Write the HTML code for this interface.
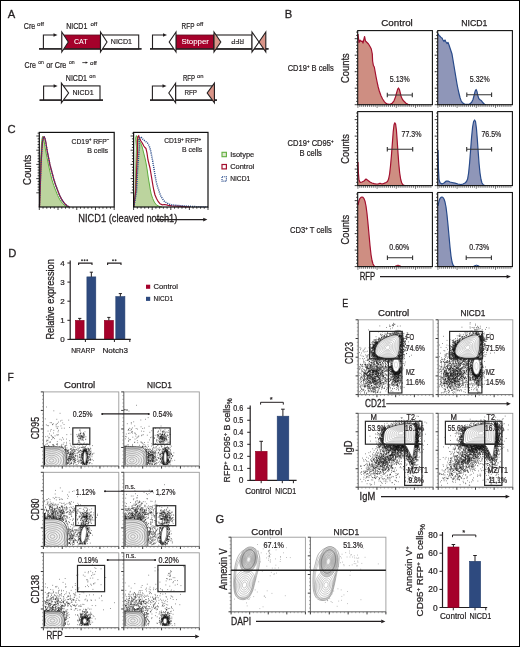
<!DOCTYPE html>
<html><head><meta charset="utf-8"><style>
html,body{margin:0;padding:0;background:#fff;}
svg{display:block;will-change:transform;}
text{font-family:"Liberation Sans",sans-serif;stroke-linejoin:round;}
</style></head><body>
<svg width="520" height="647" viewBox="0 0 520 647">
<rect width="520" height="647" fill="#fff"/>
<g fill="#231f20">
<rect x="0.5" y="0.5" width="519" height="646" fill="none" stroke="#000" stroke-width="1"/>
<text x="7.8" y="18" font-size="11.2" stroke="#231f20" stroke-width="0.29">A</text>
<text x="284.8" y="18" font-size="11.2" stroke="#231f20" stroke-width="0.29">B</text>
<text x="7.6" y="133.2" font-size="11.2" stroke="#231f20" stroke-width="0.29">C</text>
<text x="8.3" y="256.8" font-size="11.2" stroke="#231f20" stroke-width="0.29">D</text>
<text x="342.2" y="307" font-size="11.2" textLength="6" lengthAdjust="spacingAndGlyphs" stroke="#231f20" stroke-width="0.29">E</text>
<text x="7.4" y="380.9" font-size="11.2" textLength="6.3" lengthAdjust="spacingAndGlyphs" stroke="#231f20" stroke-width="0.29">F</text>
<text x="215.4" y="522.6" font-size="11.2" stroke="#231f20" stroke-width="0.29">G</text>
<text x="23.8" y="28.7" font-size="8.6" textLength="11.4" lengthAdjust="spacingAndGlyphs" stroke="#231f20" stroke-width="0.22">Cre</text>
<text x="37.1" y="25.6" font-size="6" textLength="6.8" lengthAdjust="spacingAndGlyphs" stroke="#231f20" stroke-width="0.16">off</text>
<text x="66.2" y="28.7" font-size="8.6" textLength="21.2" lengthAdjust="spacingAndGlyphs" stroke="#231f20" stroke-width="0.22">NICD1</text>
<text x="90.5" y="25.6" font-size="6" textLength="6.6" lengthAdjust="spacingAndGlyphs" stroke="#231f20" stroke-width="0.16">off</text>
<line x1="39" y1="48.9" x2="141.5" y2="48.9" stroke="#231f20" stroke-width="1.3"/>
<path d="M43.4 48.9V35H54.5" fill="none" stroke="#231f20" stroke-width="1.1"/>
<polygon points="57.5,35 53.5,33.3 53.5,36.7" fill="#231f20"/>
<rect x="62" y="35" width="38.5" height="13.9" fill="#a5012b" stroke="#5a1020" stroke-width="0.8"/>
<rect x="100.5" y="35" width="38.2" height="13.9" fill="#fff" stroke="#231f20" stroke-width="1.1"/>
<line x1="39" y1="48.9" x2="141.5" y2="48.9" stroke="#231f20" stroke-width="1.3"/>
<polygon points="61.8,32 68.3,42 61.8,52" fill="#fff" stroke="#231f20" stroke-width="1.1" stroke-linejoin="miter"/>
<polygon points="100.5,32 107,42 100.5,52" fill="#fff" stroke="#231f20" stroke-width="1.1" stroke-linejoin="miter"/>
<text x="80.8" y="44.4" font-size="7.8" text-anchor="middle" textLength="13.6" lengthAdjust="spacingAndGlyphs" fill="#fff" stroke="#fff" stroke-width="0.1">CAT</text>
<text x="110.8" y="44.4" font-size="7.8" textLength="21.2" lengthAdjust="spacingAndGlyphs" stroke="#231f20" stroke-width="0.2">NICD1</text>
<text x="181.6" y="28.6" font-size="8.6" textLength="12.8" lengthAdjust="spacingAndGlyphs" stroke="#231f20" stroke-width="0.22">RFP</text>
<text x="196.6" y="25.6" font-size="6" textLength="6.6" lengthAdjust="spacingAndGlyphs" stroke="#231f20" stroke-width="0.16">off</text>
<line x1="150" y1="48.9" x2="268.5" y2="48.9" stroke="#231f20" stroke-width="1.3"/>
<path d="M152.5 48.9V35H164" fill="none" stroke="#231f20" stroke-width="1.1"/>
<polygon points="167,35 163,33.3 163,36.7" fill="#231f20"/>
<rect x="176" y="35" width="38" height="13.9" fill="#a5012b" stroke="#5a1020" stroke-width="0.8"/>
<rect x="214" y="35" width="38" height="13.9" fill="#fff" stroke="#231f20" stroke-width="1.1"/>
<line x1="150" y1="48.9" x2="268.5" y2="48.9" stroke="#231f20" stroke-width="1.3"/>
<polygon points="176,32 169.2,42 176,52" fill="#fff" stroke="#231f20" stroke-width="1.1"/>
<polygon points="214,32 220.8,42 214,52" fill="#d99488" stroke="#231f20" stroke-width="1.1" stroke-linejoin="miter"/>
<text x="195.2" y="44.4" font-size="7.8" text-anchor="middle" textLength="27.6" lengthAdjust="spacingAndGlyphs" fill="#fff" stroke="#fff" stroke-width="0.1">Stopper</text>
<text transform="translate(237.6 39.4) rotate(180)" font-size="7.8" text-anchor="middle" textLength="12.8" lengthAdjust="spacingAndGlyphs" stroke="#231f20" stroke-width="0.2">RFP</text>
<polygon points="252,32 259,42 252,52" fill="#fff" stroke="#231f20" stroke-width="1.1"/>
<polygon points="265.8,32 259,42 265.8,52" fill="#d99488" stroke="#231f20" stroke-width="1.1"/>
<text x="24.6" y="68" font-size="8.6" textLength="11.4" lengthAdjust="spacingAndGlyphs" stroke="#231f20" stroke-width="0.22">Cre</text>
<text x="38.2" y="64.3" font-size="6" textLength="5.6" lengthAdjust="spacingAndGlyphs" stroke="#231f20" stroke-width="0.16">on</text>
<text x="46.2" y="68" font-size="8.6" textLength="20.2" lengthAdjust="spacingAndGlyphs" stroke="#231f20" stroke-width="0.22">or Cre</text>
<text x="68.9" y="64.3" font-size="6" textLength="5.7" lengthAdjust="spacingAndGlyphs" stroke="#231f20" stroke-width="0.16">on</text>
<line x1="82.3" y1="62.6" x2="86.2" y2="62.6" stroke="#231f20" stroke-width="0.8"/>
<polygon points="88,62.6 85.6,61.4 85.6,63.8" fill="#231f20"/>
<text x="90" y="64.5" font-size="6" textLength="6.8" lengthAdjust="spacingAndGlyphs" stroke="#231f20" stroke-width="0.16">off</text>
<text x="65.8" y="80.5" font-size="8.6" textLength="21.2" lengthAdjust="spacingAndGlyphs" stroke="#231f20" stroke-width="0.22">NICD1</text>
<text x="89.3" y="77.5" font-size="6" textLength="6.3" lengthAdjust="spacingAndGlyphs" stroke="#231f20" stroke-width="0.16">on</text>
<line x1="39.6" y1="100.1" x2="103" y2="100.1" stroke="#231f20" stroke-width="1.3"/>
<path d="M43.6 100.1V86H54.6" fill="none" stroke="#231f20" stroke-width="1.1"/>
<polygon points="57.6,86 53.6,84.3 53.6,87.7" fill="#231f20"/>
<rect x="61.6" y="85.9" width="38.4" height="14.2" fill="#fff" stroke="#231f20" stroke-width="1.1"/>
<line x1="39.6" y1="100.1" x2="103" y2="100.1" stroke="#231f20" stroke-width="1.3"/>
<polygon points="61.4,83.2 68.6,93 61.4,102.8" fill="#fff" stroke="#231f20" stroke-width="1.1" stroke-linejoin="miter"/>
<text x="72.4" y="95.3" font-size="7.8" textLength="21.2" lengthAdjust="spacingAndGlyphs" stroke="#231f20" stroke-width="0.2">NICD1</text>
<text x="182.9" y="80.6" font-size="8.6" textLength="12.1" lengthAdjust="spacingAndGlyphs" stroke="#231f20" stroke-width="0.22">RFP</text>
<text x="197" y="77.5" font-size="6" textLength="6.5" lengthAdjust="spacingAndGlyphs" stroke="#231f20" stroke-width="0.16">on</text>
<line x1="150" y1="100.1" x2="217" y2="100.1" stroke="#231f20" stroke-width="1.3"/>
<path d="M152.4 100.1V86H163.5" fill="none" stroke="#231f20" stroke-width="1.1"/>
<polygon points="166.5,86 162.5,84.3 162.5,87.7" fill="#231f20"/>
<rect x="175.6" y="85.9" width="38.8" height="14.2" fill="#fff" stroke="#231f20" stroke-width="1.1"/>
<line x1="150" y1="100.1" x2="217" y2="100.1" stroke="#231f20" stroke-width="1.3"/>
<polygon points="175.6,83.2 168.8,93 175.6,102.8" fill="#fff" stroke="#231f20" stroke-width="1.1"/>
<polygon points="214.4,83.2 207.2,93 214.4,102.8" fill="#d99488" stroke="#231f20" stroke-width="1.1"/>
<text x="184.4" y="95.3" font-size="7.8" textLength="12.6" lengthAdjust="spacingAndGlyphs" stroke="#231f20" stroke-width="0.2">RFP</text>
<text x="381.2" y="26.3" font-size="9.6" textLength="31.6" lengthAdjust="spacingAndGlyphs" stroke="#231f20" stroke-width="0.25">Control</text>
<text x="461.2" y="26.3" font-size="9.6" textLength="26.2" lengthAdjust="spacingAndGlyphs" stroke="#231f20" stroke-width="0.25">NICD1</text>
<path d="M358 34 L359 42.5 L360 40 L361 41.5 L362 41 L363 43 L364.6 36.5 L365.5 41 L367 42.5 L368.5 44 L370 46.5 L371.3 49 L372.3 54 L372.6 61 L373.4 65.5 L374.3 67 L375.2 72 L376.1 77 L377.1 82 L378.2 87 L379.3 91 L380.9 95.5 L382.6 99 L384.5 101.8 L386 103.4 L388 104.2 L390 104.3 L392 103.4 L394 100.8 L395.5 97 L396.7 92.5 L397.7 89.2 L398.5 88 L399.4 89.5 L400.3 93 L401.2 96.8 L402.5 99.5 L404 101.3 L406 103.2 L408 104.3 L410 104.7 L410 104.7 L358 104.7 Z" fill="#ce8e82"/>
<path d="M358 34 L359 42.5 L360 40 L361 41.5 L362 41 L363 43 L364.6 36.5 L365.5 41 L367 42.5 L368.5 44 L370 46.5 L371.3 49 L372.3 54 L372.6 61 L373.4 65.5 L374.3 67 L375.2 72 L376.1 77 L377.1 82 L378.2 87 L379.3 91 L380.9 95.5 L382.6 99 L384.5 101.8 L386 103.4 L388 104.2 L390 104.3 L392 103.4 L394 100.8 L395.5 97 L396.7 92.5 L397.7 89.2 L398.5 88 L399.4 89.5 L400.3 93 L401.2 96.8 L402.5 99.5 L404 101.3 L406 103.2 L408 104.3 L410 104.7" fill="none" stroke="#a3102f" stroke-width="1.2" stroke-linejoin="round"/>
<path d="M358 162 L358.4 173 L359 180 L360 182.3 L362 182 L364 181 L366 179 L368 180.5 L370 182 L372 183 L374 183.6 L376 184 L378 184 L380 183.2 L382 184 L384 183.4 L386 182.5 L387.5 181.5 L388.6 179 L389.6 174 L390.5 166 L391.4 156 L392.3 144 L393.2 132 L394 125 L394.8 122.8 L395.6 124 L396.4 130 L397.2 141 L398 153 L398.8 164 L399.7 173 L400.7 179.5 L401.8 183 L403 184.8 L404.5 185.6 L404.5 185.6 L358 185.6 Z" fill="#ce8e82"/>
<path d="M358 162 L358.4 173 L359 180 L360 182.3 L362 182 L364 181 L366 179 L368 180.5 L370 182 L372 183 L374 183.6 L376 184 L378 184 L380 183.2 L382 184 L384 183.4 L386 182.5 L387.5 181.5 L388.6 179 L389.6 174 L390.5 166 L391.4 156 L392.3 144 L393.2 132 L394 125 L394.8 122.8 L395.6 124 L396.4 130 L397.2 141 L398 153 L398.8 164 L399.7 173 L400.7 179.5 L401.8 183 L403 184.8 L404.5 185.6" fill="none" stroke="#a3102f" stroke-width="1.2" stroke-linejoin="round"/>
<path d="M358 205 L359 200.5 L360 198.3 L361 197.3 L362 197 L363 197.4 L364 198.6 L365 201.2 L366 206 L367 213.5 L368 223.5 L369 234.5 L370 245.5 L371 254.5 L372 260.5 L373 264 L374 265.8 L375 266.6 L375 266.6 L358 266.6 Z" fill="#ce8e82"/>
<path d="M358 205 L359 200.5 L360 198.3 L361 197.3 L362 197 L363 197.4 L364 198.6 L365 201.2 L366 206 L367 213.5 L368 223.5 L369 234.5 L370 245.5 L371 254.5 L372 260.5 L373 264 L374 265.8 L375 266.6" fill="none" stroke="#a3102f" stroke-width="1.2" stroke-linejoin="round"/>
<path d="M438 33.5 L439 35.5 L440 36.2 L441 37.5 L442 38 L443 40 L444 41.5 L445 40 L446 42 L447 43.5 L448 42.5 L449 45 L450 48 L451 51 L452 54 L453 60 L454 66 L455 72 L456 78 L457 84 L458 89 L459 93.5 L460 97.5 L461 100.5 L462.5 102.8 L464.5 104 L467 104.4 L469.5 104 L471.5 102.5 L473 99.5 L474.2 95 L475.2 91 L476.1 89.5 L477 91.5 L477.8 95.5 L478.8 98.5 L480 99.8 L481.5 100.8 L483 102.8 L484.5 104.2 L486 104.7 L486 104.7 L438 104.7 Z" fill="#8f96b8"/>
<path d="M438 33.5 L439 35.5 L440 36.2 L441 37.5 L442 38 L443 40 L444 41.5 L445 40 L446 42 L447 43.5 L448 42.5 L449 45 L450 48 L451 51 L452 54 L453 60 L454 66 L455 72 L456 78 L457 84 L458 89 L459 93.5 L460 97.5 L461 100.5 L462.5 102.8 L464.5 104 L467 104.4 L469.5 104 L471.5 102.5 L473 99.5 L474.2 95 L475.2 91 L476.1 89.5 L477 91.5 L477.8 95.5 L478.8 98.5 L480 99.8 L481.5 100.8 L483 102.8 L484.5 104.2 L486 104.7" fill="none" stroke="#284a8a" stroke-width="1.2" stroke-linejoin="round"/>
<path d="M438 150 L438.4 168 L439 179.5 L440 182.7 L442 184 L444 183 L446 181.2 L448 181 L450 182 L452 182.5 L455 183.2 L458 184 L461 184.5 L463 184 L465 183 L466.5 181.5 L467.6 179 L468.6 173 L469.6 163 L470.6 150 L471.6 137 L472.6 127 L473.6 121.5 L474.6 120 L475.5 121.5 L476.4 128 L477.3 139 L478.2 152 L479.1 164 L480 173 L481 179.5 L482 183 L483.5 185 L485 185.6 L485 185.6 L438 185.6 Z" fill="#8f96b8"/>
<path d="M438 150 L438.4 168 L439 179.5 L440 182.7 L442 184 L444 183 L446 181.2 L448 181 L450 182 L452 182.5 L455 183.2 L458 184 L461 184.5 L463 184 L465 183 L466.5 181.5 L467.6 179 L468.6 173 L469.6 163 L470.6 150 L471.6 137 L472.6 127 L473.6 121.5 L474.6 120 L475.5 121.5 L476.4 128 L477.3 139 L478.2 152 L479.1 164 L480 173 L481 179.5 L482 183 L483.5 185 L485 185.6" fill="none" stroke="#284a8a" stroke-width="1.2" stroke-linejoin="round"/>
<path d="M438 206 L439 201 L440 198.5 L441 197.4 L442 197 L443 197.5 L444 199 L445 202 L446 207 L447 215 L448 225 L449 236 L450 247 L451 256 L452 262 L453 265 L454 266.2 L455 266.6 L455 266.6 L438 266.6 Z" fill="#8f96b8"/>
<path d="M438 206 L439 201 L440 198.5 L441 197.4 L442 197 L443 197.5 L444 199 L445 202 L446 207 L447 215 L448 225 L449 236 L450 247 L451 256 L452 262 L453 265 L454 266.2 L455 266.6" fill="none" stroke="#284a8a" stroke-width="1.2" stroke-linejoin="round"/>
<path d="M394.5 266.6 L396.5 265.6 L398 265.2 L399.5 265.6 L401.5 266.6 L401.5 266.6 L394.5 266.6 Z" fill="#ce8e82"/>
<path d="M394.5 266.6 L396.5 265.6 L398 265.2 L399.5 265.6 L401.5 266.6" fill="none" stroke="#a3102f" stroke-width="1" stroke-linejoin="round"/>
<path d="M473 266.6 L475 265.6 L476.5 265.2 L478 265.6 L480 266.6 L480 266.6 L473 266.6 Z" fill="#8f96b8"/>
<path d="M473 266.6 L475 265.6 L476.5 265.2 L478 265.6 L480 266.6" fill="none" stroke="#284a8a" stroke-width="1" stroke-linejoin="round"/>
<rect x="357.7" y="30.6" width="74.7" height="74.1" fill="none" stroke="#111" stroke-width="1.1"/>
<path d="M357.7 104.7h-3M357.7 101.4h-1.6M357.7 98.1h-1.6M357.7 94.8h-1.6M357.7 91.5h-1.6M357.7 88.2h-3M357.7 84.9h-1.6M357.7 81.6h-1.6M357.7 78.3h-1.6M357.7 75h-1.6M357.7 71.7h-3M357.7 68.4h-1.6M357.7 65.1h-1.6M357.7 61.8h-1.6M357.7 58.5h-1.6M357.7 55.2h-3M357.7 51.9h-1.6M357.7 48.6h-1.6M357.7 45.3h-1.6M357.7 42h-1.6M357.7 38.7h-3M357.7 35.4h-1.6M357.7 32.1h-1.6" fill="none" stroke="#111" stroke-width="0.8"/>
<path d="M357.9 104.7v3.2M359.82 104.7v2.2M361.74 104.7v2.2M363.66 104.7v2.2M365.58 104.7v2.2M367.5 104.7v2.2M369.42 104.7v2.2M371.34 104.7v2.2M373.26 104.7v2.2M375.18 104.7v2.2M377.1 104.7v3.2M379.02 104.7v2.2M380.94 104.7v2.2M382.86 104.7v2.2M384.78 104.7v2.2M386.7 104.7v2.2M388.62 104.7v2.2M390.54 104.7v2.2M392.46 104.7v2.2M394.38 104.7v2.2M396.3 104.7v3.2M398.22 104.7v2.2M400.14 104.7v2.2M402.06 104.7v2.2M403.98 104.7v2.2M405.9 104.7v2.2M407.82 104.7v2.2M409.74 104.7v2.2M411.66 104.7v2.2M413.58 104.7v2.2M415.5 104.7v3.2M417.42 104.7v2.2M419.34 104.7v2.2M421.26 104.7v2.2M423.18 104.7v2.2M425.1 104.7v2.2M427.02 104.7v2.2M428.94 104.7v2.2M430.86 104.7v2.2" fill="none" stroke="#1a1a1a" stroke-width="0.6"/>
<rect x="357.7" y="111.6" width="74.7" height="74" fill="none" stroke="#111" stroke-width="1.1"/>
<path d="M357.7 185.6h-3M357.7 182.3h-1.6M357.7 179h-1.6M357.7 175.7h-1.6M357.7 172.4h-1.6M357.7 169.1h-3M357.7 165.8h-1.6M357.7 162.5h-1.6M357.7 159.2h-1.6M357.7 155.9h-1.6M357.7 152.6h-3M357.7 149.3h-1.6M357.7 146h-1.6M357.7 142.7h-1.6M357.7 139.4h-1.6M357.7 136.1h-3M357.7 132.8h-1.6M357.7 129.5h-1.6M357.7 126.2h-1.6M357.7 122.9h-1.6M357.7 119.6h-3M357.7 116.3h-1.6M357.7 113h-1.6" fill="none" stroke="#111" stroke-width="0.8"/>
<path d="M357.9 185.6v3.2M359.82 185.6v2.2M361.74 185.6v2.2M363.66 185.6v2.2M365.58 185.6v2.2M367.5 185.6v2.2M369.42 185.6v2.2M371.34 185.6v2.2M373.26 185.6v2.2M375.18 185.6v2.2M377.1 185.6v3.2M379.02 185.6v2.2M380.94 185.6v2.2M382.86 185.6v2.2M384.78 185.6v2.2M386.7 185.6v2.2M388.62 185.6v2.2M390.54 185.6v2.2M392.46 185.6v2.2M394.38 185.6v2.2M396.3 185.6v3.2M398.22 185.6v2.2M400.14 185.6v2.2M402.06 185.6v2.2M403.98 185.6v2.2M405.9 185.6v2.2M407.82 185.6v2.2M409.74 185.6v2.2M411.66 185.6v2.2M413.58 185.6v2.2M415.5 185.6v3.2M417.42 185.6v2.2M419.34 185.6v2.2M421.26 185.6v2.2M423.18 185.6v2.2M425.1 185.6v2.2M427.02 185.6v2.2M428.94 185.6v2.2M430.86 185.6v2.2" fill="none" stroke="#1a1a1a" stroke-width="0.6"/>
<rect x="357.7" y="192.5" width="74.7" height="74.1" fill="none" stroke="#111" stroke-width="1.1"/>
<path d="M357.7 266.6h-3M357.7 263.3h-1.6M357.7 260h-1.6M357.7 256.7h-1.6M357.7 253.4h-1.6M357.7 250.1h-3M357.7 246.8h-1.6M357.7 243.5h-1.6M357.7 240.2h-1.6M357.7 236.9h-1.6M357.7 233.6h-3M357.7 230.3h-1.6M357.7 227h-1.6M357.7 223.7h-1.6M357.7 220.4h-1.6M357.7 217.1h-3M357.7 213.8h-1.6M357.7 210.5h-1.6M357.7 207.2h-1.6M357.7 203.9h-1.6M357.7 200.6h-3M357.7 197.3h-1.6M357.7 194h-1.6" fill="none" stroke="#111" stroke-width="0.8"/>
<path d="M357.9 266.6v3.2M359.82 266.6v2.2M361.74 266.6v2.2M363.66 266.6v2.2M365.58 266.6v2.2M367.5 266.6v2.2M369.42 266.6v2.2M371.34 266.6v2.2M373.26 266.6v2.2M375.18 266.6v2.2M377.1 266.6v3.2M379.02 266.6v2.2M380.94 266.6v2.2M382.86 266.6v2.2M384.78 266.6v2.2M386.7 266.6v2.2M388.62 266.6v2.2M390.54 266.6v2.2M392.46 266.6v2.2M394.38 266.6v2.2M396.3 266.6v3.2M398.22 266.6v2.2M400.14 266.6v2.2M402.06 266.6v2.2M403.98 266.6v2.2M405.9 266.6v2.2M407.82 266.6v2.2M409.74 266.6v2.2M411.66 266.6v2.2M413.58 266.6v2.2M415.5 266.6v3.2M417.42 266.6v2.2M419.34 266.6v2.2M421.26 266.6v2.2M423.18 266.6v2.2M425.1 266.6v2.2M427.02 266.6v2.2M428.94 266.6v2.2M430.86 266.6v2.2" fill="none" stroke="#1a1a1a" stroke-width="0.6"/>
<rect x="437.7" y="30.6" width="74.7" height="74.1" fill="none" stroke="#111" stroke-width="1.1"/>
<path d="M437.7 104.7h-3M437.7 101.4h-1.6M437.7 98.1h-1.6M437.7 94.8h-1.6M437.7 91.5h-1.6M437.7 88.2h-3M437.7 84.9h-1.6M437.7 81.6h-1.6M437.7 78.3h-1.6M437.7 75h-1.6M437.7 71.7h-3M437.7 68.4h-1.6M437.7 65.1h-1.6M437.7 61.8h-1.6M437.7 58.5h-1.6M437.7 55.2h-3M437.7 51.9h-1.6M437.7 48.6h-1.6M437.7 45.3h-1.6M437.7 42h-1.6M437.7 38.7h-3M437.7 35.4h-1.6M437.7 32.1h-1.6" fill="none" stroke="#111" stroke-width="0.8"/>
<path d="M437.9 104.7v3.2M439.82 104.7v2.2M441.74 104.7v2.2M443.66 104.7v2.2M445.58 104.7v2.2M447.5 104.7v2.2M449.42 104.7v2.2M451.34 104.7v2.2M453.26 104.7v2.2M455.18 104.7v2.2M457.1 104.7v3.2M459.02 104.7v2.2M460.94 104.7v2.2M462.86 104.7v2.2M464.78 104.7v2.2M466.7 104.7v2.2M468.62 104.7v2.2M470.54 104.7v2.2M472.46 104.7v2.2M474.38 104.7v2.2M476.3 104.7v3.2M478.22 104.7v2.2M480.14 104.7v2.2M482.06 104.7v2.2M483.98 104.7v2.2M485.9 104.7v2.2M487.82 104.7v2.2M489.74 104.7v2.2M491.66 104.7v2.2M493.58 104.7v2.2M495.5 104.7v3.2M497.42 104.7v2.2M499.34 104.7v2.2M501.26 104.7v2.2M503.18 104.7v2.2M505.1 104.7v2.2M507.02 104.7v2.2M508.94 104.7v2.2M510.86 104.7v2.2" fill="none" stroke="#1a1a1a" stroke-width="0.6"/>
<rect x="437.7" y="111.6" width="74.7" height="74" fill="none" stroke="#111" stroke-width="1.1"/>
<path d="M437.7 185.6h-3M437.7 182.3h-1.6M437.7 179h-1.6M437.7 175.7h-1.6M437.7 172.4h-1.6M437.7 169.1h-3M437.7 165.8h-1.6M437.7 162.5h-1.6M437.7 159.2h-1.6M437.7 155.9h-1.6M437.7 152.6h-3M437.7 149.3h-1.6M437.7 146h-1.6M437.7 142.7h-1.6M437.7 139.4h-1.6M437.7 136.1h-3M437.7 132.8h-1.6M437.7 129.5h-1.6M437.7 126.2h-1.6M437.7 122.9h-1.6M437.7 119.6h-3M437.7 116.3h-1.6M437.7 113h-1.6" fill="none" stroke="#111" stroke-width="0.8"/>
<path d="M437.9 185.6v3.2M439.82 185.6v2.2M441.74 185.6v2.2M443.66 185.6v2.2M445.58 185.6v2.2M447.5 185.6v2.2M449.42 185.6v2.2M451.34 185.6v2.2M453.26 185.6v2.2M455.18 185.6v2.2M457.1 185.6v3.2M459.02 185.6v2.2M460.94 185.6v2.2M462.86 185.6v2.2M464.78 185.6v2.2M466.7 185.6v2.2M468.62 185.6v2.2M470.54 185.6v2.2M472.46 185.6v2.2M474.38 185.6v2.2M476.3 185.6v3.2M478.22 185.6v2.2M480.14 185.6v2.2M482.06 185.6v2.2M483.98 185.6v2.2M485.9 185.6v2.2M487.82 185.6v2.2M489.74 185.6v2.2M491.66 185.6v2.2M493.58 185.6v2.2M495.5 185.6v3.2M497.42 185.6v2.2M499.34 185.6v2.2M501.26 185.6v2.2M503.18 185.6v2.2M505.1 185.6v2.2M507.02 185.6v2.2M508.94 185.6v2.2M510.86 185.6v2.2" fill="none" stroke="#1a1a1a" stroke-width="0.6"/>
<rect x="437.7" y="192.5" width="74.7" height="74.1" fill="none" stroke="#111" stroke-width="1.1"/>
<path d="M437.7 266.6h-3M437.7 263.3h-1.6M437.7 260h-1.6M437.7 256.7h-1.6M437.7 253.4h-1.6M437.7 250.1h-3M437.7 246.8h-1.6M437.7 243.5h-1.6M437.7 240.2h-1.6M437.7 236.9h-1.6M437.7 233.6h-3M437.7 230.3h-1.6M437.7 227h-1.6M437.7 223.7h-1.6M437.7 220.4h-1.6M437.7 217.1h-3M437.7 213.8h-1.6M437.7 210.5h-1.6M437.7 207.2h-1.6M437.7 203.9h-1.6M437.7 200.6h-3M437.7 197.3h-1.6M437.7 194h-1.6" fill="none" stroke="#111" stroke-width="0.8"/>
<path d="M437.9 266.6v3.2M439.82 266.6v2.2M441.74 266.6v2.2M443.66 266.6v2.2M445.58 266.6v2.2M447.5 266.6v2.2M449.42 266.6v2.2M451.34 266.6v2.2M453.26 266.6v2.2M455.18 266.6v2.2M457.1 266.6v3.2M459.02 266.6v2.2M460.94 266.6v2.2M462.86 266.6v2.2M464.78 266.6v2.2M466.7 266.6v2.2M468.62 266.6v2.2M470.54 266.6v2.2M472.46 266.6v2.2M474.38 266.6v2.2M476.3 266.6v3.2M478.22 266.6v2.2M480.14 266.6v2.2M482.06 266.6v2.2M483.98 266.6v2.2M485.9 266.6v2.2M487.82 266.6v2.2M489.74 266.6v2.2M491.66 266.6v2.2M493.58 266.6v2.2M495.5 266.6v3.2M497.42 266.6v2.2M499.34 266.6v2.2M501.26 266.6v2.2M503.18 266.6v2.2M505.1 266.6v2.2M507.02 266.6v2.2M508.94 266.6v2.2M510.86 266.6v2.2" fill="none" stroke="#1a1a1a" stroke-width="0.6"/>
<path d="M387.3 95H412.3M387.3 92.8v4.4M412.3 92.8v4.4" fill="none" stroke="#333" stroke-width="1.1"/>
<text x="389.8" y="82.1" font-size="8.2" textLength="19.9" lengthAdjust="spacingAndGlyphs" stroke="#231f20" stroke-width="0.21">5.13%</text>
<path d="M466.8 94.8H491.6M466.8 92.6v4.4M491.6 92.6v4.4" fill="none" stroke="#333" stroke-width="1.1"/>
<text x="469.8" y="82.3" font-size="8.2" textLength="19.9" lengthAdjust="spacingAndGlyphs" stroke="#231f20" stroke-width="0.21">5.32%</text>
<path d="M387.3 149.2H412.7M387.3 147v4.4M412.7 147v4.4" fill="none" stroke="#333" stroke-width="1.1"/>
<text x="401.5" y="137.1" font-size="8.2" textLength="19.9" lengthAdjust="spacingAndGlyphs" stroke="#231f20" stroke-width="0.21">77.3%</text>
<path d="M466.7 149.3H491.6M466.7 147.1v4.4M491.6 147.1v4.4" fill="none" stroke="#333" stroke-width="1.1"/>
<text x="481.4" y="137.1" font-size="8.2" textLength="19.9" lengthAdjust="spacingAndGlyphs" stroke="#231f20" stroke-width="0.21">76.5%</text>
<path d="M387.4 257.8H412.6M387.4 255.6v4.4M412.6 255.6v4.4" fill="none" stroke="#333" stroke-width="1.1"/>
<text x="389.3" y="249.6" font-size="8.2" textLength="19.9" lengthAdjust="spacingAndGlyphs" stroke="#231f20" stroke-width="0.21">0.60%</text>
<path d="M466.2 257.8H491.4M466.2 255.6v4.4M491.4 255.6v4.4" fill="none" stroke="#333" stroke-width="1.1"/>
<text x="469.3" y="249.6" font-size="8.2" textLength="19.9" lengthAdjust="spacingAndGlyphs" stroke="#231f20" stroke-width="0.21">0.73%</text>
<text x="287.7" y="70.7" font-size="8.6" textLength="46" lengthAdjust="spacingAndGlyphs" stroke="#231f20" stroke-width="0.22">CD19<tspan dy="-3" font-size="5">+</tspan><tspan dy="3"> B cells</tspan></text>
<text x="287.6" y="146.2" font-size="8.6" textLength="46" lengthAdjust="spacingAndGlyphs" stroke="#231f20" stroke-width="0.22">CD19<tspan dy="-3" font-size="5">+</tspan><tspan dy="3"> CD95</tspan><tspan dy="-3" font-size="5">+</tspan></text>
<text x="299.6" y="156.4" font-size="8.6" textLength="22.3" lengthAdjust="spacingAndGlyphs" stroke="#231f20" stroke-width="0.22">B cells</text>
<text x="290" y="232.6" font-size="8.6" textLength="41.8" lengthAdjust="spacingAndGlyphs" stroke="#231f20" stroke-width="0.22">CD3<tspan dy="-3" font-size="5">+</tspan><tspan dy="3"> T cells</tspan></text>
<text transform="translate(349.4 68.1) rotate(-90)" font-size="10.4" text-anchor="middle" textLength="29.6" lengthAdjust="spacingAndGlyphs" stroke="#231f20" stroke-width="0.27">Counts</text>
<text transform="translate(349.4 148.95) rotate(-90)" font-size="10.4" text-anchor="middle" textLength="29.6" lengthAdjust="spacingAndGlyphs" stroke="#231f20" stroke-width="0.27">Counts</text>
<text transform="translate(349.4 229.7) rotate(-90)" font-size="10.4" text-anchor="middle" textLength="29.6" lengthAdjust="spacingAndGlyphs" stroke="#231f20" stroke-width="0.27">Counts</text>
<text x="359.7" y="279.8" font-size="10.2" textLength="15.6" lengthAdjust="spacingAndGlyphs" stroke="#231f20" stroke-width="0.27">RFP</text>
<line x1="380" y1="276.6" x2="507" y2="276.6" stroke="#231f20" stroke-width="1.1"/>
<polygon points="510.8,276.6 506.64,274.65 506.64,278.55" fill="#231f20"/>
<path d="M39.5 207 L40 185 L40.7 160 L41.4 145 L42 138.5 L42.6 136.4 L43.3 137.3 L44.2 141.5 L45.5 150 L47 157.5 L48.5 165 L50.2 172.5 L52 180 L53.8 185.5 L55.5 190 L57.7 195.5 L60 200 L62.5 203.5 L65 205.8 L67.5 207Z" fill="#bcd49e"/>
<path d="M39.5 207 L40 185 L40.7 160 L41.4 145 L42 138.5 L42.6 136.4 L43.3 137.3 L44.2 141.5 L45.5 150 L47 157.5 L48.5 165 L50.2 172.5 L52 180 L53.8 185.5 L55.5 190 L57.7 195.5 L60 200 L62.5 203.5 L65 205.8 L67.5 207" fill="none" stroke="#5fae3e" stroke-width="1"/>
<path d="M39.5 207 L40.2 188 L41 165 L41.8 150 L42.6 141 L43.4 137.2 L44.1 136.8 L44.9 138.2 L45.8 142 L47 150 L48.5 157.5 L50 165 L52 172.5 L54 180 L55.8 185.5 L57.5 190 L59.7 195.5 L62 200 L64.5 203.5 L67 205.8 L69.5 207" fill="none" stroke="#a3102f" stroke-width="1.3"/>
<path d="M39.5 207 L40.2 188 L41 165 L41.8 150 L42.6 141 L43.4 137.2 L44.1 136.8 L44.9 138.2 L45.8 142 L47 150 L48.5 157.5 L50 165 L52 172.5 L54 180 L55.8 185.5 L57.5 190 L59.7 195.5 L62 200 L64.5 203.5 L67 205.8 L69.5 207" fill="none" stroke="#284a8a" stroke-width="1.3" stroke-dasharray="1 1.2"/>
<path d="M133.8 207 L135.4 190 L135.9 165 L136.4 148 L135.7 138 L136.4 135.6 L137.2 137 L138 139 L139.3 141 L140.53 142.5 L142.2 147 L143.2 151 L144.2 155 L145.2 159 L146.2 164 L147.2 170 L148.2 177 L149.2 183 L150.2 189 L151.2 194 L152.7 198.5 L154.3 202 L156.24 204.8 L159 206.3 L162 207Z" fill="#bcd49e"/>
<path d="M133.8 207 L135.4 190 L135.9 165 L136.4 148 L135.7 138 L136.4 135.6 L137.2 137 L138 139 L139.3 141 L140.53 142.5 L142.2 147 L143.2 151 L144.2 155 L145.2 159 L146.2 164 L147.2 170 L148.2 177 L149.2 183 L150.2 189 L151.2 194 L152.7 198.5 L154.3 202 L156.24 204.8 L159 206.3 L162 207" fill="none" stroke="#5fae3e" stroke-width="1"/>
<path d="M133.8 207 L135.9 190 L136.7 168 L137.5 152 L137.38 141 L138 136.5 L138.7 135.8 L139.5 138 L140.88 141 L142.25 143 L143.81 146 L145 147.5 L146 148.5 L147 153 L148 160 L149 164 L150 168 L151 174 L152 180 L153 186 L154 191 L155 195 L156.5 198.5 L158.12 201.5 L160.05 203.8 L162.3 204.8 L164.38 204.5 L166.3 204.8 L168.15 205.4 L172.05 205.8 L178 206.2 L184 206.6 L190 207" fill="none" stroke="#a3102f" stroke-width="1.2"/>
<path d="M133.8 207 L136.5 192 L137.5 172 L138.5 157 L139.5 147 L139 141 L139.5 138 L140.5 137 L141.5 137.5 L143.12 139.5 L145.62 141.5 L147.5 143 L149.25 146 L150.5 150 L151.5 155 L152.5 160 L153.5 166 L154.5 172 L155.5 178 L156.5 183 L158 188 L159.5 192.5 L161 196.5 L163 199.5 L164.5 201.5 L166.17 202.5 L167.83 203.5 L169.57 204.3 L172.33 205 L176.23 205.3 L180.13 205.6 L185 206 L190 206.3 L196 206.6 L202 206.8 L207.5 207" fill="none" stroke="#284a8a" stroke-width="1.45" stroke-dasharray="1.1 1"/>
<rect x="39.3" y="132.4" width="74.9" height="74.6" fill="none" stroke="#111" stroke-width="1.2"/>
<path d="M39.3 192.8h-3M39.3 189.96h-1.7M39.3 187.12h-1.7M39.3 184.28h-1.7M39.3 181.44h-1.7M39.3 178.6h-3M39.3 175.76h-1.7M39.3 172.92h-1.7M39.3 170.08h-1.7M39.3 167.24h-1.7M39.3 164.4h-3M39.3 161.56h-1.7M39.3 158.72h-1.7M39.3 155.88h-1.7M39.3 153.04h-1.7M39.3 150.2h-3M39.3 147.36h-1.7M39.3 144.52h-1.7M39.3 141.68h-1.7M39.3 138.84h-1.7M39.3 136h-3M39.3 133.16h-1.7" fill="none" stroke="#111" stroke-width="0.8"/>
<path d="M39.3 207v3M43.04 207v1.7M46.79 207v1.7M50.53 207v1.7M54.28 207v1.7M58.02 207v3M61.77 207v1.7M65.52 207v1.7M69.26 207v1.7M73 207v1.7M76.75 207v3M80.5 207v1.7M84.24 207v1.7M87.98 207v1.7M91.73 207v1.7M95.47 207v3M99.22 207v1.7M102.96 207v1.7M106.71 207v1.7M110.45 207v1.7M114.2 207v3" fill="none" stroke="#111" stroke-width="0.8"/>
<rect x="133.6" y="132.4" width="74.4" height="74.6" fill="none" stroke="#111" stroke-width="1.2"/>
<path d="M133.6 192.8h-3M133.6 189.96h-1.7M133.6 187.12h-1.7M133.6 184.28h-1.7M133.6 181.44h-1.7M133.6 178.6h-3M133.6 175.76h-1.7M133.6 172.92h-1.7M133.6 170.08h-1.7M133.6 167.24h-1.7M133.6 164.4h-3M133.6 161.56h-1.7M133.6 158.72h-1.7M133.6 155.88h-1.7M133.6 153.04h-1.7M133.6 150.2h-3M133.6 147.36h-1.7M133.6 144.52h-1.7M133.6 141.68h-1.7M133.6 138.84h-1.7M133.6 136h-3M133.6 133.16h-1.7" fill="none" stroke="#111" stroke-width="0.8"/>
<path d="M133.6 207v3M137.32 207v1.7M141.04 207v1.7M144.76 207v1.7M148.48 207v1.7M152.2 207v3M155.92 207v1.7M159.64 207v1.7M163.36 207v1.7M167.08 207v1.7M170.8 207v3M174.52 207v1.7M178.24 207v1.7M181.96 207v1.7M185.68 207v1.7M189.4 207v3M193.12 207v1.7M196.84 207v1.7M200.56 207v1.7M204.28 207v1.7M208 207v3" fill="none" stroke="#111" stroke-width="0.8"/>
<text transform="translate(31.3 169.8) rotate(-90)" font-size="10.4" text-anchor="middle" textLength="30.2" lengthAdjust="spacingAndGlyphs" stroke="#231f20" stroke-width="0.27">Counts</text>
<text x="71.6" y="143.6" font-size="7.6" textLength="37.4" lengthAdjust="spacingAndGlyphs" stroke="#231f20" stroke-width="0.2">CD19<tspan dy="-2.8" font-size="4.6">+</tspan><tspan dy="2.8"> RFP</tspan><tspan dy="-2.8" font-size="4.6">&#8211;</tspan></text>
<text x="87.2" y="152.6" font-size="7.6" textLength="20.8" lengthAdjust="spacingAndGlyphs" stroke="#231f20" stroke-width="0.2">B cells</text>
<text x="164.2" y="143.3" font-size="7.6" textLength="36.8" lengthAdjust="spacingAndGlyphs" stroke="#231f20" stroke-width="0.2">CD19<tspan dy="-2.8" font-size="4.6">+</tspan><tspan dy="2.8"> RFP</tspan><tspan dy="-2.8" font-size="4.6">+</tspan></text>
<text x="182" y="152.2" font-size="7.6" textLength="20.2" lengthAdjust="spacingAndGlyphs" stroke="#231f20" stroke-width="0.2">B cells</text>
<text x="78.2" y="222.2" font-size="10" textLength="99.2" lengthAdjust="spacingAndGlyphs" stroke="#231f20" stroke-width="0.26">NICD1 (cleaved notch1)</text>
<line x1="156" y1="219.6" x2="204" y2="219.6" stroke="#231f20" stroke-width="1.1"/>
<polygon points="207.4,219.6 203.24,217.65 203.24,221.55" fill="#231f20"/>
<rect x="222" y="152.3" width="4.4" height="4.4" fill="#dfe9cf" stroke="#5fae3e" stroke-width="1.1"/>
<rect x="222" y="164.5" width="4.4" height="4.4" fill="#fff" stroke="#a3102f" stroke-width="1.2"/>
<rect x="222" y="176.7" width="4.4" height="4.4" fill="#fff" stroke="#284a8a" stroke-width="1.1" stroke-dasharray="1 0.8"/>
<text x="230.2" y="157" font-size="7.6" textLength="24" lengthAdjust="spacingAndGlyphs" stroke="#231f20" stroke-width="0.2">Isotype</text>
<text x="230.2" y="169.2" font-size="7.6" textLength="24" lengthAdjust="spacingAndGlyphs" stroke="#231f20" stroke-width="0.2">Control</text>
<text x="230.2" y="181.2" font-size="7.6" textLength="20" lengthAdjust="spacingAndGlyphs" stroke="#231f20" stroke-width="0.2">NICD1</text>
<rect x="75.4" y="320.4" width="8.7" height="19" fill="#a5012b" stroke="#8c0021" stroke-width="0.6"/>
<line x1="79.75" y1="320.4" x2="79.75" y2="318.4" stroke="#231f20" stroke-width="1"/>
<line x1="78.15" y1="318.4" x2="81.35" y2="318.4" stroke="#231f20" stroke-width="1"/>
<rect x="86.9" y="276.9" width="8.9" height="62.5" fill="#2e4a7f" stroke="#243f6e" stroke-width="0.6"/>
<line x1="91.35" y1="276.9" x2="91.35" y2="272.2" stroke="#231f20" stroke-width="1"/>
<line x1="89.75" y1="272.2" x2="92.95" y2="272.2" stroke="#231f20" stroke-width="1"/>
<rect x="104.3" y="320.4" width="9.1" height="19" fill="#a5012b" stroke="#8c0021" stroke-width="0.6"/>
<line x1="108.85" y1="320.4" x2="108.85" y2="317.4" stroke="#231f20" stroke-width="1"/>
<line x1="107.25" y1="317.4" x2="110.45" y2="317.4" stroke="#231f20" stroke-width="1"/>
<rect x="115.8" y="296.6" width="9.1" height="42.8" fill="#2e4a7f" stroke="#243f6e" stroke-width="0.6"/>
<line x1="120.35" y1="296.6" x2="120.35" y2="293.6" stroke="#231f20" stroke-width="1"/>
<line x1="118.75" y1="293.6" x2="121.95" y2="293.6" stroke="#231f20" stroke-width="1"/>
<line x1="70.2" y1="260.6" x2="70.2" y2="339.9" stroke="#231f20" stroke-width="1.2"/>
<line x1="69.7" y1="339.4" x2="130.8" y2="339.4" stroke="#231f20" stroke-width="1.2"/>
<path d="M70.2 339.4h-2.8M70.2 320.3h-2.8M70.2 301.2h-2.8M70.2 282.1h-2.8M70.2 263h-2.8M85.4 339.4v2.6M114.4 339.4v2.6M129.8 339.4v2.6" fill="none" stroke="#231f20" stroke-width="1"/>
<text x="64.8" y="342.3" font-size="8" text-anchor="end" stroke="#231f20" stroke-width="0.21">0</text>
<text x="64.8" y="323.2" font-size="8" text-anchor="end" stroke="#231f20" stroke-width="0.21">1</text>
<text x="64.8" y="304.1" font-size="8" text-anchor="end" stroke="#231f20" stroke-width="0.21">2</text>
<text x="64.8" y="285" font-size="8" text-anchor="end" stroke="#231f20" stroke-width="0.21">3</text>
<text x="64.8" y="265.9" font-size="8" text-anchor="end" stroke="#231f20" stroke-width="0.21">4</text>
<text transform="translate(54.2 299.4) rotate(-90)" font-size="10" text-anchor="middle" textLength="80.4" lengthAdjust="spacingAndGlyphs" stroke="#231f20" stroke-width="0.26">Relative expression</text>
<text x="71.2" y="353.2" font-size="8" textLength="23.8" lengthAdjust="spacingAndGlyphs" stroke="#231f20" stroke-width="0.21">NRARP</text>
<text x="102.5" y="353.2" font-size="8" textLength="25.6" lengthAdjust="spacingAndGlyphs" stroke="#231f20" stroke-width="0.21">Notch3</text>
<path d="M78.6 265.1V263.1H92V265.1" fill="none" stroke="#231f20" stroke-width="1.1"/>
<path d="M107.6 265.1V263.1H121V265.1" fill="none" stroke="#231f20" stroke-width="1.1"/>
<circle cx="82" cy="260.2" r=".95" fill="#333"/>
<circle cx="84.6" cy="260.2" r=".95" fill="#333"/>
<circle cx="87.2" cy="260.2" r=".95" fill="#333"/>
<circle cx="113" cy="260.2" r=".95" fill="#333"/>
<circle cx="115.6" cy="260.2" r=".95" fill="#333"/>
<rect x="146" y="284.7" width="4.2" height="4.1" fill="#a5012b"/>
<rect x="146" y="296.8" width="4.2" height="4.1" fill="#2e4a7f"/>
<text x="153.5" y="288.8" font-size="7.6" textLength="24.5" lengthAdjust="spacingAndGlyphs" stroke="#231f20" stroke-width="0.2">Control</text>
<text x="153.5" y="300.9" font-size="7.6" textLength="19.5" lengthAdjust="spacingAndGlyphs" stroke="#231f20" stroke-width="0.2">NICD1</text>
<path d="M393.2 323.3h.7m-.8 .8h.7m.4 .2h.7m-.3 0h.7m-6 .8h.7m2.2-.4h.7m0 .4h.7m-14.1 .8h.7m9 .5h.7m.4-.1h.7m.9-.8h.7m.2 .2h.7m-.2 .1h.7m3.4 .4h.7m1.8-.2h.7m-14.3 1.5h.7m5.1 .4h.7m-2.6 .9h.7m-22.6 1.1h.7m28.7 .4h.7m-11.5 1.2h.7m6.7-.2h.7m.5-.6h.7m-.6 .5h.7m.1 0h.7m-.5-.3h.7m.2-.1h.7m.5-.3h.7m-.5 .4h.7m.5-.1h.7m-22.8 1.1h.7m3.6 0h.7m4 .1h.7m4.7 .3h.7m1.7 0h.7m-.7 0h.7m-.6-.7h.7m-.3 .1h.7m.1 .4h.7m-.4 0h.7m-.7-.1h.7m.2-.3h.7m.2 .6h.7m2.4 0h.7m-17.3 1h.7m1.7-.3h.7m-.5 .1h.7m.5 .3h.7m1 0h.7m.5-.1h.7m1.5-.5h.7m-.7 .4h.7m-.2-.3h.7m-.6 .5h.7m-.6-.7h.7m.8 .2h.7m-.3 .3h.7m-.3-.3h.7m-.4-.1h.7m-.5 .2h.7m.6 .5h.7m-.4-.8h.7m.2 .7h.7m0-.6h.7m-.4 .7h.7m-.4-.1h.7m-.2-.2h.7m-.5 0h.7m1.2 .1h.7m2.6-.6h.7m0 .4h.7m-27.7 .9h.7m5.3 .1h.7m-.3-.5h.7m1.2 0h.7m-.6 .5h.7m-.1-.2h.7m-.2 .4h.7m-.4-.4h.7m.4 .3h.7m.1-.7h.7m-.6 .6h.7m0 .2h.7m-.6-.2h.7m-.3-.5h.7m1.1 .3h.7m-.6 .4h.7m-.6-.8h.7m-.6 .6h.7m-.5 .4h.7m-.4-.2h.7m.2-.1h.7m-.5-.1h.7m-.4-.4h.7m-.5 .5h.7m-.4-.7h.7m.1 .4h.7m-.4 .1h.7m.9 .1h.7m.2 0h.7m-.3-.5h.7m.8 .3h.7m3 .2h.7m-27.8 .5h.7m.2 .7h.7m.2-.8h.7m1.2 .9h.7m.3-.9h.7m1 .1h.7m-.4 .9h.7m1.7-.2h.7m.7-.8h.7m1.5 0h.7m.4 .1h.7m.1 .1h.7m-.6 0h.7m.1 0h.7m.2 .1h.7m.3 0h.7m.5 .3h.7m-.6-.3h.7m.1 .1h.7m-.4 .2h.7m-.1-.3h.7m-.3 .4h.7m-.5-.2h.7m.7 .2h.7m-22.4 .8h.7m.4 .3h.7m.3-.2h.7m.2 .2h.7m-.4-.5h.7m-.4 0h.7m-.7 .6h.7m.9-.6h.7m-.7 .2h.7m-.1 .5h.7m-.4-.3h.7m11-.6h.7m-.5 .1h.7m-.7 .2h.7m-.7 .5h.7m-.7-.5h.7m-.6 .5h.7m-.5-.4h.7m-.7-.4h.7m-.6 .8h.7m-.7-.9h.7m-.6 .5h.7m-.7 .4h.7m-.6-.1h.7m-.5-.2h.7m-.6-.6h.7m-.7 .7h.7m-.5-.5h.7m-.2 .1h.7m-.7 .2h.7m-.5 .1h.7m-.7-.3h.7m-.6 .3h.7m-.5 .3h.7m-.6-.5h.7m-.5 .5h.7m-.7 0h.7m-.5-.9h.7m-.6 .7h.7m.3-.6h.7m-.4 .3h.7m2.2 .4h.7m.3 0h.7m-31.7 .4h.7m6.3 .1h.7m.1 .3h.7m.3-.1h.7m-.6 .3h.7m-.6 0h.7m-.1-.5h.7m.2 .1h.7m-.4 0h.7m12.1 .2h.7m-.3-.4h.7m-.7 .2h.7m.3-.2h.7m-.5 .3h.7m-.5 0h.7m-.6-.4h.7m-.6 .3h.7m-.2 .5h.7m.3-.5h.7m1.5-.4h.7m-27.7 1.5h.7m.3-.1h.7m1.3 .4h.7m-.6-.8h.7m-.6 0h.7m-.3 .4h.7m-.7-.3h.7m.4 .5h.7m-.5-.3h.7m.1 .4h.7m15.4-.4h.7m-.6 .5h.7m-.6-.4h.7m-.4-.1h.7m-.6-.2h.7m-.4 .8h.7m-.6-.5h.7m-.6 .3h.7m-.6-.4h.7m.5 .6h.7m-.4-.2h.7m-.6 .3h.7m-.4-.2h.7m-.6-.7h.7m1.1 .4h.7m-.2 .5h.7m-29.8 .7h.7m1.2 .2h.7m-.6-.1h.7m-.5-.4h.7m0-.4h.7m-.6 .9h.7m-.5-.4h.7m-.3-.3h.7m-.2 .7h.7m-.6-.4h.7m.2 .1h.7m.2 .1h.7m-.1-.5h.7m16.6 .4h.7m.4 .1h.7m-.7-.1h.7m-.5 .1h.7m-.7 0h.7m-.7-.1h.7m-.3 .1h.7m-.3-.1h.7m-.4-.4h.7m-.5 .6h.7m-.7-.3h.7m-.6 .2h.7m-.7 .1h.7m0-.5h.7m-.6 .1h.7m-.2-.4h.7m1.3 .5h.7m-33.1 .6h.7m.2 0h.7m0 .1h.7m-.2 .3h.7m.8-.3h.7m.1 .3h.7m.9 .4h.7m-.4 0h.7m-.5-.7h.7m.4 .2h.7m18.1 .2h.7m-.6-.4h.7m.1-.2h.7m-.6 .1h.7m-.7 .9h.7m-.3-1h.7m-.6 .1h.7m-.5-.1h.7m-.6 .3h.7m-.5 0h.7m-.6 0h.7m0-.2h.7m-.3 .9h.7m-.6 0h.7m-31.2 .5h.7m.6-.4h.7m.3 0h.7m-.1 .5h.7m-.3 .1h.7m1.5 .1h.7m-.6-.8h.7m-.6 .5h.7m.3-.2h.7m-.6-.1h.7m-.5-.1h.7m19.6 .8h.7m-.4-.2h.7m-.3-.6h.7m-.7 .2h.7m-.7 .5h.7m-.6-.6h.7m-.5 .6h.7m-.6-.2h.7m-.2-.3h.7m-.4 .3h.7m-.5-.4h.7m-.5 .1h.7m-.3 .7h.7m-.6-.1h.7m.4-.3h.7m.1-.4h.7m-.5 .5h.7m-.7 .2h.7m-33.8 .4h.7m0 0h.7m-.4 .2h.7m0 .4h.7m-.5 0h.7m-.6-.4h.7m.3 .1h.7m-.6 .1h.7m-.5-.3h.7m-.4 0h.7m-.6-.1h.7m-.5 .7h.7m-.1 0h.7m-.7-.5h.7m-.5-.1h.7m-.1-.1h.7m-.7 .3h.7m-.7 .2h.7m-.3-.3h.7m-.1-.1h.7m-.2-.4h.7m-.6 .5h.7m-.7-.3h.7m20.5 .8h.7m-.3-.1h.7m-.5-.3h.7m-.7 .3h.7m-.6-.2h.7m-.2-.5h.7m-.5 .4h.7m-.6-.1h.7m-.6-.2h.7m-.3-.2h.7m-.7 .8h.7m-.6-.7h.7m-.6 .5h.7m-.3-.6h.7m-.3 .3h.7m0-.2h.7m-.6 .1h.7m-.3 .6h.7m-.4-.1h.7m2.8-.4h.7m-37.3 .7h.7m0 .5h.7m1.4-.4h.7m-.3 .7h.7m-.7-.3h.7m-.4 .3h.7m-.7-.8h.7m-.4 .2h.7m.2 .6h.7m-.7 0h.7m-.6-.3h.7m-.7-.2h.7m-.6 .5h.7m-.6-.8h.7m-.6 .4h.7m-.5 .2h.7m-.6 .2h.7m-.7-.7h.7m-.7-.1h.7m-.6 .5h.7m-.1 0h.7m-.7-.5h.7m-.5 .4h.7m-.7 .3h.7m22-.3h.7m-.5 .4h.7m-.6 0h.7m-.6-.6h.7m-.7-.1h.7m-.1 0h.7m-.3 .3h.7m-.7-.1h.7m-.3-.1h.7m-.4 .6h.7m.1-.5h.7m.8 .2h.7m-35.5 1.4h.7m0-.2h.7m1.2-.5h.7m-.2 .6h.7m.7-.2h.7m-.6-.4h.7m-.6 0h.7m-.4 .3h.7m-.5 .1h.7m-.6-.2h.7m-.2 .4h.7m-.3-.9h.7m-.2 .2h.7m-.6 .3h.7m-.5-.5h.7m-.7 .2h.7m-.6-.1h.7m22.6 .9h.7m-.5-.8h.7m-.5 0h.7m-.5 .3h.7m-.6-.2h.7m-.3 0h.7m-.4 .5h.7m-.3-.4h.7m-.5 .5h.7m.2-.7h.7m-.7 .2h.7m-.5-.3h.7m.4 .9h.7m-.5 0h.7m-.7-.7h.7m-.6 .2h.7m-35.4 1h.7m1.1-.4h.7m-.1 .2h.7m-.3 .4h.7m-.6 .1h.7m-.6 .1h.7m-.6-.7h.7m-.1 .6h.7m-.6 0h.7m-.7-.4h.7m-.4 .5h.7m-.7-.8h.7m-.6 .7h.7m-.5 .1h.7m-.6-.8h.7m-.3 .5h.7m-.4-.3h.7m-.5 .6h.7m-.6-.2h.7m-.6-.1h.7m-.6 .3h.7m-.6-.3h.7m-.2-.5h.7m-.5 0h.7m22.7 .8h.7m-.7-.5h.7m-.7-.2h.7m-.6 .7h.7m-.6-.4h.7m-.7 .5h.7m-.7-.6h.7m-.6-.1h.7m-.5-.1h.7m-.5-.1h.7m-.5 .5h.7m-.7-.3h.7m-.7 .1h.7m-.6 .1h.7m-.3 .2h.7m-.3-.3h.7m.1 .1h.7m-.2 .2h.7m-.6 0h.7m-34.4 1.2h.7m1.8-.4h.7m0 .3h.7m-.3-.1h.7m-.6 .1h.7m-.6-.7h.7m-.5 .1h.7m-.2 .1h.7m-.3 .4h.7m-.5-.1h.7m-.5 .2h.7m-.3-.2h.7m-.6 0h.7m-.2-.6h.7m23.4 .1h.7m-.5 .2h.7m-.7-.2h.7m-.7 .8h.7m-.4-.6h.7m-.4 .5h.7m-.7 0h.7m-.6 .2h.7m.1-.7h.7m-.2-.2h.7m-.7 .3h.7m-.2-.4h.7m-.7 .4h.7m-.1 .5h.7m-.7 0h.7m-.5-.7h.7m-.6 .1h.7m-.4 .7h.7m-.4-.7h.7m-45.4 1.6h.7m9.2-.7h.7m-.5 .7h.7m-.6-.2h.7m.7 .1h.7m.2 .1h.7m-.6 0h.7m-.5-.4h.7m-.3-.3h.7m-.6 .1h.7m-.7 .3h.7m-.5 .1h.7m-.5-.5h.7m-.6 .4h.7m-.4 .3h.7m-.7-.2h.7m-.2-.4h.7m-.6 .3h.7m-.5 .3h.7m-.7-.8h.7m-.6 .3h.7m-.2 .1h.7m-.5 .1h.7m-.4-.1h.7m-.7-.3h.7m23.8 0h.7m-.7 .1h.7m-.3-.3h.7m-.5 0h.7m-.6 .7h.7m-.2-.2h.7m-.6 0h.7m-.4 .5h.7m-.2-.3h.7m.7 0h.7m1.5 .2h.7m.1-.4h.7m-.6-.3h.7m-46.8 1.6h.7m3.5-.3h.7m3.2-.3h.7m.5 .5h.7m0-.1h.7m-.5 .4h.7m-.5-.6h.7m.1 .2h.7m-.2 .2h.7m-.6-.6h.7m-.3 .6h.7m-.6-.5h.7m-.6-.2h.7m-.6-.1h.7m-.1 .3h.7m-.7 .2h.7m-.3 .1h.7m-.4 .2h.7m-.6 0h.7m-.3-.1h.7m-.7-.6h.7m-.4 .3h.7m24.2 0h.7m-.4 .2h.7m-.6-.5h.7m.7 .4h.7m-.5-.1h.7m-.5-.2h.7m1.7 .2h.7m-.6-.4h.7m.4 .5h.7m1.1 .4h.7m-44.1 .8h.7m5.2 .2h.7m-.1-.6h.7m.2-.2h.7m-.4 .2h.7m-.6 .5h.7m-.6-.4h.7m.2 .2h.7m-.5 0h.7m-.6 .1h.7m-.6-.4h.7m-.7 .7h.7m-.2-.4h.7m-.7-.1h.7m-.6-.4h.7m-.7 .3h.7m-.6 0h.7m-.6 0h.7m-.5-.3h.7m-.7 .3h.7m-.3 .5h.7m-.7-.1h.7m24.2 .1h.7m-.7-.5h.7m-.7 .3h.7m-.1-.4h.7m-.7 0h.7m-.5-.1h.7m-.6 .6h.7m0 .1h.7m-.7-.1h.7m.9 .1h.7m-.6-.1h.7m-.5-.4h.7m-.6 .5h.7m2.9 .1h.7m-47.6 .2h.7m2.1 .5h.7m6-.2h.7m0 .1h.7m.9 .3h.7m-.1-.3h.7m.2 .1h.7m-.4-.3h.7m-.5 .3h.7m-.3-.4h.7m-.7 .6h.7m-.6-.9h.7m-.6 .6h.7m0 0h.7m23.9-.2h.7m0-.2h.7m-.6-.1h.7m-.6 .9h.7m-.6-.8h.7m-.5 .7h.7m-.6 0h.7m-.6-.9h.7m.3 .2h.7m-.3 .6h.7m.1-.6h.7m-.2 0h.7m-.2 .8h.7m-.1-.5h.7m-.6-.1h.7m-43.1 1.2h.7m3.7 .1h.7m2.3-.5h.7m.2 .2h.7m-.5 .2h.7m-.7 .2h.7m.4-.5h.7m-.5 .1h.7m-.7-.2h.7m.4 .1h.7m-.6 .1h.7m-.4-.4h.7m-.5 .9h.7m-.4-.1h.7m-.5-.4h.7m-.6 .1h.7m23.8 .4h.7m-.1-.4h.7m-.4 .2h.7m-.6-.3h.7m-.6 .4h.7m-.6 0h.7m-.5-.8h.7m-.7 .7h.7m-.5-.3h.7m.3-.3h.7m-.6 0h.7m-.5 .4h.7m-.6 .4h.7m-.2 .1h.7m-.5 0h.7m0-.5h.7m.1 .3h.7m.8-.6h.7m-47.6 1.8h.7m4-.5h.7m1.1-.3h.7m3 .5h.7m0-.4h.7m-.4-.1h.7m-.2 .3h.7m-.2 0h.7m-.3-.1h.7m0 .2h.7m.3-.1h.7m-.2 .2h.7m-.5-.2h.7m-.6-.2h.7m-.7 .2h.7m-.4 .1h.7m-.6-.3h.7m-.6 .5h.7m-.7-.2h.7m-.6-.4h.7m23.6 .7h.7m-.6-.4h.7m-.3-.2h.7m-.2 .5h.7m-.5-.1h.7m-.1-.2h.7m-.6-.2h.7m-.3 .3h.7m-.3 0h.7m-.6 0h.7m-.6 .3h.7m-.1-.4h.7m-.3 .1h.7m-42.4 .9h.7m7.3 .4h.7m-.4-.5h.7m0-.3h.7m0 .1h.7m-.4 .8h.7m-.7-.9h.7m-.1-.1h.7m-.4 .4h.7m-.5 .1h.7m-.5-.1h.7m-.6 .3h.7m-.4-.5h.7m-.7 0h.7m-.3-.1h.7m-.7 .8h.7m-.6-.4h.7m-.5-.1h.7m0 .4h.7m23.8-.1h.7m.4-.6h.7m-.7 0h.7m-.5 .4h.7m-.3-.2h.7m-.5 .1h.7m-.6 0h.7m-.6-.4h.7m-.7 .1h.7m-.3 .9h.7m-.4-.6h.7m-.7 .1h.7m.3-.4h.7m-.5 .4h.7m2.4 .5h.7m-37.7 .3h.7m-.3-.1h.7m-.5 .7h.7m-.1-.6h.7m.7 .4h.7m-.5-.1h.7m-.4 0h.7m-.4-.2h.7m-.6 0h.7m-.5 .2h.7m-.4 .4h.7m-.5-1h.7m-.6 .1h.7m-.1 .2h.7m-.6-.2h.7m-.5 0h.7m-.7 .8h.7m-.5-.8h.7m-.6 0h.7m-.6-.1h.7m-.6 .8h.7m-.6 0h.7m-.3-.3h.7m-.5 .2h.7m22.9-.1h.7m-.7-.1h.7m-.5 0h.7m-.4 .3h.7m-.2-.5h.7m-.1-.2h.7m.5 .8h.7m-.6-.7h.7m-.6 .1h.7m-.2 0h.7m0 .6h.7m-.3 0h.7m1.7-.8h.7m-46.3 1.5h.7m3.9-.2h.7m1.8 .1h.7m-.1-.2h.7m2.7 0h.7m-.7 .3h.7m-.4-.1h.7m-.4-.1h.7m-.3 .3h.7m-.6-.2h.7m-.7 .5h.7m-.5-.8h.7m-.2 .3h.7m-.4-.3h.7m-.6 .1h.7m-.5 .3h.7m-.6 0h.7m-.6 .1h.7m-.4 .3h.7m-.6-.2h.7m-.2-.5h.7m-.3 .5h.7m-.7 0h.7m-.4-.7h.7m-.6 .4h.7m-.5 .1h.7m-.5 0h.7m-.7 .3h.7m21.7-.8h.7m-.1 .1h.7m-.6 .1h.7m-.3 0h.7m-.5 0h.7m-.6 .7h.7m-.1-.8h.7m-.6 .2h.7m-.5 .3h.7m-.5-.3h.7m-.6 .4h.7m-.5 .1h.7m-.7-.3h.7m-.5-.4h.7m.4 .1h.7m.1-.2h.7m-.1 .1h.7m6.4 .5h.7m-50.2 .8h.7m.9 .4h.7m2.2-.5h.7m.2 0h.7m-.3 .5h.7m1.6-.5h.7m.7 .3h.7m-.5-.4h.7m.2-.1h.7m0 .5h.7m-.5-.6h.7m-.5 .7h.7m-.5 .1h.7m-.7 0h.7m-.7-.7h.7m-.2 0h.7m-.6 0h.7m-.6 .1h.7m-.5 0h.7m-.5 .1h.7m-.2 .1h.7m-.5 0h.7m-.4-.3h.7m-.5 .7h.7m-.3-.7h.7m-.7 .5h.7m-.6 .1h.7m-.4 0h.7m-.7-.7h.7m-.7 .8h.7m-.4-.3h.7m-.7-.1h.7m-.4 .2h.7m-.5 .2h.7m-.5 0h.7m19.2-.3h.7m-.5 .1h.7m-.4-.7h.7m-.6 .8h.7m-.6-.7h.7m-.7 .2h.7m-.7 0h.7m-.6-.2h.7m-.6 .3h.7m-.6 .4h.7m-.6-.3h.7m-.5-.2h.7m-.2-.2h.7m-.7 .9h.7m-.7-.9h.7m-.6 0h.7m-.3 .7h.7m-.6-.6h.7m-.6 .4h.7m-.7 .2h.7m-.5-.2h.7m-.6-.6h.7m.1 .2h.7m-.7 .4h.7m-.3 .3h.7m-.6-.8h.7m-.2 0h.7m.8 0h.7m-.6 .7h.7m-38.6 1h.7m4.4-.6h.7m.5-.2h.7m-.2 .7h.7m-.4-.7h.7m-.2 .8h.7m-.5 0h.7m-.1-.3h.7m-.7 0h.7m-.4-.4h.7m-.6 .7h.7m-.4-.3h.7m-.7-.4h.7m-.2 .1h.7m-.7 .4h.7m-.2 .2h.7m-.5-.4h.7m-.5-.3h.7m-.6 .2h.7m-.6 .2h.7m-.6-.2h.7m-.6 .1h.7m-.6-.1h.7m-.6 .3h.7m-.7 .4h.7m-.7-.8h.7m-.5 .7h.7m-.7-.8h.7m-.4 .2h.7m-.4 .4h.7m-.6 .2h.7m-.2-.6h.7m0 .5h.7m-.7-.2h.7m-.7 0h.7m-.6 0h.7m-.4 .2h.7m-.6 0h.7m-.7 .2h.7m-.2 0h.7m16.3-.1h.7m-.4-.3h.7m-.5-.1h.7m.2-.4h.7m-.6 0h.7m-.3 0h.7m-.6 .3h.7m-.6 .3h.7m-.5-.4h.7m-.6 .2h.7m-.1 .2h.7m-.1 .3h.7m-.2-.3h.7m-.7-.5h.7m1.3 .3h.7m5.1-.4h.7m-45.8 1.9h.7m2.9-.6h.7m1.4-.3h.7m1.5 .5h.7m-.5-.3h.7m.1 .4h.7m0 .2h.7m.2-.1h.7m-.1-.6h.7m.5 .2h.7m-.2 0h.7m-.1 .1h.7m-.5-.3h.7m-.5 .7h.7m-.7-.3h.7m-.7 0h.7m-.7-.3h.7m-.6 .4h.7m-.3-.1h.7m-.6 0h.7m-.6-.2h.7m-.6 .3h.7m-.5-.1h.7m-.5-.4h.7m-.6-.1h.7m-.3 .3h.7m-.6 .2h.7m-.6-.6h.7m-.6 .5h.7m-.2 .2h.7m-.6-.4h.7m-.4 .3h.7m-.4 0h.7m-.5-.2h.7m-.5 0h.7m-.5 .2h.7m-.6 .1h.7m-.6 .3h.7m0-.5h.7m-.2 .3h.7m1 0h.7m.3 .1h.7m-.5 .1h.7m1.2-.3h.7m2.1 .3h.7m.7-.4h.7m-.4 .3h.7m-.2-.1h.7m-.3-.1h.7m-.6 0h.7m-.7-.1h.7m0 .2h.7m-.4-.3h.7m-.3 .3h.7m.1-.6h.7m-.1 .3h.7m-.2-.1h.7m.6-.4h.7m-.6 .9h.7m-.7-.4h.7m-.2-.4h.7m-.5 .5h.7m-.6-.4h.7m-.6 0h.7m-.6 .3h.7m-.4 .5h.7m-.7-.8h.7m-.6-.2h.7m.3 .5h.7m-.3 0h.7m-.5-.4h.7m.6 .3h.7m.6 0h.7m0 .5h.7m-45.2 .3h.7m1.9-.1h.7m4.7 .3h.7m-.7 .5h.7m2.7-.7h.7m-.6 .1h.7m-.5 .1h.7m1.2-.2h.7m0 .1h.7m-.3 0h.7m-.3 .4h.7m-.7 .3h.7m-.4-.1h.7m-.5-.5h.7m-.5-.3h.7m-.2 .2h.7m-.3-.1h.7m-.4-.1h.7m-.5 .2h.7m-.6 .5h.7m-.7-.4h.7m-.5-.2h.7m-.7 .7h.7m-.5-.5h.7m-.1-.1h.7m-.6-.2h.7m-.4 .1h.7m-.7 .5h.7m-.3 .1h.7m0 .1h.7m-.5-.1h.7m-.6-.3h.7m-.3-.1h.7m-.6-.1h.7m-.1 .3h.7m-.4-.4h.7m-.7 .4h.7m-.4 0h.7m0 0h.7m-.6-.1h.7m-.5-.3h.7m-.7-.1h.7m-.3 .2h.7m-.5-.3h.7m-.3 .2h.7m-.6 .5h.7m0-.2h.7m-.3 .1h.7m-.7 .1h.7m-.7-.2h.7m-.3 0h.7m-.6-.1h.7m-.7 .2h.7m-.4 .2h.7m-.3 .2h.7m-.7-.9h.7m-.7 .1h.7m-.3-.2h.7m-.5 .7h.7m-.6 .2h.7m-.6 .1h.7m-.2-.8h.7m-.2-.1h.7m-.7 .7h.7m-.6-.8h.7m-.3 .3h.7m-.4 0h.7m-.5-.2h.7m-.4 .5h.7m-.6 .2h.7m-.6-.8h.7m-.5 0h.7m-.1 .3h.7m-.6-.2h.7m-.7 .8h.7m-.7-.9h.7m-.6 .4h.7m-.6 .3h.7m-.6 .3h.7m-.1-.3h.7m-.6-.5h.7m-.7 0h.7m-.7 .1h.7m-.7 .6h.7m-.4-.1h.7m-.4-.3h.7m-.5 .4h.7m-.2-.7h.7m-.4 0h.7m-.6 0h.7m-.6 .7h.7m-.5-.7h.7m0 .1h.7m-.7-.1h.7m-.7 .1h.7m-.6 .1h.7m-.4 0h.7m-.7-.3h.7m-.6 0h.7m-.2-.1h.7m2.8 .6h.7m-.1 .2h.7m-.6-.7h.7m-.4 .2h.7m-.7 .1h.7m-.7-.2h.7m-.2 .4h.7m0 .3h.7m-.7-.7h.7m-.2 .6h.7m-.6-.8h.7m1.7 .6h.7m-41 .9h.7m1.8 .4h.7m.6-.4h.7m-.3 .3h.7m0-.4h.7m-.1-.2h.7m.8 0h.7m1.3 .7h.7m-.1-.2h.7m-.4-.1h.7m-.3-.5h.7m0 .8h.7m0-.3h.7m-.5 .1h.7m-.3-.6h.7m-.4 0h.7m-.4 .3h.7m0 0h.7m-.6 .2h.7m-.6 .1h.7m.3-.3h.7m-.4 .1h.7m-.7-.3h.7m-.2 .1h.7m-.5 .3h.7m0-.2h.7m-.2 .3h.7m-.3-.3h.7m.5 .1h.7m.1 0h.7m-.4-.5h.7m-.5 .7h.7m0 .1h.7m.4-.3h.7m-.4-.4h.7m-.7 .8h.7m-.5-.8h.7m-.5 .1h.7m0 0h.7m-.5 .1h.7m-.6-.1h.7m.4 .2h.7m-.6-.1h.7m-.5 .2h.7m-.4-.2h.7m0 .7h.7m-.5-.9h.7m-.3 .5h.7m.1-.5h.7m-.7 .3h.7m-.5 .3h.7m-.5-.1h.7m-.4-.5h.7m-.5 .3h.7m0 .1h.7m-.6 .5h.7m-.1-.1h.7m-.4-.5h.7m-.6-.1h.7m4.8 .5h.7m-.4-.5h.7m.6 .3h.7m1.5 0h.7m-35.6 .5h.7m.5 .4h.7m-.4 .5h.7m1.7-1h.7m.5 .3h.7m.2 .5h.7m-.2 0h.7m1-.2h.7m-.6-.5h.7m-.3 .4h.7m-.5 .3h.7m.2-.1h.7m.4 0h.7m.2-.7h.7m.9 .8h.7m-.6-.2h.7m1.2 .2h.7m-.4 .1h.7m-.7-.6h.7m-.4 .4h.7m.1-.2h.7m-.6-.5h.7m-.4 .7h.7m-.2-.3h.7m-.6 .1h.7m-.3 .5h.7m-.5-.4h.7m-.6 .3h.7m.4-.4h.7m-.5 .5h.7m-.2-.3h.7m-.7 .2h.7m0-.1h.7m-.5-.7h.7m0 .3h.7m-.5 .4h.7m-.6-.3h.7m-.5-.1h.7m.5-.3h.7m-.6-.1h.7m-.4 1h.7m-.6-.1h.7m.5 0h.7m-.7-.7h.7m5.7 .1h.7m-.3 .4h.7m-.4-.5h.7m-.6-.1h.7m-.7 .3h.7m-.7 0h.7m.2-.1h.7m-.7 .5h.7m-.5 .1h.7m-38.3 .4h.7m-.6-.2h.7m4.7-.1h.7m-.5 .3h.7m.9 0h.7m-.5 .7h.7m.8-.4h.7m-.3-.1h.7m.6-.5h.7m.2 .1h.7m.4 .5h.7m-.5-.2h.7m-.6-.3h.7m-.4 .7h.7m-.6 .1h.7m.9-.7h.7m-.6 .5h.7m-.2-.3h.7m.1 .2h.7m-.4-.1h.7m1.1 .2h.7m-.7 .3h.7m4.4-.2h.7m-.4-.6h.7m.3 .6h.7m0-.3h.7m-.5 0h.7m.2 .3h.7m-.3-.1h.7m.4-.6h.7m7.1-.1h.7m-.2 .3h.7m-.6-.2h.7m-.3 .1h.7m-.6 .2h.7m-.2 .3h.7m-.2-.4h.7m.3 0h.7m1.6 .2h.7m-42.1 .9h.7m.6-.2h.7m2.6 .4h.7m1.5-.5h.7m-.1 0h.7m-.4 .4h.7m-.4-.1h.7m.1 .5h.7m-.3-.9h.7m-.1 .9h.7m-.6-.7h.7m0 0h.7m1.3-.2h.7m-.5 .9h.7m-.5-.2h.7m-.5-.5h.7m-.7 0h.7m-.2 .8h.7m1-1h.7m-.3 .2h.7m.1 .4h.7m-.5-.6h.7m1.3 .4h.7m.9-.2h.7m.5 0h.7m-.7 .7h.7m1.6-.6h.7m-.4-.3h.7m-.7 .9h.7m-.5-.3h.7m-.3 .3h.7m1.8 .1h.7m-.7-.4h.7m-.3-.2h.7m-.4 .5h.7m-.3-.1h.7m6.8-.3h.7m.1-.5h.7m0 .9h.7m.5-.1h.7m-42.9 1h.7m-.6 .2h.7m3.9-.2h.7m-.6 .1h.7m-.6 .1h.7m-.2-.4h.7m1.2 .3h.7m1.3-.4h.7m-.7-.1h.7m1.4 .2h.7m.6 .2h.7m.2 0h.7m-.1-.6h.7m-.6 .2h.7m-.5 .6h.7m.3-.2h.7m.3-.5h.7m.3-.2h.7m-.6 .6h.7m-.6-.6h.7m-.5 .2h.7m-.6 .6h.7m-.4 0h.7m-.6-.5h.7m.1 .3h.7m.3 .2h.7m-.4-.2h.7m.4-.2h.7m-.3-.4h.7m.5 .1h.7m-.4 .7h.7m1.1-.8h.7m.2 .8h.7m3-.1h.7m.1-.1h.7m-.5-.6h.7m8.3 .2h.7m-.3 .2h.7m-.7-.3h.7m.7 0h.7m-.7 .5h.7m.8-.6h.7m.7 .4h.7m-44.6 1.1h.7m.3-.1h.7m0-.3h.7m-.6 .1h.7m1.7-.3h.7m-.6 .2h.7m.9-.1h.7m-.2 .4h.7m.2-.5h.7m.9 0h.7m-.3 .5h.7m-.3 .3h.7m-.7-.2h.7m-.6-.3h.7m-.2-.1h.7m-.5 .6h.7m-.4 .1h.7m.4 0h.7m.1-.6h.7m-.3-.3h.7m.2 .7h.7m2.2-.5h.7m.1 .2h.7m.9-.2h.7m-.3 0h.7m-.5 .6h.7m.2-.5h.7m-.4 .4h.7m2.6 .1h.7m-.5-.4h.7m4.9 .3h.7m-.2-.6h.7m-.5 .7h.7m-.2-.2h.7m-.2 .4h.7m6.7-.2h.7m0-.2h.7m.5 .3h.7m-41.2 .8h.7m2.6 0h.7m-.3-.6h.7m-.2 .4h.7m.1 0h.7m-.2-.4h.7m-.4 .7h.7m.4-.8h.7m.7 .1h.7m-.7 .6h.7m-.4-.3h.7m-.5 .3h.7m-.5 .1h.7m-.6-.4h.7m.2 .6h.7m-.5-.2h.7m.5 .1h.7m-.3-.5h.7m.6 .4h.7m-.5 0h.7m-.6-.5h.7m.4 .1h.7m-.2-.4h.7m-.6 .9h.7m-.3-.8h.7m-.3 .6h.7m-.4-.3h.7m1 0h.7m-.4 .4h.7m.7-.5h.7m.3 .5h.7m.4-.2h.7m-.7-.1h.7m1.1 .5h.7m-.5-.1h.7m-.6 0h.7m-.3-.3h.7m1.2-.5h.7m1.2 .7h.7m0 0h.7m-.3 .1h.7m-.4-.5h.7m-.7-.1h.7m-.5-.2h.7m-.2 .6h.7m-.6-.1h.7m-.6 0h.7m-.7 .3h.7m-.4 .1h.7m-.7-.7h.7m-.7-.1h.7m-.6 .5h.7m-.7-.2h.7m-.5 0h.7m-.7 .2h.7m-.7 .1h.7m9.2-.5h.7m1.3-.2h.7m-45.7 1h.7m.4 .5h.7m1.1-.6h.7m0 .2h.7m1.7 .6h.7m-.4-.1h.7m.2-.2h.7m-.5 .3h.7m-.6-.8h.7m-.2 .6h.7m-.6 .3h.7m-.7-.3h.7m0-.2h.7m.7-.1h.7m-.3 .5h.7m1.9-.8h.7m-.4 .3h.7m.1 .4h.7m1.2-.3h.7m-.2-.2h.7m-.4-.2h.7m-.6 .4h.7m.2-.1h.7m-.6 .3h.7m-.1 .4h.7m-.6-.7h.7m.8 .2h.7m.1-.1h.7m-.3 .2h.7m.3-.1h.7m-.7-.2h.7m0-.2h.7m-.6 .3h.7m1.3 .4h.7m-.2-.2h.7m-.7-.2h.7m.1 .5h.7m-.7 0h.7m.1-.8h.7m-.5 .8h.7m-.7-.2h.7m1.1-.2h.7m-.5-.2h.7m-.6 0h.7m-.3 .6h.7m-.6-.6h.7m-.6 .4h.7m-.4-.2h.7m-.6 .3h.7m-.5-.6h.7m-.6 .2h.7m-.7 .6h.7m-.1-.7h.7m-.7-.2h.7m-.5 .7h.7m-.5 .1h.7m-.5-.3h.7m-.4-.2h.7m-.2 .3h.7m-.7 0h.7m-.4-.3h.7m6.4 .5h.7m-.4-.8h.7m-.3 .2h.7m-.5 .6h.7m-.5-.3h.7m-.7 0h.7m-.3 0h.7m-.5-.4h.7m.1 .1h.7m-43.2 1.2h.7m2.1 .3h.7m3.1-.6h.7m-.4-.1h.7m-.3 .4h.7m1 .3h.7m-.5-.5h.7m.3 .2h.7m-.6 .2h.7m-.4-.3h.7m-.4-.4h.7m-.2 .7h.7m-.5-.5h.7m-.3 .1h.7m-.5 .1h.7m-.1-.2h.7m.8 0h.7m-.2 .1h.7m-.6 .5h.7m1-.1h.7m-.6-.2h.7m-.3-.4h.7m-.2-.1h.7m-.4 .5h.7m-.7 .3h.7m-.3 .1h.7m-.3-.8h.7m-.1 .5h.7m-.3 .3h.7m-.4-.8h.7m-.6 .1h.7m-.1 0h.7m-.4 .7h.7m.1-.4h.7m-.4-.5h.7m-.5 .4h.7m.4-.2h.7m-.2 .3h.7m4.1-.3h.7m-.7-.2h.7m.2 .4h.7m-.5-.4h.7m-.6 .1h.7m-.5 .4h.7m-.6-.2h.7m0 .3h.7m-.6-.5h.7m-.6 .1h.7m-.3-.1h.7m-.3-.1h.7m-.6 .5h.7m-.5 .1h.7m-.5-.4h.7m-.6 .7h.7m-.6-.3h.7m-.5 .4h.7m-.6 0h.7m-.7-1h.7m-.6 .2h.7m-.7 .6h.7m-.6 0h.7m-.6 .1h.7m-.3 0h.7m5.6-.1h.7m-.6 .2h.7m-.3-.4h.7m-.4-.4h.7m-.4 .5h.7m-.4-.1h.7m-.4 0h.7m-.5-.5h.7m-.5 .1h.7m.4 .4h.7m-43.8 .6h.7m.7 .4h.7m1.8 .2h.7m1.9-.4h.7m-.4 0h.7m-.2-.2h.7m-.6 .4h.7m-.5-.6h.7m-.2 0h.7m-.2 .6h.7m-.6-.4h.7m-.7-.1h.7m-.3 .1h.7m-.6 .1h.7m-.2 .2h.7m-.6 .2h.7m.3-.4h.7m-.2 .6h.7m-.6 .1h.7m-.2-.2h.7m-.1-.4h.7m-.6 .1h.7m-.1-.3h.7m-.6 .4h.7m-.6 0h.7m-.2-.3h.7m-.7 .3h.7m.3-.2h.7m-.1 .5h.7m-.7-.7h.7m.1 .7h.7m-.1-.2h.7m-.6 .1h.7m-.3 0h.7m-.6-.6h.7m.2 .1h.7m-.5 .2h.7m.4-.1h.7m-.4 .1h.7m-.6 .2h.7m-.6 0h.7m-.1 0h.7m-.4-.6h.7m.2 .8h.7m.7-.2h.7m-.3-.4h.7m-.2-.1h.7m-.2 .5h.7m-.5-.5h.7m.5-.2h.7m-.7 .3h.7m.6 .4h.7m-.6 0h.7m.1-.3h.7m.3-.3h.7m-.7 .5h.7m-.4-.1h.7m.2 0h.7m-.3 .1h.7m-.7 .3h.7m-.5-.2h.7m-.4-.4h.7m-.3 0h.7m-.6 0h.7m-.4 .2h.7m-.5-.1h.7m-.6-.1h.7m-.5-.2h.7m-.6 .6h.7m-.6 .2h.7m-.4-.4h.7m-.6 .3h.7m4.9 .2h.7m-.6-.2h.7m-.4 .2h.7m-.4-.5h.7m-.7-.2h.7m-.6 .4h.7m-.5-.2h.7m-.7-.2h.7m0 .5h.7m-.5-.5h.7m-.4-.1h.7m-.6 .1h.7m-.6-.1h.7m-.5 .1h.7m.8 .2h.7m-44.1 .6h.7m1.6 .5h.7m1.7-.4h.7m-.3 .7h.7m.9-.6h.7m2 .6h.7m1-.4h.7m-.5 .5h.7m-.7-.3h.7m-.2-.5h.7m-.5 .7h.7m.3 .1h.7m-.7-.3h.7m-.5 .3h.7m-.7-.1h.7m-.6-.2h.7m0 .1h.7m.2-.1h.7m-.6-.7h.7m.4 .6h.7m-.2 0h.7m-.5-.2h.7m.3 0h.7m-.3-.3h.7m-.7 .2h.7m-.1 .6h.7m-.1-.5h.7m-.6 0h.7m.1 .4h.7m-.6-.8h.7m-.5 .8h.7m.1-.7h.7m0 .5h.7m.1 .4h.7m-.7-.2h.7m.8-.1h.7m1.1 .2h.7m-.3-.5h.7m-.2 0h.7m2.3 .6h.7m-.6-.7h.7m-.2 .1h.7m-.5-.1h.7m.7-.1h.7m-.7 0h.7m-.7 .4h.7m-.6 .2h.7m-.7-.3h.7m-.6 .3h.7m-.2-.1h.7m-.7 .2h.7m-.6-.1h.7m-.5-.2h.7m-.6 .1h.7m-.7 .2h.7m-.4 0h.7m-.6-.1h.7m-.3 0h.7m4 .1h.7m-.3-.5h.7m-.4-.2h.7m-.7 .3h.7m-.6 .5h.7m-.6-.2h.7m-.6-.4h.7m-.6 .4h.7m-.7 .1h.7m-.5-.6h.7m-.7 .2h.7m-.5 .4h.7m-.5-.2h.7m-.5 .2h.7m0 .1h.7m-.7-.9h.7m-.5 .7h.7m-.7-.3h.7m-.6 0h.7m.3 0h.7m-41.1 .7h.7m-.2 .6h.7m2-.5h.7m-.3 .3h.7m-.1-.5h.7m.2 .5h.7m.5-.6h.7m-.6 1h.7m-.6-.2h.7m0-.6h.7m-.7 .8h.7m-.6-.8h.7m-.7 .7h.7m-.5-.7h.7m-.5 .4h.7m-.3-.2h.7m-.6 .3h.7m-.2 .1h.7m-.6-.7h.7m-.3 .4h.7m.9-.2h.7m-.5-.2h.7m-.7 .4h.7m-.6-.4h.7m-.3 .1h.7m-.5 .4h.7m-.7-.4h.7m-.5 .7h.7m-.4-.8h.7m-.6 .7h.7m-.6-.3h.7m-.4-.2h.7m-.6 .3h.7m-.6 0h.7m-.6-.1h.7m-.7-.4h.7m-.3 .2h.7m-.7 .1h.7m-.5 .3h.7m-.5 .1h.7m-.1-.7h.7m-.5 0h.7m-.6 .9h.7m-.6-.9h.7m-.7 .4h.7m-.6 .4h.7m-.7-.6h.7m-.6 .2h.7m-.7 .5h.7m-.4-.9h.7m0 .5h.7m-.6-.2h.7m-.3-.4h.7m-.6 .1h.7m-.2 .6h.7m-.4-.4h.7m0 .3h.7m.7 .2h.7m-.4-.5h.7m.1 0h.7m-.4 0h.7m-.3-.1h.7m.2 .7h.7m.3-.6h.7m-.4 .5h.7m0-.4h.7m0 .2h.7m-.6-.1h.7m-.4-.2h.7m-.1 0h.7m-.4 .6h.7m-.2-.8h.7m-.2-.1h.7m-.4 .1h.7m.3 .6h.7m-.2 .3h.7m-.1-.8h.7m-.3 .6h.7m-.7 .2h.7m-.6-.6h.7m-.4-.2h.7m-.4 .7h.7m-.6 .1h.7m-.4-.8h.7m-.6 .7h.7m-.6-.4h.7m-.7 .5h.7m-.5-.8h.7m-.3 .5h.7m-.5 0h.7m-.3-.4h.7m2.3 .5h.7m.1-.7h.7m-.5 .6h.7m-.6-.2h.7m-.5 .4h.7m-.5-.2h.7m-.6 .1h.7m-.7-.1h.7m-.5-.7h.7m-.6 .9h.7m-.3-.9h.7m-.2 .1h.7m-.2 .9h.7m-.6-.2h.7m-.1-.4h.7m-40.6 1h.7m.7-.3h.7m-.1 .6h.7m-.3 .2h.7m-.1-.2h.7m.4-.2h.7m1.3 .2h.7m-.5 0h.7m-.3 .2h.7m-.4-.7h.7m-.5 .3h.7m-.7-.2h.7m-.4 0h.7m-.1-.1h.7m-.4 .6h.7m-.3-.5h.7m0 .7h.7m.4-.1h.7m-.5-.5h.7m-.6-.2h.7m-.4 .2h.7m-.5 .1h.7m-.7 0h.7m-.7 0h.7m-.2 .2h.7m-.7-.1h.7m-.5 0h.7m-.7-.1h.7m-.6 0h.7m-.3 .2h.7m.6-.4h.7m-.4 .1h.7m-.3-.4h.7m-.6 .6h.7m-.4 .1h.7m-.6-.5h.7m-.6 .3h.7m-.4 0h.7m-.2-.5h.7m-.4 .4h.7m.5-.1h.7m.7 .5h.7m0-.8h.7m.2 .3h.7m-.5 .3h.7m-.6 .2h.7m-.3-.3h.7m1-.4h.7m4 .4h.7m.2 .1h.7m-.5-.4h.7m.1 .1h.7m-.7-.2h.7m-.1 0h.7m-.7 .5h.7m-.5-.1h.7m-.1 0h.7m-.5 0h.7m-.6-.4h.7m-.6 0h.7m-.5 0h.7m-.3 .6h.7m-.7 .2h.7m-.6-.1h.7m-.6-.5h.7m-.6-.1h.7m-.6 .2h.7m-.7-.3h.7m-.5 .1h.7m-.4-.1h.7m-.7 0h.7m-.7 .2h.7m-.7 .5h.7m-.2-.4h.7m-.5 0h.7m-.5 .2h.7m-.7-.2h.7m-.3-.2h.7m-.3 .4h.7m-.6 .1h.7m-.6-.2h.7m-.6 .4h.7m-.6-.2h.7m-.5 0h.7m-.5-.3h.7m-.5 .1h.7m-.7 .1h.7m-.6-.2h.7m-.5 0h.7m-.6-.2h.7m-.4 .8h.7m-.6-1h.7m-.4 .7h.7m-.3-.5h.7m-.6 .2h.7m-.4 .2h.7m-.6-.2h.7m-.5 0h.7m-.6-.2h.7m-.7 .2h.7m-.5 .2h.7m-.6 .1h.7m-.6-.4h.7m-.7 .5h.7m-.5-.1h.7m-.6-.4h.7m-.6-.3h.7m-.7 1h.7m-.6-.8h.7m-.6 .6h.7m-.4-.5h.7m-.5 .2h.7m-.7-.1h.7m-.7-.2h.7m-.7 .6h.7m-.2-.8h.7m-.5 .7h.7m-.6-.4h.7m-43.1 1.3h.7m.8 .3h.7m2.5-.5h.7m-.3 .5h.7m-.6 .1h.7m-.6-.9h.7m.1 .2h.7m-.7 .4h.7m.4 .1h.7m-.4-.4h.7m-.4 .1h.7m-.5 0h.7m-.6-.2h.7m-.6 .3h.7m-.3-.3h.7m1.6 .3h.7m-.2-.4h.7m.1 .1h.7m.1 0h.7m-.5 .3h.7m-.4-.3h.7m-.3 0h.7m0 .2h.7m-.3-.2h.7m.6-.1h.7m-.6 .3h.7m-.4 .3h.7m-.5-.6h.7m-.3 .7h.7m-.6-.2h.7m-.1-.2h.7m-.6-.5h.7m-.6 .1h.7m-.6 .6h.7m.2-.1h.7m-.6-.2h.7m-.7 0h.7m-.7 .3h.7m-.7 .1h.7m-.3 0h.7m-.6-.7h.7m-.5 .7h.7m-.1 0h.7m-.2-.6h.7m-.6 .8h.7m0-.2h.7m-.6-.5h.7m-.5 .3h.7m-.1 .1h.7m-.6-.5h.7m-.1 .3h.7m-.6-.3h.7m-.4-.2h.7m.2 .6h.7m4.3 .4h.7m-.1-.4h.7m1.1-.3h.7m0 .5h.7m-.3-.4h.7m-.6-.1h.7m-.6 .3h.7m.1 .3h.7m-.6-.2h.7m-.7-.1h.7m-.5-.5h.7m-.4 .6h.7m-.4-.4h.7m-.4-.1h.7m-.6 .5h.7m-.5-.4h.7m-.7 .2h.7m-.7 .4h.7m-.6-.5h.7m-.3-.3h.7m-.6 .4h.7m-.6-.5h.7m-.5 .8h.7m-.6-.8h.7m-.5 .9h.7m-.7-.4h.7m-.5-.4h.7m-.7 .3h.7m-.7-.4h.7m-.6 .3h.7m-.5 .6h.7m-.6-.7h.7m-.6 .1h.7m-.7-.1h.7m-.6 .3h.7m-.4-.2h.7m-.7 .2h.7m-.6 .5h.7m-.7-.4h.7m-.5-.5h.7m-.6 .2h.7m-.6 .3h.7m-.6-.3h.7m-.6 .4h.7m-.4-.6h.7m-.6 .6h.7m-.6 .2h.7m-.5-.3h.7m-.7-.5h.7m-.5-.1h.7m-.7 .7h.7m-.6 .3h.7m-.5-.5h.7m-.3 .3h.7m-.6-.8h.7m-.5 .3h.7m.3 0h.7m-.2-.1h.7m-.6 .7h.7m-.7-.7h.7m-40.9 1.6h.7m1.3-.4h.7m.2-.2h.7m0-.2h.7m-.6 .9h.7m-.5-.6h.7m-.3-.1h.7m-.6 0h.7m-.3 .7h.7m-.4-.9h.7m-.6 1h.7m.2-.3h.7m1.1 .2h.7m-.6-.9h.7m-.6 1h.7m-.7-.5h.7m-.6-.4h.7m0 .3h.7m-.4 .6h.7m-.7-.1h.7m-.2-.3h.7m-.5 .1h.7m.3-.1h.7m-.2 0h.7m-.6 .2h.7m-.7-.2h.7m-.2-.1h.7m-.4 .2h.7m.1-.6h.7m-.2 .5h.7m-.3 .1h.7m-.5 0h.7m-.5-.5h.7m-.2 .7h.7m-.7-.2h.7m-.6 0h.7m-.1-.3h.7m-.1-.2h.7m-.1-.1h.7m-.5 .6h.7m-.6 .2h.7m-.6-.4h.7m-.5 .2h.7m1 0h.7m-.7-.2h.7m-.1 .5h.7m-.6-.6h.7m.7 .4h.7m-.5-.2h.7m-.3-.1h.7m1.4-.5h.7m-.1 1h.7m3.5-.9h.7m-.3 .5h.7m-.4 .3h.7m-.4-.8h.7m-.5 .5h.7m-.4 .1h.7m1.1-.2h.7m-.3-.2h.7m-.6 .4h.7m-.5 .1h.7m-.6-.5h.7m-.7 0h.7m-.5 0h.7m-.5 .5h.7m-.7 0h.7m-.5 0h.7m-.7-.5h.7m-.2-.2h.7m-.7 .4h.7m-.7 0h.7m-.6-.3h.7m-.7-.2h.7m-.7 .6h.7m-.7-.1h.7m-.6 .3h.7m-.6-.8h.7m-.5 .7h.7m-.6-.5h.7m-.6 .7h.7m-.4-.6h.7m-.7-.1h.7m-.6 .4h.7m-.7-.2h.7m-.5 0h.7m-.3 .4h.7m-.7 .1h.7m-.6-.2h.7m-.5-.4h.7m-.5 .7h.7m-.3-.8h.7m-.4 .7h.7m-.5-.3h.7m-.6-.5h.7m-.4 0h.7m-.6 0h.7m-.6 .8h.7m-.7-.5h.7m-.5 .2h.7m-.7-.4h.7m-.3-.2h.7m-.7 .1h.7m-.7 .1h.7m-.2-.2h.7m.1 .3h.7m-41.8 1.6h.7m3-.7h.7m0 .3h.7m-.2 0h.7m-.7 .4h.7m-.6-.1h.7m.4-.5h.7m-.2 .3h.7m-.6-.4h.7m0 .8h.7m-.6 0h.7m-.4-.2h.7m-.2-.6h.7m-.2 .5h.7m-.4-.7h.7m-.3 .7h.7m-.6 .3h.7m0 0h.7m-.3-.5h.7m.6-.3h.7m-.4 .3h.7m-.6 .1h.7m-.3-.5h.7m-.4 .8h.7m-.5-.6h.7m-.4-.2h.7m0 .8h.7m-.5-.5h.7m.5-.3h.7m-.3 0h.7m-.6 0h.7m.1 .3h.7m0 .5h.7m-.6-.7h.7m.2 .5h.7m0 .1h.7m.7-.4h.7m-.7-.3h.7m.7 0h.7m-.5 .6h.7m-.6 .1h.7m.6 .1h.7m-.5 .1h.7m-.3-.5h.7m1-.2h.7m-.2 .2h.7m0-.1h.7m1.9-.2h.7m.4-.2h.7m.8 .3h.7m-.3-.1h.7m-.6-.1h.7m-.5 .1h.7m-.7 .1h.7m.1 .6h.7m-.4-.9h.7m-.7 .8h.7m-.4-.4h.7m-.6 .5h.7m-.5-.8h.7m-.6-.1h.7m-.6 .7h.7m-.6-.5h.7m-.4 .3h.7m-.7-.2h.7m0 0h.7m-.7-.3h.7m.1 .1h.7m-.7 .6h.7m-.3-.6h.7m-.6 .1h.7m-.7 .7h.7m-.1-.3h.7m-.7 .3h.7m-.4-.9h.7m-.6 .1h.7m-.4 .1h.7m-.5-.1h.7m-.7 .4h.7m-.4 .4h.7m-.7 .1h.7m-.1-.1h.7m-.3-.2h.7m0-.1h.7m-.7-.1h.7m-.5 .5h.7m-39.8 .5h.7m.4-.1h.7m-.4 .2h.7m-.7-.1h.7m0 .2h.7m.1 .2h.7m-.4-.2h.7m.1 .2h.7m.3-.7h.7m-.2 .4h.7m-.4-.2h.7m-.6 .1h.7m-.7 .3h.7m-.2-.7h.7m-.7 0h.7m-.6 .6h.7m-.1-.1h.7m-.6-.5h.7m-.7 .1h.7m-.1 .5h.7m-.1-.2h.7m-.4 .1h.7m-.3-.3h.7m-.6 0h.7m-.2 .5h.7m0-.6h.7m-.1 .1h.7m-.5 .7h.7m.6-.3h.7m.3 0h.7m0-.1h.7m-.3 .2h.7m-.6-.3h.7m-.5-.4h.7m-.3 .9h.7m-.5-.9h.7m-.6 .1h.7m-.7 .7h.7m-.5-.6h.7m-.2 .3h.7m-.1-.1h.7m-.3-.2h.7m-.7 0h.7m-.5-.2h.7m-.2 .5h.7m0 .2h.7m-.5-.6h.7m-.2 .2h.7m-.5 .2h.7m.3-.3h.7m-.6 .6h.7m-.1-.1h.7m-.5 0h.7m-.6 .1h.7m-.3-.6h.7m1.6-.1h.7m.4 .2h.7m.4 .3h.7m.3-.4h.7m.6 .5h.7m.4 0h.7m-.2 0h.7m-.5-.2h.7m-.2-.3h.7m.3 .4h.7m-.6 0h.7m-.7 .2h.7m.2-.8h.7m0 .3h.7m-.6-.4h.7m-.5 .7h.7m-.5-.4h.7m-.7 0h.7m-.6 .6h.7m-.2 0h.7m0-.6h.7m.1 0h.7m-.7 .5h.7m-.5 .2h.7m-.4-.7h.7m-.6-.2h.7m.4 .6h.7m-.5-.5h.7m.1 .3h.7m.8 .4h.7m-42.7 .7h.7m0 .4h.7m-.3-.9h.7m1.8 .7h.7m0-.3h.7m2 .2h.7m-.3-.5h.7m-.2 .7h.7m-.2-.6h.7m.5-.3h.7m-.6 .1h.7m-.2 .4h.7m-.3-.1h.7m-.4-.4h.7m-.5 .4h.7m0 0h.7m-.5 .4h.7m-.2 .1h.7m-.3-.2h.7m-.1 .2h.7m-.1-.6h.7m-.3-.3h.7m-.7 0h.7m-.2 .6h.7m-.3-.3h.7m-.7-.3h.7m-.1 .5h.7m-.2-.3h.7m-.4 .2h.7m-.4-.2h.7m-.4 .7h.7m-.1-.3h.7m-.7 .2h.7m-.5-.1h.7m-.6-.3h.7m.5 .5h.7m2.2-.7h.7m.1 0h.7m-.5 .7h.7m3.7-.7h.7m2 .6h.7m.1-.1h.7m-.1 .2h.7m-.1-.7h.7m.1-.2h.7m-.5 .4h.7m-.5-.3h.7m-.5 .7h.7m-.5 .2h.7m-.1-.6h.7m-.5 .4h.7m-.6-.8h.7m-.1 .6h.7m-.7-.1h.7m-.4 0h.7m-.5-.5h.7m-.4 .3h.7m-.5 .4h.7m-.2 0h.7m-.4-.4h.7m-.7 .3h.7m-.6-.6h.7m-.4 1h.7m-.3-.5h.7m-.6 .3h.7m-.7-.1h.7m-.6-.5h.7m.3 0h.7m0 .3h.7m-.1 .1h.7m-.3 .2h.7m-41.9 1h.7m.7-.7h.7m-.3 .6h.7m-.1-.1h.7m.8 0h.7m-.6-.4h.7m1.5 .2h.7m-.5 .3h.7m-.2-.5h.7m-.6 .3h.7m-.7 .2h.7m-.4 0h.7m.1 .2h.7m0-.7h.7m-.6 .4h.7m-.6 .1h.7m-.6-.2h.7m-.4 .4h.7m-.3-.3h.7m-.3 .1h.7m-.3-.5h.7m-.6 .2h.7m-.6-.3h.7m.1-.1h.7m-.5 0h.7m-.3 1h.7m-.3-.2h.7m.3-.5h.7m-.7 .3h.7m-.6-.5h.7m.2 .3h.7m-.2-.1h.7m-.5 .4h.7m1.6-.3h.7m-.2-.2h.7m-.1 .7h.7m-.4-.3h.7m-.6 0h.7m-.7 .2h.7m-.3 .2h.7m-.6-.9h.7m.1 .2h.7m-.5 .4h.7m.7-.4h.7m.6 .5h.7m0-.6h.7m-.4 .2h.7m0 .1h.7m-.4-.4h.7m-.7 .4h.7m3.2 .4h.7m0-.2h.7m.1 0h.7m-.4-.5h.7m1 .1h.7m.2-.2h.7m-.2 .3h.7m-.6 .5h.7m-.6-.1h.7m-.7-.3h.7m-.1 0h.7m-.6 0h.7m.1 .1h.7m-.1 .3h.7m-.4-.5h.7m-.5 .5h.7m-.7-.3h.7m-.5 .4h.7m-.5-.5h.7m-.4-.4h.7m-.5 .5h.7m-.7-.2h.7m-.6 .2h.7m-.3-.6h.7m-.6 .3h.7m-.4 .3h.7m-.6 .1h.7m-.1 0h.7m-.5-.3h.7m1.5 .2h.7m-42.8 .7h.7m3.1 .5h.7m-.3-.6h.7m-.7 .2h.7m.3-.1h.7m.3 .3h.7m0-.2h.7m-.2 .3h.7m-.7 .2h.7m.7-.6h.7m0 .4h.7m.2-.4h.7m-.4 .2h.7m-.1-.1h.7m-.2 .1h.7m0-.3h.7m-.5 .3h.7m-.7 .3h.7m-.6-.8h.7m-.6 .7h.7m-.6-.2h.7m-.4-.3h.7m-.1 .5h.7m-.7-.4h.7m-.2 .2h.7m-.6-.5h.7m-.6 .1h.7m-.6-.1h.7m-.6 .2h.7m-.2 .6h.7m-.6-.1h.7m-.2-.4h.7m-.7-.1h.7m1.5 .4h.7m.3-.1h.7m-.4 .5h.7m-.6-.7h.7m.3 .5h.7m.7-.2h.7m-.3-.4h.7m.6 .4h.7m1.2 0h.7m0-.1h.7m-.1 .2h.7m.1-.2h.7m.3-.2h.7m.3 .3h.7m1.1 .1h.7m.6 0h.7m-.5 .1h.7m-.6 .1h.7m-.3-.9h.7m-.7 .1h.7m-.6 .6h.7m.8 .3h.7m-.4-1h.7m-.6 .6h.7m.3-.3h.7m-.3 .1h.7m1.4 .4h.7m.4-.2h.7m-.5-.4h.7m0 0h.7m-41 1.1h.7m-.2 0h.7m1.1 .6h.7m-.4-.5h.7m-.5 .3h.7m-.4-.6h.7m-.3 .3h.7m-.1 .1h.7m.3-.4h.7m-.5 .2h.7m-.3 .7h.7m.8-.8h.7m-.4 .1h.7m0 .6h.7m1-.5h.7m.4 .2h.7m-.5-.5h.7m-.1 0h.7m-.5 .2h.7m-.3 .3h.7m-.6-.1h.7m-.5-.3h.7m-.2 .4h.7m-.5 .3h.7m-.5-.2h.7m.1-.2h.7m-.6 .4h.7m.8-.2h.7m-.5-.6h.7m0 .5h.7m-.4-.4h.7m-.5-.1h.7m-.3-.1h.7m-.2 .5h.7m.1 .3h.7m-.3-.5h.7m0-.1h.7m.2 .7h.7m-.2-.1h.7m1.5-.7h.7m.1 .7h.7m-.2 .1h.7m.5-.8h.7m2.7 .5h.7m-.6 .1h.7m-.6-.3h.7m-.4 .1h.7m-.5-.4h.7m.9 .3h.7m.4 .1h.7m-.6-.1h.7m-.7 .4h.7m-.7-.8h.7m-.5 .4h.7m-.3 .5h.7m0-.4h.7m-.7 .3h.7m-.1-.3h.7m-.4-.4h.7m-.6 .1h.7m-.1 .5h.7m-.2 .2h.7m0-.2h.7m-.7 .2h.7m-.7-.9h.7m-.6 .1h.7m-.5 .6h.7m-.6-.2h.7m.2 .3h.7m-.2-.2h.7m-.1 .2h.7m-.7-.3h.7m-.3 .3h.7m-42.3 .6h.7m1.4 .5h.7m1.5-.7h.7m.3-.1h.7m2.3 .7h.7m0-.3h.7m-.4-.5h.7m-.4 .2h.7m-.7 0h.7m0-.1h.7m-.4 .7h.7m-.5-.4h.7m-.4 .3h.7m-.1 .3h.7m.4-.4h.7m-.4-.2h.7m-.3 .1h.7m-.6 0h.7m-.5 .1h.7m.1-.1h.7m-.3-.4h.7m-.5 .2h.7m-.5 .4h.7m-.7-.5h.7m-.5-.2h.7m-.5 .5h.7m-.5-.1h.7m-.6-.1h.7m-.6 .4h.7m-.3-.5h.7m.1 .3h.7m-.5-.2h.7m-.4-.2h.7m-.4 .5h.7m-.3-.5h.7m.6 .2h.7m0 .5h.7m-.6-.2h.7m-.2-.1h.7m-.6 0h.7m.8-.2h.7m2.2 .2h.7m-.4-.1h.7m-.3 .1h.7m0 .3h.7m-.2-.1h.7m.4-.1h.7m.5 .4h.7m-.2-.1h.7m-.4-.5h.7m1.5 0h.7m-.2 .4h.7m.2 0h.7m0-.6h.7m-.6 0h.7m-.1 .5h.7m-.6-.6h.7m-.4 .9h.7m-.6-.8h.7m-.7 .5h.7m-.5 .2h.7m-.5 0h.7m-.4 0h.7m-.4 0h.7m-.1-.3h.7m-.6-.4h.7m-.3 .4h.7m-.7 .2h.7m-.6-.1h.7m-.4-.4h.7m-.6 .5h.7m-.1-.2h.7m-.3-.3h.7m-.4 0h.7m.4 .7h.7m-.5-.5h.7m.1-.4h.7m-41.6 1.7h.7m.5-.7h.7m1.2 .5h.7m-.5-.3h.7m1-.3h.7m.7 .1h.7m-.2 .8h.7m-.6-.6h.7m0 .6h.7m.1-.3h.7m-.1 .2h.7m-.3-.3h.7m-.4-.5h.7m-.2 .7h.7m-.3 .3h.7m.7-.8h.7m-.5 .2h.7m-.2-.1h.7m-.7 .1h.7m-.7 .4h.7m.1-.8h.7m-.6 .1h.7m-.5 .6h.7m-.3 .3h.7m-.3-.8h.7m-.6 .2h.7m-.3 0h.7m-.7-.2h.7m-.4 .5h.7m-.1-.6h.7m-.5 .7h.7m-.6-.5h.7m.1 .6h.7m0-.1h.7m-.3-.7h.7m-.6 .9h.7m-.2-.9h.7m-.1 .7h.7m-.4-.1h.7m-.6-.7h.7m-.4 .2h.7m-.4 .5h.7m.5 .2h.7m.1-.1h.7m.3-.1h.7m.2-.2h.7m.5-.2h.7m5.8 .3h.7m-.4 0h.7m-.3-.6h.7m.8 .8h.7m-.7-.2h.7m-.5 .2h.7m0 0h.7m-.6-.3h.7m-.1-.1h.7m-.1 .3h.7m.2-.4h.7m-.5-.1h.7m-.1 .2h.7m-.1 .3h.7m-38.8 1h.7m1.6 0h.7m1.3-.3h.7m-.5 .5h.7m.1 0h.7m-.6-.4h.7m-.5-.2h.7m-.3 .5h.7m.5-.6h.7m.2 .4h.7m-.5-.5h.7m0 .2h.7m-.6-.3h.7m-.4 1h.7m-.3-.2h.7m-.4 .1h.7m-.6-.6h.7m.5-.2h.7m-.4 .1h.7m0 0h.7m-.6 .2h.7m-.3 .4h.7m1 .2h.7m.4-.8h.7m.1 0h.7m-.3 .4h.7m-.5-.2h.7m.6 .1h.7m0 .4h.7m-.5-.3h.7m0-.3h.7m.3-.2h.7m.4 .1h.7m-.5 0h.7m2.3 .3h.7m4.6 .1h.7m-.6-.3h.7m-.6 .4h.7m-.1-.1h.7m.3-.1h.7m.4 0h.7m-.6 .4h.7m0-.4h.7m0 0h.7m-.3-.4h.7m.7 .3h.7m-.6 .3h.7m.6 .2h.7m-.1-.7h.7m-.7 .3h.7m-.5-.3h.7m1.6 0h.7m-.7 .7h.7m-43.7 .8h.7m3.7 .2h.7m-.3-.5h.7m.1 .1h.7m1.2 .1h.7m-.2 .2h.7m.2-.1h.7m-.6 .2h.7m-.7 0h.7m.4-.2h.7m-.4-.2h.7m1.2-.3h.7m.8-.1h.7m.5 .3h.7m-.1 .1h.7m-.2-.2h.7m-.4 .1h.7m-.6-.2h.7m-.2 .4h.7m-.7-.4h.7m-.3 0h.7m0 .1h.7m-.7 .2h.7m-.2 .3h.7m.8-.3h.7m-.6 .3h.7m-.1-.7h.7m-.4 .3h.7m-.3-.3h.7m.1 0h.7m-.5 .3h.7m.7-.1h.7m-.6 .5h.7m-.2 0h.7m.4-.7h.7m-.7 .1h.7m2.3 .2h.7m.4 .5h.7m1.4-.2h.7m-.2-.3h.7m.8 .4h.7m3.5 .2h.7m-.5-.7h.7m-.6-.3h.7m.8 .8h.7m-39.3 .9h.7m.5-.1h.7m-.4-.2h.7m2.3 0h.7m1.8 .5h.7m0-.3h.7m1.1-.5h.7m.5 .8h.7m1.9-.6h.7m-.5-.1h.7m-.3-.2h.7m.2 .5h.7m-.6-.3h.7m-.6 .2h.7m.5-.2h.7m1.3 .4h.7m.9-.2h.7m.3 0h.7m.2 .1h.7m4.1-.1h.7m1.8 .4h.7m-.4-.8h.7m.5 .9h.7m.6-.2h.7m-.5-.1h.7m-.6-.2h.7m-.4-.3h.7m0 0h.7m-.6 .2h.7m0 .6h.7m-.4-.7h.7m.1 .3h.7m-.4 .3h.7m-.3-.4h.7m-.3-.2h.7m-.5 .4h.7m-.6-.3h.7m-.7-.1h.7m-.5 .7h.7m-.5-.7h.7m-.5 .3h.7m-38.2 1.4h.7m1.2-.2h.7m1.1-.3h.7m-.4 .5h.7m0-.7h.7m-.7 .1h.7m-.5 .1h.7m-.6 0h.7m-.4 .5h.7m.6-.7h.7m-.2-.1h.7m-.3 .3h.7m.8 0h.7m-.4 .5h.7m-.5-.5h.7m1 .2h.7m-.7-.6h.7m-.5 .2h.7m-.4-.1h.7m-.5 .1h.7m.4 .5h.7m2.7-.5h.7m-.3 .3h.7m.6-.3h.7m.3 .5h.7m-.6-.2h.7m.6-.2h.7m1.2 .2h.7m-.7 .3h.7m1.9 0h.7m3.9 0h.7m3.4-.5h.7m2.7 .2h.7m-.6 .1h.7m-.5 0h.7m.5-.6h.7m-.7 .7h.7m1.2 0h.7m-41.2 .5h.7m3.4-.2h.7m-.6 .5h.7m-.1 .1h.7m-.5-.2h.7m1.2-.2h.7m-.1-.1h.7m-.1 0h.7m-.6 0h.7m-.1 .9h.7m.3-.4h.7m.1-.5h.7m.6 .8h.7m.7-.4h.7m.3-.2h.7m-.3 .2h.7m-.6-.3h.7m.3 .5h.7m-.4 .1h.7m-.3-.6h.7m.2 .7h.7m-.5-.7h.7m.6 .6h.7m0-.7h.7m-.6 0h.7m.9 .6h.7m-.1 .2h.7m-.3-.2h.7m6.4-.2h.7m3.6-.4h.7m4 .3h.7m.9 .5h.7m-.5-.6h.7m1.2 .1h.7m1.1 .5h.7m-44.4 .3h.7m.7 .5h.7m5.2 .3h.7m-.6-.8h.7m0 .6h.7m-.1-.4h.7m-.4 .1h.7m-.2 .4h.7m-.4-.4h.7m.7 .4h.7m0-.3h.7m-.5-.4h.7m0 .1h.7m-.5 .3h.7m-.2 .3h.7m-.3-.9h.7m-.3 .6h.7m-.6 0h.7m0 .1h.7m-.5-.4h.7m-.1 .2h.7m.3-.3h.7m-.5-.2h.7m.4 .2h.7m2.8 .5h.7m1.5 .3h.7m-.5-.7h.7m1.9 .1h.7m-.6 0h.7m2.7-.3h.7m1.4 .9h.7m1 0h.7m1.5-.9h.7m0 .6h.7m.3-.1h.7m2.1 .2h.7m-40.3 .8h.7m-.5 .1h.7m1.5 0h.7m4.5-.5h.7m.3-.1h.7m-.1 .6h.7m1-.3h.7m-.4 0h.7m-.1 .2h.7m-.1-.1h.7m3.6 .5h.7m.1-.9h.7m-.1 .1h.7m1.2 .5h.7m1.8-.7h.7m5.5 .2h.7m1.8 .3h.7m7.2-.3h.7m-39 .8h.7m.5 .9h.7m-.5-.8h.7m3.6 .3h.7m-.3 .4h.7m-.3 .1h.7m.8-.4h.7m2.1-.5h.7m.8 .2h.7m-.7 0h.7m.2-.2h.7m10.3 0h.7m9.1 .1h.7m1.5 .4h.7m-.5-.2h.7m-38.8 .7h.7m1.5 .3h.7m1.1 .5h.7m.1-.7h.7m2.5 .6h.7m.7-.4h.7m.9 0h.7m-.6 .5h.7m-.5-.4h.7m-.1 0h.7m.4 .2h.7m-.4-.2h.7m1 .1h.7m-.5 0h.7m-.6-.5h.7m1.2 .5h.7m.1-.3h.7m6.6 .3h.7m4.2 .1h.7m.2-.4h.7m-33 1h.7m1.1-.1h.7m6.2 .4h.7m.9-.4h.7m.7 .4h.7m1.2-.4h.7m-.5 .8h.7m-.5-.5h.7m-.1 .3h.7m-.2-.7h.7m-.1 .6h.7m1.7 0h.7m-.4 .2h.7m-.6-.3h.7m2.1 0h.7m6.9-.4h.7m3.9 .2h.7m-33.3 1.3h.7m3.5-.5h.7m-.5 .6h.7m1.1 .2h.7m-.7-.5h.7m8.4 .1h.7m-.3-.3h.7m.5-.2h.7m2.2 .2h.7m17.3 .5h.7" fill="none" stroke="#161616" stroke-width="0.8" stroke-opacity="0.8"/>
<path d="M375.2 350L375.39 349.08L375.68 348.06L376.05 347L376.5 345.96L377 345L377.58 344.12L378.23 343.28L378.95 342.48L379.71 341.72L380.5 341L381.33 340.32L382.2 339.68L383.12 339.08L384.05 338.52L385 338L385.98 337.52L386.99 337.08L388.01 336.68L389.02 336.32L390 336L390.96 335.71L391.91 335.45L392.83 335.24L393.7 335.08L394.5 335L395.22 334.99L395.87 335.04L396.46 335.15L397 335.34L397.5 335.6L397.96 335.94L398.37 336.35L398.73 336.84L399.04 337.39L399.3 338L399.49 338.68L399.63 339.44L399.71 340.25L399.77 341.11L399.8 342L399.81 342.94L399.8 343.93L399.76 344.95L399.69 345.98L399.6 347L399.49 348.01L399.36 349.04L399.21 350.06L399.02 351.05L398.8 352L398.55 352.93L398.27 353.86L397.96 354.75L397.6 355.54L397.2 356.2L396.79 356.71L396.38 357.08L395.91 357.37L395.3 357.6L394.5 357.8L393.44 357.97L392.15 358.09L390.75 358.17L389.33 358.2L388 358.2L386.74 358.16L385.48 358.08L384.25 357.96L383.08 357.8L382 357.6L381.01 357.36L380.09 357.08L379.25 356.75L378.48 356.39L377.8 356L377.2 355.57L376.69 355.11L376.25 354.62L375.89 354.08L375.6 353.5L375.37 352.89L375.2 352.24L375.12 351.56L375.11 350.81Z" fill="#fff" stroke="#2a2a2a" stroke-width="0.9"/>
<path d="M376.43 349.75L376.6 348.92L376.86 348L377.2 347.05L377.6 346.11L378.05 345.25L378.57 344.46L379.16 343.7L379.8 342.98L380.49 342.3L381.2 341.65L381.95 341.04L382.73 340.46L383.55 339.92L384.4 339.42L385.25 338.95L386.13 338.52L387.04 338.12L387.96 337.76L388.87 337.44L389.75 337.15L390.61 336.89L391.47 336.66L392.3 336.46L393.08 336.32L393.8 336.25L394.44 336.24L395.03 336.28L395.56 336.39L396.05 336.56L396.5 336.79L396.91 337.1L397.28 337.47L397.61 337.9L397.89 338.4L398.12 338.95L398.29 339.56L398.41 340.24L398.49 340.98L398.54 341.75L398.57 342.55L398.58 343.39L398.57 344.29L398.53 345.21L398.47 346.14L398.39 347.05L398.29 347.96L398.18 348.88L398.04 349.8L397.87 350.7L397.67 351.55L397.44 352.39L397.19 353.23L396.91 354.02L396.59 354.74L396.23 355.33L395.86 355.79L395.49 356.13L395.07 356.38L394.52 356.59L393.8 356.77L392.84 356.93L391.68 357.03L390.42 357.1L389.15 357.13L387.95 357.13L386.82 357.09L385.68 357.02L384.57 356.91L383.52 356.77L382.55 356.59L381.66 356.37L380.83 356.12L380.07 355.83L379.38 355.5L378.77 355.15L378.23 354.77L377.77 354.35L377.38 353.9L377.05 353.42L376.79 352.9L376.58 352.35L376.43 351.77L376.35 351.15L376.35 350.48ZM377.66 349.5L377.81 348.76L378.04 347.95L378.34 347.1L378.7 346.27L379.1 345.5L379.56 344.8L380.08 344.12L380.66 343.48L381.27 342.88L381.9 342.3L382.56 341.76L383.26 341.24L383.99 340.76L384.74 340.32L385.5 339.9L386.28 339.52L387.09 339.16L387.91 338.84L388.72 338.56L389.5 338.3L390.26 338.07L391.03 337.86L391.77 337.69L392.46 337.57L393.1 337.5L393.67 337.49L394.19 337.53L394.67 337.62L395.1 337.77L395.5 337.98L395.87 338.25L396.2 338.58L396.48 338.97L396.73 339.41L396.94 339.9L397.1 340.45L397.2 341.05L397.27 341.7L397.31 342.39L397.34 343.1L397.35 343.85L397.34 344.64L397.31 345.46L397.25 346.29L397.18 347.1L397.09 347.91L396.99 348.73L396.87 349.55L396.72 350.34L396.54 351.1L396.34 351.85L396.12 352.59L395.87 353.3L395.58 353.93L395.26 354.46L394.93 354.86L394.61 355.17L394.23 355.4L393.74 355.58L393.1 355.74L392.25 355.88L391.22 355.98L390.1 356.04L388.96 356.06L387.9 356.06L386.89 356.03L385.88 355.96L384.9 355.87L383.96 355.74L383.1 355.58L382.31 355.39L381.58 355.16L380.9 354.9L380.29 354.61L379.74 354.3L379.26 353.96L378.85 353.59L378.5 353.19L378.21 352.76L377.98 352.3L377.8 351.81L377.66 351.3L377.59 350.74L377.59 350.15ZM379.14 349.2L379.27 348.57L379.46 347.88L379.72 347.16L380.02 346.45L380.36 345.8L380.75 345.2L381.2 344.63L381.68 344.09L382.2 343.57L382.74 343.08L383.3 342.62L383.9 342.18L384.52 341.77L385.16 341.39L385.8 341.04L386.46 340.71L387.15 340.41L387.85 340.14L388.54 339.9L389.2 339.68L389.85 339.48L390.5 339.31L391.13 339.16L391.72 339.06L392.26 339L392.75 338.99L393.19 339.03L393.59 339.1L393.96 339.23L394.3 339.41L394.61 339.64L394.89 339.92L395.14 340.25L395.35 340.62L395.52 341.04L395.66 341.5L395.75 342.02L395.8 342.57L395.84 343.16L395.86 343.76L395.87 344.4L395.86 345.07L395.83 345.77L395.79 346.47L395.73 347.16L395.65 347.85L395.57 348.55L395.46 349.24L395.33 349.91L395.18 350.56L395.01 351.19L394.82 351.83L394.61 352.43L394.37 352.97L394.1 353.42L393.82 353.76L393.54 354.02L393.22 354.21L392.8 354.37L392.26 354.5L391.54 354.62L390.66 354.7L389.71 354.76L388.74 354.78L387.84 354.78L386.98 354.75L386.12 354.69L385.29 354.61L384.49 354.5L383.76 354.37L383.09 354.2L382.46 354.01L381.89 353.79L381.37 353.55L380.9 353.28L380.5 352.99L380.15 352.68L379.85 352.34L379.61 351.97L379.41 351.58L379.25 351.16L379.14 350.73L379.08 350.26L379.08 349.75ZM380.74 348.88L380.84 348.37L381 347.81L381.2 347.22L381.45 346.65L381.73 346.12L382.04 345.64L382.4 345.18L382.8 344.74L383.21 344.32L383.65 343.93L384.11 343.55L384.59 343.2L385.09 342.87L385.6 342.56L386.12 342.27L386.66 342.01L387.22 341.77L387.78 341.55L388.34 341.35L388.88 341.18L389.4 341.02L389.92 340.87L390.43 340.76L390.91 340.67L391.35 340.62L391.74 340.62L392.1 340.65L392.43 340.71L392.73 340.81L393 340.95L393.25 341.14L393.48 341.37L393.68 341.64L393.85 341.94L393.99 342.27L394.1 342.65L394.17 343.07L394.22 343.51L394.25 343.99L394.26 344.48L394.27 344.99L394.26 345.54L394.24 346.1L394.2 346.67L394.16 347.23L394.1 347.78L394.02 348.35L393.94 348.91L393.84 349.45L393.72 349.98L393.58 350.49L393.42 351L393.25 351.49L393.06 351.92L392.83 352.28L392.61 352.56L392.38 352.77L392.12 352.93L391.79 353.05L391.35 353.17L390.76 353.26L390.06 353.33L389.29 353.37L388.51 353.39L387.77 353.38L387.08 353.36L386.39 353.32L385.71 353.25L385.07 353.16L384.48 353.06L383.93 352.92L383.43 352.77L382.96 352.59L382.54 352.39L382.17 352.18L381.84 351.94L381.55 351.69L381.31 351.41L381.12 351.12L380.95 350.8L380.83 350.46L380.74 350.11L380.69 349.73L380.69 349.32ZM382.33 348.55L382.41 348.16L382.54 347.74L382.69 347.29L382.88 346.85L383.09 346.45L383.33 346.08L383.61 345.73L383.91 345.39L384.23 345.07L384.56 344.77L384.91 344.48L385.28 344.22L385.66 343.96L386.05 343.73L386.45 343.51L386.86 343.31L387.28 343.12L387.72 342.96L388.14 342.8L388.55 342.67L388.95 342.55L389.35 342.44L389.74 342.35L390.11 342.28L390.44 342.25L390.74 342.25L391.01 342.27L391.26 342.31L391.49 342.39L391.7 342.5L391.89 342.64L392.06 342.82L392.22 343.02L392.35 343.25L392.46 343.51L392.54 343.8L392.59 344.11L392.63 344.46L392.65 344.82L392.67 345.19L392.67 345.58L392.67 346L392.65 346.43L392.62 346.86L392.58 347.29L392.54 347.72L392.48 348.15L392.42 348.57L392.34 348.99L392.25 349.39L392.14 349.78L392.02 350.17L391.89 350.54L391.74 350.88L391.57 351.15L391.4 351.37L391.23 351.53L391.03 351.65L390.78 351.74L390.44 351.83L389.99 351.9L389.45 351.95L388.86 351.98L388.27 352L387.71 351.99L387.18 351.98L386.65 351.94L386.13 351.89L385.64 351.83L385.19 351.74L384.78 351.64L384.39 351.52L384.03 351.39L383.71 351.24L383.43 351.07L383.18 350.89L382.96 350.7L382.78 350.49L382.62 350.26L382.5 350.02L382.41 349.76L382.34 349.49L382.3 349.2L382.3 348.89ZM383.81 348.25L383.87 347.97L383.95 347.67L384.07 347.35L384.2 347.04L384.35 346.75L384.52 346.49L384.72 346.23L384.93 345.99L385.16 345.77L385.4 345.55L385.65 345.35L385.91 345.15L386.18 344.97L386.47 344.81L386.75 344.65L387.04 344.51L387.35 344.37L387.65 344.25L387.96 344.15L388.25 344.05L388.54 343.96L388.82 343.89L389.1 343.82L389.36 343.77L389.6 343.75L389.81 343.75L390.01 343.76L390.19 343.8L390.35 343.85L390.5 343.93L390.64 344.03L390.76 344.16L390.87 344.3L390.96 344.47L391.04 344.65L391.1 344.85L391.14 345.08L391.16 345.33L391.18 345.58L391.19 345.85L391.19 346.13L391.19 346.43L391.18 346.74L391.16 347.05L391.13 347.35L391.1 347.65L391.06 347.96L391.01 348.27L390.96 348.57L390.89 348.85L390.81 349.13L390.73 349.41L390.64 349.67L390.53 349.91L390.41 350.11L390.29 350.26L390.16 350.38L390.02 350.46L389.84 350.53L389.6 350.59L389.28 350.64L388.89 350.68L388.47 350.7L388.05 350.71L387.65 350.71L387.27 350.7L386.89 350.67L386.52 350.64L386.17 350.59L385.85 350.53L385.55 350.46L385.28 350.37L385.02 350.28L384.79 350.17L384.59 350.05L384.41 349.92L384.26 349.78L384.13 349.63L384.02 349.47L383.93 349.3L383.86 349.12L383.81 348.92L383.78 348.72L383.78 348.49ZM385.29 347.95L385.32 347.78L385.37 347.6L385.44 347.41L385.52 347.22L385.61 347.05L385.71 346.89L385.83 346.74L385.96 346.6L386.1 346.46L386.24 346.33L386.39 346.21L386.55 346.09L386.71 345.98L386.88 345.88L387.05 345.79L387.23 345.7L387.41 345.62L387.59 345.55L387.77 345.49L387.95 345.43L388.12 345.38L388.29 345.33L388.46 345.29L388.62 345.26L388.76 345.25L388.89 345.25L389.01 345.26L389.11 345.28L389.21 345.31L389.3 345.36L389.38 345.42L389.46 345.49L389.52 345.58L389.58 345.68L389.62 345.79L389.66 345.91L389.68 346.05L389.7 346.2L389.71 346.35L389.71 346.51L389.72 346.68L389.71 346.86L389.71 347.04L389.69 347.23L389.68 347.41L389.66 347.59L389.64 347.78L389.61 347.96L389.57 348.14L389.53 348.31L389.49 348.48L389.44 348.65L389.38 348.8L389.32 348.95L389.25 349.07L389.17 349.16L389.1 349.23L389.01 349.28L388.9 349.32L388.76 349.35L388.57 349.39L388.34 349.41L388.08 349.42L387.83 349.43L387.59 349.43L387.36 349.42L387.14 349.4L386.91 349.38L386.7 349.35L386.51 349.32L386.33 349.27L386.17 349.22L386.01 349.17L385.88 349.1L385.75 349.03L385.65 348.95L385.55 348.87L385.48 348.78L385.41 348.68L385.36 348.58L385.32 348.47L385.29 348.35L385.27 348.23L385.27 348.1Z" fill="none" stroke="#8a8a8a" stroke-width="0.45"/>
<path d="M399.5 364.8L399.49 365.4L399.44 366.01L399.37 366.61L399.27 367.2L399.15 367.75L399.01 368.28L398.83 368.79L398.63 369.27L398.41 369.72L398.18 370.12L397.93 370.47L397.66 370.78L397.37 371.05L397.08 371.27L396.78 371.43L396.47 371.53L396.16 371.59L395.84 371.59L395.53 371.53L395.22 371.43L394.92 371.27L394.63 371.05L394.34 370.78L394.07 370.47L393.82 370.12L393.59 369.72L393.37 369.27L393.17 368.79L392.99 368.28L392.85 367.75L392.73 367.2L392.63 366.61L392.56 366.01L392.51 365.4L392.5 364.8L392.51 364.2L392.56 363.59L392.63 362.99L392.73 362.4L392.85 361.85L392.99 361.32L393.17 360.81L393.37 360.33L393.59 359.88L393.82 359.48L394.07 359.13L394.34 358.82L394.63 358.55L394.92 358.33L395.22 358.17L395.53 358.07L395.84 358.01L396.16 358.01L396.47 358.07L396.78 358.17L397.08 358.33L397.37 358.55L397.66 358.82L397.93 359.13L398.18 359.48L398.41 359.88L398.63 360.33L398.83 360.81L399.01 361.32L399.15 361.85L399.27 362.4L399.37 362.99L399.44 363.59L399.49 364.2Z" fill="#fff" stroke="#444" stroke-width="0.6"/>
<path d="M397.57 364.8L397.57 365.07L397.55 365.34L397.52 365.62L397.47 365.88L397.42 366.13L397.35 366.37L397.27 366.6L397.18 366.81L397.09 367.01L396.98 367.19L396.87 367.35L396.75 367.49L396.62 367.61L396.48 367.71L396.35 367.78L396.21 367.83L396.07 367.85L395.93 367.85L395.79 367.83L395.65 367.78L395.52 367.71L395.38 367.61L395.25 367.49L395.13 367.35L395.02 367.19L394.91 367.01L394.82 366.81L394.73 366.6L394.65 366.37L394.58 366.13L394.53 365.88L394.48 365.62L394.45 365.34L394.43 365.07L394.43 364.8L394.43 364.53L394.45 364.26L394.48 363.98L394.53 363.72L394.58 363.47L394.65 363.23L394.73 363L394.82 362.79L394.91 362.59L395.02 362.41L395.13 362.25L395.25 362.11L395.38 361.99L395.52 361.89L395.65 361.82L395.79 361.77L395.93 361.75L396.07 361.75L396.21 361.77L396.35 361.82L396.48 361.89L396.62 361.99L396.75 362.11L396.87 362.25L396.98 362.41L397.09 362.59L397.18 362.79L397.27 363L397.35 363.23L397.42 363.47L397.47 363.72L397.52 363.98L397.55 364.26L397.57 364.53Z" fill="none" stroke="#aaa" stroke-width="0.45"/>
<path d="M469.8 322.6h.7m-.8 1.4h.7m4.7 .1h.7m-.8 1.2h.7m1.6 1h.7m1.9-.1h.7m-19 1h.7m7.4-.3h.7m1.4 .6h.7m1.9-.1h.7m2.6-.2h.7m-8.6 .9h.7m2.6-.2h.7m2.4-.3h.7m-.3 .5h.7m.7-.6h.7m1.4 .7h.7m5.5-.7h.7m1.7 .5h.7m-15.1 1.2h.7m3.1-.2h.7m.1-.1h.7m5.5 .5h.7m-11.4 .8h.7m-.2-.6h.7m.3 .2h.7m0 .4h.7m-.4-.5h.7m4.2-.1h.7m-12.7 1.5h.7m1.1-.3h.7m-.6 .6h.7m2.3-.2h.7m-.1-.1h.7m-.5 .4h.7m-11.9 .3h.7m1.4 .2h.7m.7-.3h.7m3.4-.2h.7m-.2 1h.7m-.6-.8h.7m-.3 .3h.7m-.5-.3h.7m-.6 .2h.7m1.5-.2h.7m-.5 .7h.7m-.6-.5h.7m-.1 .6h.7m-.3-.3h.7m.2-.3h.7m0 .2h.7m.7-.2h.7m.2-.3h.7m1.4 0h.7m-18.5 1.1h.7m1.3 .1h.7m1.9 .7h.7m-.5-.8h.7m-.5 .2h.7m2.3 .5h.7m-.7-.1h.7m.2-.4h.7m.2 .5h.7m-.6-.1h.7m-.4 .1h.7m0-.7h.7m-.5 .7h.7m-.5-.3h.7m-.2 .4h.7m-.7-.9h.7m-.7 .9h.7m.2-.7h.7m-.2 .4h.7m-.6 .1h.7m.6 .2h.7m2-.1h.7m1-.3h.7m5 0h.7m-30.9 .9h.7m2.8 .4h.7m1.3-.4h.7m.3 .1h.7m2.3-.3h.7m-.4 .4h.7m1.9 .1h.7m-.7-.4h.7m-.7 .5h.7m.7-.6h.7m1 0h.7m0 .4h.7m-.4-.1h.7m-.4 .4h.7m-.6-.5h.7m-.7-.2h.7m.5 .7h.7m-.7-.2h.7m-.4-.5h.7m-.2 .7h.7m-.2-.1h.7m0-.5h.7m.9 .3h.7m-.6 .2h.7m-.5-.4h.7m0-.2h.7m.5-.2h.7m-25.4 1.8h.7m1.2-.5h.7m3.9 .4h.7m1.5-.6h.7m1.7 .5h.7m.2-.1h.7m-.2-.1h.7m4.9-.3h.7m-.6-.1h.7m-.4 .3h.7m-.6 .2h.7m-.3-.5h.7m-.6 .1h.7m-.1 .4h.7m0-.1h.7m-.4 0h.7m1.3-.3h.7m-.6 .2h.7m-.7 .1h.7m-.6-.2h.7m1.5-.1h.7m-41.2 1.6h.7m12.9-.5h.7m1.2 .5h.7m-.4-.4h.7m-.4 .4h.7m-.3-.7h.7m2.4 .5h.7m2.5-.2h.7m-.7-.4h.7m-.3 0h.7m1.4 .3h.7m.7-.2h.7m8.1 .3h.7m-.5 .6h.7m-.7 0h.7m-.5-.4h.7m-.4 .2h.7m-.6-.2h.7m-.4 0h.7m-.5-.2h.7m-.7-.1h.7m-.2 .4h.7m-.5-.6h.7m-.4 .1h.7m-.5 .1h.7m-.3-.2h.7m-.3 .5h.7m-.5 0h.7m-.5 .2h.7m-.7 0h.7m-.4-.7h.7m3 0h.7m-27.3 1h.7m.8 .6h.7m-.5 .1h.7m-.5-.8h.7m-.3 0h.7m-.6 .6h.7m.9-.2h.7m-.3-.1h.7m-.5-.2h.7m.5 .4h.7m13-.4h.7m-.4 0h.7m-.6 .5h.7m-.7 0h.7m-.6 0h.7m-.6-.1h.7m-.6 .2h.7m-.3 .2h.7m-.6-.8h.7m-.6 .4h.7m-.7 .2h.7m-.6 .1h.7m-.6-.1h.7m-.5-.4h.7m-.6 0h.7m-.7-.3h.7m-.6 .4h.7m-.5-.4h.7m-.3 .9h.7m-.7 0h.7m0-.9h.7m.1 .3h.7m-.4 .5h.7m1.3-.1h.7m-29 1.1h.7m4.3-.1h.7m-.6 0h.7m.1-.2h.7m-.1 .3h.7m15-.6h.7m-.6-.1h.7m-.6 .3h.7m-.2 .1h.7m-.6-.1h.7m-.5-.3h.7m-.2 .4h.7m0 .1h.7m-.6 .1h.7m-.3-.4h.7m-.6 .1h.7m-.5-.1h.7m-.6 0h.7m-.5 0h.7m-.6 .7h.7m-.1-.7h.7m-.1 .6h.7m3-.7h.7m-33.5 .8h.7m3.6 .2h.7m-.2 0h.7m-.7 .5h.7m0-.4h.7m-.7 .2h.7m.5 .3h.7m-.4-.1h.7m-.3-.3h.7m-.3-.4h.7m16.3 .2h.7m-.4 .1h.7m-.6 .2h.7m-.6-.4h.7m-.7 .6h.7m-.3 .1h.7m-.7-.3h.7m-.6-.3h.7m-.6 .5h.7m-.7-.6h.7m-.6 .9h.7m-.4-.3h.7m-.7-.4h.7m-.5 .3h.7m-.6-.4h.7m-.1-.1h.7m-.6 .5h.7m.5 0h.7m-.6-.1h.7m-.6-.1h.7m.8 .1h.7m1 .4h.7m-40.9 1h.7m2.3-.8h.7m1.4 .7h.7m1.1-.8h.7m1.2 .7h.7m.6 .2h.7m-.2-.1h.7m-.7-.2h.7m.3 .1h.7m-.4 0h.7m-.6-.6h.7m-.3 .4h.7m-.7-.1h.7m-.5 .3h.7m20-.5h.7m-.6 .7h.7m-.5-.8h.7m-.6 0h.7m-.6 .6h.7m-.6-.3h.7m-.5 .6h.7m-.6-.7h.7m-.6 .7h.7m-.5-.2h.7m-.6 0h.7m-.7-.1h.7m0-.2h.7m-.5-.3h.7m-.5 .1h.7m-.7 .4h.7m-.1-.3h.7m-.7 .1h.7m-.4 .1h.7m-.6-.3h.7m-.3 0h.7m-.6 .4h.7m-.7-.6h.7m.7 .2h.7m-33.7 1h.7m-.4 0h.7m-.3 0h.7m-.5 .3h.7m-.4 .1h.7m1 .1h.7m-.7 .2h.7m-.1-.9h.7m.7 .8h.7m-.6-.6h.7m.2 .4h.7m-.3 .2h.7m-.4 0h.7m-.6-.8h.7m-.6 .6h.7m.2-.2h.7m19.4 .4h.7m-.5-.8h.7m-.6 .5h.7m-.4-.2h.7m-.7 .4h.7m-.5-.7h.7m-.6 .2h.7m-.7-.1h.7m-.2 .1h.7m-.6 .2h.7m0 .1h.7m-.6 .1h.7m.1-.7h.7m-.5 .3h.7m-.6 .5h.7m.1-.2h.7m-.7-.4h.7m-.2 .4h.7m-.4 .4h.7m.4-.2h.7m-34.4 1.1h.7m.3-.1h.7m-.5-.4h.7m0-.3h.7m-.6 .6h.7m-.4 .2h.7m-.4-.7h.7m.2 .3h.7m.1 .3h.7m-.6 .1h.7m-.7-.3h.7m-.6 .3h.7m.1 .1h.7m-.7-.2h.7m-.5-.2h.7m-.6 .2h.7m-.6-.3h.7m-.6 .2h.7m.1-.4h.7m-.7-.1h.7m20.5 .5h.7m-.1-.5h.7m-.7 .2h.7m-.2 .1h.7m-.7 .3h.7m-.7-.7h.7m-.5 .8h.7m-.1-.5h.7m-.5 .5h.7m-.6-.5h.7m-.7 .2h.7m-.5 .3h.7m-31 .3h.7m-.3 0h.7m-.3 0h.7m-.3 .5h.7m-.1-.4h.7m-.6 0h.7m-.2 .6h.7m-.5-.7h.7m.2 .6h.7m.1-.1h.7m-.4-.3h.7m-.7 .5h.7m-.4-.7h.7m-.4-.1h.7m-.6 .5h.7m-.6 0h.7m-.6-.5h.7m-.6 .5h.7m-.7-.1h.7m21.4 0h.7m-.6 .3h.7m.5 .1h.7m-.6-.6h.7m-.7 .3h.7m-.5 .1h.7m-.5-.2h.7m.5-.4h.7m.4 .9h.7m-42.7 0h.7m8.9 .9h.7m.4-.1h.7m.2-.8h.7m.1 .1h.7m-.5 .2h.7m-.6 .1h.7m-.7 .1h.7m-.5-.3h.7m-.5 0h.7m-.4 .6h.7m-.5-.3h.7m-.2 .3h.7m-.7 .1h.7m-.6 0h.7m-.6-.4h.7m-.5 .3h.7m-.4-.1h.7m-.7 .1h.7m-.3 .2h.7m22-.1h.7m-.5-.3h.7m-.6 .4h.7m-.7-.5h.7m-.2-.4h.7m-.6 .5h.7m-.7-.4h.7m-.7 .6h.7m-.4-.6h.7m-.4 .8h.7m-.2-1h.7m-.6 .2h.7m-.3 .7h.7m.4-.8h.7m.6 .4h.7m-46.6 1h.7m6.8 .1h.7m4.8-.1h.7m-.1 .2h.7m-.5 .2h.7m.2-.7h.7m-.7 .6h.7m-.3-.2h.7m-.3 0h.7m-.5-.3h.7m-.6 .2h.7m-.5-.3h.7m-.7-.1h.7m-.6 .5h.7m-.6 .2h.7m-.7 0h.7m-.2-.1h.7m-.7-.1h.7m-.5-.4h.7m-.7 .8h.7m-.5-1h.7m-.6 .6h.7m-.6-.1h.7m-.7 0h.7m23.2 .1h.7m-.7 .4h.7m-.5-.7h.7m-.6-.1h.7m-.6 .1h.7m-.3 .1h.7m-.3 .2h.7m-.3-.1h.7m-.6-.1h.7m-.6-.1h.7m0-.1h.7m.3 .1h.7m-.7 0h.7m-.5 .4h.7m-.1-.7h.7m-36.6 1.2h.7m.6 .5h.7m-.4-.4h.7m1.4 .5h.7m-.4-.2h.7m-.2-.2h.7m-.6 0h.7m-.6 .1h.7m-.6-.2h.7m-.2 .3h.7m-.5 0h.7m-.6-.1h.7m-.5-.1h.7m-.4-.3h.7m-.4 .7h.7m-.6-.1h.7m-.3 .3h.7m-.6-.9h.7m-.5 .2h.7m-.7 .1h.7m-.7 .1h.7m-.4-.5h.7m-.6 .3h.7m23 .1h.7m-.6 .2h.7m-.2 0h.7m0-.1h.7m-.5-.4h.7m.4 .6h.7m.3 0h.7m-.1-.3h.7m.2-.3h.7m-.1-.1h.7m.2 0h.7m-46.7 1.9h.7m8.2-.3h.7m.8-.4h.7m-.4-.1h.7m-.2 .4h.7m-.2 .3h.7m.2-.2h.7m-.2 .1h.7m-.6-.4h.7m-.4 .2h.7m-.1 .4h.7m-.5-.3h.7m-.5-.4h.7m-.6 .6h.7m-.7-.3h.7m-.5-.3h.7m-.4-.2h.7m-.6 .1h.7m23.6 .7h.7m-.6 0h.7m.6-.6h.7m-.4-.2h.7m-.2 .2h.7m-.5-.1h.7m-.3 .2h.7m0 .1h.7m1.2-.1h.7m3.8-.1h.7m-44.9 .8h.7m3.3 .8h.7m.2-.5h.7m.5-.2h.7m-.6 .3h.7m-.1 .6h.7m-.5-.1h.7m-.5-.5h.7m-.2-.2h.7m-.7 .4h.7m-.7-.1h.7m-.5 .1h.7m-.5-.6h.7m-.6 .2h.7m-.2 .6h.7m-.3-.6h.7m-.7 .4h.7m-.6 0h.7m-.6 0h.7m24.3-.2h.7m-.2 .2h.7m-.7-.5h.7m-.3 .4h.7m-.7 0h.7m-.1-.4h.7m-.7 0h.7m-.1 .6h.7m0-.2h.7m1.3-.3h.7m.1-.1h.7m.4 .8h.7m-40.4 .9h.7m1.7-.4h.7m.1 0h.7m1 .1h.7m-.6 .5h.7m-.4-.2h.7m-.6-.2h.7m-.6-.1h.7m-.3 .4h.7m-.7-.2h.7m-.6-.4h.7m-.3 .3h.7m-.5 .3h.7m-.6-.5h.7m-.5 0h.7m-.7 .1h.7m-.6-.3h.7m-.5 .4h.7m-.5-.4h.7m-.6 .3h.7m-.6 0h.7m-.6 .3h.7m24.1 0h.7m-.6-.1h.7m-.5-.3h.7m-.5 .2h.7m-.1-.5h.7m-.7 .1h.7m-.6 .8h.7m-.2-.4h.7m-.5-.2h.7m-.6-.1h.7m.7 .5h.7m-.5-.4h.7m-.7-.4h.7m-.5 .2h.7m.1 .1h.7m.2 .3h.7m1.2-.2h.7m-37.9 1.4h.7m-.2 .1h.7m.3-.6h.7m-.4 .5h.7m-.5-.6h.7m-.2-.1h.7m-.4 .2h.7m-.5 .5h.7m-.6-.5h.7m-.5-.1h.7m-.5 .8h.7m-.6-.5h.7m-.5 .4h.7m-.7 0h.7m-.6-.8h.7m-.7 .2h.7m-.6 .4h.7m-.7-.2h.7m-.4-.4h.7m-.7 .5h.7m-.6 .4h.7m-.1-.9h.7m-.6 0h.7m-.7 .2h.7m24 .7h.7m-.5-.9h.7m-.5 .6h.7m-.6-.3h.7m.4 .2h.7m-.4 .1h.7m.2 .2h.7m-.7-.1h.7m-.6 .1h.7m-.1-.4h.7m-.6 .3h.7m-.1-.7h.7m1.5 .8h.7m-.3-.3h.7m1.2-.3h.7m-45.4 .7h.7m.2 .4h.7m5.2-.1h.7m-.3-.1h.7m1.1 .3h.7m-.5-.4h.7m-.6 .9h.7m-.6 0h.7m-.7-.4h.7m-.7-.6h.7m-.3 .3h.7m0 .7h.7m-.4-.9h.7m-.6 .5h.7m-.7-.4h.7m-.6-.1h.7m-.6 .3h.7m-.7 .4h.7m24-.4h.7m-.6-.3h.7m.2 .1h.7m-.6 .4h.7m-.5-.3h.7m-.4 .5h.7m-.2-.3h.7m-.5 .3h.7m-.6-.8h.7m-.6 .6h.7m-.7-.3h.7m-.5 0h.7m.3-.2h.7m3.2 0h.7m-39.5 1.5h.7m0 .2h.7m1.3-.2h.7m-.3-.3h.7m-.2 .2h.7m-.3 .3h.7m.3-.3h.7m-.1-.1h.7m-.6 .4h.7m-.2 0h.7m24.5-.6h.7m-.6 .1h.7m-.2 0h.7m-.6 .6h.7m-.5-.1h.7m-.6-.6h.7m-.6 .5h.7m-.6-.2h.7m-.4 0h.7m-.3-.2h.7m-.6-.1h.7m0 .6h.7m-.7-.8h.7m1 .5h.7m-44.6 1.2h.7m8.7-.1h.7m-.4 0h.7m-.5-.6h.7m0 .3h.7m-.2 .1h.7m-.3 .4h.7m-.6-.2h.7m-.6-.4h.7m-.2-.2h.7m-.2 .6h.7m-.6 .3h.7m-.3-.2h.7m-.5 0h.7m-.5-.2h.7m-.4 0h.7m-.5 .3h.7m-.7-.7h.7m-.5 .4h.7m-.6-.1h.7m-.7 .3h.7m-.5-.4h.7m23.8 .4h.7m-.7-.2h.7m0 .1h.7m-.6 .1h.7m-.4-.7h.7m-.3 .7h.7m-.4-.4h.7m-.5 .1h.7m-.7-.3h.7m-.3 .5h.7m-.4-.3h.7m-.6 .4h.7m-.6 .3h.7m-.4 0h.7m-.5-.2h.7m-.7-.5h.7m-.2-.2h.7m2.3 0h.7m3.3 .6h.7m3.2-.4h.7m-49.2 1.4h.7m-.1-.6h.7m.4 .1h.7m0-.2h.7m1 .8h.7m.1-.3h.7m-.6 .5h.7m-.3-.5h.7m0 .4h.7m-.7-.6h.7m-.4-.3h.7m-.5 .9h.7m-.6-.3h.7m-.4-.2h.7m-.2 .1h.7m-.6-.3h.7m-.4-.2h.7m-.7 .2h.7m-.2 .5h.7m-.7-.6h.7m-.5-.1h.7m-.6 .4h.7m-.4-.1h.7m-.7-.2h.7m-.6 .3h.7m-.7-.2h.7m-.5 0h.7m-.7 .2h.7m-.7 .5h.7m-.7-.4h.7m-.1 .3h.7m22.4 .1h.7m-.6-.6h.7m-.3 .5h.7m-.7 0h.7m-.5-.8h.7m-.5 .1h.7m-.7 0h.7m-.2 .6h.7m-.4-.6h.7m.4 .6h.7m-.3-.1h.7m-.7 .1h.7m-.3-.6h.7m-.5 .2h.7m-.5 .6h.7m-38.7 .5h.7m.7-.2h.7m1.7 .2h.7m-.2-.1h.7m.4 .6h.7m-.1-.5h.7m-.6 0h.7m-.1 .2h.7m-.5-.5h.7m-.5 .1h.7m-.1 .2h.7m-.5 .5h.7m-.6-.1h.7m.2-.6h.7m-.6-.1h.7m-.5 0h.7m-.2 .6h.7m-.7-.6h.7m-.6 0h.7m-.3 .3h.7m-.7 .1h.7m-.6 .4h.7m-.7-.3h.7m-.6-.5h.7m-.6 .1h.7m-.7 .6h.7m-.5-.7h.7m-.7 .4h.7m-.6 .1h.7m-.5 .3h.7m-.3 .1h.7m-.6-.2h.7m-.7-.1h.7m21.9-.6h.7m.1 .2h.7m-.7-.1h.7m-.4 .5h.7m-.5-.4h.7m-.3 .4h.7m.4-.5h.7m-.6-.2h.7m0 .4h.7m1.6-.2h.7m.5-.1h.7m-41.8 1.8h.7m0-.7h.7m.2 .2h.7m3.8 .4h.7m.3-.8h.7m-.7 .9h.7m-.2-.4h.7m-.5-.4h.7m-.6 .8h.7m0-.8h.7m-.7 .8h.7m-.6-.6h.7m-.6-.2h.7m-.3 .6h.7m-.7-.6h.7m-.2 .6h.7m-.1-.5h.7m-.7 0h.7m-.5 .4h.7m-.7 .2h.7m-.7 .1h.7m-.4-.3h.7m-.7-.2h.7m-.4 .4h.7m-.5-.7h.7m-.7 .5h.7m-.6 .3h.7m-.4-.1h.7m-.6-.4h.7m-.6 .1h.7m-.4-.2h.7m-.6 .7h.7m-.6-.7h.7m-.5 .3h.7m-.6 .3h.7m-.6-.1h.7m20.1-.5h.7m-.3 .4h.7m-.5-.6h.7m-.4 .2h.7m0 0h.7m.1 .2h.7m-.5 .1h.7m-.6-.5h.7m.8 .6h.7m-.1-.1h.7m-.3-.4h.7m-45.1 1h.7m7.1 .2h.7m.8 .2h.7m-.3-.3h.7m.7 0h.7m-.4 .5h.7m.8-.5h.7m0-.1h.7m-.3 .6h.7m-.3 .2h.7m-.6-.1h.7m-.6 0h.7m-.6-.4h.7m-.4 0h.7m-.4 .2h.7m-.5-.3h.7m-.4 .1h.7m-.5 .2h.7m-.6-.1h.7m-.6-.4h.7m-.7-.1h.7m-.3 .8h.7m-.7-.9h.7m-.7 .5h.7m-.6-.2h.7m-.6-.1h.7m-.7 .1h.7m-.5 .1h.7m-.7 .2h.7m-.4-.3h.7m-.1 0h.7m-.7 0h.7m-.6 .5h.7m-.6 0h.7m-.5 .2h.7m-.7-.3h.7m-.6-.3h.7m-.6 .3h.7m-.6 .3h.7m-.7-.5h.7m-.5-.3h.7m-.7 .6h.7m-.6-.6h.7m-.7 .6h.7m-.6-.3h.7m-.3-.1h.7m-.7-.2h.7m-.7 .7h.7m-.2 .1h.7m-.4-.3h.7m-.5 .1h.7m16.5 0h.7m-.3 0h.7m-.6-.4h.7m-.6 .1h.7m-.6 .5h.7m-.3-.4h.7m-.6-.2h.7m-.7 .4h.7m-.5-.3h.7m-.7 0h.7m-.4 .1h.7m-.5 .3h.7m-.4-.4h.7m-.6-.3h.7m-.5 .4h.7m.1-.2h.7m.1 .2h.7m3.3-.6h.7m-44.3 1.3h.7m3.3-.3h.7m1.2 .8h.7m2-.2h.7m-.5-.4h.7m.4 .2h.7m-.6 .2h.7m-.4-.4h.7m.3 .5h.7m-.7 0h.7m.3 0h.7m-.4 0h.7m-.7 0h.7m-.3 .1h.7m0-.2h.7m-.6-.5h.7m-.4 .2h.7m-.6 .4h.7m-.6-.4h.7m-.5 .4h.7m-.4 0h.7m-.2-.3h.7m-.7-.2h.7m-.5 0h.7m-.5 0h.7m-.5 .8h.7m-.5-.1h.7m-.7-.2h.7m-.6-.5h.7m-.6-.1h.7m-.4 .1h.7m-.6 0h.7m-.6 .5h.7m-.3-.2h.7m-.3 .4h.7m-.6-.8h.7m0 .7h.7m-.5-.5h.7m-.5-.1h.7m-.4 .6h.7m-.2 .1h.7m-.5-.4h.7m0 0h.7m-.2 .2h.7m-.5 .2h.7m.8-.2h.7m.7 .2h.7m1.6 0h.7m1-.1h.7m.4 0h.7m.4-.1h.7m.4 .2h.7m-.4 .1h.7m.8-.2h.7m-.5 .1h.7m-.7 .1h.7m-.6-.4h.7m-.7-.1h.7m-.5 .3h.7m-.2 .1h.7m-.6-.1h.7m-.3-.2h.7m-.6-.4h.7m-.3-.1h.7m-.5 .3h.7m-.6-.3h.7m-.6 .1h.7m-.6 .4h.7m-.5-.5h.7m-.6 0h.7m-.4 .1h.7m-.7 .7h.7m-.1-.8h.7m-.7 .4h.7m-.3 .5h.7m-.6-1h.7m.9 .7h.7m-.6 0h.7m-.3-.6h.7m-.7 .5h.7m-.6-.1h.7m-.2-.3h.7m-.5 .7h.7m-.1-.2h.7m-.5-.5h.7m-.3 .2h.7m-42.3 1.6h.7m.3-.2h.7m1.2-.1h.7m-.3-.6h.7m-.3 .8h.7m5.6 .1h.7m1.3-.2h.7m-.5 .1h.7m-.5-.6h.7m-.4 .4h.7m-.4 .3h.7m0-.2h.7m-.4 .1h.7m-.1-.4h.7m-.5-.4h.7m-.6 .5h.7m-.4-.5h.7m-.5 .3h.7m-.6-.1h.7m-.4 .2h.7m-.6-.5h.7m-.5 .1h.7m-.3 .6h.7m.1-.7h.7m-.5 0h.7m.3 .4h.7m-.6 .3h.7m-.3-.1h.7m-.4 0h.7m-.6 0h.7m-.5-.5h.7m-.3 .8h.7m-.5-.6h.7m-.7 .4h.7m.6-.7h.7m0 .1h.7m-.2 .3h.7m-.6-.3h.7m-.5 .9h.7m-.7-.4h.7m-.6-.1h.7m-.5 .1h.7m-.6 .3h.7m-.4-.7h.7m-.6-.1h.7m.2 .9h.7m-.3-.7h.7m-.7 .6h.7m-.4-.3h.7m1.2 .2h.7m-.5-.5h.7m-.5 .3h.7m.5 .2h.7m-.7-.7h.7m-.1 .2h.7m-.5 .5h.7m-.6-.7h.7m-.3 .8h.7m0-.5h.7m-.4 0h.7m-.3 .1h.7m-.6 .2h.7m-.6-.6h.7m-.7-.1h.7m-.7 .7h.7m-.6-.6h.7m-.4 .2h.7m-.7 .2h.7m-.4 .2h.7m-.6 .3h.7m-.2-.9h.7m-.4-.1h.7m-.5 .2h.7m2.7 0h.7m-.3 0h.7m-.7 .6h.7m-.4-.3h.7m-.7-.5h.7m-.3 1h.7m-.6-.5h.7m0-.5h.7m-.6 .1h.7m-.6-.1h.7m-.6 .3h.7m-.6 .4h.7m.8-.6h.7m-39.9 1.1h.7m1 .5h.7m5.5-.6h.7m-.1 .2h.7m.1 .4h.7m3-.4h.7m-.5-.1h.7m.1 .2h.7m-.4 .6h.7m-.6-1h.7m-.7 .9h.7m-.5-.5h.7m0 .3h.7m1-.6h.7m-.6 .1h.7m-.6 .1h.7m-.3-.2h.7m-.3 .4h.7m.2-.2h.7m.6-.2h.7m-.5 0h.7m-.7 .9h.7m-.5-1h.7m-.6 .2h.7m.5 .4h.7m-.2-.5h.7m-.4 .8h.7m-.6-.6h.7m-.2-.2h.7m1.2 .3h.7m-.1-.4h.7m-.6 .1h.7m-.6 .4h.7m-.4-.1h.7m-.6-.1h.7m-.5 .3h.7m.2-.5h.7m.1 .5h.7m0 .1h.7m-.6-.2h.7m-.1-.4h.7m-.7 .8h.7m-.5-.7h.7m-.4 .7h.7m-.4-.1h.7m-.7 0h.7m-.6-.2h.7m-.5 0h.7m-.5-.2h.7m-.5-.2h.7m-.7 .3h.7m-.7 0h.7m-.6-.3h.7m4.6 .5h.7m-.6-.2h.7m.1-.2h.7m-.6 0h.7m-.7-.1h.7m.1 .4h.7m-41.5 .6h.7m.5 .7h.7m1 .1h.7m2.5-.3h.7m-.2 .1h.7m-.3-.6h.7m-.6-.2h.7m.9 .4h.7m-.6 0h.7m-.5-.2h.7m-.5 .5h.7m1.8-.5h.7m-.3 .5h.7m0-.3h.7m-.3-.4h.7m-.4 .6h.7m-.6-.5h.7m.4 .4h.7m-.5-.1h.7m0 .2h.7m1.2 0h.7m-.6-.5h.7m.7 .9h.7m-.4-.8h.7m-.1 .6h.7m.5-.7h.7m-.1 .6h.7m-.3-.4h.7m-.4-.1h.7m0 .5h.7m-.7-.1h.7m-.5 0h.7m-.5 .3h.7m-.6-.3h.7m-.7 .3h.7m0-.9h.7m1.5 .6h.7m-.2 0h.7m.5 .4h.7m-.4-.1h.7m-.6-.5h.7m-.4 .4h.7m-.3-.2h.7m-.6 .1h.7m.2-.6h.7m0 .1h.7m-.5 0h.7m-.6 0h.7m-.6 .4h.7m.5 .1h.7m-.4 .2h.7m-.5-.2h.7m-.7-.4h.7m-.7-.3h.7m-.6 .3h.7m-33.7 1.3h.7m-.5 .3h.7m.1-.7h.7m.8-.1h.7m.1 .8h.7m.3-.5h.7m0 .2h.7m.2 .2h.7m-.4 .2h.7m-.7-.5h.7m-.6 .3h.7m-.1-.1h.7m.1-.6h.7m.1 .3h.7m-.2-.4h.7m-.2 .6h.7m.4-.5h.7m.9 .7h.7m0-.4h.7m1.1 .1h.7m-.4-.2h.7m.8-.2h.7m-.4 .2h.7m-.2 .3h.7m-.6 0h.7m.2 .1h.7m2.3-.2h.7m-.5 .3h.7m-.4-.2h.7m.9-.6h.7m.5 .4h.7m-.3 .5h.7m-.6-.8h.7m0 .1h.7m.5 .1h.7m.5-.1h.7m-.7 .7h.7m1.2 0h.7m-.4-.7h.7m-.3 .5h.7m-.6-.2h.7m-.7-.1h.7m-.3 .1h.7m-.3 .5h.7m-.6-.4h.7m-.3-.4h.7m-.4 .1h.7m-.7 .5h.7m-.3-.3h.7m6.3 .4h.7m-.5-.3h.7m0-.1h.7m2.1-.5h.7m-43.8 1.1h.7m2.5 .3h.7m-.4 .1h.7m-.6-.5h.7m.2 .3h.7m.7 .1h.7m.8 0h.7m-.1 .4h.7m-.6-.1h.7m0-.4h.7m1.6 .6h.7m.1 0h.7m-.7 0h.7m-.7-.5h.7m1.3 .3h.7m-.2-.5h.7m-.5 .6h.7m.2 0h.7m-.7 .1h.7m1.2-.6h.7m-.6 .6h.7m-.4-.6h.7m-.5 .4h.7m.2-.1h.7m-.2-.4h.7m0 .3h.7m-.7 .2h.7m-.1-.3h.7m-.6 0h.7m1.6-.2h.7m.6 .6h.7m.1-.5h.7m-.3 .3h.7m-.4 .2h.7m-.1-.1h.7m1.9 .3h.7m-.6-.9h.7m-.4-.1h.7m.2 .6h.7m-.1 .3h.7m-.5-.2h.7m-.3-.2h.7m7.2-.1h.7m-.3 .5h.7m-.5-.4h.7m-.7 .3h.7m-40.4 .8h.7m2.4 .2h.7m3.7-.5h.7m-.1 .3h.7m.1-.4h.7m-.7-.2h.7m.3 .5h.7m-.6 .5h.7m1.4-.2h.7m-.7-.5h.7m.3 0h.7m.3 .3h.7m.1-.2h.7m.5-.1h.7m0-.1h.7m-.4 .3h.7m0 .5h.7m-.6-.2h.7m-.4-.4h.7m0 .2h.7m-.7-.6h.7m-.6 .2h.7m-.3 .7h.7m-.6-.8h.7m.5 .9h.7m.4-.7h.7m-.5 .2h.7m-.2-.1h.7m-.7 .5h.7m-.6-.1h.7m1.3-.5h.7m-.4 0h.7m0 0h.7m-.4 .2h.7m-.4 0h.7m.7 .4h.7m-.6-.9h.7m.1 .2h.7m.4 .7h.7m.5-.3h.7m7.4-.2h.7m-.6 .5h.7m0-.3h.7m-.5 .3h.7m-.6-.2h.7m-.4-.1h.7m-.6-.1h.7m-38.6 1h.7m.5-.3h.7m1.7 .6h.7m-.6-.1h.7m-.6-.5h.7m-.2 .2h.7m2.7 .5h.7m-.5-.1h.7m0-.6h.7m0 .6h.7m.2-.2h.7m1.6-.3h.7m-.2 .2h.7m.2-.1h.7m-.5-.2h.7m1.3 .5h.7m-.3 0h.7m1.8-.3h.7m.1-.1h.7m.4 .3h.7m-.5 0h.7m-.6-.1h.7m.3-.4h.7m-.4 .5h.7m-.3-.2h.7m.1-.1h.7m1.5 .4h.7m-.5-.3h.7m-.5 0h.7m-.6 .1h.7m-.5 .2h.7m-.3 .1h.7m-.4-.5h.7m-.4 .3h.7m-.5 0h.7m-.4 .1h.7m-.5 .2h.7m-.3-.6h.7m7.2 .3h.7m-.6-.4h.7m.4-.1h.7m-.1 .7h.7m-43.6 .6h.7m1.4 .5h.7m-.6-.3h.7m2.1-.4h.7m.9 .7h.7m.1-.8h.7m-.4 .5h.7m.1 0h.7m.1 .1h.7m.2-.6h.7m-.7-.1h.7m.1 .6h.7m-.6-.5h.7m0 .4h.7m-.5 .5h.7m2.1-.3h.7m-.6 .2h.7m-.6-.4h.7m-.6 .4h.7m-.2 0h.7m-.6-.9h.7m0 .6h.7m-.3-.3h.7m-.3-.1h.7m0 .4h.7m.2-.1h.7m-.6-.3h.7m-.2 .7h.7m-.6-.9h.7m-.3 .3h.7m-.3 .6h.7m-.4-.6h.7m-.5-.3h.7m2.3 .6h.7m-.2 .2h.7m.2 0h.7m-.3-.2h.7m.1 .1h.7m-.5-.5h.7m.1 .1h.7m-.4-.3h.7m.9 .4h.7m.8 .1h.7m-.5-.1h.7m-.6 .5h.7m.1-.7h.7m-.6 .4h.7m-.4-.2h.7m-.3-.1h.7m-.5 .3h.7m-.5 .4h.7m-.7-.4h.7m-.4 .1h.7m8.2 0h.7m-.1 .1h.7m-.6-.2h.7m-.2 0h.7m-43.4 .7h.7m.5 .2h.7m1.4 .1h.7m.2 .1h.7m-.6-.5h.7m-.4 .7h.7m.4-.8h.7m.1 0h.7m-.5-.1h.7m-.5 .8h.7m1.5 .2h.7m.2-.1h.7m-.4-.7h.7m-.7 .4h.7m-.4 0h.7m-.1 .4h.7m.7-.5h.7m-.6-.5h.7m-.1 .8h.7m.1-.8h.7m.5 .2h.7m0 .8h.7m.1-.7h.7m-.2 .3h.7m-.4 .1h.7m0 .3h.7m.3-.6h.7m2.2 0h.7m-.4 .5h.7m-.1-.7h.7m.5 .5h.7m-.5 .2h.7m-.1 0h.7m1.2-.2h.7m.2-.3h.7m0-.3h.7m-.6 .2h.7m-.6-.2h.7m.4 .4h.7m-.5-.5h.7m-.6 .3h.7m.1 .7h.7m-.4 0h.7m-.6-.3h.7m-.3-.5h.7m-.6 .8h.7m-.4-.8h.7m7.7 0h.7m-.5 .7h.7m-.7 0h.7m.4 0h.7m-.4-.5h.7m-.7-.3h.7m2.3 .4h.7m-45.1 .8h.7m1 .2h.7m.5-.1h.7m.6 .3h.7m-.5-.2h.7m.9 .3h.7m-.7-.2h.7m-.5-.5h.7m-.5 .4h.7m2 .4h.7m-.6 .1h.7m-.1-.3h.7m-.3-.6h.7m-.2 .3h.7m-.4 .5h.7m0-.1h.7m.8 0h.7m.3-.7h.7m.2 .1h.7m-.5 0h.7m-.3 .4h.7m0-.5h.7m-.7 .8h.7m-.4 0h.7m-.5-.3h.7m-.3-.4h.7m-.4 .6h.7m.4 .1h.7m.1-.1h.7m.2-.6h.7m-.5 .8h.7m-.6-.8h.7m-.4-.1h.7m-.5 .8h.7m-.1-.6h.7m.5 .7h.7m.5-.8h.7m.5 .5h.7m-.3-.5h.7m-.5 .2h.7m.3-.3h.7m.6 .2h.7m-.6 .4h.7m-.5 0h.7m-.5-.3h.7m.2-.3h.7m-.6 .6h.7m-.2-.5h.7m-.5 .8h.7m-.6-.9h.7m-.6 .1h.7m-.6 .4h.7m-.6-.5h.7m-.3 .2h.7m-.2 .6h.7m7.1-.5h.7m-.4-.3h.7m-.5 .4h.7m-.4 .1h.7m-.5-.6h.7m-.4 .3h.7m.6-.2h.7m-43.9 1.2h.7m2.3 .4h.7m-.4-.5h.7m2 .1h.7m-.5 .4h.7m.7-.2h.7m-.2 0h.7m-.4-.2h.7m-.4-.2h.7m-.7 .6h.7m-.4 .2h.7m-.6 0h.7m-.4-.3h.7m-.6-.1h.7m-.5-.3h.7m-.5 0h.7m-.6 .3h.7m-.4 .3h.7m-.1 0h.7m.3-.1h.7m-.2-.7h.7m-.5 .1h.7m-.7 .4h.7m-.6-.5h.7m-.6 .2h.7m-.2 .3h.7m-.7 .5h.7m.7-.5h.7m-.4 0h.7m-.3 .1h.7m0-.2h.7m-.6-.4h.7m-.3 0h.7m-.5 .4h.7m-.4 0h.7m.4 .5h.7m-.6-.6h.7m.4 0h.7m.2 .5h.7m-.6-.3h.7m-.4-.4h.7m-.5 .3h.7m-.7 .3h.7m-.7-.5h.7m1.4 .2h.7m2 .3h.7m0-.1h.7m.2 .3h.7m-.5-.5h.7m.4-.4h.7m.1 .5h.7m-.7 .4h.7m-.6-.5h.7m-.7 .3h.7m-.4-.5h.7m-.6 .4h.7m-.3-.4h.7m-.5-.1h.7m-.4 .3h.7m-.5 .1h.7m-.4-.4h.7m-.4 .1h.7m-.6-.2h.7m-.6 .1h.7m-.6-.1h.7m-.7 .3h.7m-.5 0h.7m-.7-.2h.7m-.5 .8h.7m-.6-.2h.7m-.6-.2h.7m-.6 .1h.7m-.7-.1h.7m-.5 .4h.7m-.6-.1h.7m6.6-.4h.7m-.4 .6h.7m-.3-.5h.7m-.4 .1h.7m-42.5 .7h.7m-.1-.3h.7m.5 .5h.7m.3-.3h.7m.2 .1h.7m.5 .5h.7m-.5-.1h.7m-.1-.1h.7m-.7 .4h.7m.2-.1h.7m-.5-.4h.7m-.5 .5h.7m1.2-.3h.7m-.6 .1h.7m-.2-.2h.7m-.1-.2h.7m-.4 .5h.7m.2-.4h.7m.5 .3h.7m.2 .1h.7m-.1-.4h.7m-.5 .1h.7m.1 0h.7m-.7-.4h.7m-.6 .7h.7m-.7-.2h.7m-.1-.7h.7m-.2 .3h.7m.1 .2h.7m-.7 .5h.7m.2-.4h.7m.5-.5h.7m-.4 .1h.7m-.4 .2h.7m-.5-.3h.7m-.6 .9h.7m-.4-.4h.7m-.4 .3h.7m-.6 0h.7m-.4-.3h.7m-.5-.4h.7m.3 .1h.7m-.2 .4h.7m.1 .3h.7m.2-.1h.7m3-.5h.7m.2 .3h.7m-.1 .3h.7m-.6-1h.7m-.4 .5h.7m.5 .3h.7m-.3-.3h.7m-.6-.2h.7m-.3 .2h.7m-.6 0h.7m-.6 .3h.7m-.6-.1h.7m-.3 .1h.7m-.3-.3h.7m-.3-.3h.7m-.7 .3h.7m-.3 .3h.7m5.8 .2h.7m-.7-.3h.7m-.3-.2h.7m-.6-.4h.7m-.7 .4h.7m-.6-.1h.7m-.6 .3h.7m-.2-.4h.7m-.7-.2h.7m-.5 .6h.7m.6-.2h.7m2-.3h.7m-46 1.7h.7m.8-.4h.7m1.7 .5h.7m-.3-.4h.7m-.6-.2h.7m-.1 .2h.7m4.8-.4h.7m-.7 .6h.7m-.3-.7h.7m.3 0h.7m-.1 0h.7m-.7 .1h.7m-.3 .6h.7m-.2-.6h.7m-.7 .4h.7m-.5 .2h.7m.5-.3h.7m-.4-.4h.7m-.7 .3h.7m-.1 .5h.7m-.1-.8h.7m-.7 .4h.7m-.6-.2h.7m-.6-.1h.7m-.6-.2h.7m-.4 .2h.7m-.5 0h.7m-.5 .3h.7m-.4 .2h.7m-.6 .1h.7m-.5 .1h.7m-.1-.8h.7m-.1 .6h.7m-.2 0h.7m-.5-.2h.7m.1-.4h.7m.2 .9h.7m.7-.5h.7m.3-.3h.7m-.7 .1h.7m-.1 .4h.7m.6-.6h.7m-.4 .5h.7m-.7-.4h.7m-.4 .1h.7m-.6 0h.7m-.5 .3h.7m1-.5h.7m-.7 .4h.7m0-.5h.7m-.3 .3h.7m.5 0h.7m-.4 .1h.7m-.3-.2h.7m-.5 0h.7m-.5 .6h.7m-.2-.3h.7m-.7 .1h.7m-.5-.2h.7m-.6-.1h.7m-.7-.2h.7m0 .9h.7m-.7 0h.7m-.6-.9h.7m-.6 .4h.7m5.2-.2h.7m-.5 .7h.7m-.6 0h.7m-.6-.8h.7m-.6 .3h.7m-.7 0h.7m-.6 0h.7m-.5-.4h.7m-.5 .6h.7m-.6 .2h.7m-.5-.9h.7m-.5 .9h.7m-.7-.1h.7m-.3-.7h.7m.6 0h.7m.8 .4h.7m-45.3 1.4h.7m.6-.7h.7m-.4 .1h.7m2.1-.1h.7m-.7 .6h.7m0-.4h.7m-.6-.3h.7m-.5 .4h.7m-.3 .2h.7m.1 0h.7m-.4-.2h.7m-.6-.3h.7m-.4 .3h.7m.3 .3h.7m.4-.1h.7m.2-.7h.7m-.6 .4h.7m-.5-.1h.7m-.6 0h.7m-.1 .6h.7m.1-.1h.7m-.6-.6h.7m-.6 .5h.7m.6-.1h.7m-.1-.1h.7m-.7-.1h.7m-.5-.3h.7m-.3 0h.7m-.3 .2h.7m-.2 0h.7m-.4 .1h.7m.5 .3h.7m0-.3h.7m-.7-.4h.7m-.4 .5h.7m-.3 .4h.7m-.5-.5h.7m.5-.2h.7m-.6 .4h.7m-.3-.5h.7m-.6 .5h.7m-.3-.5h.7m-.2 .5h.7m-.3-.3h.7m-.3 .7h.7m.1-.3h.7m.4-.6h.7m-.5 .8h.7m-.3-.4h.7m.4 .1h.7m0 .2h.7m2.3-.6h.7m-.6 .2h.7m-.1 .6h.7m0-.9h.7m-.6 .8h.7m-.2-.2h.7m-.3-.1h.7m-.3-.5h.7m-.6 .8h.7m-.6-.2h.7m-.6-.4h.7m-.5 .1h.7m-.6 .5h.7m-.7-.6h.7m-.1 .6h.7m-.6-.6h.7m-.6 .6h.7m-.5 0h.7m-.7-.7h.7m-.6 .7h.7m-.5-.3h.7m4.8 .4h.7m-.5-1h.7m-.5 .4h.7m0-.1h.7m-.6 .6h.7m-.2 0h.7m-.5-.1h.7m-.1-.1h.7m-.4 .1h.7m.5-.1h.7m.5-.5h.7m-42.3 1.4h.7m-.4-.1h.7m.3 .3h.7m-.2-.8h.7m-.7 .2h.7m.4 .1h.7m-.2 .5h.7m-.6 .1h.7m-.7-.1h.7m-.4-.5h.7m-.5 0h.7m-.2 .4h.7m-.6-.1h.7m0 .4h.7m-.2-.4h.7m.1-.3h.7m-.5-.3h.7m-.6 .7h.7m-.5-.1h.7m.4 .4h.7m-.3-.3h.7m.3 .1h.7m-.6-.6h.7m-.2-.1h.7m-.7 .1h.7m-.7 .3h.7m-.3-.4h.7m-.5 .4h.7m-.7-.5h.7m-.7 .8h.7m-.4-.7h.7m.4 .4h.7m-.5 .1h.7m-.6 .1h.7m.8 0h.7m-.6 .1h.7m-.5 0h.7m-.7 .1h.7m0-.9h.7m-.4 .9h.7m.3-.8h.7m-.1 .4h.7m0 .4h.7m-.7-.2h.7m0-.6h.7m-.2 .7h.7m.4 .1h.7m-.1-.1h.7m-.6 .1h.7m-.2-.8h.7m-.6 .5h.7m-.5-.6h.7m-.5 .1h.7m2.1 .3h.7m1.6 .4h.7m-.2 0h.7m.2-.5h.7m.1 .5h.7m-.5 .1h.7m-.5 .1h.7m-.6-.3h.7m-.2 .3h.7m-.7-.6h.7m-.6 .5h.7m-.5 .1h.7m-.5-.6h.7m-.6-.3h.7m-.6 .3h.7m-.5-.2h.7m-.6 0h.7m-.7-.1h.7m-.6 .8h.7m-.6-.3h.7m-.7-.2h.7m4.1 .5h.7m-.6 0h.7m-.5-.8h.7m-.7 .4h.7m-.7 0h.7m-.6-.2h.7m-.5 .3h.7m-.7-.1h.7m-.6 .1h.7m-.6-.3h.7m-.4 .3h.7m-.4-.1h.7m-.5-.3h.7m-.7-.2h.7m-.6 0h.7m0 .1h.7m-.6 .1h.7m0 .7h.7m-.3-.3h.7m-.4-.1h.7m-.2-.2h.7m.4 .3h.7m-.6-.1h.7m-44.2 .8h.7m-.5 0h.7m1.3-.2h.7m-.4 .1h.7m-.5 .7h.7m.7 0h.7m-.7-.3h.7m-.6-.1h.7m-.3-.1h.7m-.6 .6h.7m-.6-.6h.7m-.4-.3h.7m-.3 .5h.7m-.2-.3h.7m-.5 .5h.7m-.6-.2h.7m-.6-.6h.7m-.5 .2h.7m-.2 .3h.7m-.6-.2h.7m-.4-.2h.7m-.4 .6h.7m.7 .3h.7m-.6-.6h.7m-.6-.2h.7m-.6 .3h.7m-.6-.5h.7m-.5 .9h.7m-.3-.8h.7m-.4 .4h.7m-.7 .3h.7m-.5 .1h.7m-.2-.6h.7m-.6 .5h.7m-.6-.8h.7m.4 .5h.7m-.1-.1h.7m-.7-.2h.7m0 .1h.7m-.4 .6h.7m-.6-.1h.7m-.6-.7h.7m-.2 .7h.7m-.3-.7h.7m-.2 .4h.7m-.5 0h.7m-.6 .4h.7m-.6-.1h.7m-.7-.5h.7m-.6 0h.7m-.5 .1h.7m-.3 .1h.7m-.7-.3h.7m.2-.2h.7m-.6 .6h.7m-.5-.4h.7m-.3 .6h.7m-.7-.5h.7m-.5 .3h.7m-.7 0h.7m-.3 0h.7m-.5 .3h.7m-.5-.3h.7m-.5 .2h.7m-.6-.2h.7m-.6-.3h.7m-.3-.2h.7m-.1 .8h.7m-.4-.4h.7m.3-.4h.7m-.1 .2h.7m.9-.1h.7m-.3 0h.7m.5 .7h.7m.7-.7h.7m-.3 0h.7m2.2 .8h.7m-.4-.2h.7m-.5 0h.7m-.5-.1h.7m-.5 .1h.7m0 .1h.7m-.6 0h.7m-.6-.1h.7m-.7-.7h.7m-.6 .4h.7m-.5-.1h.7m-.5-.2h.7m-.6 .6h.7m-.7-.6h.7m-.6 .7h.7m-.5-.5h.7m-.6-.2h.7m-.5 .7h.7m-.7-.5h.7m-.5 .4h.7m-.6-.4h.7m-.7 .3h.7m-.5-.6h.7m-.5 .2h.7m-.6 .6h.7m.4 0h.7m-.3 0h.7m-.4-.2h.7m.2 .3h.7m-.7-.2h.7m-.5-.3h.7m-.2-.1h.7m-.7 .1h.7m-.4 0h.7m-.6-.3h.7m-.5 .3h.7m-.6-.3h.7m-.7-.1h.7m-.3 .2h.7m-.5 .7h.7m-.6-1h.7m-.7 1h.7m-.6-.2h.7m-.6 .1h.7m1.5-.9h.7m-.4 1h.7m-40.3 .1h.7m-.2 .8h.7m-.4-.2h.7m-.2-.4h.7m-.1 .4h.7m-.2 .1h.7m-.1-.8h.7m-.6 .9h.7m-.1-.8h.7m-.7 .6h.7m-.4 .3h.7m-.7-.1h.7m.1-.4h.7m-.6 .5h.7m-.1-.2h.7m.6 .1h.7m-.6-.4h.7m-.5 .1h.7m-.6-.5h.7m.3 0h.7m-.5 .7h.7m0-.2h.7m0-.1h.7m-.7 .2h.7m-.5-.3h.7m-.6 0h.7m-.7-.3h.7m-.4 .2h.7m0 .3h.7m-.5-.5h.7m-.4 0h.7m-.6 .8h.7m-.3 0h.7m-.7-.2h.7m-.1-.5h.7m0 .5h.7m-.3-.2h.7m-.5 .1h.7m-.5-.5h.7m-.5-.1h.7m-.2 1h.7m.6-.6h.7m-.7 .4h.7m0-.1h.7m.1-.1h.7m-.1 .2h.7m-.6-.2h.7m-.4-.5h.7m-.1 0h.7m-.5 .6h.7m-.4-.4h.7m.1 0h.7m2.2-.3h.7m1.4 .4h.7m-.1-.2h.7m0-.1h.7m-.1 .9h.7m-.6-.4h.7m.6-.3h.7m-.4 .4h.7m-.1-.6h.7m-.4 .2h.7m-.2 .6h.7m-.6-.6h.7m-.6 .3h.7m-.7 .3h.7m-.6-.7h.7m-.6 .2h.7m-.7 .2h.7m-.6-.4h.7m-.7 .5h.7m-.7-.3h.7m-.6 .4h.7m-.4-.8h.7m-.7 0h.7m-.6 .2h.7m-.6 .7h.7m-.7 0h.7m-.6-.5h.7m-.6-.3h.7m-.5 .1h.7m-.6 .1h.7m-.4 .3h.7m-.6-.2h.7m-.6 .6h.7m-.7-.1h.7m-.5-.2h.7m-.7-.1h.7m-.6 0h.7m-.7 .2h.7m-.6-.7h.7m.1 .2h.7m-.6 .1h.7m-.6 .1h.7m-.1 0h.7m-.6-.2h.7m-.6 .6h.7m-.6 0h.7m-.3-.3h.7m-.4 0h.7m-.6 .2h.7m-.6-.8h.7m-.7 .6h.7m-.5 0h.7m-.6-.3h.7m0 .2h.7m.1 .1h.7m-.3-.2h.7m-.7 .3h.7m-.2 0h.7m-.5-.1h.7m.1-.1h.7m-44.3 1.4h.7m.8-.6h.7m-.5 .6h.7m1.4-.2h.7m-.5-.2h.7m0 .3h.7m.4 .2h.7m-.6-.7h.7m.7 .2h.7m-.7 .1h.7m0-.2h.7m-.5-.2h.7m.7 .7h.7m-.7-.9h.7m-.7 .2h.7m0 .7h.7m-.4 0h.7m-.6-.4h.7m-.5-.4h.7m-.3-.1h.7m-.7 .3h.7m-.3 .3h.7m-.4 0h.7m-.5-.3h.7m-.6 .3h.7m-.7 0h.7m-.4-.5h.7m-.5 .2h.7m-.5 .3h.7m-.7-.3h.7m-.1 .4h.7m-.6 .2h.7m-.7-.2h.7m.4 0h.7m-.2 .2h.7m-.7-.4h.7m-.6-.3h.7m.3-.1h.7m-.3 .2h.7m-.2 .7h.7m-.4-.1h.7m-.3-.9h.7m-.6 .9h.7m.1-.4h.7m-.6 0h.7m-.5 .2h.7m-.5-.5h.7m-.4 .8h.7m-.5-.8h.7m.2 .6h.7m.2-.3h.7m-.5 .3h.7m-.5 .2h.7m-.4-.1h.7m-.5-.4h.7m-.6 .1h.7m-.6 .3h.7m.7 .1h.7m-.6-.9h.7m.7 .8h.7m1.4-.3h.7m.2 0h.7m-.3-.6h.7m3.1 .9h.7m-.3 0h.7m-.6 0h.7m-.2-.7h.7m-.3 .5h.7m-.6-.6h.7m-.3 .3h.7m-.1 0h.7m-.6 .5h.7m-.7 0h.7m-.4-.9h.7m-.7 .5h.7m-.7 .2h.7m-.5 0h.7m-.7-.3h.7m-.7 .2h.7m-.5 .4h.7m-.7-.6h.7m-.5-.3h.7m-.3 0h.7m-.7 .4h.7m-.6-.1h.7m-.6-.2h.7m-.5 .2h.7m-.6-.1h.7m-.6 .1h.7m0 .2h.7m-.6-.3h.7m-.6 .4h.7m-.6-.3h.7m-.6 .1h.7m-.7 .2h.7m-.5 .1h.7m-.5-.6h.7m-.6 .6h.7m-.4-.4h.7m-.6-.3h.7m-.7 .8h.7m-.5-.7h.7m-.7 .7h.7m-.4-.8h.7m-.4 0h.7m-.5 .4h.7m-.6-.1h.7m-.5 .5h.7m-.6-.1h.7m.2-.6h.7m-.6 .4h.7m-.5 0h.7m-.6 .1h.7m-.4-.4h.7m-.2 .6h.7m.9-.4h.7m-44.3 .9h.7m.1 .4h.7m1.2-.1h.7m.2 .3h.7m.1-.5h.7m-.5-.1h.7m.2-.3h.7m.1 0h.7m-.6 .4h.7m-.4-.4h.7m.2 .1h.7m-.6 .3h.7m-.7 .2h.7m-.4-.7h.7m-.7 .2h.7m-.5 .7h.7m-.3-.2h.7m-.2-.3h.7m.3 .3h.7m-.7-.4h.7m1.5 0h.7m-.3 0h.7m-.3 .6h.7m-.7-.4h.7m1.1-.2h.7m-.4 .7h.7m-.5-.2h.7m0-.7h.7m-.6 .5h.7m-.6-.4h.7m-.3 .5h.7m-.5-.6h.7m-.3 .2h.7m2.6 .5h.7m-.5-.6h.7m.8 .1h.7m0 0h.7m-.4 .7h.7m1-.5h.7m-.3 .3h.7m1.6-.1h.7m.5-.5h.7m-.1-.1h.7m.2 .5h.7m1.2 .4h.7m-.1-.6h.7m-.6-.2h.7m.8-.1h.7m-.6 .1h.7m-.6 .6h.7m0-.7h.7m-.6 .5h.7m-.6-.3h.7m-.5-.1h.7m-.5 0h.7m-.3 .1h.7m-.6-.1h.7m-.6 .2h.7m-.4-.1h.7m-.7-.1h.7m-.6 0h.7m-.4 .1h.7m-.3 .2h.7m-.5-.2h.7m-.5 .4h.7m-.6-.6h.7m-.2 0h.7m.1 .9h.7m-.5-.5h.7m-.6-.1h.7m-.4-.2h.7m-.7 .5h.7m.4-.6h.7m1.7 .2h.7m-43.5 .9h.7m-.5 .4h.7m.2-.1h.7m-.5-.2h.7m-.4-.1h.7m-.1 .7h.7m1.8-.2h.7m.8 .1h.7m-.5-.2h.7m-.6 .3h.7m-.4-.4h.7m-.2-.4h.7m-.6 .3h.7m-.6 .6h.7m-.5-.3h.7m-.5-.4h.7m-.6 .1h.7m-.6 .4h.7m-.5-.3h.7m-.6-.3h.7m.2 .6h.7m.1-.5h.7m-.5 .3h.7m.3 0h.7m-.3 .4h.7m-.4-1h.7m-.7 .3h.7m-.5 .5h.7m-.2-.6h.7m-.6 .6h.7m-.1-.2h.7m-.6 .4h.7m-.5-.4h.7m-.2-.1h.7m-.7-.3h.7m-.6 .5h.7m-.6-.2h.7m-.6-.3h.7m-.1-.1h.7m-.1 .4h.7m-.2-.2h.7m-.5 .2h.7m.9 0h.7m-.5 .3h.7m.3-.7h.7m-.6 .1h.7m-.6-.1h.7m-.4 .8h.7m-.5-.9h.7m.1 .5h.7m-.4 .5h.7m-.7-.3h.7m.4-.6h.7m-.1 .2h.7m-.3-.2h.7m-.6 .7h.7m-.4 .1h.7m-.7 .1h.7m-.2-.7h.7m-.7 .1h.7m.6 .4h.7m1.5 0h.7m-.6 .1h.7m-.5-.6h.7m-.5-.2h.7m-.1 .7h.7m-.4-.3h.7m0 .3h.7m-.7-.7h.7m-.6 .3h.7m.6-.3h.7m-.2 .1h.7m-.5-.1h.7m-.4 .6h.7m-.5-.2h.7m0-.2h.7m0-.3h.7m0 .6h.7m-.5 .3h.7m-.6-.8h.7m-.7 .8h.7m-.5-.4h.7m-.5-.2h.7m-.5-.3h.7m-.4 .3h.7m-.4-.3h.7m-.2 .3h.7m-.7-.3h.7m-.6 .6h.7m-.6 .1h.7m-.7-.2h.7m0 .2h.7m.6-.1h.7m-.7 .2h.7m-.3 .2h.7m-.2-1h.7m-.4 .2h.7m-.7 .7h.7m.3-.4h.7m-.4 .4h.7m1.7-.6h.7m-45.4 1.7h.7m.1-.5h.7m-.3 .2h.7m1.1 .1h.7m0 0h.7m.8-.1h.7m-.7-.3h.7m-.7-.1h.7m-.1 .7h.7m-.7-.8h.7m-.6 .5h.7m-.5-.4h.7m1.7 .6h.7m-.4-.2h.7m-.6 0h.7m.1 .3h.7m-.1-.9h.7m-.5 0h.7m-.5 .5h.7m.5-.4h.7m-.7 .8h.7m-.3-.7h.7m-.6-.2h.7m-.5-.1h.7m-.4 .9h.7m-.5-.3h.7m-.6 .3h.7m-.5-.4h.7m-.3 .2h.7m-.5-.6h.7m-.1 .1h.7m-.5 .8h.7m-.3-1h.7m-.6 .5h.7m-.5-.4h.7m0 .4h.7m-.3-.3h.7m.3-.2h.7m-.5 .1h.7m-.7 .8h.7m.3-.3h.7m-.1 .2h.7m-.5-.3h.7m-.5-.4h.7m-.7 .8h.7m1-.7h.7m1 .5h.7m.9-.1h.7m-.5-.3h.7m.7-.2h.7m3.9 .3h.7m-.6 .1h.7m.7-.5h.7m.1 .7h.7m0 0h.7m-.4 0h.7m.1-.6h.7m-.3 0h.7m-.7 .7h.7m-.5-.4h.7m-.5-.2h.7m-.3 .4h.7m-.3 0h.7m-.5-.5h.7m-.4 .1h.7m-.7 0h.7m-.4-.2h.7m-.3 .4h.7m0 .5h.7m-.3-.7h.7m-.2 .8h.7m-.6-.7h.7m1.2 .6h.7m-.6 0h.7m-.4-.7h.7m-41 1.6h.7m1.5-.3h.7m-.3-.4h.7m.1 .1h.7m-.4 .4h.7m-.6-.4h.7m-.1 .5h.7m.7 0h.7m-.7-.4h.7m-.5 .6h.7m-.1-.3h.7m-.5-.2h.7m-.1-.3h.7m-.5 .1h.7m-.7 .7h.7m-.5-.3h.7m-.6-.1h.7m-.2 0h.7m-.7-.4h.7m.4 0h.7m-.7 .2h.7m-.3 .1h.7m-.5 .5h.7m-.6-.2h.7m-.2-.5h.7m.4 .2h.7m-.7 .3h.7m.3 .1h.7m-.2-.8h.7m-.4 .6h.7m-.4-.1h.7m-.5 .3h.7m-.3-.3h.7m-.5-.2h.7m.3 .5h.7m-.4-.4h.7m.6-.3h.7m-.4 .1h.7m.3 .4h.7m-.7-.4h.7m-.6 0h.7m1 .6h.7m-.4 .1h.7m-.6-.7h.7m-.6 .5h.7m.4-.1h.7m1.7 .1h.7m-.4 .2h.7m-.3 0h.7m1.8-.6h.7m-.1 0h.7m-.3 0h.7m-.4-.2h.7m-.6 .1h.7m-.4 .5h.7m.9-.7h.7m-.6 .3h.7m.4-.1h.7m-.4 .2h.7m-.6-.3h.7m-.4 .6h.7m-.5-.3h.7m-.4-.2h.7m-.1-.1h.7m-.6 0h.7m.1 .5h.7m.7-.3h.7m-.5 .5h.7m.1-.6h.7m-.6 .8h.7m.4-.3h.7m-.3-.4h.7m-.1 .4h.7m-.6-.2h.7m-.4 .2h.7m-.6-.2h.7m-41.5 1.1h.7m-.5 0h.7m2 .3h.7m.2-.2h.7m-.6-.7h.7m0 .6h.7m.1 .3h.7m-.4-.2h.7m.1-.1h.7m1.3-.5h.7m.4 .4h.7m-.6-.3h.7m-.6 .8h.7m.8-.1h.7m0-.3h.7m.1-.1h.7m-.2-.1h.7m-.5-.4h.7m-.6 .6h.7m-.4 .1h.7m-.6-.5h.7m-.6 .1h.7m-.7 .1h.7m-.7-.1h.7m-.6 .4h.7m-.1 .1h.7m-.7-.1h.7m-.3-.3h.7m-.4 .2h.7m-.4 .1h.7m-.3-.3h.7m.1 .4h.7m-.7-.7h.7m-.7 .6h.7m0 .2h.7m-.5-.5h.7m-.5 .1h.7m.3 .2h.7m.9-.3h.7m7.8-.1h.7m.4-.1h.7m.3-.1h.7m1.4 .5h.7m-.4-.2h.7m-.2 .6h.7m0-1h.7m-.4 0h.7m-.3 .6h.7m0 .2h.7m-.6-.2h.7m-.6-.4h.7m-.5-.1h.7m-.5 .3h.7m-.3 .4h.7m-.5-.7h.7m-.4 .9h.7m-.5-.3h.7m-.5-.3h.7m-.6-.2h.7m-.6 .7h.7m-.3-.6h.7m-.2 .2h.7m-.3 .3h.7m4.1-.6h.7m-45.4 1.2h.7m.4-.1h.7m.9 .5h.7m1-.3h.7m.4-.2h.7m0-.1h.7m-.7 0h.7m-.6-.1h.7m-.5 .5h.7m-.4-.3h.7m-.6-.1h.7m.2-.2h.7m-.4 .5h.7m-.6-.2h.7m0 .1h.7m-.1-.3h.7m.1-.1h.7m-.6 0h.7m-.6 .4h.7m-.7-.2h.7m-.5 .4h.7m-.6-.4h.7m-.6 .5h.7m.2 .2h.7m-.6-.4h.7m-.4 .2h.7m-.5-.3h.7m-.5 .5h.7m-.3 0h.7m-.4-.2h.7m-.3 .2h.7m.2-.8h.7m-.1 0h.7m-.4 .6h.7m-.6 .1h.7m-.4-.2h.7m-.4-.3h.7m-.2-.1h.7m-.3 .6h.7m-.1-.3h.7m-.4-.5h.7m-.6 .4h.7m-.2-.3h.7m-.2 .7h.7m-.2-.5h.7m1.9-.1h.7m-.6 .7h.7m-.4-.5h.7m.1 .2h.7m-.3 .3h.7m.4-.4h.7m-.1 .4h.7m-.5-.4h.7m.3-.3h.7m6.8 .8h.7m.3-.1h.7m.4 0h.7m-.7-.2h.7m.6-.5h.7m-.4 .6h.7m0-.1h.7m-.7 0h.7m.2-.1h.7m.7 .2h.7m-41.2 1h.7m-.1-.7h.7m-.6 .2h.7m1.6 .4h.7m-.5-.2h.7m-.1-.4h.7m-.5 .5h.7m-.7 .2h.7m.3-.6h.7m-.3 .7h.7m-.3-.1h.7m-.1-.4h.7m-.5 .2h.7m.5-.2h.7m-.4-.4h.7m0 .9h.7m-.6-.2h.7m-.7-.5h.7m-.2 .2h.7m-.5 .5h.7m-.2-.3h.7m0 .2h.7m-.5-.7h.7m-.4 .5h.7m-.4-.6h.7m-.5 .7h.7m.9-.3h.7m-.4 .3h.7m-.6-.6h.7m0 .4h.7m-.4 .5h.7m3.1-.3h.7m3.5 .2h.7m-.2-.5h.7m2.3-.4h.7m.5 .3h.7m1.1 .6h.7m.7-.3h.7m-.1 .3h.7m3.7-.8h.7m-.6 .6h.7m-.6-.1h.7m-.3-.3h.7m-.6-.1h.7m-.7-.1h.7m0 .7h.7m-.4-.4h.7m.5 0h.7m.9-.2h.7m-.6 .8h.7m-.3-.5h.7m-41.2 .7h.7m1.4 .3h.7m-.7-.3h.7m-.5-.1h.7m0 .4h.7m-.4-.1h.7m-.6-.1h.7m-.6-.2h.7m.5-.1h.7m-.6 .2h.7m-.3 .4h.7m-.5-.2h.7m.1 .3h.7m-.7-.3h.7m-.4-.2h.7m.6 .5h.7m.1-.5h.7m-.4 .7h.7m.5-.5h.7m-.5 .2h.7m.5 .3h.7m.7-.7h.7m-.2-.1h.7m-.5 .2h.7m-.5 .1h.7m-.6 .1h.7m.2-.3h.7m-.4 .4h.7m.3 .1h.7m-.6 .1h.7m-.4-.6h.7m.4 .7h.7m-.4-.6h.7m-.5 .1h.7m-.1 .1h.7m-.3 .4h.7m-.5-.5h.7m-.1-.2h.7m.4 .2h.7m-.4-.3h.7m-.6 .4h.7m-.6 .1h.7m3-.1h.7m.9 .4h.7m1-.3h.7m2.6 .2h.7m.4-.4h.7m-.6-.1h.7m.7 0h.7m0 .3h.7m-.6 0h.7m-.6-.5h.7m.4 .4h.7m-.6 .2h.7m0 0h.7m-.4-.6h.7m-.5 .8h.7m-.4-.3h.7m-.7 .3h.7m0-.6h.7m.6 0h.7m.4 .6h.7m-.6-.4h.7m1.5 0h.7m-45.8 .9h.7m.5-.3h.7m-.2 .1h.7m6.1-.1h.7m0 .7h.7m-.7-.1h.7m0-.5h.7m-.5 .1h.7m-.3-.2h.7m-.6 0h.7m1.1 .4h.7m-.5-.2h.7m-.5 .6h.7m1.2-.8h.7m.4 .9h.7m-.1-.5h.7m-.5-.1h.7m.4-.1h.7m.3 .2h.7m0-.3h.7m-.1-.1h.7m-.7 .9h.7m-.3 0h.7m2.3-.1h.7m.2-.8h.7m1.1 .2h.7m-.4 .3h.7m1-.4h.7m1.9 .3h.7m.3-.5h.7m2.8 .6h.7m1.1-.3h.7m1-.1h.7m-.2 .6h.7m-.4 0h.7m-.5 0h.7m-.3-.1h.7m.4-.1h.7m-.6 .1h.7m0 0h.7m1-.5h.7m-42.3 .9h.7m-.4 .7h.7m.1-.7h.7m1 .2h.7m-.5 .1h.7m-.4 .2h.7m-.3-.2h.7m1.2-.1h.7m.3 .4h.7m-.4-.5h.7m0 .8h.7m.9-.6h.7m-.7 .3h.7m.1 .1h.7m-.1-.5h.7m-.3-.2h.7m.9 0h.7m.7 .1h.7m1.9 .2h.7m-.6 .1h.7m.3-.3h.7m-.6 .4h.7m1.5-.4h.7m-.3-.1h.7m1.1 0h.7m3.3 .4h.7m4.5-.3h.7m-.7-.1h.7m3.8 .2h.7m-.3-.1h.7m0 .2h.7m-.5 .1h.7m-39.9 .7h.7m2.1 .8h.7m3.2-.2h.7m.6 .2h.7m-.5 0h.7m-.5-.6h.7m-.6 0h.7m1.1-.2h.7m-.7 .6h.7m-.5-.3h.7m-.6 .4h.7m-.4-.7h.7m.3 .3h.7m.6-.2h.7m0 .5h.7m-.4-.6h.7m.5 .1h.7m-.2-.2h.7m.7 .1h.7m-.6 0h.7m.7 .4h.7m-.1 .3h.7m1.1-.7h.7m-.6 .3h.7m1.5 .4h.7m1.4 0h.7m0-.7h.7m.7 .4h.7m.3-.2h.7m-.4 .4h.7m.4 .2h.7m2.8-.5h.7m3-.1h.7m4.2-.4h.7m-.4 1h.7m-.1-.7h.7m-33.1 1.4h.7m-.4 .1h.7m-.5 0h.7m-.7-.4h.7m-.5 0h.7m1.6 0h.7m.6 .3h.7m1-.1h.7m-.5 .1h.7m.4-.6h.7m.8 .1h.7m-.4 0h.7m9.6-.1h.7m1.1 0h.7m3.9 .1h.7m1.9-.2h.7m-35.2 1.3h.7m.2 .1h.7m-.1 .3h.7m1.5-.7h.7m3.3 .4h.7m1.2 .3h.7m-.4-.3h.7m-.3-.1h.7m.5 .4h.7m12.9-.4h.7m4.9-.1h.7m1.6 .1h.7m-32.8 1.1h.7m-.2-.3h.7m-.7 .3h.7m2.1 .5h.7m-.4-.4h.7m-.2 .3h.7m1.8 .2h.7m-.2-.6h.7m-.6 .4h.7m-.4-.1h.7m1.6-.7h.7m1.3 .3h.7m.4 .1h.7m-.3 0h.7m.3 .5h.7m.9-.7h.7m-.2 .3h.7m3.1-.5h.7m3.8 1h.7m1.3-.9h.7m1.4 .2h.7m1.9 .1h.7m-.2 .1h.7m.1-.2h.7m-33.2 1.5h.7m3.8 0h.7m5.7-.3h.7m1-.3h.7m1.2 .2h.7m1.4 .1h.7m15.5 0h.7m-34.3 .9h.7m0 0h.7m1.2-.4h.7m1.6 .3h.7m3.9 0h.7m.2 .4h.7m8.5-.5h.7m.7 .7h.7m11.9-.5h.7m.1 .4h.7m.2-.1h.7m-39 .8h.7m.1-.4h.7m1 .2h.7m2.3 .5h.7m1-.7h.7m-.3 .3h.7m2.8-.3h.7m.6 .8h.7m1.5-.4h.7m12.3-.4h.7m8.1 .7h.7" fill="none" stroke="#161616" stroke-width="0.8" stroke-opacity="0.8"/>
<path d="M455.2 350L455.39 349.08L455.68 348.06L456.05 347L456.5 345.96L457 345L457.58 344.12L458.23 343.28L458.95 342.48L459.71 341.72L460.5 341L461.33 340.32L462.2 339.68L463.12 339.08L464.05 338.52L465 338L465.98 337.52L466.99 337.08L468.01 336.68L469.02 336.32L470 336L470.96 335.71L471.91 335.45L472.83 335.24L473.7 335.08L474.5 335L475.22 334.99L475.87 335.04L476.46 335.15L477 335.34L477.5 335.6L477.96 335.94L478.37 336.35L478.73 336.84L479.04 337.39L479.3 338L479.49 338.68L479.63 339.44L479.71 340.25L479.77 341.11L479.8 342L479.81 342.94L479.8 343.93L479.76 344.95L479.69 345.98L479.6 347L479.49 348.01L479.36 349.04L479.21 350.06L479.02 351.05L478.8 352L478.55 352.93L478.27 353.86L477.96 354.75L477.6 355.54L477.2 356.2L476.79 356.71L476.38 357.08L475.91 357.37L475.3 357.6L474.5 357.8L473.44 357.97L472.15 358.09L470.75 358.17L469.33 358.2L468 358.2L466.74 358.16L465.48 358.08L464.25 357.96L463.08 357.8L462 357.6L461.01 357.36L460.09 357.08L459.25 356.75L458.48 356.39L457.8 356L457.2 355.57L456.69 355.11L456.25 354.62L455.89 354.08L455.6 353.5L455.37 352.89L455.2 352.24L455.12 351.56L455.11 350.81Z" fill="#fff" stroke="#2a2a2a" stroke-width="0.9"/>
<path d="M456.43 349.75L456.6 348.92L456.86 348L457.2 347.05L457.6 346.11L458.05 345.25L458.57 344.46L459.16 343.7L459.8 342.98L460.49 342.3L461.2 341.65L461.95 341.04L462.73 340.46L463.55 339.92L464.4 339.42L465.25 338.95L466.13 338.52L467.04 338.12L467.96 337.76L468.87 337.44L469.75 337.15L470.61 336.89L471.47 336.66L472.3 336.46L473.08 336.32L473.8 336.25L474.44 336.24L475.03 336.28L475.56 336.39L476.05 336.56L476.5 336.79L476.91 337.1L477.28 337.47L477.61 337.9L477.89 338.4L478.12 338.95L478.29 339.56L478.41 340.24L478.49 340.98L478.54 341.75L478.57 342.55L478.58 343.39L478.57 344.29L478.53 345.21L478.47 346.14L478.39 347.05L478.29 347.96L478.18 348.88L478.04 349.8L477.87 350.7L477.67 351.55L477.44 352.39L477.19 353.23L476.91 354.02L476.59 354.74L476.23 355.33L475.86 355.79L475.49 356.13L475.07 356.38L474.52 356.59L473.8 356.77L472.84 356.93L471.68 357.03L470.42 357.1L469.15 357.13L467.95 357.13L466.82 357.09L465.68 357.02L464.57 356.91L463.52 356.77L462.55 356.59L461.66 356.37L460.83 356.12L460.07 355.83L459.38 355.5L458.77 355.15L458.23 354.77L457.77 354.35L457.38 353.9L457.05 353.42L456.79 352.9L456.58 352.35L456.43 351.77L456.35 351.15L456.35 350.48ZM457.66 349.5L457.81 348.76L458.04 347.95L458.34 347.1L458.7 346.27L459.1 345.5L459.56 344.8L460.08 344.12L460.66 343.48L461.27 342.88L461.9 342.3L462.56 341.76L463.26 341.24L463.99 340.76L464.74 340.32L465.5 339.9L466.28 339.52L467.09 339.16L467.91 338.84L468.72 338.56L469.5 338.3L470.26 338.07L471.03 337.86L471.77 337.69L472.46 337.57L473.1 337.5L473.67 337.49L474.19 337.53L474.67 337.62L475.1 337.77L475.5 337.98L475.87 338.25L476.2 338.58L476.48 338.97L476.73 339.41L476.94 339.9L477.1 340.45L477.2 341.05L477.27 341.7L477.31 342.39L477.34 343.1L477.35 343.85L477.34 344.64L477.31 345.46L477.25 346.29L477.18 347.1L477.09 347.91L476.99 348.73L476.87 349.55L476.72 350.34L476.54 351.1L476.34 351.85L476.12 352.59L475.87 353.3L475.58 353.93L475.26 354.46L474.93 354.86L474.61 355.17L474.23 355.4L473.74 355.58L473.1 355.74L472.25 355.88L471.22 355.98L470.1 356.04L468.96 356.06L467.9 356.06L466.89 356.03L465.88 355.96L464.9 355.87L463.96 355.74L463.1 355.58L462.31 355.39L461.58 355.16L460.9 354.9L460.29 354.61L459.74 354.3L459.26 353.96L458.85 353.59L458.5 353.19L458.21 352.76L457.98 352.3L457.8 351.81L457.66 351.3L457.59 350.74L457.59 350.15ZM459.14 349.2L459.27 348.57L459.46 347.88L459.72 347.16L460.02 346.45L460.36 345.8L460.75 345.2L461.2 344.63L461.68 344.09L462.2 343.57L462.74 343.08L463.3 342.62L463.9 342.18L464.52 341.77L465.16 341.39L465.8 341.04L466.46 340.71L467.15 340.41L467.85 340.14L468.54 339.9L469.2 339.68L469.85 339.48L470.5 339.31L471.13 339.16L471.72 339.06L472.26 339L472.75 338.99L473.19 339.03L473.59 339.1L473.96 339.23L474.3 339.41L474.61 339.64L474.89 339.92L475.14 340.25L475.35 340.62L475.52 341.04L475.66 341.5L475.75 342.02L475.8 342.57L475.84 343.16L475.86 343.76L475.87 344.4L475.86 345.07L475.83 345.77L475.79 346.47L475.73 347.16L475.65 347.85L475.57 348.55L475.46 349.24L475.33 349.91L475.18 350.56L475.01 351.19L474.82 351.83L474.61 352.43L474.37 352.97L474.1 353.42L473.82 353.76L473.54 354.02L473.22 354.21L472.8 354.37L472.26 354.5L471.54 354.62L470.66 354.7L469.71 354.76L468.74 354.78L467.84 354.78L466.98 354.75L466.12 354.69L465.29 354.61L464.49 354.5L463.76 354.37L463.09 354.2L462.46 354.01L461.89 353.79L461.37 353.55L460.9 353.28L460.5 352.99L460.15 352.68L459.85 352.34L459.61 351.97L459.41 351.58L459.25 351.16L459.14 350.73L459.08 350.26L459.08 349.75ZM460.74 348.88L460.84 348.37L461 347.81L461.2 347.22L461.45 346.65L461.73 346.12L462.04 345.64L462.4 345.18L462.8 344.74L463.21 344.32L463.65 343.93L464.11 343.55L464.59 343.2L465.09 342.87L465.6 342.56L466.12 342.27L466.66 342.01L467.22 341.77L467.78 341.55L468.34 341.35L468.88 341.18L469.4 341.02L469.92 340.87L470.43 340.76L470.91 340.67L471.35 340.62L471.74 340.62L472.1 340.65L472.43 340.71L472.73 340.81L473 340.95L473.25 341.14L473.48 341.37L473.68 341.64L473.85 341.94L473.99 342.27L474.1 342.65L474.17 343.07L474.22 343.51L474.25 343.99L474.26 344.48L474.27 344.99L474.26 345.54L474.24 346.1L474.2 346.67L474.16 347.23L474.1 347.78L474.02 348.35L473.94 348.91L473.84 349.45L473.72 349.98L473.58 350.49L473.42 351L473.25 351.49L473.06 351.92L472.83 352.28L472.61 352.56L472.38 352.77L472.12 352.93L471.79 353.05L471.35 353.17L470.76 353.26L470.06 353.33L469.29 353.37L468.51 353.39L467.77 353.38L467.08 353.36L466.39 353.32L465.71 353.25L465.07 353.16L464.48 353.06L463.93 352.92L463.43 352.77L462.96 352.59L462.54 352.39L462.17 352.18L461.84 351.94L461.55 351.69L461.31 351.41L461.12 351.12L460.95 350.8L460.83 350.46L460.74 350.11L460.69 349.73L460.69 349.32ZM462.33 348.55L462.41 348.16L462.54 347.74L462.69 347.29L462.88 346.85L463.09 346.45L463.33 346.08L463.61 345.73L463.91 345.39L464.23 345.07L464.56 344.77L464.91 344.48L465.28 344.22L465.66 343.96L466.05 343.73L466.45 343.51L466.86 343.31L467.28 343.12L467.72 342.96L468.14 342.8L468.55 342.67L468.95 342.55L469.35 342.44L469.74 342.35L470.11 342.28L470.44 342.25L470.74 342.25L471.01 342.27L471.26 342.31L471.49 342.39L471.7 342.5L471.89 342.64L472.06 342.82L472.22 343.02L472.35 343.25L472.46 343.51L472.54 343.8L472.59 344.11L472.63 344.46L472.65 344.82L472.67 345.19L472.67 345.58L472.67 346L472.65 346.43L472.62 346.86L472.58 347.29L472.54 347.72L472.48 348.15L472.42 348.57L472.34 348.99L472.25 349.39L472.14 349.78L472.02 350.17L471.89 350.54L471.74 350.88L471.57 351.15L471.4 351.37L471.23 351.53L471.03 351.65L470.78 351.74L470.44 351.83L469.99 351.9L469.45 351.95L468.86 351.98L468.27 352L467.71 351.99L467.18 351.98L466.65 351.94L466.13 351.89L465.64 351.83L465.19 351.74L464.78 351.64L464.39 351.52L464.03 351.39L463.71 351.24L463.43 351.07L463.18 350.89L462.96 350.7L462.78 350.49L462.62 350.26L462.5 350.02L462.41 349.76L462.34 349.49L462.3 349.2L462.3 348.89ZM463.81 348.25L463.87 347.97L463.95 347.67L464.07 347.35L464.2 347.04L464.35 346.75L464.52 346.49L464.72 346.23L464.93 345.99L465.16 345.77L465.4 345.55L465.65 345.35L465.91 345.15L466.18 344.97L466.47 344.81L466.75 344.65L467.04 344.51L467.35 344.37L467.65 344.25L467.96 344.15L468.25 344.05L468.54 343.96L468.82 343.89L469.1 343.82L469.36 343.77L469.6 343.75L469.81 343.75L470.01 343.76L470.19 343.8L470.35 343.85L470.5 343.93L470.64 344.03L470.76 344.16L470.87 344.3L470.96 344.47L471.04 344.65L471.1 344.85L471.14 345.08L471.16 345.33L471.18 345.58L471.19 345.85L471.19 346.13L471.19 346.43L471.18 346.74L471.16 347.05L471.13 347.35L471.1 347.65L471.06 347.96L471.01 348.27L470.96 348.57L470.89 348.85L470.81 349.13L470.73 349.41L470.64 349.67L470.53 349.91L470.41 350.11L470.29 350.26L470.16 350.38L470.02 350.46L469.84 350.53L469.6 350.59L469.28 350.64L468.89 350.68L468.47 350.7L468.05 350.71L467.65 350.71L467.27 350.7L466.89 350.67L466.52 350.64L466.17 350.59L465.85 350.53L465.55 350.46L465.28 350.37L465.02 350.28L464.79 350.17L464.59 350.05L464.41 349.92L464.26 349.78L464.13 349.63L464.02 349.47L463.93 349.3L463.86 349.12L463.81 348.92L463.78 348.72L463.78 348.49ZM465.29 347.95L465.32 347.78L465.37 347.6L465.44 347.41L465.52 347.22L465.61 347.05L465.71 346.89L465.83 346.74L465.96 346.6L466.1 346.46L466.24 346.33L466.39 346.21L466.55 346.09L466.71 345.98L466.88 345.88L467.05 345.79L467.23 345.7L467.41 345.62L467.59 345.55L467.77 345.49L467.95 345.43L468.12 345.38L468.29 345.33L468.46 345.29L468.62 345.26L468.76 345.25L468.89 345.25L469.01 345.26L469.11 345.28L469.21 345.31L469.3 345.36L469.38 345.42L469.46 345.49L469.52 345.58L469.58 345.68L469.62 345.79L469.66 345.91L469.68 346.05L469.7 346.2L469.71 346.35L469.71 346.51L469.72 346.68L469.71 346.86L469.71 347.04L469.69 347.23L469.68 347.41L469.66 347.59L469.64 347.78L469.61 347.96L469.57 348.14L469.53 348.31L469.49 348.48L469.44 348.65L469.38 348.8L469.32 348.95L469.25 349.07L469.17 349.16L469.1 349.23L469.01 349.28L468.9 349.32L468.76 349.35L468.57 349.39L468.34 349.41L468.08 349.42L467.83 349.43L467.59 349.43L467.36 349.42L467.14 349.4L466.91 349.38L466.7 349.35L466.51 349.32L466.33 349.27L466.17 349.22L466.01 349.17L465.88 349.1L465.75 349.03L465.65 348.95L465.55 348.87L465.48 348.78L465.41 348.68L465.36 348.58L465.32 348.47L465.29 348.35L465.27 348.23L465.27 348.1Z" fill="none" stroke="#8a8a8a" stroke-width="0.45"/>
<path d="M480 366.2L479.98 366.92L479.94 367.66L479.87 368.39L479.77 369.09L479.64 369.76L479.49 370.39L479.31 371.01L479.11 371.59L478.88 372.13L478.64 372.61L478.39 373.03L478.11 373.41L477.81 373.74L477.51 374L477.2 374.19L476.89 374.32L476.56 374.38L476.24 374.38L475.91 374.32L475.6 374.19L475.29 374L474.99 373.74L474.69 373.41L474.41 373.03L474.16 372.61L473.92 372.13L473.69 371.59L473.49 371.01L473.31 370.39L473.16 369.76L473.03 369.09L472.93 368.39L472.86 367.66L472.82 366.92L472.8 366.2L472.82 365.48L472.86 364.74L472.93 364.01L473.03 363.31L473.16 362.64L473.31 362.01L473.49 361.39L473.69 360.81L473.92 360.27L474.16 359.79L474.41 359.37L474.69 358.99L474.99 358.66L475.29 358.4L475.6 358.21L475.91 358.08L476.24 358.02L476.56 358.02L476.89 358.08L477.2 358.21L477.51 358.4L477.81 358.66L478.11 358.99L478.39 359.37L478.64 359.79L478.88 360.27L479.11 360.81L479.31 361.39L479.49 362.01L479.64 362.64L479.77 363.31L479.87 364.01L479.94 364.74L479.98 365.48Z" fill="#fff" stroke="#444" stroke-width="0.6"/>
<path d="M478.02 366.2L478.01 366.53L477.99 366.86L477.96 367.18L477.92 367.5L477.86 367.8L477.79 368.09L477.71 368.36L477.62 368.63L477.52 368.87L477.41 369.08L477.29 369.28L477.17 369.45L477.04 369.59L476.9 369.71L476.76 369.8L476.62 369.85L476.47 369.88L476.33 369.88L476.18 369.85L476.04 369.8L475.9 369.71L475.76 369.59L475.63 369.45L475.51 369.28L475.39 369.08L475.28 368.87L475.18 368.63L475.09 368.36L475.01 368.09L474.94 367.8L474.88 367.5L474.84 367.18L474.81 366.86L474.79 366.53L474.78 366.2L474.79 365.87L474.81 365.54L474.84 365.22L474.88 364.9L474.94 364.6L475.01 364.31L475.09 364.04L475.18 363.77L475.28 363.53L475.39 363.32L475.51 363.12L475.63 362.95L475.76 362.81L475.9 362.69L476.04 362.6L476.18 362.55L476.33 362.52L476.47 362.52L476.62 362.55L476.76 362.6L476.9 362.69L477.04 362.81L477.17 362.95L477.29 363.12L477.41 363.32L477.52 363.53L477.62 363.77L477.71 364.04L477.79 364.31L477.86 364.6L477.92 364.9L477.96 365.22L477.99 365.54L478.01 365.87Z" fill="none" stroke="#aaa" stroke-width="0.45"/>
<path d="M416.7 416.2h.7m.6 .2h.7m-17.9 1.1h.7m-.5 .8h.7m.2-.5h.7m12.4 .6h.7m-12.2 1.8h.7m3.1 .2h.7m4-.2h.7m1.9 0h.7m4.3 .2h.7m-24.8 .7h.7m-.5-.5h.7m2.4 0h.7m1.6 0h.7m-.3 .2h.7m1.9 .7h.7m.6-.2h.7m.1-.6h.7m0 .1h.7m.3-.1h.7m1.1 .8h.7m-.6-.6h.7m-.5 .5h.7m-.7-.8h.7m1.1 .3h.7m3.2 .4h.7m3-.3h.7m-.5-.3h.7m-27 1.3h.7m1.6 0h.7m.7 .1h.7m1.1-.1h.7m-.5 .1h.7m1.6 .2h.7m2.8-.3h.7m.1-.1h.7m.3 .4h.7m-.2-.5h.7m-.3 .2h.7m.5 0h.7m.4 .5h.7m-.5-.6h.7m.1 .1h.7m-.6-.1h.7m1.7 0h.7m1.2-.1h.7m-.7 .6h.7m.1-.3h.7m-.7-.2h.7m.3-.3h.7m.1 .3h.7m-.7 .6h.7m.5-.6h.7m4.9 .2h.7m-38.6 1.2h.7m3.5 .1h.7m2.1 0h.7m.5-.6h.7m.8 .6h.7m1.2-.5h.7m1.8-.1h.7m-.5 .1h.7m.2 .1h.7m.5 .4h.7m-.7-.8h.7m.1 .8h.7m-.1 0h.7m-.6-.8h.7m1.6 0h.7m0 .5h.7m.4 .1h.7m-.5 .2h.7m-.7-.1h.7m-.2 0h.7m1.6 .2h.7m1.6 0h.7m-.7-.2h.7m-.6 .1h.7m-.1 0h.7m-.4-.5h.7m-.4 .1h.7m-.6-.1h.7m.2 .5h.7m-.3-.4h.7m.1 .2h.7m-.5-.7h.7m3.4 .5h.7m3.9 0h.7m-43.1 .9h.7m6 .3h.7m.5 .2h.7m-.6-.1h.7m.9-.2h.7m1.4-.6h.7m.4 .4h.7m1.3-.4h.7m-.3 .2h.7m-.6 .5h.7m-.5-.4h.7m2.3 0h.7m9 .1h.7m-.1 .2h.7m-.6-.6h.7m-.7 .6h.7m-.3-.2h.7m-.5 .3h.7m-.2 .3h.7m-.5-.6h.7m-.4 .1h.7m-.4-.5h.7m-.5 .3h.7m-.4-.2h.7m-.6-.1h.7m-.3 .3h.7m-.7 .3h.7m-.6-.4h.7m-.4 .7h.7m-.7-.1h.7m-.2-.4h.7m-.3 .5h.7m0-.6h.7m-.3-.2h.7m-.3 .9h.7m-.4-.9h.7m-.2 .7h.7m1-.4h.7m-.1 0h.7m-34.7 1.6h.7m-.4-.4h.7m.2 .3h.7m.5 0h.7m1.9-.2h.7m1.3 .1h.7m-.4-.8h.7m-.3 .5h.7m-.5-.5h.7m17.4 .1h.7m-.5-.1h.7m-.7 0h.7m-.5 .5h.7m-.1 .1h.7m-.7 .2h.7m-.7-.5h.7m-.5-.1h.7m-.5 .6h.7m-.5-.6h.7m-.2 0h.7m-.5 .6h.7m-.6-.1h.7m-.4-.2h.7m-.4-.5h.7m-.1 .1h.7m-.6 .7h.7m-.5 .1h.7m-.3-.4h.7m-.1-.3h.7m-41 1.5h.7m-.6 .2h.7m3.6-.4h.7m3.2 .2h.7m.5-.6h.7m.6 .6h.7m-.1 0h.7m.7-.4h.7m.5 .2h.7m-.5-.2h.7m22.2 .1h.7m-.5 .4h.7m-.6 .1h.7m-.6-.2h.7m-.4-.3h.7m-.6-.3h.7m-.5 0h.7m-.1 .8h.7m.2-.5h.7m-.5 .5h.7m0-.2h.7m1.7-.5h.7m.8 0h.7m-40.2 1.6h.7m.2-.8h.7m-.1 .6h.7m-.1 .2h.7m.8-.5h.7m-.4 .5h.7m.4-.8h.7m-.5 .6h.7m0-.5h.7m-.4 0h.7m25.3 0h.7m-.7 0h.7m-.7 .4h.7m-.4 .2h.7m-.5-.4h.7m-.7 .1h.7m-.7 .2h.7m-.2 .1h.7m-.4-.3h.7m-.7 0h.7m-.5 .4h.7m.3-.3h.7m-.1 .5h.7m-.7-.4h.7m-37.9 .8h.7m1 .1h.7m-.1-.3h.7m-.2 .1h.7m-.5 .6h.7m-.6-.8h.7m-.1 .4h.7m-.5-.3h.7m.3 .7h.7m-.2 0h.7m0-.8h.7m-.1 .3h.7m26.5-.3h.7m-.2 .8h.7m-.5-.1h.7m-.7-.1h.7m-.7-.2h.7m-.7 .4h.7m-.2-.8h.7m-.3 .4h.7m-.6 .5h.7m-.5-.1h.7m-.2-.8h.7m-.7 .8h.7m-.7 .1h.7m-.6-.7h.7m-.6-.1h.7m-.6 .5h.7m-.3 .2h.7m-.2-.5h.7m-.3 .5h.7m-.6-.5h.7m-.5 .2h.7m-.1 .3h.7m-.4 0h.7m-.6-.7h.7m-42.3 1.2h.7m1.4 .5h.7m-.3 .1h.7m-.4-.4h.7m.2-.1h.7m-.7 .3h.7m-.6 0h.7m-.5-.2h.7m-.7-.3h.7m-.6 .2h.7m.2 .3h.7m-.6-.6h.7m-.5-.1h.7m-.7 .6h.7m-.6-.4h.7m-.2 0h.7m-.7 .4h.7m-.5-.4h.7m-.3-.1h.7m.5 0h.7m27.8 .2h.7m-.1 .5h.7m-.7 0h.7m-.3-.1h.7m-.1 0h.7m-.4-.7h.7m-.5 .6h.7m-.4-.1h.7m-.5 .2h.7m-.4 0h.7m-.2-.6h.7m-.7 .4h.7m-.3-.4h.7m-.6 0h.7m-.3 .7h.7m.7-.1h.7m-.5-.5h.7m0 .6h.7m-47.9 .5h.7m3.9 .5h.7m-.3-.2h.7m.2 .2h.7m.2-.2h.7m.1-.2h.7m-.6 0h.7m-.5 .2h.7m-.2-.3h.7m-.1 .3h.7m0-.5h.7m-.3 .8h.7m-.7-.4h.7m-.7 .2h.7m-.7-.1h.7m-.5 .3h.7m.1-.7h.7m-.6-.2h.7m29.3 .2h.7m-.5-.1h.7m-.7 .1h.7m-.7 .1h.7m-.5 .1h.7m-.7 0h.7m-.5 .3h.7m-.7-.4h.7m-.7-.2h.7m-.6 .7h.7m-.6 0h.7m-.6-.4h.7m-.4 .3h.7m-.7-.5h.7m-.6 .2h.7m-.5-.4h.7m-.7 .7h.7m.8-.7h.7m-.3 0h.7m-.3 0h.7m-.5 .3h.7m-.7-.3h.7m.2 .1h.7m-.3 .3h.7m1.8-.1h.7m-45.4 1.2h.7m1.5 0h.7m-.4-.1h.7m-.5-.4h.7m.7 .8h.7m-.7-.6h.7m-.7 .4h.7m-.2-.2h.7m-.7 .5h.7m-.1-.4h.7m-.5 .4h.7m-.4-.3h.7m30.8-.3h.7m-.6 .2h.7m-.5 .3h.7m-.7-.3h.7m-.4 .1h.7m-.6-.1h.7m-.5-.1h.7m-.5 .1h.7m-.5-.3h.7m-.3 0h.7m-.7 .3h.7m.5 .1h.7m1.1 .1h.7m-.2-.1h.7m-.6-.6h.7m-41.4 1.9h.7m.2-.9h.7m-.5 .1h.7m-.6 .4h.7m-.6 .2h.7m0-.2h.7m-.5-.2h.7m-.2 .3h.7m-.5-.6h.7m-.6 .6h.7m-.6-.7h.7m-.7 .1h.7m-.6 .5h.7m-.6 .4h.7m-.6-.4h.7m-.4-.2h.7m31.2 .2h.7m-.4-.4h.7m-.4 .8h.7m-.6-.1h.7m-.6-.4h.7m-.6-.4h.7m-.6 0h.7m-.6 .1h.7m-.6-.1h.7m-.6 .2h.7m-.7 0h.7m-.6 .4h.7m-.2 .2h.7m-.6-.4h.7m-.6 .3h.7m-.4-.8h.7m-.4 .9h.7m.1 .1h.7m-.5-.1h.7m1.5-.7h.7m-45.7 .8h.7m0 .9h.7m1.2 0h.7m-.3 0h.7m.1-.1h.7m-.1-.3h.7m-.5-.5h.7m-.5 1h.7m0-.8h.7m-.2 .2h.7m-.5-.3h.7m-.6 0h.7m-.7 0h.7m-.6 .8h.7m-.6-.4h.7m-.7 .1h.7m-.2-.5h.7m30.7 .2h.7m-.6 0h.7m-.6 .3h.7m-.6 0h.7m-.6-.6h.7m-.4 .9h.7m-.6 0h.7m-.3-.5h.7m-.4 .6h.7m-.4-.2h.7m-.1-.5h.7m-43.4 1.2h.7m.9 .3h.7m.6-.6h.7m.6 .8h.7m-.4-.5h.7m1.2 .4h.7m-.5 0h.7m-.6 0h.7m-.6-.8h.7m-.4 .8h.7m-.4-.8h.7m-.6 .1h.7m-.7 .1h.7m-.6 .2h.7m-.7-.2h.7m-.2 .4h.7m-.6 0h.7m-.5-.3h.7m31.4 .6h.7m-.6-.5h.7m-.7 .3h.7m-.7-.2h.7m-.4-.6h.7m-.7 .1h.7m-.7 .3h.7m-.3 .5h.7m-.6-.1h.7m-.6 .1h.7m-.6 0h.7m-.7-.8h.7m-.6 .2h.7m-.6 .6h.7m-.7-.7h.7m-.4-.1h.7m-.7 .4h.7m-.3 .4h.7m-.4-.6h.7m-.2 .6h.7m-.4-.9h.7m-.4 1h.7m-.6-.9h.7m-.1 .4h.7m-.1-.3h.7m.8 .3h.7m2.6 .2h.7m-48.1 .9h.7m1.7-.2h.7m-.2-.4h.7m-.4 0h.7m-.6 .7h.7m-.6-.1h.7m-.7-.4h.7m-.2 .4h.7m-.1-.2h.7m-.6 .5h.7m-.6-.3h.7m-.5 .2h.7m-.5-.1h.7m-.6-.2h.7m-.6 .4h.7m-.3-.3h.7m31.4-.2h.7m-.7 .5h.7m-.5-.2h.7m-.4 .1h.7m-.7-.3h.7m-.6-.4h.7m-.7 .8h.7m-.7-.6h.7m-.7-.3h.7m-.6 0h.7m-.6 .4h.7m-.7-.1h.7m-.6 .6h.7m-.7-.1h.7m-.7-.2h.7m-.6-.2h.7m-.7 .2h.7m-.7 0h.7m-.4-.3h.7m-.4 .3h.7m-.7 .1h.7m-.6 0h.7m-.5-.3h.7m-.2 .1h.7m-.5 .3h.7m.1-.4h.7m-.5 .3h.7m-.1 0h.7m1.3 0h.7m-52.9 1h.7m9.1-.4h.7m-.3-.1h.7m.6-.2h.7m-.4 .2h.7m-.7 .8h.7m-.6-.2h.7m-.5-.4h.7m-.4 .2h.7m-.7 .3h.7m-.4 0h.7m0-.1h.7m-.7 .2h.7m-.5-.7h.7m-.6 .2h.7m31.6 .1h.7m-.6 0h.7m-.6-.3h.7m-.7-.3h.7m-.7 .5h.7m-.5-.3h.7m-.5 .3h.7m-.6-.4h.7m.2 .9h.7m-.4-.4h.7m-.5 .1h.7m-.6-.7h.7m-.5 .1h.7m-.6 .2h.7m-.6 .6h.7m-.6-.8h.7m-.4 .6h.7m.2 .3h.7m-.3-.1h.7m0-.4h.7m-42.3 1.1h.7m.3 .2h.7m-.6 0h.7m.5-.6h.7m-.2 .6h.7m-.6 .1h.7m.1-.8h.7m-.7 .8h.7m-.6-.6h.7m-.6 .6h.7m-.5-.1h.7m31.5-.5h.7m-.5 0h.7m-.5 .2h.7m-.5 .3h.7m-.2-.8h.7m-.5 0h.7m-.5 .7h.7m-.5-.6h.7m-.6 .1h.7m-.5 .1h.7m-.7 .4h.7m-.6 0h.7m-.4 0h.7m-.2 .1h.7m-.5-.1h.7m.2-.6h.7m-44.8 .9h.7m-.4 .6h.7m1.1-.5h.7m.9 .9h.7m-.4-.3h.7m-.5-.3h.7m-.4 .5h.7m-.7-.3h.7m-.5 .3h.7m0-.2h.7m-.2 .2h.7m-.2-.4h.7m-.7 .5h.7m-.5-.1h.7m.2-.5h.7m-.6 .4h.7m-.5 .1h.7m31.7-.8h.7m-.6 0h.7m-.7-.1h.7m-.3 .4h.7m-.7 .5h.7m-.6-.5h.7m-.7 .5h.7m-.6 0h.7m-.5-.7h.7m-.6 .7h.7m-.5-.8h.7m-.7 .9h.7m-.6-.9h.7m-.3 .6h.7m-.4 .1h.7m-.4-.6h.7m-.2 .4h.7m-.7-.2h.7m-.6 .2h.7m-.7-.6h.7m1.2 .9h.7m-42.9 .4h.7m-.2-.1h.7m.9-.1h.7m-.5 .2h.7m-.6 .3h.7m-.7 .1h.7m-.1-.1h.7m-.5 .2h.7m-.5-.7h.7m-.6 .2h.7m0 .1h.7m-.6-.1h.7m-.7 .1h.7m-.7 .5h.7m-.5-.7h.7m-.4 .7h.7m-.5 0h.7m-.7-.8h.7m32 .4h.7m-.7 .3h.7m-.6-.7h.7m-.6 0h.7m-.5 .6h.7m-.3-.4h.7m-.6 .4h.7m-.6 .2h.7m-.6-.4h.7m-.7-.4h.7m-.7 .1h.7m-.6 .4h.7m-.5 .2h.7m-.5-.2h.7m-.7-.5h.7m-.5 .5h.7m-.6-.1h.7m-.7-.3h.7m-.6 .8h.7m-.7-.3h.7m-40.4 .6h.7m-.3-.3h.7m.3 .5h.7m.1-.2h.7m-.2-.1h.7m-.6-.1h.7m-.3 .6h.7m-.5 .2h.7m-.6-.7h.7m-.1 .6h.7m-.5-.1h.7m-.5 0h.7m32-.6h.7m-.5 .8h.7m-.5-.7h.7m-.5 0h.7m-.6-.1h.7m-.7 .5h.7m.3-.5h.7m-.6 .7h.7m-.7-.5h.7m-.6 .4h.7m-.4-.3h.7m-.6-.2h.7m.1 .8h.7m-.3-.6h.7m1.6 .1h.7m-51.7 1.1h.7m5 .1h.7m1.6 0h.7m1.5-.1h.7m-.5-.5h.7m-.6-.1h.7m-.5 .9h.7m-.3-.1h.7m-.6-.2h.7m-.4-.2h.7m-.6-.2h.7m-.3 .1h.7m-.6-.2h.7m-.7-.1h.7m-.6 .8h.7m-.6 .1h.7m-.5-.1h.7m-.4-.4h.7m-.6-.2h.7m31.6 .7h.7m-.1-.3h.7m-.6 0h.7m-.5-.2h.7m-.6 .6h.7m-.6-.9h.7m-.6 .4h.7m-.3-.2h.7m-.6 .1h.7m-.7 .1h.7m-.7-.2h.7m-.6 .6h.7m-.1-.3h.7m-.7-.4h.7m-.7 .3h.7m-.3 .1h.7m-.5-.3h.7m-.7-.1h.7m-.6-.1h.7m-.7 .9h.7m-.4-.2h.7m1.2 .1h.7m3.1-.4h.7m-47.3 1.1h.7m.5 .4h.7m1-.4h.7m-.5-.1h.7m-.6 .1h.7m-.4 0h.7m-.3 .1h.7m0-.7h.7m-.7 1h.7m-.6-.9h.7m-.2 .8h.7m-.7-.3h.7m-.5 .2h.7m31.6-.3h.7m-.5 .3h.7m-.7-.6h.7m-.6 .2h.7m-.7-.2h.7m-.6 .5h.7m-.5-.2h.7m-.6 .1h.7m-.2 .1h.7m-.4 .1h.7m-.6-.7h.7m-.6 .9h.7m-.6-.9h.7m-.6 .6h.7m-.5 0h.7m-.4-.6h.7m-.6 .2h.7m1-.3h.7m-44.2 1.7h.7m2-.5h.7m.5 .7h.7m.1-.5h.7m.5 .4h.7m-.5-.5h.7m-.7 0h.7m-.6 0h.7m-.3 .5h.7m-.6-.2h.7m-.6-.4h.7m-.7 .1h.7m-.7-.2h.7m-.6 .2h.7m-.6-.1h.7m31.1-.1h.7m.3 0h.7m-.7 .8h.7m-.5-.1h.7m-.7-.3h.7m-.7 .4h.7m-.6-.4h.7m-.6-.3h.7m-.6 .6h.7m-.5-.6h.7m-.7 .6h.7m-.3 0h.7m-.6-.6h.7m-.5 .4h.7m-.4 .1h.7m-.7-.3h.7m.1 .4h.7m-.5-.1h.7m-42.6 1.2h.7m1-.6h.7m.2 .3h.7m-.5-.2h.7m-.6 .1h.7m0 .2h.7m-.5-.7h.7m-.6 .6h.7m-.3 .1h.7m-.3-.2h.7m-.7 .4h.7m-.1-.7h.7m-.3 .2h.7m-.7 .2h.7m-.6-.3h.7m-.7 .1h.7m0 .2h.7m-.6 .4h.7m-.6-.7h.7m-.7 .6h.7m-.5-.6h.7m-.7 0h.7m-.4 .4h.7m-.6-.1h.7m-.3 .3h.7m.4 0h.7m.3 .1h.7m.6-.1h.7m1.3 0h.7m2.6 .1h.7m-.6-.2h.7m1 .1h.7m7.2 .1h.7m11.5-.3h.7m-.7 .1h.7m-.4 .1h.7m-.7 0h.7m-.5-.7h.7m-.7 0h.7m-.6 .3h.7m-.4 .4h.7m-.6-.2h.7m-.5-.3h.7m-.6 0h.7m-.5 .4h.7m-.3-.4h.7m-.6 .3h.7m-.6-.4h.7m-.7 .4h.7m-.1 .2h.7m-.2-.8h.7m-.4 .5h.7m-.4 .1h.7m-.3-.3h.7m-.5-.4h.7m1.8 .3h.7m-44.6 1.5h.7m-.5-.3h.7m-.4-.1h.7m-.3 .4h.7m.4-.1h.7m-.3 .3h.7m-.7-.2h.7m.1-.4h.7m-.6-.3h.7m-.6 .1h.7m.4 .1h.7m-.5 .5h.7m-.4-.5h.7m-.5 .5h.7m-.3-.4h.7m-.5 .3h.7m-.3-.5h.7m-.6 0h.7m-.6 .3h.7m-.4-.4h.7m-.5 .1h.7m-.4 0h.7m-.3 .1h.7m-.3 .6h.7m-.5-.4h.7m-.5 .2h.7m-.7-.6h.7m-.7-.1h.7m-.5 .6h.7m.3 .1h.7m-.7-.6h.7m-.2 .3h.7m-.7-.4h.7m-.6 .1h.7m-.6 .5h.7m-.3-.3h.7m-.7 .6h.7m-.6 0h.7m-.6-.1h.7m-.2 .1h.7m-.7-.9h.7m-.6 .3h.7m-.5 .1h.7m-.4-.1h.7m-.2 .1h.7m-.6 .2h.7m-.6-.1h.7m-.4 .1h.7m-.7 0h.7m-.4-.1h.7m-.6 .3h.7m-.6-.7h.7m-.1 0h.7m-.5 .9h.7m-.4-1h.7m-.6 .7h.7m-.7 .1h.7m-.5-.2h.7m-.7 .2h.7m-.4-.2h.7m-.3 .1h.7m-.7-.1h.7m-.4-.4h.7m-.6 .7h.7m-.5-.8h.7m-.7 .8h.7m-.2-.2h.7m1.1-.5h.7m-.3 .2h.7m-.6 .4h.7m-.5-.3h.7m-.6 .4h.7m-.6-.1h.7m-.5 0h.7m-.2-.1h.7m-.5-.1h.7m-.6 .1h.7m-.7 .1h.7m-.4-.5h.7m-.6 .1h.7m-.7 .4h.7m-.6 .2h.7m-.6-.7h.7m-.7 .1h.7m-.6 .2h.7m-.1 .2h.7m-.5 0h.7m-.6 .2h.7m-.5-.4h.7m-.5 .1h.7m-.6-.3h.7m-.5 .3h.7m-.4 .2h.7m-.2-.5h.7m-.6 0h.7m-.5-.1h.7m-.4 .3h.7m-.6-.3h.7m-.5 .6h.7m-.7-.8h.7m-.6 .6h.7m0 0h.7m-.2 0h.7m-.5 .1h.7m-.7-.2h.7m-.2 .3h.7m-.5-.4h.7m9.4 .3h.7m-.6-.1h.7m-.7-.1h.7m-.7 .3h.7m-.7-.1h.7m-.6 .1h.7m-.7-.6h.7m-.6-.1h.7m-.5 .5h.7m-.7-.7h.7m-.6 .6h.7m-.7-.5h.7m-.6 .8h.7m-.7-.8h.7m-.6 .1h.7m-.6 0h.7m-.5-.2h.7m-.5 .2h.7m-.5 .8h.7m-.6-.5h.7m-.6 .4h.7m-.7-.1h.7m-.5 .1h.7m-.5-.6h.7m-.6-.2h.7m-.6 .3h.7m-.5-.1h.7m-.4 .3h.7m-.6 0h.7m-.6-.4h.7m-.7 .7h.7m-.7-.6h.7m-.5 .1h.7m-.7-.1h.7m0-.1h.7m2.2 .7h.7m.6-.1h.7m3.8-.8h.7m-50.6 1.2h.7m.1 .6h.7m.4 0h.7m-.5 .2h.7m-.5-.2h.7m.3-.7h.7m.4 .3h.7m0-.4h.7m.7 .5h.7m-.7-.3h.7m-.6-.1h.7m-.5 .7h.7m-.6 0h.7m-.5 0h.7m.2 0h.7m-.5 0h.7m-.4 .1h.7m-.5-.5h.7m-.4 .3h.7m-.7 .1h.7m-.6-.5h.7m-.1 .6h.7m-.7-.5h.7m-.6 .3h.7m-.4 .2h.7m-.6-.2h.7m-.5-.5h.7m-.7-.1h.7m-.4 .9h.7m-.2-.1h.7m-.2-.5h.7m-.2 .5h.7m-.6-.1h.7m-.7-.8h.7m-.6 .7h.7m-.6-.7h.7m-.4 .4h.7m-.5 .1h.7m.2-.1h.7m-.6 .3h.7m-.1-.3h.7m-.2 .2h.7m-.3-.2h.7m-.6-.2h.7m-.6 .1h.7m-.4 .5h.7m-.7 .1h.7m-.6-.9h.7m-.5 .4h.7m-.7-.1h.7m-.3 .5h.7m-.1 .1h.7m-.7-.6h.7m-.6 .2h.7m-.7 .5h.7m-.6-.7h.7m-.3 .6h.7m-.6 .1h.7m-.6-.4h.7m-.7 .1h.7m-.6-.5h.7m-.7 .3h.7m-.7 .5h.7m-.7-.9h.7m-.6 .2h.7m-.6 .7h.7m-.7-.3h.7m-.6 .2h.7m-.4 .1h.7m-.7-.5h.7m-.7 .4h.7m-.6-.1h.7m-.4-.1h.7m-.7-.1h.7m-.5 .1h.7m-.6-.3h.7m-.7-.1h.7m-.5 .5h.7m-.4-.4h.7m-.3 .2h.7m-.6-.2h.7m-.5 .1h.7m-.6-.1h.7m-.6 .3h.7m-.6 .2h.7m-.5-.9h.7m-.4 .6h.7m-.2-.2h.7m-.3-.3h.7m.4 .5h.7m-.6 .1h.7m-.7-.2h.7m-.6-.1h.7m-.5 0h.7m-.4-.4h.7m-.7 1h.7m-.4-.2h.7m-.2-.5h.7m-.7-.1h.7m-.7 0h.7m-.7 0h.7m-.7-.2h.7m-.6 .2h.7m-.6 .7h.7m-.6 0h.7m-.5 .1h.7m-.7-.1h.7m-.5-.5h.7m-.7 0h.7m-.6 .6h.7m-.6-.7h.7m0-.1h.7m-.6 .3h.7m-.3 .2h.7m-.3 .2h.7m-.7-.8h.7m-.7 .1h.7m-.7-.1h.7m-.6 .3h.7m-.5-.3h.7m-.4 .5h.7m-.3 .3h.7m7.9 .1h.7m-.6-.7h.7m-.5 0h.7m-.7 .1h.7m-.6 .5h.7m-.4-.1h.7m-.4-.7h.7m-.6 .1h.7m-.6 .4h.7m-.4 .1h.7m-.5-.1h.7m-.7-.3h.7m-.7-.1h.7m-.7 .3h.7m-.4-.1h.7m-.6 .5h.7m-.6-.6h.7m-.7 .3h.7m-.6-.4h.7m-.6 .6h.7m-.6-.8h.7m-.6 .1h.7m-.6 .3h.7m-.6-.2h.7m-.7 .3h.7m-.6 .4h.7m-.7-.9h.7m-.3 .3h.7m-.6 .2h.7m-.7 .2h.7m-.3-.4h.7m0 .3h.7m-43.4 .6h.7m.4 .8h.7m.3-.4h.7m-.5 0h.7m-.3-.4h.7m-.4 .7h.7m-.4-.4h.7m-.6-.2h.7m.2-.3h.7m1.3 .1h.7m-.6 .4h.7m-.6 .3h.7m-.7-.3h.7m.2-.4h.7m-.6 .7h.7m-.4-.3h.7m-.6 .1h.7m-.2 .2h.7m-.4-.3h.7m-.5 0h.7m-.7-.1h.7m-.7 .5h.7m-.4-.9h.7m-.6 .9h.7m0 0h.7m.5-.3h.7m-.1-.6h.7m-.5 .4h.7m-.6 .6h.7m.1-.9h.7m-.6 .8h.7m-.2-.2h.7m-.7 .1h.7m-.7-.2h.7m-.7 .3h.7m-.6-.6h.7m-.4 .1h.7m-.5-.4h.7m-.2 1h.7m-.3-.3h.7m0-.2h.7m-.7 0h.7m-.3-.1h.7m-.5 .4h.7m-.5-.4h.7m-.4 .4h.7m-.4-.6h.7m-.2-.1h.7m-.5 .7h.7m-.6-.5h.7m-.6 .7h.7m-.6-.1h.7m-.4-.5h.7m-.6 .2h.7m-.6-.1h.7m-.3 .1h.7m-.6-.3h.7m-.6 .2h.7m-.6-.5h.7m-.7 .7h.7m-.4 .2h.7m-.6-.8h.7m-.4 .4h.7m-.7 .2h.7m-.6 .1h.7m-.6-.2h.7m-.6-.5h.7m-.5 .2h.7m-.6 .4h.7m-.7-.3h.7m-.6 .3h.7m-.3 .2h.7m-.7-.4h.7m-.6-.5h.7m-.7 .6h.7m-.6 .2h.7m-.6 .1h.7m-.6-.8h.7m-.7 .9h.7m-.6 0h.7m-.7-1h.7m-.6 .5h.7m-.3 .2h.7m-.5 .2h.7m-.7-.8h.7m-.3 .1h.7m-.6 .6h.7m-.6-.6h.7m-.7 .3h.7m-.6 .2h.7m-.3-.5h.7m-.4-.2h.7m0 .1h.7m-.5 .6h.7m-.3-.1h.7m-.7-.1h.7m-.7 .3h.7m-.3-.8h.7m-.6 .2h.7m-.7 .1h.7m-.6 .6h.7m-.5-.5h.7m-.7-.2h.7m-.6 .7h.7m-.7-.3h.7m-.6-.5h.7m-.4 .6h.7m-.6-.1h.7m-.5-.3h.7m-.7 .3h.7m-.7-.6h.7m-.5 .6h.7m-.6-.2h.7m-.7 .5h.7m-.5-.1h.7m-.4 0h.7m-.7-.7h.7m-.6 .8h.7m-.6 0h.7m-.4-.7h.7m-.7 .8h.7m-.3-.8h.7m-.7 .5h.7m-.1-.5h.7m-.6 .8h.7m-.6-.4h.7m-.6-.2h.7m-.6 .5h.7m-.2-.3h.7m-.4-.2h.7m7.4-.1h.7m-.5 .7h.7m-.7-.6h.7m-.6 .5h.7m-.6-.6h.7m-.5 .1h.7m-.7 .5h.7m-.5-.4h.7m-.5-.4h.7m-.4 .7h.7m-.2-.2h.7m-.6-.2h.7m-.6 .5h.7m-.3-.4h.7m-.5-.2h.7m-.6-.1h.7m-.4 .8h.7m-.7-1h.7m-.6 .6h.7m-.6 0h.7m-.5-.2h.7m-.6 0h.7m-.6 .4h.7m2.1-.6h.7m-45 1.5h.7m1.2-.3h.7m2.5 .1h.7m-.6 0h.7m-.5-.5h.7m-.1 .9h.7m-.7-.6h.7m.8 .6h.7m-.6-.6h.7m-.4 0h.7m-.1 .7h.7m-.7-.7h.7m-.4 .7h.7m-.6-.1h.7m-.2 0h.7m-.4-.1h.7m-.3-.5h.7m-.5-.3h.7m-.6 .2h.7m-.6 0h.7m-.2 .6h.7m-.6-.4h.7m-.4 0h.7m-.2 0h.7m-.2 0h.7m.2 .5h.7m-.3-.3h.7m-.7 0h.7m-.7 0h.7m-.6-.5h.7m-.4 0h.7m-.5 .9h.7m-.6-.3h.7m0 0h.7m.2-.3h.7m-.5-.1h.7m-.7 .5h.7m-.4 .1h.7m-.6-.8h.7m-.4 .3h.7m0 0h.7m-.5 0h.7m0 .5h.7m-.6-.5h.7m-.5 .3h.7m-.6-.7h.7m-.7 .4h.7m-.2-.1h.7m-.7 .7h.7m-.6-.6h.7m-.6 .1h.7m-.7-.2h.7m-.5 .5h.7m-.6-.3h.7m-.5 .3h.7m-.6-.4h.7m.4-.2h.7m-.5 .4h.7m-.5-.1h.7m-.5-.5h.7m-.7 .3h.7m-.7 0h.7m-.3 .2h.7m.1-.3h.7m-.5 .1h.7m-.6 .1h.7m-.5 .3h.7m-.7 .2h.7m-.5-.6h.7m-.7 0h.7m-.7 .4h.7m-.5-.3h.7m-.6 .2h.7m-.4 .4h.7m-.5-.5h.7m-.3-.2h.7m-.7 .3h.7m-.6-.2h.7m-.2 .3h.7m-.4-.3h.7m-.5-.2h.7m-.7 .5h.7m-.4 .2h.7m0-.6h.7m-.1 .1h.7m-.4 .1h.7m-.7 0h.7m-.6 0h.7m-.7-.4h.7m-.3 .5h.7m-.5 0h.7m-.3-.2h.7m-.5 .1h.7m-.4 .3h.7m7.7 0h.7m-.1-.6h.7m.6 .1h.7m-.5-.2h.7m-.7 .1h.7m-.4 .7h.7m-.5-.4h.7m-.5 .5h.7m-.7-.1h.7m.8-.9h.7m1.2 .2h.7m-49.1 1.1h.7m2.3 0h.7m2.9 .2h.7m3.6-.3h.7m-.6 .8h.7m1.6-.4h.7m-.4-.3h.7m-.7 0h.7m.3 .3h.7m-.7 .4h.7m-.1-.8h.7m.8 .7h.7m-.2-.6h.7m-.6 .5h.7m-.1-.3h.7m-.3-.4h.7m-.6 .6h.7m-.6-.7h.7m-.6 .4h.7m-.6 .2h.7m-.3-.5h.7m-.1 .3h.7m-.6-.3h.7m-.6 .8h.7m-.6-.4h.7m-.6 .1h.7m-.5-.4h.7m-.3 .4h.7m-.7 .1h.7m-.5-.3h.7m-.6-.1h.7m-.5 .1h.7m-.3 .2h.7m-.6-.6h.7m-.4 .8h.7m-.5-.8h.7m-.4 .9h.7m-.5-.3h.7m-.5 0h.7m-.6 .4h.7m-.5-.1h.7m-.5-.8h.7m-.6 .7h.7m-.6-.4h.7m-.6 .3h.7m-.6-.1h.7m-.5-.5h.7m-.7 .9h.7m-.5-.7h.7m-.3 .5h.7m-.6-.4h.7m-.7 .5h.7m-.7-.2h.7m-.6 0h.7m-.6-.3h.7m-.6-.3h.7m-.4 .6h.7m-.6-.6h.7m-.5 .1h.7m-.3 .5h.7m-.4-.6h.7m-.4 .5h.7m-.5-.1h.7m-.6 0h.7m0-.1h.7m0 .1h.7m-.6-.1h.7m-.5 .4h.7m-.7-.7h.7m-.4 .8h.7m-.3-.7h.7m.5 .1h.7m-.6 .4h.7m-.4-.1h.7m.1-.3h.7m-.6 .3h.7m-.5-.1h.7m-.6-.3h.7m-.5 .5h.7m-.3-.5h.7m-.3 .5h.7m-.4 .3h.7m-.4-.4h.7m-.7-.3h.7m-.4 0h.7m-.6 .4h.7m-.2 .2h.7m-.5 0h.7m-.6-.2h.7m-.6-.2h.7m6.6 .1h.7m-.5 .1h.7m-.6 .2h.7m.2-.4h.7m-.4-.1h.7m-.6 .6h.7m-.3-.5h.7m-.5-.1h.7m-.6 0h.7m0 .5h.7m-.6-.4h.7m-.5 .5h.7m.5-.5h.7m-.5-.3h.7m-.7 .2h.7m3.1 .5h.7m-50.1 1h.7m2.5-.7h.7m-.4 .8h.7m1.7-.3h.7m-.1-.5h.7m.2-.1h.7m.4 .6h.7m-.4 .1h.7m-.7 .1h.7m1.2-.2h.7m-.5-.2h.7m-.4-.2h.7m0 .3h.7m0-.1h.7m-.6 .4h.7m.2-.7h.7m-.5 .5h.7m-.6-.6h.7m-.3 .4h.7m-.4 .5h.7m-.6-.6h.7m-.3 .4h.7m.5-.4h.7m-.7-.1h.7m-.1-.2h.7m-.6 .1h.7m.3 .4h.7m-.5-.5h.7m-.7 .2h.7m.3-.2h.7m-.3 .5h.7m-.1-.1h.7m-.7-.1h.7m-.5 0h.7m-.2-.3h.7m-.7 .2h.7m-.4 .6h.7m-.4-.7h.7m-.7 .7h.7m.1-.8h.7m.1 .4h.7m-.3 .3h.7m-.6-.3h.7m-.5 .1h.7m-.6-.5h.7m-.6 .3h.7m-.6 .6h.7m0-.3h.7m-.7-.5h.7m-.5-.1h.7m-.6 0h.7m-.7 .5h.7m-.2 .1h.7m-.1-.6h.7m-.5 .2h.7m-.5-.1h.7m-.5 .6h.7m-.3-.5h.7m-.6 .7h.7m-.5-.1h.7m-.6-.8h.7m.4 .1h.7m-.7 .6h.7m-.4 0h.7m-.7-.5h.7m-.6 0h.7m-.5 .2h.7m-.5 .3h.7m.2-.6h.7m-.7-.2h.7m-.6 .5h.7m-.3-.3h.7m-.2 .2h.7m-.1 .2h.7m-.5-.4h.7m-.4 0h.7m-.7-.1h.7m-.7 .2h.7m-.4 0h.7m0 0h.7m-.6 .4h.7m-.3-.6h.7m-.1 .2h.7m-.3 .6h.7m4.6 0h.7m.4-.3h.7m.6-.3h.7m.5 .2h.7m.6-.2h.7m-.5-.2h.7m-.6 .2h.7m-39.7 1.6h.7m-.6-.5h.7m1.3 .6h.7m-.3 0h.7m-.2-.5h.7m.4 .4h.7m-.3-.1h.7m.4-.7h.7m-.7 .2h.7m-.1 .7h.7m0-.7h.7m.6-.3h.7m-.6 .2h.7m-.4 .3h.7m-.6-.3h.7m-.1 .1h.7m0-.2h.7m-.6 0h.7m-.5 .2h.7m-.6-.1h.7m.3 0h.7m-.3 .8h.7m-.5-.9h.7m-.1 .6h.7m-.5-.3h.7m-.4-.4h.7m-.5 .9h.7m-.6-.6h.7m-.6 0h.7m-.5 .1h.7m-.7-.2h.7m-.2 0h.7m-.4-.2h.7m-.7 .4h.7m-.2 .3h.7m-.7-.4h.7m-.7 .3h.7m.5-.6h.7m-.5 .3h.7m.2-.3h.7m-.5 .3h.7m-.7-.3h.7m-.4 .4h.7m-.6 .5h.7m-.6 .1h.7m-.6-.7h.7m-.4 .6h.7m-.3-.6h.7m-.3 .1h.7m-.3-.3h.7m-.5 .2h.7m-.4 .1h.7m-.6-.4h.7m-.5 1h.7m-.2-.7h.7m-.5 .5h.7m-.5-.4h.7m-.6 0h.7m-.3-.2h.7m-.6 .3h.7m-.7 .3h.7m-.6-.7h.7m.5 .3h.7m.1 .2h.7m-.6-.3h.7m-.6 0h.7m-.5-.1h.7m-.4 0h.7m-.7 .2h.7m-.6-.3h.7m-.3 .9h.7m-.6-.2h.7m-.5 0h.7m-.2-.7h.7m-.4 .4h.7m-.7-.2h.7m-.4 0h.7m-.7 .1h.7m-.5 .2h.7m-.3-.1h.7m5.8-.1h.7m0-.3h.7m-.3 .6h.7m-.5 .2h.7m.5-.8h.7m-.6 .3h.7m-.5 0h.7m-.4 .2h.7m-.1 0h.7m.7-.4h.7m-49.6 1.1h.7m2.5 .6h.7m2.1-.8h.7m1.7 .5h.7m1.1 .1h.7m1.7-.5h.7m-.6-.2h.7m.6 .6h.7m1.2 .1h.7m-.7 .1h.7m.7 .1h.7m-.2-.1h.7m-.6 .1h.7m-.7 0h.7m-.6-.5h.7m-.7 .6h.7m-.4-.9h.7m-.6 .8h.7m-.6 0h.7m-.4-.9h.7m1 .5h.7m-.2-.1h.7m-.4-.3h.7m-.2 .8h.7m-.6-.4h.7m-.4 .4h.7m-.1 .1h.7m-.6-.1h.7m.1-.6h.7m-.3 .6h.7m-.7 0h.7m0-.6h.7m-.5 .7h.7m-.7-.7h.7m-.1 0h.7m.3 .2h.7m-.4 .3h.7m-.5 0h.7m-.6-.4h.7m0 .5h.7m.5-.1h.7m-.2-.6h.7m-.4 .7h.7m-.7-.5h.7m-.1 .3h.7m-.5-.2h.7m1.4-.3h.7m-.1 0h.7m-.5 .7h.7m.1-.6h.7m-.7-.1h.7m.2 .4h.7m-.1-.5h.7m-.4 .7h.7m-.6-.6h.7m-.4 .2h.7m-.6 .4h.7m-.7-.2h.7m-.6 .4h.7m-.7 0h.7m-.6-.7h.7m-.7-.1h.7m.6 0h.7m-.5 .7h.7m-.3-.9h.7m4.3 .9h.7m-.4-.3h.7m-.7 0h.7m-.1-.5h.7m-.2 .5h.7m-.6-.5h.7m-.4-.1h.7m-.6 .2h.7m.1 0h.7m1.2-.1h.7m.5 .6h.7m1.7-.1h.7m-54.4 .6h.7m6.1 .6h.7m0-.6h.7m.6 .5h.7m-.3-.5h.7m-.6 .7h.7m1.2 0h.7m-.1 0h.7m.3 0h.7m.9-.8h.7m.3 .2h.7m1.8 .5h.7m-.3 0h.7m0-.8h.7m.1 .5h.7m-.6 0h.7m2.2-.3h.7m-.6 .8h.7m0-.9h.7m-.5 .5h.7m-.7-.5h.7m-.3 .2h.7m0 .1h.7m.4 .5h.7m-.6-.9h.7m-.4 .9h.7m-.2-.3h.7m-.4-.3h.7m-.1 .6h.7m-.4-.6h.7m-.3 .2h.7m-.3-.5h.7m-.4 .7h.7m-.3 .2h.7m0-.3h.7m.1-.5h.7m-.6 .2h.7m-.5-.3h.7m0 .8h.7m-.3-.4h.7m.5 .4h.7m.4-.4h.7m-.3 .3h.7m-.1-.6h.7m-.5-.1h.7m-.6 .1h.7m-.6 .7h.7m-.2 0h.7m-.4-.6h.7m.6 0h.7m-.1 .2h.7m-.7 .6h.7m-.2-.3h.7m.4-.5h.7m-.2-.1h.7m-.1 .5h.7m-.6-.1h.7m3.2 .2h.7m-.1-.5h.7m-.7 .8h.7m.4-.4h.7m-.4-.5h.7m-.2 .2h.7m-.7-.2h.7m-.3 .5h.7m1.8-.3h.7m-55 1h.7m6.2 .3h.7m7.5-.3h.7m.3-.1h.7m-.4 .6h.7m.5-.3h.7m-.4 .2h.7m-.5 .1h.7m.3-.7h.7m-.2 .8h.7m-.6-.8h.7m-.2 .8h.7m-.5 0h.7m-.4-.1h.7m-.6-.8h.7m-.4 .7h.7m-.3-.3h.7m.4 .4h.7m.1-.4h.7m1.8 .2h.7m-.4-.1h.7m-.6-.2h.7m-.4-.2h.7m-.7 .6h.7m-.5 .3h.7m-.2-.4h.7m-.3-.3h.7m-.6 .4h.7m.1 .2h.7m-.4 0h.7m-.6-.3h.7m.2-.3h.7m.7 .4h.7m-.3-.7h.7m-.7 .6h.7m-.6 .2h.7m-.1-.1h.7m0-.3h.7m1.3-.3h.7m0 .4h.7m-.4-.1h.7m-.5-.3h.7m.2 .8h.7m2.1-.2h.7m-.5 0h.7m.1-.6h.7m-.6-.1h.7m-.1 .9h.7m0-.6h.7m-.6 0h.7m-.2 .4h.7m.2-.1h.7m-.6 .1h.7m-.2-.2h.7m-.7-.2h.7m3 .6h.7m-.6-.6h.7m-.1 .6h.7m-.6-.5h.7m.4 .1h.7m.3-.4h.7m-.5 .3h.7m-.6 .4h.7m-47.8 1.2h.7m2.4-.5h.7m.6 0h.7m.4-.4h.7m.3 .3h.7m.5 .1h.7m-.6 .1h.7m1 0h.7m-.2-.1h.7m.6 0h.7m-.2 0h.7m-.3-.2h.7m-.3 .6h.7m.3-.9h.7m-.1 .7h.7m4.3 .2h.7m-.3-.2h.7m0 .1h.7m-.4 .2h.7m-.5-.4h.7m-.7 .2h.7m-.7-.1h.7m-.6 0h.7m-.7-.3h.7m-.3 .1h.7m-.4-.4h.7m-.4 .6h.7m-.6-.1h.7m-.6 0h.7m-.7 .3h.7m-.6-.6h.7m-.7 .3h.7m-.6 .2h.7m.5-.2h.7m-.2-.4h.7m-.5 0h.7m-.3 .6h.7m-.4-.1h.7m-.4-.4h.7m-.6-.2h.7m-.2 .7h.7m-.2-.3h.7m-.4 0h.7m-.1 .2h.7m-.3 0h.7m.4-.2h.7m-.5-.4h.7m-.2 .4h.7m.4 .2h.7m-.3-.3h.7m-.6-.1h.7m-.4 .3h.7m.9 .3h.7m.1-.6h.7m0 .5h.7m0 .1h.7m1.1 0h.7m-.5-.6h.7m-.5 .3h.7m-.7 .1h.7m-.2-.6h.7m-.7 .6h.7m-.3-.4h.7m.7 .6h.7m-.6-.9h.7m.4 .2h.7m2.5 .4h.7m-.6-.6h.7m-.5 .1h.7m.9 .2h.7m-.6 .3h.7m-.3-.5h.7m-.7 .5h.7m.5-.1h.7m-47.5 1.5h.7m2.6-.4h.7m.6-.1h.7m.2-.2h.7m-.1-.3h.7m.5 .2h.7m1.3 .2h.7m.7 .6h.7m-.3-.1h.7m-.7-.3h.7m-.4 .2h.7m0-.2h.7m-.2-.1h.7m-.7 .5h.7m-.5-.5h.7m-.4 .1h.7m-.4-.4h.7m.6 .4h.7m-.1-.3h.7m.5 .5h.7m-.5 .1h.7m-.3-.6h.7m.4 0h.7m-.3-.2h.7m-.6 .6h.7m-.5-.7h.7m0 .5h.7m-.6-.4h.7m-.4 .3h.7m-.1-.1h.7m.6 0h.7m-.5 .4h.7m-.6-.6h.7m-.4 0h.7m-.7 .2h.7m-.7 .7h.7m1.3-.7h.7m-.1 .1h.7m-.5 .6h.7m1.4-.2h.7m-.5-.3h.7m-.3-.4h.7m-.3 .5h.7m-.5 .2h.7m-.6-.3h.7m-.4-.3h.7m-.3 0h.7m-.5 .6h.7m-.1-.5h.7m.6 0h.7m-.2 .2h.7m0-.1h.7m-.3 .1h.7m-.4-.3h.7m-.3 .3h.7m.6-.1h.7m-.3 0h.7m-.4-.1h.7m-.3 .1h.7m.4 0h.7m-.6 .5h.7m-.6-.6h.7m-.3 .7h.7m-.4-.6h.7m-.3 .5h.7m-.7-.7h.7m-.5-.1h.7m-.6 .8h.7m-.6-.4h.7m-.3 .4h.7m-.3-.1h.7m-.6-.5h.7m-.5 .4h.7m.1-.5h.7m-.7 .2h.7m1.6-.2h.7m-.3-.1h.7m.3 .5h.7m.1 .2h.7m-.6-.6h.7m-.3 0h.7m-.5 .5h.7m-.1-.3h.7m-51.3 1.4h.7m4.9-.3h.7m2.7 .4h.7m-.4-.4h.7m-.6 .5h.7m-.2-.2h.7m.3-.4h.7m.4-.3h.7m-.4 0h.7m-.6 .5h.7m-.1-.1h.7m-.6-.5h.7m-.2 .8h.7m-.4-.1h.7m.3-.1h.7m.1 .2h.7m.3-.6h.7m-.3-.2h.7m-.4 .7h.7m.1-.1h.7m.1 .1h.7m-.3-.5h.7m-.4 .2h.7m-.5 .2h.7m-.3 0h.7m0 .2h.7m-.7-.3h.7m-.6-.2h.7m-.5 .5h.7m-.5-.7h.7m.3 .6h.7m-.5 .1h.7m.3-.1h.7m-.7-.2h.7m-.5 .2h.7m-.3-.7h.7m.9 .7h.7m-.4-.2h.7m-.6 .2h.7m-.5-.5h.7m-.7 .3h.7m-.5 .3h.7m1.1-.3h.7m-.6-.2h.7m-.6 .1h.7m-.5 .1h.7m-.4-.1h.7m-.4 0h.7m-.1 .2h.7m-.5-.1h.7m-.3-.4h.7m-.4 0h.7m1.2 .4h.7m-.3-.4h.7m.2 .7h.7m-.6-.5h.7m1.2 .1h.7m2.4-.4h.7m-.5 0h.7m.1 .2h.7m-.1 0h.7m-.6 .1h.7m-.3 .7h.7m-.5-.1h.7m-.6-.5h.7m-.6 .3h.7m.1 .3h.7m-.6-.6h.7m-.4-.1h.7m-.7-.1h.7m.5 .1h.7m-.4 .1h.7m-.6-.3h.7m-.7 .5h.7m-.3-.5h.7m-.6 .7h.7m1-.1h.7m-.4-.3h.7m-.1 .2h.7m-.6-.2h.7m.1 .1h.7m-.7 .1h.7m-.5-.5h.7m-.6 .6h.7m-.7-.4h.7m0-.1h.7m-.3 .4h.7m-.5 .2h.7m.4 .1h.7m.8-.4h.7m-57.8 1.1h.7m5.4 .1h.7m2.5 .2h.7m.5-.5h.7m.7 .3h.7m1.4 0h.7m-.6-.5h.7m-.5 .3h.7m.5-.3h.7m-.4 .6h.7m-.7-.1h.7m-.2-.1h.7m.5 0h.7m-.6-.1h.7m-.4-.1h.7m-.1 .4h.7m-.7-.3h.7m-.6-.4h.7m.1 .3h.7m-.7 .3h.7m.1-.3h.7m.3 .3h.7m-.1-.1h.7m-.2-.3h.7m-.3 0h.7m-.6-.2h.7m-.6 .8h.7m-.1-.4h.7m.9-.3h.7m-.3 .5h.7m-.6-.3h.7m-.6 .2h.7m-.5 .2h.7m-.2 .1h.7m.2 0h.7m.2 0h.7m-.1-.5h.7m-.3 .2h.7m-.7 .2h.7m-.4-.5h.7m-.5 .4h.7m-.4-.7h.7m2 .4h.7m-.2 .3h.7m-.5-.1h.7m-.6-.2h.7m1.4-.4h.7m1.1 0h.7m0 .1h.7m.5 .2h.7m1 .2h.7m.4-.3h.7m1 .1h.7m-.4 .3h.7m.7-.3h.7m0 0h.7m-.6 .4h.7m-.6-.3h.7m.1 .3h.7m-.5-.4h.7m-.3 0h.7m-.1 0h.7m-.3 0h.7m-.6-.1h.7m1.4 .6h.7m.4-.5h.7m-.6-.2h.7m-.5 0h.7m-.3-.1h.7m-.7 .7h.7m-.4-.6h.7m-.6 .1h.7m.3 0h.7m-44 1.5h.7m-.1-.2h.7m-.5-.4h.7m2-.1h.7m.2 1h.7m-.1-.9h.7m-.2 0h.7m-.1 .8h.7m-.7-.5h.7m-.6 .5h.7m.2 0h.7m-.4-.3h.7m.5-.5h.7m-.2-.1h.7m-.4 .4h.7m-.4-.3h.7m-.3 .4h.7m-.6-.2h.7m-.5 .6h.7m-.6-.5h.7m.4 .4h.7m-.6-.1h.7m-.6-.6h.7m-.7 .8h.7m-.6-.8h.7m.2 .6h.7m-.1-.5h.7m-.6 .5h.7m.3 .2h.7m-.3-.5h.7m-.7 .3h.7m0-.3h.7m-.6 .4h.7m-.3-.3h.7m-.1 .4h.7m-.6 0h.7m-.6-.1h.7m-.5-.3h.7m-.6 0h.7m0-.1h.7m-.7 .5h.7m-.6-.8h.7m.9 .9h.7m-.1-.8h.7m-.5 .2h.7m-.4 .2h.7m0 .4h.7m-.5-.5h.7m-.1-.1h.7m-.6 .6h.7m2.5-.9h.7m.6 .2h.7m.4-.1h.7m3 .1h.7m.9 .3h.7m-.7-.4h.7m.5 .8h.7m-.6-.8h.7m-.3 .3h.7m-.6 .4h.7m.3-.7h.7m-.6 .8h.7m-.4-.7h.7m-.6 .4h.7m0 0h.7m-.6-.3h.7m-.2 .1h.7m.3 .1h.7m-.6-.1h.7m.4-.5h.7m-.4 .4h.7m.1 .2h.7m0-.6h.7m-.5 .7h.7m-.4 .1h.7m0-.7h.7m-.3 .8h.7m-.4 .1h.7m-54.4 .3h.7m1.4-.2h.7m4.2 0h.7m0 .9h.7m-.3-.3h.7m.8-.5h.7m-.3-.1h.7m-.2 0h.7m.4 .7h.7m-.5-.6h.7m.3 .4h.7m-.1-.3h.7m-.5 0h.7m0 .2h.7m-.5 .4h.7m.6-.5h.7m-.5 .4h.7m-.1-.1h.7m-.3 0h.7m-.3-.3h.7m0-.2h.7m-.2-.2h.7m-.6 .2h.7m.4 .1h.7m.4-.1h.7m-.4 .8h.7m-.6-.5h.7m-.7-.2h.7m.2 .1h.7m-.5 .1h.7m-.1-.4h.7m0 .5h.7m.5-.1h.7m0 .2h.7m-.6-.6h.7m-.2 .4h.7m-.6 .3h.7m.4-.4h.7m-.5 .2h.7m-.5 .3h.7m.7-.3h.7m-.4-.5h.7m-.3 .7h.7m-.2-.2h.7m1.8-.1h.7m.6-.1h.7m1.1 .1h.7m5.1 .3h.7m1.2 .2h.7m-.2-1h.7m-.6 .1h.7m.4 0h.7m.6 0h.7m-.2-.1h.7m-.3 1h.7m-.6-.9h.7m-.4 .8h.7m.3-.7h.7m-.6-.1h.7m-.7 .1h.7m-.3 .4h.7m-.6 .2h.7m-.5-.1h.7m-.6-.2h.7m-.5 0h.7m0 .4h.7m-.7-.3h.7m1.1-.6h.7m-.7 .4h.7m-.1 .2h.7m.1-.3h.7m.1 0h.7m-54.9 1.4h.7m1.8-.5h.7m4.8 .7h.7m-.2-.2h.7m.5-.7h.7m.1 .4h.7m-.6 .6h.7m1.1-.5h.7m-.2-.1h.7m-.6-.2h.7m-.3 .5h.7m-.7-.4h.7m-.5 .1h.7m0-.3h.7m1.1 .5h.7m-.5-.4h.7m-.6 .7h.7m.3-.4h.7m-.3-.2h.7m.3 .6h.7m-.7-.4h.7m.3 .2h.7m-.5-.6h.7m-.6 .2h.7m-.4 .6h.7m-.6-.6h.7m.1-.3h.7m-.3 0h.7m-.5 .6h.7m-.7-.2h.7m-.5-.2h.7m-.6 .8h.7m.3-.7h.7m.7-.3h.7m-.5 .1h.7m.1 .4h.7m-.3-.5h.7m1.3 0h.7m-.5 .3h.7m.4-.2h.7m-.5-.1h.7m0 .5h.7m-.3 .2h.7m-.7-.3h.7m.9-.1h.7m.7-.2h.7m1.3 .7h.7m1 .2h.7m6-.5h.7m-.1-.4h.7m-.6 .6h.7m-.1 0h.7m0-.1h.7m-.7-.1h.7m-.6 .2h.7m-.3 .1h.7m-.6 .1h.7m-.1-.6h.7m-.6 .6h.7m-.6-.1h.7m-.5-.8h.7m-.4 .5h.7m-.6-.2h.7m-.4 .7h.7m.8-.5h.7m1.8 .3h.7m0-.5h.7m.3 0h.7m-51.6 .8h.7m1 .1h.7m2.2-.1h.7m2.4 .7h.7m-.1-.1h.7m-.7 .2h.7m-.1-.2h.7m-.2-.3h.7m-.7 .1h.7m.9-.4h.7m-.4 .8h.7m-.4-.1h.7m-.5-.3h.7m-.3-.2h.7m-.5 .7h.7m-.5-.9h.7m-.5 .9h.7m-.3-.9h.7m-.3 .4h.7m.2-.1h.7m-.5 .3h.7m-.6-.7h.7m-.6 .5h.7m-.2 .3h.7m-.5-.7h.7m-.1 .5h.7m-.6-.3h.7m-.5 .4h.7m-.6 .1h.7m-.5-.5h.7m-.3 0h.7m.1 .5h.7m-.3 0h.7m-.7-.3h.7m-.2-.2h.7m-.4 .2h.7m-.2-.3h.7m-.7 .5h.7m-.2-.2h.7m-.7-.1h.7m-.5 .6h.7m-.4-.8h.7m.5 .6h.7m-.7-.3h.7m-.3 .3h.7m-.3-.7h.7m1.1 .9h.7m-.4-.9h.7m.6 .1h.7m2.1 .4h.7m-.4 .3h.7m-.5-.4h.7m.1-.1h.7m-.2 .2h.7m0 0h.7m9.8-.2h.7m-.7-.4h.7m-.1 .7h.7m0-.7h.7m-.5 1h.7m.1-.1h.7m-.6-.7h.7m-.6 .8h.7m.1-.9h.7m-.4 .5h.7m-.3 .3h.7m-.4 0h.7m-.4-.4h.7m.1 .2h.7m-.3-.2h.7m-.1 .1h.7m-46.7 .9h.7m2.8-.3h.7m1.5 .1h.7m-.2 .6h.7m-.2-.6h.7m-.1 .2h.7m-.5-.5h.7m-.7 1h.7m.5-.7h.7m-.7 .3h.7m-.1-.5h.7m-.3 .5h.7m-.2 .3h.7m.4-.4h.7m-.4-.1h.7m-.5-.3h.7m-.2 .3h.7m-.5-.3h.7m-.4 .6h.7m-.1 0h.7m.3 0h.7m-.7-.1h.7m-.7-.4h.7m-.6 .4h.7m-.6-.4h.7m-.1 .7h.7m-.4-.7h.7m-.4 .4h.7m.4 .4h.7m-.6-.9h.7m-.3 .2h.7m-.6 0h.7m1.6-.3h.7m.6 .5h.7m1.6-.1h.7m-.3-.1h.7m1.6 .1h.7m.5 .5h.7m.1-.6h.7m.6 .5h.7m5.6-.4h.7m3.5 0h.7m-.5 .4h.7m-.6-.8h.7m-.3 .2h.7m.6 .6h.7m-.6-.1h.7m-.3-.3h.7m-.3 .3h.7m-.7-.5h.7m-.3 .6h.7m-.6 .2h.7m-.6 0h.7m-.3-.7h.7m-.1 .4h.7m-.6 .2h.7m-.4-.9h.7m.2 .1h.7m-49.4 1.3h.7m.6 .2h.7m1.3-.5h.7m-.6 .9h.7m1.2-.4h.7m-.7 0h.7m.1-.4h.7m.6 .5h.7m1.6-.4h.7m.2-.1h.7m.3 .5h.7m-.1-.3h.7m-.7 .4h.7m-.6 .2h.7m-.7-.6h.7m-.2 .4h.7m-.6-.3h.7m.2-.3h.7m.3 .7h.7m.2-.2h.7m-.4-.3h.7m-.2-.4h.7m-.3 .9h.7m-.3-.7h.7m-.7 .1h.7m.7-.1h.7m-.5-.2h.7m-.5 .6h.7m.4 .4h.7m-.1-.5h.7m-.7 .3h.7m-.2-.2h.7m-.7-.5h.7m.2 .2h.7m-.5 .2h.7m2.2-.3h.7m1.8 .2h.7m-.1 .1h.7m.9 .4h.7m1.6-.8h.7m0 .8h.7m.4-.7h.7m.2 .4h.7m4.9-.2h.7m2.1-.1h.7m.6-.2h.7m-.5-.1h.7m-.4 .2h.7m-.6 .2h.7m-.4 .3h.7m-.6-.5h.7m-.4 .7h.7m-.6-.6h.7m-.2 .3h.7m-.7 0h.7m-.1 .1h.7m.6-.4h.7m-.7 .4h.7m-49.9 .4h.7m.9 .8h.7m0-.3h.7m1.1-.6h.7m-.7 .4h.7m-.5 .6h.7m1.3-.8h.7m-.3-.2h.7m-.1 .8h.7m1-.5h.7m.1 .1h.7m-.3 .4h.7m1.1-.7h.7m-.2 .3h.7m.6-.4h.7m.6 .9h.7m.6-.1h.7m-.5-.4h.7m-.2 0h.7m-.7 .4h.7m-.4-.2h.7m-.4-.3h.7m.4 .6h.7m-.4 0h.7m-.6-.3h.7m.1-.5h.7m-.7 .2h.7m.7 .6h.7m0-.4h.7m-.3 0h.7m.5 .5h.7m.8-.2h.7m-.4-.7h.7m-.2 .8h.7m.2-.3h.7m-.3-.5h.7m3 0h.7m9.5 .1h.7m2.1 .1h.7m.3-.2h.7m-.2 0h.7m.6 0h.7m-.3 .3h.7m-.6 .4h.7m-.4-.2h.7m.7-.3h.7m-.7 .1h.7m0 .1h.7m.1-.1h.7m0 .5h.7m.3-.9h.7m-57.9 1.3h.7m-.7 .6h.7m.1-.3h.7m1.9-.6h.7m-.4 .1h.7m4.6 .2h.7m0 .4h.7m.7-.1h.7m-.6 .1h.7m-.5-.4h.7m0 .6h.7m-.7-.5h.7m-.3-.1h.7m.7 .3h.7m1.6-.3h.7m-.7 0h.7m-.6-.1h.7m-.2 .3h.7m.7-.4h.7m0 .7h.7m0-.6h.7m-.6 .5h.7m-.6 0h.7m-.4-.2h.7m-.5 .1h.7m-.5-.1h.7m.6 .2h.7m0-.5h.7m.1 .7h.7m-.3-.8h.7m.2-.1h.7m1.6 .2h.7m.9 .2h.7m-.3-.1h.7m-.1 .5h.7m.3-.3h.7m-.6 .3h.7m-.6-.2h.7m-.3-.1h.7m11.1 .5h.7m1.9-1h.7m3.8 0h.7m.5 .8h.7m-.3-.3h.7m.7-.3h.7m-47.4 1.2h.7m.4 .6h.7m-.5-.8h.7m1.1 .8h.7m1.3-.5h.7m.5 0h.7m-.2 .2h.7m-.5-.3h.7m.5 .3h.7m-.3-.1h.7m-.6 .4h.7m.3-.6h.7m-.2 0h.7m-.6-.3h.7m.2-.1h.7m.3 .8h.7m1.2-.5h.7m-.4-.2h.7m.1 0h.7m-.6 .1h.7m.5 .6h.7m-.4 .1h.7m-.2-.3h.7m-.3-.3h.7m.8 .2h.7m-.5-.3h.7m-.6 .4h.7m-.5-.2h.7m-.2 .1h.7m-.3-.1h.7m-.5 .1h.7m-.7-.3h.7m0 .7h.7m2-.6h.7m-.5 .5h.7m8.4-.7h.7m2.5 0h.7m4.6 .9h.7m1.5-.3h.7m-.2-.7h.7m.2 1h.7m-.6-.9h.7m-.5 .6h.7m-.7-.2h.7m-.4 .3h.7m-.4-.6h.7m1.5 .7h.7m-.2-.2h.7m-50.7 .9h.7m2.1-.1h.7m2.4 .1h.7m.6 .2h.7m-.4-.4h.7m-.7-.2h.7m.2 .3h.7m-.2 .5h.7m0-.9h.7m.1 .5h.7m-.7-.6h.7m.5 .9h.7m-.5-.3h.7m-.3 .2h.7m1.6-.3h.7m1.2-.1h.7m-.6-.3h.7m.4 .1h.7m.5 .1h.7m.9 .7h.7m-.1-.5h.7m.6 0h.7m-.5-.3h.7m.8 .2h.7m0-.1h.7m.5 0h.7m-.6-.1h.7m-.6 .5h.7m-.6-.3h.7m-.3 .3h.7m.4-.1h.7m.8-.3h.7m4-.2h.7m1.1 .4h.7m1.5 0h.7m3.5-.4h.7m2.5 .7h.7m-.2-.1h.7m-.1 .3h.7m2-.4h.7m-.1-.1h.7m1.3-.5h.7m-57.2 1.1h.7m4.9 .4h.7m-.3 .3h.7m.7-.2h.7m-.7 0h.7m-.3-.3h.7m.1 0h.7m1.3 .5h.7m1.6-.6h.7m-.6 0h.7m.4 .4h.7m-.4 .2h.7m2.1 .1h.7m0-.1h.7m-.3-.5h.7m-.6 .6h.7m-.5-.2h.7m.8 .2h.7m0-.4h.7m-.4 .4h.7m-.5-.1h.7m.2-.6h.7m-.6 .6h.7m.2-.6h.7m-.1-.2h.7m-.1 .7h.7m-.5-.2h.7m-.6 .3h.7m1.5-.4h.7m-.6 .3h.7m-.2-.2h.7m.1-.2h.7m1.6-.1h.7m11 .6h.7m6.4-.8h.7m-.4 .8h.7m.6-.7h.7m-.7 0h.7m.2 .2h.7m-.1 0h.7m-.4-.1h.7m.9 .4h.7m3.7 .3h.7m-53.9 .7h.7m.6 0h.7m.9 0h.7m.2-.4h.7m1.1 .3h.7m-.5 .2h.7m0-.2h.7m-.7-.1h.7m-.6 .5h.7m1 .1h.7m-.1-.2h.7m1-.1h.7m1.4-.5h.7m1.8 .6h.7m.1-.7h.7m-.1 .8h.7m.8-.7h.7m-.7 .5h.7m-.7-.7h.7m-.6 .7h.7m-.7-.6h.7m1.5 .9h.7m.2-.7h.7m-.5-.2h.7m-.2 .8h.7m0-.6h.7m1.5 .4h.7m2-.2h.7m1.3 .2h.7m6.7-.1h.7m2.1-.2h.7m-.7-.3h.7m.1 .4h.7m1.9 .4h.7m4.4-.2h.7m1.6-.2h.7m1.4 .4h.7m-56.5 .7h.7m.6-.2h.7m.3 .3h.7m.3 0h.7m-.4 .2h.7m1.6-.3h.7m1.4 .2h.7m-.6-.5h.7m1.2 .4h.7m2.4-.2h.7m-.5-.2h.7m1 .7h.7m.7 0h.7m-.2-.2h.7m1.1-.1h.7m-.3-.6h.7m-.6-.1h.7m.5 .1h.7m2.4 .3h.7m.6 .4h.7m2.3-.5h.7m.7 .7h.7m-.4-.2h.7m13.9-.2h.7m-.5 .2h.7m3.2-.4h.7m.6 .3h.7m-52.7 .8h.7m-.6-.1h.7m1-.2h.7m1.1 .5h.7m-.4-.1h.7m.1-.5h.7m3.3 .1h.7m-.2 0h.7m-.2-.1h.7m3.2 .2h.7m-.3 .4h.7m-.5-.5h.7m1.6-.2h.7m.2 .2h.7m.7 .6h.7m-.2-.6h.7m1.6 .2h.7m-.4 .4h.7m-.4-.3h.7m2.5-.4h.7m3.9 .9h.7m2-1h.7m.1 .3h.7m10.2 .7h.7m.9-.2h.7m4.3-.7h.7m-52.7 1.3h.7m3.1 .2h.7m-.4-.4h.7m.3 .1h.7m.9 .7h.7m1.9-.7h.7m-.7 .1h.7m3 0h.7m-.1-.2h.7m.3 .6h.7m1.8-.6h.7m1.7 .2h.7m-.4 .4h.7m.6-.5h.7m1.1 .2h.7m1.4 .1h.7m-.2-.6h.7m9.4 1h.7m11-1h.7m-.5 .2h.7m.9 .3h.7m0 .4h.7m-.2-.1h.7m.5-.5h.7m.9 .5h.7m-.1 .1h.7m1.4-.2h.7m-55.6 1.3h.7m1.5-.7h.7m2.6 .4h.7m0-.7h.7m.5 .5h.7m1.2 .1h.7m.4-.2h.7m-.2-.1h.7m.3-.1h.7m0 .4h.7m0-.4h.7m.4 .2h.7m-.1-.2h.7m-.2-.2h.7m-.5 .2h.7m-.6-.1h.7m-.2 .8h.7m-.6-.5h.7m.2-.1h.7m.2 .1h.7m-.7-.2h.7m3.1 .3h.7m.3-.1h.7m-.4-.1h.7m4.2 .6h.7m.2-.3h.7m-.6 .4h.7m6.2-.4h.7m.3-.3h.7m11.6 .1h.7m1.5-.3h.7m-48.7 1.6h.7m1.4-.6h.7m2.8 .6h.7m3.4 .1h.7m5.7 .2h.7m1.4-.9h.7m3.9 .4h.7m2.1-.3h.7m5 .6h.7m.5-.7h.7m9.9 .2h.7m3.6 .7h.7m-44 .2h.7m-.1 0h.7m1.4 .5h.7m2.7-.5h.7m10.1 .3h.7m.7-.3h.7m1.8-.1h.7m1.6 .8h.7m3.2-.7h.7m16.4 .6h.7m0-.1h.7m8.1-.4h.7m-.4 .2h.7m-59.7 1.2h.7m1.9 .3h.7m-.5-1h.7m-.1 .3h.7m0 0h.7m5.8 .7h.7m-.3-.3h.7m-.6-.1h.7m.9-.2h.7m.2-.3h.7m3.9 .1h.7m4.6 .8h.7m.8-.2h.7m1.6 .1h.7m1.6-.7h.7m5.2 .3h.7m5.5 .3h.7m2.5-.6h.7m5.7-.2h.7m-.2 .2h.7m-50.5 1.5h.7m2.4-.6h.7m2.5 0h.7m-.4 0h.7m.7 .2h.7m.7 .7h.7m.1-.7h.7m2.3-.2h.7m1.3 .1h.7m6 .4h.7m.9-.2h.7m.1 .3h.7m5.3-.5h.7m-.4 0h.7m11 .5h.7m1.2-.5h.7m1.8 .5h.7m-52.6 1.1h.7m2.5 0h.7m10.7-.7h.7m3.4-.1h.7m-.5 .2h.7m2 .1h.7m-.1 .1h.7m.1 .2h.7m.2-.5h.7m.7 .6h.7m1.4-.3h.7m20.6 .4h.7m-.6-.3h.7m-.4-.2h.7m.6-.3h.7m4.1 .2h.7m-48 1.7h.7m2-.5h.7m.8 .1h.7m5.5-.5h.7m6.3 .5h.7m3.2-.1h.7m4.4 .4h.7m12.8-.3h.7m2.3 .4h.7m-46.6 .5h.7m1.4-.4h.7m10.6 .5h.7m.8 .3h.7m2.8-.2h.7m.9 .1h.7m3.8-.3h.7m4.8-.3h.7m.3 .7h.7m8.2-.6h.7m4.4 .3h.7m5.3 .1h.7m.8-.2h.7m.1-.1h.7m-57.6 .9h.7m11.9 .5h.7m6.1 .2h.7m4.9-.6h.7m10.6-.1h.7m6.4-.1h.7m1.4 .4h.7m1 .1h.7m4.9 .2h.7m-33.3 1.1h.7m2.7-.1h.7m5.7-.6h.7m-.4-.1h.7m-25.9 1.1h.7m2.2 .1h.7m3.8 .2h.7m19.2 .4h.7m-24.4 .6h.7m.3-.4h.7m8.4 .8h.7m33.5 .1h.7m-.5-.6h.7m1.9 .9h.7" fill="none" stroke="#161616" stroke-width="0.8" stroke-opacity="0.8"/>
<path d="M384 443.5L383.41 442.62L383.24 441.43L383.31 440.08L383.48 438.72L383.6 437.5L383.66 436.41L383.78 435.34L383.94 434.32L384.14 433.37L384.4 432.5L384.7 431.73L385.04 431.03L385.43 430.41L385.88 429.83L386.4 429.3L386.98 428.82L387.61 428.41L388.31 428.04L389.1 427.67L390 427.3L391.05 426.9L392.23 426.5L393.48 426.1L394.76 425.73L396 425.4L397.2 425.1L398.4 424.84L399.6 424.6L400.8 424.38L402 424.2L403.22 424.04L404.47 423.9L405.7 423.79L406.89 423.72L408 423.7L409.05 423.72L410.06 423.77L411 423.87L411.86 424.04L412.6 424.3L413.22 424.64L413.73 425.06L414.15 425.55L414.5 426.13L414.8 426.8L415.04 427.59L415.19 428.48L415.29 429.46L415.36 430.47L415.4 431.5L415.41 432.56L415.38 433.67L415.32 434.8L415.25 435.92L415.2 437L415.17 438.08L415.16 439.17L415.14 440.22L415.09 441.18L415 442L414.96 442.67L414.99 443.22L414.94 443.66L414.66 444.02L414 444.3L412.82 444.48L411.21 444.55L409.39 444.54L407.58 444.51L406 444.5L404.7 444.5L403.55 444.49L402.45 444.46L401.3 444.43L400 444.4L398.53 444.37L396.94 444.35L395.3 444.32L393.63 444.27L392 444.2L390.28 444.18L388.44 444.21L386.65 444.19L385.11 443.99Z" fill="#fff" stroke="#2a2a2a" stroke-width="0.9"/>
<path d="M386.04 442.24L385.52 441.47L385.37 440.42L385.43 439.23L385.58 438.03L385.69 436.96L385.74 436L385.84 435.06L385.98 434.16L386.17 433.32L386.39 432.56L386.65 431.88L386.95 431.27L387.3 430.72L387.69 430.21L388.15 429.74L388.66 429.32L389.22 428.96L389.83 428.63L390.53 428.31L391.32 427.98L392.24 427.63L393.28 427.28L394.39 426.93L395.51 426.61L396.6 426.31L397.66 426.05L398.71 425.82L399.77 425.6L400.82 425.42L401.88 425.26L402.96 425.11L404.05 424.99L405.14 424.89L406.18 424.83L407.16 424.82L408.08 424.83L408.97 424.88L409.8 424.97L410.55 425.12L411.21 425.34L411.75 425.65L412.2 426.01L412.57 426.44L412.88 426.95L413.14 427.54L413.35 428.24L413.49 429.03L413.58 429.88L413.63 430.78L413.67 431.68L413.68 432.61L413.65 433.59L413.6 434.58L413.54 435.57L413.5 436.52L413.47 437.47L413.46 438.43L413.44 439.35L413.4 440.2L413.32 440.92L413.29 441.51L413.31 441.99L413.27 442.38L413.02 442.7L412.44 442.94L411.4 443.1L409.98 443.16L408.38 443.16L406.79 443.13L405.4 443.12L404.26 443.12L403.25 443.11L402.27 443.09L401.26 443.06L400.12 443.03L398.82 443.01L397.43 442.99L395.98 442.96L394.52 442.92L393.08 442.86L391.56 442.84L389.94 442.87L388.37 442.84L387.02 442.67ZM388.08 440.98L387.63 440.31L387.5 439.41L387.55 438.38L387.69 437.35L387.78 436.42L387.82 435.59L387.91 434.78L388.03 434.01L388.19 433.28L388.38 432.62L388.61 432.03L388.87 431.5L389.16 431.03L389.51 430.59L389.9 430.19L390.34 429.82L390.82 429.51L391.36 429.23L391.96 428.95L392.64 428.67L393.44 428.37L394.33 428.06L395.29 427.76L396.26 427.48L397.2 427.22L398.11 427L399.02 426.8L399.94 426.61L400.85 426.45L401.76 426.31L402.69 426.19L403.64 426.08L404.57 426L405.48 425.95L406.32 425.93L407.12 425.95L407.88 425.98L408.6 426.06L409.25 426.19L409.82 426.39L410.29 426.65L410.67 426.96L410.99 427.34L411.26 427.78L411.49 428.29L411.67 428.89L411.79 429.57L411.86 430.31L411.91 431.08L411.94 431.86L411.95 432.66L411.93 433.51L411.88 434.37L411.83 435.22L411.79 436.04L411.77 436.86L411.76 437.69L411.74 438.49L411.71 439.22L411.64 439.84L411.61 440.35L411.64 440.76L411.6 441.1L411.38 441.37L410.88 441.59L409.98 441.72L408.76 441.77L407.38 441.77L406 441.75L404.8 441.74L403.82 441.74L402.94 441.73L402.1 441.71L401.22 441.69L400.24 441.66L399.12 441.64L397.92 441.63L396.66 441.6L395.4 441.57L394.16 441.51L392.85 441.49L391.45 441.52L390.1 441.5L388.93 441.35ZM390.12 439.72L389.75 439.16L389.63 438.4L389.68 437.53L389.79 436.66L389.86 435.88L389.9 435.18L389.98 434.5L390.08 433.85L390.21 433.24L390.38 432.68L390.57 432.18L390.78 431.74L391.03 431.34L391.32 430.97L391.66 430.63L392.03 430.33L392.43 430.06L392.88 429.82L393.38 429.59L393.96 429.35L394.63 429.1L395.39 428.84L396.19 428.59L397.01 428.35L397.8 428.14L398.57 427.95L399.34 427.78L400.1 427.62L400.87 427.49L401.64 427.37L402.42 427.26L403.22 427.17L404.01 427.1L404.77 427.06L405.48 427.05L406.15 427.06L406.8 427.09L407.4 427.16L407.95 427.27L408.42 427.43L408.82 427.65L409.15 427.92L409.42 428.23L409.64 428.6L409.83 429.03L409.98 429.54L410.08 430.11L410.15 430.73L410.19 431.38L410.22 432.04L410.22 432.72L410.2 433.43L410.16 434.15L410.12 434.87L410.09 435.56L410.07 436.25L410.06 436.95L410.05 437.62L410.02 438.24L409.96 438.76L409.94 439.19L409.96 439.54L409.92 439.82L409.74 440.05L409.32 440.23L408.56 440.35L407.53 440.39L406.37 440.39L405.21 440.37L404.2 440.36L403.37 440.36L402.63 440.35L401.93 440.34L401.19 440.32L400.36 440.3L399.42 440.28L398.4 440.26L397.35 440.25L396.28 440.22L395.24 440.17L394.14 440.15L392.96 440.17L391.82 440.16L390.83 440.03ZM392.16 438.46L391.86 438L391.76 437.39L391.8 436.68L391.89 435.97L391.95 435.34L391.99 434.77L392.04 434.22L392.13 433.69L392.23 433.19L392.37 432.74L392.52 432.34L392.7 431.98L392.9 431.65L393.14 431.35L393.41 431.08L393.71 430.83L394.04 430.61L394.4 430.42L394.81 430.23L395.28 430.04L395.82 429.83L396.44 429.62L397.09 429.41L397.76 429.22L398.4 429.05L399.02 428.89L399.65 428.75L400.27 428.63L400.9 428.52L401.52 428.42L402.16 428.34L402.8 428.27L403.44 428.21L404.06 428.17L404.64 428.16L405.18 428.17L405.71 428.2L406.2 428.25L406.65 428.34L407.03 428.48L407.35 428.65L407.62 428.87L407.84 429.13L408.02 429.43L408.18 429.78L408.3 430.18L408.38 430.65L408.43 431.16L408.47 431.69L408.49 432.22L408.49 432.77L408.48 433.35L408.45 433.93L408.41 434.52L408.38 435.08L408.37 435.64L408.36 436.21L408.35 436.75L408.33 437.25L408.28 437.68L408.26 438.03L408.28 438.31L408.25 438.54L408.1 438.73L407.76 438.88L407.14 438.97L406.31 439L405.36 439L404.42 438.99L403.6 438.98L402.93 438.98L402.33 438.97L401.75 438.96L401.15 438.94L400.48 438.93L399.71 438.91L398.89 438.9L398.03 438.89L397.17 438.86L396.32 438.82L395.42 438.81L394.47 438.83L393.54 438.82L392.74 438.71ZM394.2 437.2L393.97 436.85L393.89 436.37L393.92 435.83L393.99 435.29L394.04 434.8L394.07 434.36L394.11 433.94L394.17 433.53L394.26 433.15L394.36 432.8L394.48 432.49L394.61 432.21L394.77 431.96L394.95 431.73L395.16 431.52L395.39 431.33L395.64 431.16L395.92 431.01L396.24 430.87L396.6 430.72L397.02 430.56L397.49 430.4L397.99 430.24L398.5 430.09L399 429.96L399.48 429.84L399.96 429.73L400.44 429.64L400.92 429.55L401.4 429.48L401.89 429.42L402.39 429.36L402.88 429.31L403.36 429.29L403.8 429.28L404.22 429.29L404.62 429.31L405 429.35L405.34 429.42L405.64 429.52L405.89 429.66L406.09 429.82L406.26 430.02L406.4 430.25L406.52 430.52L406.61 430.83L406.68 431.19L406.72 431.58L406.74 431.99L406.76 432.4L406.76 432.82L406.75 433.27L406.73 433.72L406.7 434.17L406.68 434.6L406.67 435.03L406.66 435.47L406.66 435.89L406.64 436.27L406.6 436.6L406.59 436.87L406.6 437.09L406.58 437.26L406.46 437.41L406.2 437.52L405.73 437.59L405.08 437.62L404.36 437.62L403.63 437.61L403 437.6L402.48 437.6L402.02 437.59L401.58 437.58L401.12 437.57L400.6 437.56L400.01 437.55L399.38 437.54L398.72 437.53L398.05 437.51L397.4 437.48L396.71 437.47L395.97 437.48L395.26 437.47L394.65 437.39ZM396.24 435.94L396.08 435.69L396.03 435.36L396.05 434.98L396.09 434.6L396.13 434.26L396.15 433.95L396.18 433.66L396.22 433.37L396.28 433.1L396.35 432.86L396.44 432.64L396.53 432.45L396.64 432.27L396.77 432.11L396.91 431.96L397.07 431.83L397.25 431.71L397.45 431.61L397.67 431.51L397.92 431.4L398.21 431.29L398.54 431.18L398.9 431.07L399.25 430.97L399.6 430.87L399.94 430.79L400.27 430.71L400.61 430.65L400.94 430.59L401.28 430.54L401.62 430.49L401.97 430.45L402.32 430.42L402.65 430.4L402.96 430.4L403.25 430.4L403.54 430.42L403.8 430.44L404.04 430.49L404.25 430.56L404.42 430.66L404.56 430.78L404.68 430.91L404.78 431.08L404.86 431.26L404.93 431.48L404.97 431.74L405 432.01L405.02 432.29L405.03 432.58L405.04 432.88L405.03 433.19L405.01 433.5L404.99 433.82L404.98 434.12L404.97 434.42L404.96 434.73L404.96 435.02L404.95 435.29L404.92 435.52L404.91 435.71L404.92 435.86L404.9 435.99L404.83 436.08L404.64 436.16L404.31 436.21L403.86 436.23L403.35 436.23L402.84 436.22L402.4 436.22L402.04 436.22L401.71 436.22L401.41 436.21L401.08 436.2L400.72 436.19L400.31 436.18L399.86 436.18L399.4 436.17L398.94 436.16L398.48 436.14L398 436.13L397.48 436.14L396.98 436.13L396.55 436.08ZM398.28 434.68L398.19 434.54L398.16 434.35L398.17 434.13L398.2 433.92L398.22 433.72L398.23 433.55L398.24 433.37L398.27 433.21L398.3 433.06L398.34 432.92L398.39 432.8L398.45 432.69L398.51 432.59L398.58 432.49L398.66 432.41L398.76 432.33L398.86 432.27L398.97 432.21L399.1 432.15L399.24 432.09L399.41 432.02L399.6 431.96L399.8 431.9L400 431.84L400.2 431.78L400.39 431.74L400.58 431.69L400.78 431.66L400.97 431.62L401.16 431.59L401.36 431.57L401.55 431.54L401.75 431.53L401.94 431.51L402.12 431.51L402.29 431.52L402.45 431.52L402.6 431.54L402.74 431.57L402.86 431.61L402.96 431.66L403.04 431.73L403.1 431.81L403.16 431.9L403.21 432.01L403.25 432.13L403.27 432.28L403.29 432.43L403.3 432.6L403.3 432.76L403.31 432.93L403.3 433.11L403.29 433.29L403.28 433.47L403.27 433.64L403.27 433.81L403.27 433.99L403.26 434.15L403.25 434.31L403.24 434.44L403.23 434.55L403.24 434.63L403.23 434.71L403.19 434.76L403.08 434.81L402.89 434.84L402.63 434.85L402.34 434.85L402.05 434.84L401.8 434.84L401.59 434.84L401.41 434.84L401.23 434.83L401.05 434.83L400.84 434.82L400.6 434.82L400.35 434.82L400.09 434.81L399.82 434.8L399.56 434.79L399.28 434.79L398.99 434.79L398.7 434.79L398.46 434.76Z" fill="none" stroke="#8c8c8c" stroke-width="0.45"/>
<path d="M404.2 444.4L414.8 444.4L414 450L412.6 459L406.5 446.8Z" fill="#fff" stroke="#222" stroke-width=".7"/>
<path d="M491.1 415.3h.7m13 .8h.7m-21.1 .9h.7m10.3 .2h.7m-26.3 2h.7m21.4-.4h.7m9.3 .5h.7m.2-.6h.7m-22.9 1.6h.7m-.7-.3h.7m2.4-.5h.7m-.1 1h.7m.3 0h.7m9.3-.3h.7m.9-.3h.7m1.1 .1h.7m-27.3 1.2h.7m.1 .2h.7m2.1-.2h.7m-.4-.1h.7m4.5 .3h.7m1.9-.4h.7m.4-.2h.7m2.2-.1h.7m-.5 .7h.7m-.6-.4h.7m10 0h.7m.4 .1h.7m-25.7 .8h.7m2.1-.3h.7m3.7 .7h.7m-.2-.5h.7m1.9-.2h.7m-.3 .5h.7m-.5-.4h.7m0 .5h.7m.2-.3h.7m-.3 .4h.7m.4 0h.7m1.5-.7h.7m1.2 .8h.7m-.2-.5h.7m.3 .3h.7m-.2 .2h.7m0-.4h.7m.4 0h.7m1.7 .1h.7m-29.7 1.2h.7m-.1-.1h.7m.1-.3h.7m1.2 .3h.7m-.2-.3h.7m3 .4h.7m-.7-.3h.7m.3 .1h.7m.8 0h.7m-.4 .4h.7m-.6-.5h.7m-.6-.1h.7m-.4 .6h.7m.5-.3h.7m.1-.4h.7m-.1-.2h.7m-.1 .7h.7m0-.1h.7m-.6-.4h.7m-.1 .7h.7m1.4-.2h.7m2.9-.2h.7m-.3 .2h.7m1.5-.5h.7m-.6 .6h.7m-.6-.1h.7m-.4-.3h.7m-.2-.2h.7m-.2 .6h.7m-.7-.5h.7m-.7-.3h.7m-.6 .5h.7m-.6-.2h.7m.1 .4h.7m-.2-.7h.7m-.6 0h.7m2.4 .3h.7m-.2 .2h.7m-28.4 .4h.7m2.5 .9h.7m-.3-.8h.7m.7 .3h.7m2.8-.3h.7m-.4 .2h.7m.4 0h.7m7.6-.2h.7m2 .4h.7m-.2-.2h.7m-.7 .6h.7m-.6-.9h.7m-.7 .2h.7m-.4 .4h.7m-.4 .2h.7m-.5-.1h.7m-.7-.5h.7m-.5-.1h.7m-.7 .7h.7m-.7-.5h.7m-.3 .3h.7m-.6-.2h.7m-.7 .4h.7m-.1-.7h.7m-.6 .5h.7m-.4-.5h.7m-.6 .4h.7m-.6 .5h.7m-.6-.6h.7m-.6-.2h.7m-.5 .4h.7m-.5 .2h.7m.1-.4h.7m0 .6h.7m.3-.7h.7m1.7 .2h.7m.6-.3h.7m-39.3 1.4h.7m.9-.2h.7m1.5-.3h.7m.6 .6h.7m.3 0h.7m1.2-.7h.7m.6 .6h.7m-.7 .3h.7m-.6-.7h.7m-.4 .2h.7m-.5 .2h.7m-.5-.3h.7m17.7-.1h.7m0 .3h.7m-.5 .1h.7m-.7 .1h.7m-.6-.7h.7m-.6 .4h.7m-.7 0h.7m-.5 .1h.7m-.7 .5h.7m0-.2h.7m-.7-.4h.7m-.7 .2h.7m-.5-.3h.7m-.6-.2h.7m-.6 .4h.7m-.6-.4h.7m0 .6h.7m-.3-.5h.7m1.2 .2h.7m-.3 .3h.7m7.9-.2h.7m-56.7 1.3h.7m15.9-.6h.7m-.6 .4h.7m.6-.6h.7m2.4 .2h.7m20.7 .3h.7m-.4 .2h.7m-.7-.4h.7m-.4 .4h.7m-.4-.1h.7m-.7 .3h.7m-.7 .1h.7m-.5-.7h.7m-.7-.2h.7m-.3 .5h.7m-.3 .4h.7m-.3-.1h.7m-.6-.9h.7m-.6 .4h.7m.1 .5h.7m-.6-.5h.7m1.7-.1h.7m-38.6 1.2h.7m-.6 .3h.7m.2 0h.7m.7-.5h.7m-.6 .1h.7m.3 .5h.7m-.4-.8h.7m-.6 0h.7m-.5 .7h.7m.2 0h.7m-.6-.7h.7m.2 .7h.7m-.5 .1h.7m1.7-.9h.7m23.3 .5h.7m-.5-.2h.7m-.4-.2h.7m-.5 .3h.7m-.7-.4h.7m-.5 1h.7m-.4-.7h.7m-.7 .5h.7m-.6-.2h.7m-.6 .3h.7m-.7-.7h.7m-.4-.1h.7m-.6 .9h.7m-.2-.1h.7m-.1 0h.7m.1-.1h.7m-.6-.3h.7m-.5 0h.7m-.6 0h.7m-.3-.1h.7m-38.2 .7h.7m-.6-.1h.7m.7 .3h.7m-.5-.2h.7m-.6 .1h.7m-.6 .2h.7m-.4 .3h.7m-.2-.1h.7m-.5-.1h.7m.3 .2h.7m-.5 .3h.7m.1-.9h.7m-.1 .2h.7m27.7-.2h.7m-.6 .1h.7m-.6 .1h.7m-.4-.1h.7m-.5 .1h.7m-.5 .2h.7m-.6 .2h.7m-.5-.1h.7m.1-.2h.7m.1 .5h.7m.7-.1h.7m-.6-.2h.7m-41.5 .5h.7m-.6 .5h.7m-.6 .3h.7m.5-.6h.7m-.5 .6h.7m-.7 0h.7m-.6-.6h.7m.1 .5h.7m.7-.2h.7m-.6-.4h.7m-.7 .3h.7m.2 .3h.7m-.6-.2h.7m-.3 .3h.7m-.7-.4h.7m-.6-.1h.7m-.7 .5h.7m29.7-.4h.7m-.6 .1h.7m-.6 .3h.7m-.3-.2h.7m-.7-.1h.7m-.6-.6h.7m-.5 .3h.7m-.7 .5h.7m-.5 .1h.7m-.6 0h.7m0-.9h.7m-.7 .9h.7m-.4 0h.7m-.5-.6h.7m-.4 .5h.7m-40.1 .7h.7m.9-.1h.7m-.5 .4h.7m.3 .1h.7m-.6-.6h.7m.1 .1h.7m-.1 .5h.7m-.2-.7h.7m-.1-.1h.7m-.7 .4h.7m-.6-.4h.7m-.6 .7h.7m-.6-.1h.7m-.3-.5h.7m-.3 .2h.7m29.2-.3h.7m-.2 .5h.7m-.4-.4h.7m-.7 .3h.7m-.5-.5h.7m-.5 .8h.7m-.6-.8h.7m-.5 .1h.7m-.4 .8h.7m-.6-.2h.7m-.6-.2h.7m-.3-.2h.7m-.2 .1h.7m-.6-.3h.7m-.2 .2h.7m-.5 .2h.7m.5-.1h.7m3 .2h.7m3.1-.3h.7m-48.1 1.5h.7m0 .1h.7m-.6-.1h.7m-.6-.4h.7m-.2-.1h.7m0 0h.7m-.6 .5h.7m-.6-.8h.7m-.4 .5h.7m-.4 .3h.7m-.6-.8h.7m-.5 .5h.7m-.7-.2h.7m-.4 .5h.7m-.3-.3h.7m-.7-.1h.7m-.5 .3h.7m-.6-.4h.7m-.7-.1h.7m-.5-.2h.7m-.7 .1h.7m-.6 .1h.7m30.3 .4h.7m-.6 .2h.7m-.6-.3h.7m-.5-.1h.7m-.7 0h.7m-.7 .6h.7m-.1-.6h.7m-.5-.4h.7m-.6 .5h.7m-.5-.1h.7m0-.2h.7m-.1 .4h.7m-.4 .1h.7m1.1 .2h.7m0-.3h.7m-.6 .1h.7m0-.4h.7m.3 0h.7m-48 1.3h.7m0 .2h.7m.8-.4h.7m.1 0h.7m2.7-.4h.7m-.7 0h.7m.3 .9h.7m-.6 0h.7m-.2-.1h.7m-.4-.4h.7m30.6-.2h.7m-.3 .4h.7m-.4-.4h.7m-.6 .8h.7m-.6-.5h.7m-.5-.2h.7m-.5-.2h.7m-.5 .4h.7m-.6 .3h.7m-.6-.6h.7m-.7 .1h.7m-.6 .2h.7m.2 .2h.7m0 .3h.7m-.6-.4h.7m-.2-.3h.7m.7 .6h.7m0 .1h.7m-.1-.9h.7m-48.1 1.9h.7m2-.4h.7m2.1 .2h.7m1.1-.6h.7m-.5 .1h.7m-.5 0h.7m-.6 .3h.7m-.6-.5h.7m-.6 .8h.7m-.6 0h.7m-.4 .1h.7m-.2-.6h.7m31.2-.4h.7m-.4 .3h.7m-.5-.1h.7m-.6 .2h.7m-.4 .1h.7m-.6 .2h.7m-.6-.5h.7m-.2 .2h.7m-.7 .2h.7m-.3 .4h.7m0-.7h.7m.8 .4h.7m-.6-.4h.7m-.5 .7h.7m.4-.5h.7m0-.2h.7m-46.6 1h.7m1.7-.2h.7m.6 .2h.7m-.7-.2h.7m.7 .2h.7m0 0h.7m-.3 .3h.7m-.5 .3h.7m-.2-.3h.7m-.4-.1h.7m-.7-.3h.7m-.6 .1h.7m-.6-.2h.7m31.3 .3h.7m-.6 .2h.7m-.5 .1h.7m-.7-.6h.7m-.7 .2h.7m-.6-.2h.7m-.6 .3h.7m-.6 .4h.7m-.4-.4h.7m-.5-.4h.7m-.6 .8h.7m-.7 .2h.7m-.5 0h.7m-.7-.6h.7m-.7 .2h.7m-.5 .1h.7m-.7-.5h.7m-.6 .8h.7m-.4-.7h.7m-.6-.1h.7m-.4 .2h.7m-.7 .5h.7m0-.5h.7m-.4 .4h.7m-.6-.6h.7m-.7 .4h.7m-.6-.5h.7m-.7 .5h.7m-.7-.3h.7m.6 .3h.7m-.6-.5h.7m-.2 .4h.7m-.2 .2h.7m-.7 .1h.7m-.6-.2h.7m-43.7 .5h.7m1.1 .1h.7m.4 .7h.7m-.7-.6h.7m.2-.1h.7m.1 .2h.7m32 .2h.7m-.4 0h.7m-.4 .1h.7m-.4-.2h.7m-.3 .1h.7m-.1 .4h.7m-.5-.1h.7m.4-.1h.7m-.5-.6h.7m-.6 .7h.7m1 0h.7m-.2-.1h.7m-52 .4h.7m4.2 .4h.7m4.2 .2h.7m-.6-.5h.7m0 .1h.7m-.1 .2h.7m-.7 .2h.7m-.7-.6h.7m-.7 .4h.7m-.5-.1h.7m-.6-.2h.7m-.7 .3h.7m.1-.5h.7m-.7 .3h.7m-.6 .5h.7m-.5-.5h.7m-.5-.4h.7m31.8 .3h.7m-.6 0h.7m-.3-.1h.7m-.7 .7h.7m-.5 0h.7m-.7-.7h.7m-.6 .3h.7m-.6 .3h.7m-.7-.7h.7m-.4 .4h.7m-.5 .5h.7m-.6-1h.7m-.4 .3h.7m-.6-.2h.7m-.5 .3h.7m-.6 .6h.7m-.4-.4h.7m-.3 .2h.7m-.5-.2h.7m-.7-.6h.7m-.5 .2h.7m-.7-.1h.7m-.3 0h.7m-.1 .7h.7m.6-.3h.7m-.3 .4h.7m-.4 0h.7m-57.9 1h.7m12.6-.5h.7m.7-.2h.7m-.6 0h.7m-.4 .4h.7m-.1 .3h.7m-.4-.5h.7m-.3 .4h.7m-.5-.7h.7m-.5 .4h.7m-.4-.4h.7m0 0h.7m-.2 .7h.7m-.4-.4h.7m-.6-.3h.7m31.6 .2h.7m-.6 .5h.7m-.6-.4h.7m-.7 .2h.7m-.5 0h.7m-.7-.3h.7m-.6 .1h.7m-.6 .6h.7m-.7-.3h.7m-.6-.2h.7m-.7 .4h.7m-.4-.3h.7m-.7-.3h.7m-.3-.2h.7m-.7 .9h.7m-.5-.4h.7m-.7 .3h.7m-.2-.7h.7m-.6 .8h.7m-.4-.1h.7m-.6-.8h.7m-.2 .5h.7m-.3-.3h.7m.8 0h.7m.5 .2h.7m-43 .6h.7m-.4 0h.7m-.3 .1h.7m-.3 .2h.7m-.5 .5h.7m-.5-.9h.7m.6 .2h.7m-.7-.2h.7m-.2 .3h.7m-.7-.2h.7m-.3 .8h.7m31.6-.4h.7m-.6 .2h.7m-.6-.2h.7m-.5 0h.7m-.5 .2h.7m-.5-.5h.7m-.6 .4h.7m-.7-.6h.7m-.6 .8h.7m.1-.7h.7m-.7 .4h.7m-.7-.1h.7m-.4-.2h.7m-.6-.1h.7m-.6 .1h.7m-.4 .7h.7m-.7 0h.7m-.1 .1h.7m-.5-.7h.7m-.2-.2h.7m.2 .4h.7m-.6 0h.7m-44.3 1.3h.7m-.5-.6h.7m1.6 .4h.7m-.7-.2h.7m-.3-.2h.7m-.2 .6h.7m-.6 .1h.7m-.6-.4h.7m-.3 .2h.7m0 .2h.7m-.7 0h.7m.3-.6h.7m-.5-.3h.7m-.6 .6h.7m-.6 .2h.7m-.7 .1h.7m-.5-.5h.7m31.7 .4h.7m-.7-.8h.7m-.6 .2h.7m-.6-.1h.7m-.5 .9h.7m-.3-.6h.7m-.3-.1h.7m-.6 .3h.7m-.5 .2h.7m-.4-.2h.7m-.6-.4h.7m-.6 .2h.7m-.6-.2h.7m-.6 .2h.7m-.6 .5h.7m-.6 .1h.7m-.4-.7h.7m-.6 .6h.7m-.5-.3h.7m-.6-.4h.7m.5 .6h.7m-.3-.6h.7m4.9-.2h.7m-49.9 1.7h.7m.9 .2h.7m.2-.9h.7m-.1 .1h.7m-.2 .5h.7m.4-.6h.7m-.6 .9h.7m-.7-.4h.7m-.5-.2h.7m-.6 .1h.7m-.4 .2h.7m-.2 .1h.7m-.5-.1h.7m-.6-.3h.7m-.5-.2h.7m31.9-.1h.7m-.7 .1h.7m-.5 .7h.7m-.7-.5h.7m-.4 .6h.7m-.7-.7h.7m-.6-.2h.7m-.4 .8h.7m-.5-.2h.7m-.6-.5h.7m-.4 0h.7m-.7 .4h.7m-.5 0h.7m-.7-.2h.7m-.4 .5h.7m-.6 .1h.7m-.3-.1h.7m-.5 .2h.7m-.6-.8h.7m-.3 .6h.7m.2-.7h.7m0 0h.7m-.6 .1h.7m-.6 .5h.7m.2-.6h.7m-.3 .9h.7m-52.6 0h.7m6.4 .3h.7m.7-.1h.7m-.4 .8h.7m-.6-.6h.7m-.3 .3h.7m.8 0h.7m-.6-.4h.7m-.1 .4h.7m-.7 .2h.7m-.1 0h.7m-.5-.1h.7m-.4-.6h.7m-.3-.1h.7m31.6 .8h.7m-.5-.1h.7m-.6-.7h.7m-.7 .9h.7m-.6-.1h.7m-.5-.6h.7m-.7 .1h.7m-.7-.2h.7m-.5 .2h.7m-.1 .2h.7m-.5-.6h.7m-.7 .3h.7m-.4 .4h.7m0-.6h.7m-.7 .4h.7m-.4-.1h.7m.1-.2h.7m-.6 .1h.7m-.2 0h.7m3.6 .4h.7m-46.3 .9h.7m.9 .2h.7m-.6 .1h.7m-.4-.6h.7m-.5-.1h.7m-.4 .4h.7m-.5-.5h.7m-.3 .3h.7m-.7-.3h.7m-.5 .8h.7m-.5-.4h.7m.1-.1h.7m-.5-.2h.7m31.9 0h.7m-.6 0h.7m-.4 .4h.7m-.6 .1h.7m-.5-.2h.7m-.6-.2h.7m-.7-.1h.7m-.3 .4h.7m-.6-.6h.7m-.6 .4h.7m-.6 .2h.7m-.5-.3h.7m-.6-.2h.7m-.7 0h.7m-.6 .2h.7m-.5 0h.7m-.6 .3h.7m-.5 .1h.7m-.5 .1h.7m-.6 .2h.7m-.1-.3h.7m-.3-.4h.7m-.6-.2h.7m-.6 0h.7m-.3 0h.7m.6 .8h.7m-43.1 .8h.7m.8-.6h.7m-.4 .6h.7m-.6-.1h.7m-.5 .3h.7m-.2-.3h.7m-.7-.1h.7m-.6 .4h.7m-.4-.8h.7m-.6 .3h.7m-.4 .5h.7m-.6-.4h.7m-.6-.3h.7m-.6 .8h.7m-.3-.8h.7m-.6 .6h.7m-.4-.4h.7m-.6-.2h.7m-.6 .5h.7m-.6 .1h.7m-.7 .1h.7m31.2-.5h.7m-.7-.1h.7m-.5-.2h.7m-.6 0h.7m-.6 .7h.7m-.7-.7h.7m-.6 .7h.7m-.6-.7h.7m-.7 .2h.7m-.5 .4h.7m-.2 .1h.7m-.5-.3h.7m-.6 .4h.7m-.6-.8h.7m-.6 0h.7m-.7 .6h.7m-.7 .1h.7m-.4 0h.7m-.7-.5h.7m-.2 .7h.7m-.7-.3h.7m-.7 .2h.7m-.1-.4h.7m1.2-.4h.7m-43.5 1.8h.7m.8-.2h.7m-.2 .2h.7m-.7-.6h.7m-.4 .3h.7m-.1-.1h.7m-.7-.1h.7m-.4 .2h.7m-.5 .1h.7m-.3 .2h.7m-.1-.7h.7m-.2 0h.7m-.7 0h.7m-.6-.1h.7m-.6 .8h.7m-.7-.7h.7m-.7 .1h.7m-.6 .3h.7m-.6 .1h.7m-.6-.6h.7m-.1 .2h.7m-.6 .5h.7m-.7-.4h.7m-.6 .1h.7m-.7 .4h.7m-.6-.4h.7m-.5-.1h.7m-.7 .1h.7m-.4 0h.7m0 .4h.7m-.3-.7h.7m-.2 .8h.7m1.6-.4h.7m-.6 .4h.7m.1-.1h.7m-.3-.1h.7m.4 .1h.7m6.7 0h.7m15.3-.2h.7m0-.5h.7m-.4 .4h.7m-.7 0h.7m-.5 .3h.7m-.6-.5h.7m-.7-.2h.7m-.4 .2h.7m0 .5h.7m-.5 0h.7m-.5-.8h.7m-.6 .2h.7m-.7 0h.7m-.3 .6h.7m-.4-.2h.7m-.7-.2h.7m-.2-.2h.7m-.1 .6h.7m-.5 .1h.7m-.6-1h.7m2.7 .5h.7m-.6 .3h.7m-45.6 .9h.7m.6-.2h.7m0 0h.7m-.6-.3h.7m-.2 .6h.7m-.4-.1h.7m.1 .3h.7m-.3-.9h.7m-.6 .9h.7m-.6-.7h.7m-.7 .3h.7m-.5 .1h.7m-.5-.3h.7m-.7 .3h.7m-.7-.6h.7m-.3 .3h.7m-.6 .1h.7m-.4-.3h.7m-.6-.2h.7m-.7 .5h.7m-.6 .2h.7m-.5 0h.7m-.7-.1h.7m-.6-.2h.7m-.7-.2h.7m-.6 .7h.7m-.3 0h.7m-.6-.4h.7m-.5-.2h.7m-.7 .2h.7m-.5-.4h.7m-.6 .2h.7m-.5 .5h.7m-.5-.1h.7m-.6-.6h.7m-.7 .1h.7m-.2 .1h.7m0-.2h.7m-.5 .7h.7m-.7-.2h.7m-.4-.3h.7m-.7 .4h.7m-.4-.6h.7m-.5 .2h.7m-.6 .1h.7m-.6-.3h.7m-.4-.1h.7m-.7 .2h.7m-.5 .2h.7m-.5-.4h.7m-.5 1h.7m.2-.2h.7m-.5-.8h.7m-.7 .7h.7m-.5-.1h.7m-.5-.3h.7m-.5 .4h.7m-.2-.2h.7m-.6-.2h.7m-.6-.1h.7m-.5 .4h.7m-.3 0h.7m-.5-.6h.7m-.2 .6h.7m-.6 0h.7m-.3 .3h.7m-.7-.1h.7m-.1-.7h.7m-.5 .1h.7m-.5-.1h.7m-.6 .7h.7m-.4-.6h.7m-.7 .7h.7m-.7-.6h.7m-.4 0h.7m-.6-.1h.7m-.6 .2h.7m-.6 .5h.7m-.7-.8h.7m-.6 .5h.7m-.4-.3h.7m-.4 .4h.7m-.6 .1h.7m-.6-.3h.7m-.5-.2h.7m-.6 .5h.7m-.7-.1h.7m-.4 0h.7m-.7-.7h.7m-.7 .1h.7m-.6 .8h.7m-.2-.2h.7m-.5-.5h.7m.2 .3h.7m-.1 .1h.7m-.5 0h.7m-.5 .3h.7m-.6-.3h.7m-.2 .3h.7m-.5-.8h.7m-.5 .3h.7m-.5 .4h.7m-.5-.7h.7m-.2 .3h.7m-.7 0h.7m-.3 .3h.7m-.6 0h.7m-.6-.4h.7m-.5 0h.7m-.3 .6h.7m-.4-.3h.7m-.7-.2h.7m-.4-.4h.7m-.5 .5h.7m-.7 0h.7m-.5 .3h.7m-.7-.3h.7m-.2 0h.7m-.5 0h.7m-.6 0h.7m-.3-.1h.7m-.6-.1h.7m-.5 .5h.7m-.5 .1h.7m9.4-.7h.7m-.6 .4h.7m-.5 .4h.7m-.7-.9h.7m-.6 0h.7m-.7 .6h.7m-.6-.4h.7m-.5-.1h.7m-.7 0h.7m-.7 .3h.7m-.6 .3h.7m-.7-.6h.7m-.6 .1h.7m-.4 .6h.7m-.7-.7h.7m-.6-.2h.7m-.5 .4h.7m-.5-.2h.7m-.6-.1h.7m-.6 .3h.7m-.4 .3h.7m.3-.7h.7m.2 .2h.7m-.4 .6h.7m1.3-.6h.7m1.1-.2h.7m-53.3 1.1h.7m3.4 .1h.7m.7-.1h.7m.1 0h.7m-.3 0h.7m-.4 .4h.7m-.6-.4h.7m.5 .4h.7m.1 .3h.7m-.4 0h.7m-.2-.7h.7m-.4 .7h.7m.1-.3h.7m-.3-.2h.7m-.2-.1h.7m-.2 .6h.7m-.5-.8h.7m0 .4h.7m-.6 0h.7m-.6-.4h.7m-.6 .1h.7m-.6 .6h.7m-.4-.3h.7m-.4 .6h.7m-.7-.5h.7m-.6-.4h.7m-.3 0h.7m0 .1h.7m-.7-.1h.7m-.6 0h.7m-.6 0h.7m-.3 .7h.7m-.5-.7h.7m-.7 .7h.7m-.5 .2h.7m-.6-1h.7m-.4 .2h.7m-.6 .4h.7m-.7 0h.7m0-.3h.7m-.3 .3h.7m-.5-.4h.7m-.1 .2h.7m-.4-.2h.7m-.7 .2h.7m-.2-.2h.7m-.7 .2h.7m-.5-.4h.7m-.6 .6h.7m-.6-.4h.7m-.7 .5h.7m-.5-.4h.7m-.2 .4h.7m-.6-.3h.7m-.6 .3h.7m-.3 .3h.7m-.6-.5h.7m-.5 .4h.7m-.7-.2h.7m.3-.1h.7m-.7 .1h.7m-.6 0h.7m-.5 .2h.7m-.6-.2h.7m-.7-.6h.7m-.7 .6h.7m-.6 .1h.7m-.7-.7h.7m-.7 .3h.7m-.5 .2h.7m-.6-.5h.7m-.6 .4h.7m-.2 .4h.7m-.6-.5h.7m-.3 .1h.7m-.6 .1h.7m-.6-.5h.7m-.6 .4h.7m-.6-.1h.7m-.7 0h.7m-.3-.2h.7m-.7 .7h.7m-.2-.3h.7m-.6-.3h.7m-.7 .7h.7m-.5-.4h.7m-.4-.3h.7m-.7 .5h.7m-.7-.8h.7m-.4 .9h.7m-.7-.4h.7m-.4-.3h.7m-.4 .2h.7m-.6-.2h.7m-.7 .4h.7m-.6-.6h.7m-.6 .9h.7m-.6-.1h.7m-.5-.2h.7m-.5 0h.7m-.6-.5h.7m-.7 .5h.7m-.6 .3h.7m-.1-.2h.7m-.6 0h.7m-.1 .2h.7m-.7-.9h.7m-.3 .6h.7m-.5 0h.7m-.5-.1h.7m-.3-.3h.7m-.6 0h.7m-.7 .6h.7m-.6-.8h.7m-.6 .6h.7m-.1-.6h.7m-.5 .9h.7m-.6 0h.7m-.6-.9h.7m-.6 .9h.7m-.7-.2h.7m.1 .1h.7m-.7-.7h.7m-.6 .7h.7m-.2-.3h.7m-.4-.5h.7m-.6 .7h.7m-.6 0h.7m-.5-.1h.7m-.5-.6h.7m-.4 .6h.7m-.5 .4h.7m8.4-.4h.7m-.7 .3h.7m-.7-.5h.7m-.5 .4h.7m-.5 0h.7m-.4-.8h.7m-.6 .8h.7m-.6-.2h.7m-.4-.6h.7m.3 .5h.7m-.5 .1h.7m-.6-.3h.7m-.3 .3h.7m-.6-.5h.7m-.7 .9h.7m1-.1h.7m.3 0h.7m-58 .5h.7m11.1 .1h.7m2.9-.2h.7m-.5 .2h.7m-.5 0h.7m0-.1h.7m-.4-.1h.7m-.2 .3h.7m.7-.2h.7m2.5 .6h.7m-.7-.7h.7m-.1-.1h.7m-.5 .1h.7m-.6 .1h.7m-.7 .5h.7m-.6-.8h.7m-.3-.1h.7m-.3 0h.7m-.7 .2h.7m0 .5h.7m-.5-.6h.7m-.6 .7h.7m-.7 0h.7m-.6 .2h.7m-.6-.5h.7m-.7-.2h.7m-.6 .2h.7m.4-.3h.7m-.6 .5h.7m-.2-.4h.7m-.6 .2h.7m-.6-.4h.7m-.5 .4h.7m-.2 .3h.7m-.7 .1h.7m-.4-.3h.7m-.6-.4h.7m-.6-.1h.7m-.6 .8h.7m-.7-.1h.7m-.5-.8h.7m-.5 .4h.7m-.7 .3h.7m-.3-.3h.7m-.5 0h.7m-.6 .3h.7m-.7-.4h.7m-.1-.3h.7m-.2 0h.7m-.5 .5h.7m-.5-.1h.7m-.4-.4h.7m-.6 .5h.7m-.1 .3h.7m-.5 .2h.7m-.1 0h.7m-.7 0h.7m-.7-.4h.7m-.5 .3h.7m-.6-.6h.7m-.5 .5h.7m-.7-.5h.7m-.6 .6h.7m-.7-.6h.7m-.3 .6h.7m-.1 0h.7m-.7-.1h.7m-.6 0h.7m-.7 .2h.7m-.7-.3h.7m-.7-.1h.7m-.7 .3h.7m-.6-.9h.7m-.6 .8h.7m-.4 .1h.7m-.5-.3h.7m-.7-.2h.7m-.3-.4h.7m0 .6h.7m-.5-.3h.7m-.6 0h.7m-.7-.1h.7m-.7-.1h.7m-.6 .5h.7m-.7-.2h.7m-.1-.1h.7m-.7 .3h.7m-.5 .2h.7m-.7-.7h.7m-.6 0h.7m-.7 .7h.7m-.7-.4h.7m-.5 .3h.7m-.4-.2h.7m-.7-.4h.7m-.4 .5h.7m-.6-.6h.7m-.6 .9h.7m-.2-.2h.7m-.6-.7h.7m-.6 .1h.7m-.4 .2h.7m-.6 .1h.7m-.7 .4h.7m-.7-.1h.7m-.6 .1h.7m-.6-.6h.7m-.6 .6h.7m-.4-.1h.7m-.7 0h.7m-.7-.4h.7m-.7 .5h.7m-.7 .1h.7m-.6 .1h.7m-.5-.9h.7m-.7 .7h.7m-.2-.2h.7m-.4-.3h.7m-.5 .2h.7m-.4-.2h.7m-.7-.2h.7m-.5 0h.7m-.5 0h.7m-.2 .1h.7m-.7 .5h.7m-.5-.3h.7m-.4-.1h.7m-.6-.2h.7m7.6 .4h.7m-.5-.5h.7m-.7 .4h.7m0 0h.7m-.3-.2h.7m-.6 0h.7m-.4-.2h.7m.5 0h.7m-.4 .2h.7m-.5 0h.7m-.1-.1h.7m.7-.1h.7m2.9 .7h.7m-55.9 .6h.7m3.9 .3h.7m1.4 .2h.7m-.5-.3h.7m2.3-.1h.7m-.3 0h.7m-.7-.1h.7m1.2 0h.7m-.3 .2h.7m-.6 0h.7m2-.4h.7m-.2 .3h.7m0 .5h.7m.5-.4h.7m-.6 .4h.7m0-.9h.7m.1 .2h.7m-.3 .7h.7m-.3-.7h.7m-.3-.1h.7m-.4 .4h.7m-.7 .3h.7m-.3-.5h.7m.2-.2h.7m-.4 .8h.7m-.4-.3h.7m-.7 .3h.7m-.5 0h.7m-.7-.1h.7m-.6 .1h.7m-.7-.6h.7m-.6 .5h.7m-.7 0h.7m-.7-.1h.7m-.6 0h.7m.2-.3h.7m-.5 .4h.7m-.3 .1h.7m-.7 .1h.7m-.4-.6h.7m-.5 .1h.7m-.7 .3h.7m-.4-.6h.7m-.6 .3h.7m-.3-.4h.7m-.4 .5h.7m-.3-.1h.7m-.4-.2h.7m-.6 .5h.7m-.6-.8h.7m-.6 .1h.7m-.4 .5h.7m-.5-.6h.7m-.4 .9h.7m-.7 .1h.7m-.5-.8h.7m-.4 .7h.7m-.7-.6h.7m-.7-.2h.7m-.4 0h.7m-.7 .8h.7m-.7-.1h.7m-.6-.5h.7m-.5 .5h.7m-.3-.7h.7m-.5 .7h.7m-.4 0h.7m-.5-.4h.7m-.6 .1h.7m-.7 .3h.7m-.6-.2h.7m-.3 .3h.7m-.7-.1h.7m-.4 0h.7m-.7-.2h.7m-.5-.3h.7m-.6 .1h.7m-.6 .3h.7m-.6-.4h.7m-.7 .2h.7m-.6 .3h.7m-.7-.1h.7m-.6-.6h.7m-.5 0h.7m-.4 .2h.7m-.6 .3h.7m-.6-.1h.7m-.4 0h.7m-.6-.3h.7m-.5 .7h.7m.3-.8h.7m.4 .1h.7m-.5 .6h.7m-.6-.5h.7m-.7 .7h.7m-.7 0h.7m-.4-.5h.7m-.6-.5h.7m-.7 .8h.7m0-.1h.7m-.6-.1h.7m-.7-.1h.7m-.6 .1h.7m1-.4h.7m-.6 .2h.7m-.7 .4h.7m6.6 .1h.7m-.5-.9h.7m-.5 .7h.7m-.5 .1h.7m-.2-.5h.7m-.5-.3h.7m-.3 .2h.7m-.1 .4h.7m-.4-.2h.7m-.6 .3h.7m3.2-.2h.7m.3 .4h.7m-49.9 1.1h.7m.7-.5h.7m-.4 .3h.7m-.5-.1h.7m2.2-.2h.7m0-.4h.7m-.5 .4h.7m.6-.2h.7m1.1-.1h.7m.6 .1h.7m-.7 .4h.7m1.1-.5h.7m-.4 .2h.7m-.1 .3h.7m-.5-.2h.7m-.1-.5h.7m-.1 .3h.7m.1 .5h.7m-.6-.7h.7m-.1 0h.7m.1 .6h.7m-.3 .3h.7m-.2-.4h.7m-.6 0h.7m-.1-.2h.7m-.5-.2h.7m-.7 .4h.7m-.3-.5h.7m-.5 .1h.7m-.4 .4h.7m-.7-.5h.7m-.7 .1h.7m-.5 .4h.7m0-.3h.7m-.5-.1h.7m-.5 .3h.7m-.7 .1h.7m-.5 .3h.7m-.7-.8h.7m-.3 .8h.7m-.4-.4h.7m-.5 0h.7m-.6-.4h.7m-.4-.1h.7m-.7 .7h.7m-.6 .2h.7m-.6-.1h.7m-.7-.3h.7m-.6 0h.7m-.6 0h.7m-.5 .4h.7m-.6-.8h.7m-.7 .4h.7m-.6 .4h.7m-.5-.2h.7m-.5 0h.7m-.7 .3h.7m0-.2h.7m-.6-.4h.7m-.4-.3h.7m.1-.1h.7m-.3 .5h.7m-.5 .4h.7m-.7-.6h.7m-.6 .4h.7m-.7-.6h.7m-.7-.1h.7m-.6 0h.7m-.7 .6h.7m-.5-.4h.7m-.5 .1h.7m-.6 0h.7m-.6-.1h.7m-.5 .2h.7m-.6 .1h.7m-.4 0h.7m-.2-.2h.7m-.7-.3h.7m-.7 .6h.7m-.1-.3h.7m-.6 .2h.7m-.6 .5h.7m-.5-.9h.7m-.2 .1h.7m-.6-.1h.7m-.7 .9h.7m-.6-.9h.7m-.4 .3h.7m-.6 0h.7m-.7 .4h.7m-.5-.4h.7m-.1 .3h.7m-.4-.7h.7m-.6 .6h.7m-.5-.2h.7m-.5 .1h.7m-.7 0h.7m-.6 .1h.7m-.7 0h.7m-.5-.6h.7m.6 .5h.7m-.7 .1h.7m-.3-.4h.7m-.7 .3h.7m-.6-.1h.7m-.7 .5h.7m-.1-.8h.7m7.2 0h.7m.9 .4h.7m-.7 .3h.7m-.6-.4h.7m-.7-.2h.7m-.5 .2h.7m.4 .4h.7m-.5-.5h.7m1.6 .5h.7m-46.6 .8h.7m3.9-.5h.7m-.1 .7h.7m-.3-.3h.7m2.3 .4h.7m-.6-.5h.7m-.5-.1h.7m-.1 .3h.7m-.7-.1h.7m-.4 .2h.7m.3-.4h.7m-.6 .3h.7m-.5 .2h.7m1.3-.4h.7m-.5-.1h.7m-.5-.2h.7m-.7 .5h.7m-.6 .3h.7m-.4-.1h.7m-.5-.5h.7m-.7 .4h.7m-.7 .3h.7m-.5-1h.7m-.5 1h.7m-.4-.8h.7m-.6 0h.7m-.7 .5h.7m-.6 0h.7m-.6-.6h.7m-.6 .2h.7m-.3 .6h.7m-.1-.2h.7m-.4-.6h.7m-.6 .1h.7m-.6 .5h.7m-.5-.5h.7m-.3 .7h.7m-.7-.8h.7m-.6 .1h.7m-.5-.1h.7m-.7 .8h.7m-.5-.4h.7m-.6 .2h.7m-.5 .2h.7m-.2-.7h.7m-.7 .6h.7m-.3-.5h.7m-.6 .6h.7m.2-.8h.7m-.4 .3h.7m-.6 .5h.7m-.7-.2h.7m-.5 .1h.7m-.2-.4h.7m-.6-.4h.7m-.6 .5h.7m-.7-.2h.7m-.4 .1h.7m-.3 .2h.7m-.6-.3h.7m-.6 .4h.7m-.6-.1h.7m-.4 0h.7m-.7-.1h.7m.6-.4h.7m-.7 .2h.7m-.2-.2h.7m-.2 0h.7m-.5 .2h.7m-.5 .3h.7m-.6 .3h.7m-.4-.7h.7m.1-.1h.7m-.7 .6h.7m-.5-.6h.7m0 .4h.7m-.2 .1h.7m-.6 .3h.7m-.7-.1h.7m-.4-.1h.7m-.2-.7h.7m-.5 .6h.7m-.4-.3h.7m-.7-.3h.7m-.4 .5h.7m-.7-.1h.7m-.7 .5h.7m-.6-.3h.7m-.7-.3h.7m-.7 0h.7m-.6 .7h.7m-.6-.8h.7m-.6 .1h.7m-.6 .6h.7m-.6-.9h.7m0 .3h.7m-.7 .3h.7m-.4 .2h.7m-.6 0h.7m-.1-.6h.7m.5 .8h.7m-.5-.6h.7m-.7 .5h.7m-.3-.6h.7m-.5 .1h.7m-.4 .4h.7m-.4 .2h.7m5 0h.7m-.4-.8h.7m-.3 .6h.7m.3 0h.7m-.4 .2h.7m-.6-.7h.7m1.1 .1h.7m-.6-.3h.7m8.2 .2h.7m-51.9 1.4h.7m6.8 0h.7m.4 0h.7m-.4 .1h.7m.5 .1h.7m0-.3h.7m.1-.4h.7m-.3-.2h.7m.1 1h.7m-.7-1h.7m-.2 .7h.7m-.2-.1h.7m-.5-.2h.7m-.7-.4h.7m-.6 .3h.7m-.6 .1h.7m-.5 .6h.7m-.4-.1h.7m-.4-.7h.7m-.6 .6h.7m.1-.8h.7m-.6 .1h.7m-.5 .9h.7m-.7-.7h.7m-.2 .4h.7m-.7-.6h.7m-.3 .9h.7m.1-.8h.7m-.4 .6h.7m.4-.8h.7m0 .9h.7m-.6-.7h.7m-.4 .2h.7m-.3-.1h.7m-.5 .2h.7m.3-.1h.7m.1 .2h.7m-.4-.1h.7m-.6-.5h.7m-.1 .5h.7m.4 .3h.7m-.6-.1h.7m-.6 .3h.7m-.3-.5h.7m.6 .1h.7m-.6-.3h.7m-.2 0h.7m-.6-.2h.7m-.5 .3h.7m-.7 .2h.7m-.3-.4h.7m0 .6h.7m-.7-.6h.7m-.2-.1h.7m-.6 .8h.7m-.4-.6h.7m-.6 0h.7m-.7 .3h.7m-.2 .1h.7m-.1-.3h.7m-.6-.4h.7m-.6 .8h.7m-.6 .2h.7m-.6-.8h.7m-.7 .7h.7m-.7-.8h.7m-.6 .4h.7m0-.4h.7m-.4 .4h.7m-.5 .1h.7m4.3 .1h.7m.3-.5h.7m.2-.2h.7m-.2 0h.7m-.7 .6h.7m-.5-.5h.7m-.5-.1h.7m-.4 .4h.7m-.5 .1h.7m-.3 .5h.7m-.1-1h.7m0 .4h.7m8.1 .2h.7m-59.1 .4h.7m.5 .3h.7m.8 .2h.7m1.8 0h.7m1.7 .3h.7m-.6 .2h.7m0-.2h.7m0-.1h.7m-.1-.3h.7m1.8-.3h.7m-.2 .7h.7m-.3-.7h.7m-.4 .1h.7m1.2 .2h.7m-.5 .2h.7m-.4 .1h.7m1.6 0h.7m-.5-.1h.7m-.3 .2h.7m-.6-.5h.7m-.1-.1h.7m-.6 .7h.7m.2-.6h.7m-.7 .2h.7m-.5-.3h.7m-.5 .6h.7m-.4-.6h.7m0 .4h.7m-.5-.1h.7m-.1-.2h.7m-.6 .5h.7m-.5-.5h.7m-.6 .2h.7m-.4-.3h.7m-.6-.1h.7m-.3 .7h.7m-.6-.6h.7m-.3 .2h.7m-.3 .1h.7m-.7 .4h.7m-.5-.5h.7m-.7-.1h.7m-.3 .1h.7m-.4 .2h.7m-.2 .2h.7m-.5-.1h.7m-.7-.6h.7m-.3 .6h.7m-.6 .1h.7m-.4 .1h.7m-.6-.2h.7m-.2-.1h.7m-.7-.1h.7m-.4-.4h.7m-.2 .9h.7m.8-.2h.7m.7-.8h.7m-.4 .7h.7m-.1-.6h.7m-.6 .7h.7m.2-.2h.7m-.5-.2h.7m.2 .1h.7m.2 .4h.7m-.7-.5h.7m-.4 .6h.7m-.5-.1h.7m-.5-.2h.7m-.6 .3h.7m-.1-.4h.7m.5 .1h.7m.4 0h.7m-.7 .1h.7m-.1-.3h.7m-.3 .3h.7m-.4 .2h.7m4-.7h.7m-.5 .1h.7m-.7 .5h.7m.5-.7h.7m-.7 .3h.7m-.2 .2h.7m-.6 0h.7m-.3-.3h.7m-.3 .6h.7m-.6-.5h.7m.9-.4h.7m-45.2 1.2h.7m3.6 .1h.7m.9 .3h.7m-.5-.3h.7m.4-.1h.7m.2 0h.7m-.6-.1h.7m-.2 0h.7m-.1 .7h.7m0-.7h.7m0-.2h.7m.6 .6h.7m-.6 .1h.7m-.5-.4h.7m.3-.1h.7m1-.1h.7m-.2 .8h.7m.3-.2h.7m-.7-.5h.7m0-.2h.7m0 .1h.7m-.1 0h.7m0-.1h.7m.2 .3h.7m-.7 .1h.7m-.5-.3h.7m.8 .3h.7m.3 .2h.7m.6-.2h.7m-.5 .3h.7m-.2-.4h.7m-.6-.3h.7m-.5 .5h.7m0-.2h.7m-.6 .4h.7m1.2 0h.7m-.1-.4h.7m-.5-.1h.7m-.3-.1h.7m.5-.1h.7m-.4 .6h.7m-.7-.1h.7m-.6-.1h.7m.3 .2h.7m-.3-.4h.7m-.6 .6h.7m-.6-.3h.7m-.4 .5h.7m-.5-.5h.7m.3 .4h.7m-.7-.4h.7m-.7 0h.7m-.6 0h.7m-.6 .4h.7m-.2-.3h.7m-.4-.3h.7m.1 .1h.7m4.1 .4h.7m0-.6h.7m.1-.2h.7m-.5 .2h.7m-.4 .7h.7m2.2 0h.7m-49.7 .9h.7m.3-.6h.7m.9 .2h.7m-.3 .2h.7m3.8-.4h.7m.1 .6h.7m0-.3h.7m.4 .5h.7m-.4-.3h.7m.7 .1h.7m-.7-.7h.7m1.8 .8h.7m-.5-.3h.7m-.1 .2h.7m-.4-.5h.7m-.5-.2h.7m.3 .3h.7m-.7 .2h.7m1.6 0h.7m-.4-.4h.7m-.7 .8h.7m-.6-.6h.7m-.6 .1h.7m-.6 .3h.7m-.1-.3h.7m-.2 .5h.7m-.2-.9h.7m.6 .8h.7m-.5-.4h.7m-.7-.3h.7m-.5-.1h.7m-.7 0h.7m-.5 .3h.7m-.4 .1h.7m0 0h.7m-.7 0h.7m-.3 .4h.7m-.6-.2h.7m-.6-.3h.7m.1 .2h.7m.7-.5h.7m-.6 .7h.7m-.1 .1h.7m-.3-.8h.7m-.3 .5h.7m-.2-.4h.7m-.3 .2h.7m-.2 .5h.7m-.6-.1h.7m-.4 .1h.7m1.1-.3h.7m.6-.4h.7m.7 .1h.7m-.4 .4h.7m-.3-.5h.7m-.5 .6h.7m-.4-.7h.7m.3 .2h.7m-.6 .2h.7m-.7 .1h.7m-.2 .3h.7m-.4 0h.7m-.6-.8h.7m-.3 .2h.7m-.6 .4h.7m-.6-.6h.7m-.3 .5h.7m4.3-.1h.7m-.5-.3h.7m.3 .6h.7m-.3-.2h.7m-.6-.3h.7m-.7 .4h.7m-.4-.6h.7m-.1 .1h.7m-.7 .6h.7m-.2-.6h.7m-.6 .3h.7m-41.3 1.4h.7m3.2-.1h.7m-.2-.1h.7m.1 .1h.7m-.5-.2h.7m-.7-.5h.7m.2-.1h.7m.1 .3h.7m-.4-.3h.7m-.5 .4h.7m-.3-.1h.7m-.1 .3h.7m-.6 .4h.7m-.5-.1h.7m-.2-.1h.7m-.3 0h.7m-.5 .1h.7m-.2-.3h.7m-.1-.4h.7m-.6 .4h.7m-.3-.1h.7m0-.1h.7m-.6-.2h.7m-.1-.1h.7m-.4 .1h.7m-.1 0h.7m-.5 .3h.7m-.5-.3h.7m.3 .4h.7m-.4 0h.7m-.5 .3h.7m-.6-.8h.7m-.4 .8h.7m.4-.4h.7m-.4-.3h.7m-.6 .8h.7m-.4-.5h.7m-.7-.4h.7m-.3 .1h.7m0 .6h.7m-.2-.3h.7m-.2 .1h.7m-.6 0h.7m.4-.6h.7m.6 .9h.7m-.5-.6h.7m1.7-.3h.7m-.1 .3h.7m.2-.2h.7m.4 .2h.7m-.1-.2h.7m-.5 .6h.7m-.2-.6h.7m-.7 .7h.7m.1-.7h.7m-.5 .1h.7m-.4 .6h.7m-.1-.3h.7m-.6 .3h.7m-.7-.2h.7m-.6 .3h.7m.1-.5h.7m-.5-.2h.7m.2 .5h.7m.1-.2h.7m2.3-.3h.7m-.6 .5h.7m-.5-.2h.7m-.6-.1h.7m-.6-.3h.7m-.4 .2h.7m-.3 .2h.7m-.2 0h.7m-.5 .2h.7m-.4 .1h.7m-.7 0h.7m-.2-.1h.7m.4-.4h.7m-.1 0h.7m.1-.2h.7m-46.8 1.7h.7m0-.7h.7m-.3 .6h.7m.2-.2h.7m-.4 0h.7m-.7 .4h.7m.5 0h.7m-.6-.7h.7m-.3 0h.7m-.2-.1h.7m-.3 .7h.7m1.1-.5h.7m.9 .2h.7m-.7-.2h.7m-.1 .6h.7m-.4-.2h.7m-.5 .2h.7m-.1-.9h.7m-.6 .9h.7m1.8-.8h.7m-.6 .6h.7m.5-.1h.7m-.2 .3h.7m-.3-.5h.7m-.6 .5h.7m-.6 .1h.7m-.1-.5h.7m-.7-.1h.7m-.5 .2h.7m-.5-.2h.7m.4 .4h.7m1.3-.2h.7m.2 .3h.7m-.3-.4h.7m-.7 .5h.7m-.2-.4h.7m.2 .3h.7m-.5-.4h.7m-.5 .1h.7m-.7 .1h.7m.9 .3h.7m0-.7h.7m-.2 .4h.7m-.5 .2h.7m3.4 .1h.7m2.5-.6h.7m-.1 .3h.7m-.5-.2h.7m-.4-.2h.7m-.7-.1h.7m-.2 .5h.7m-.6-.4h.7m.2 .6h.7m-.6-.5h.7m-.6-.1h.7m-.3 .1h.7m-.6-.4h.7m-.6 .9h.7m-.7-.6h.7m4.1 .3h.7m-.7-.5h.7m.1 .6h.7m-.5 .2h.7m-.4-.7h.7m0 .6h.7m-.4-.7h.7m-.7 0h.7m-.4 .6h.7m-.7-.2h.7m-51.1 1.4h.7m7.9-.5h.7m.8 .5h.7m-.5-.8h.7m0 .8h.7m.6 .1h.7m.1-.9h.7m.2 .8h.7m.6-.4h.7m.7-.3h.7m.1-.2h.7m-.3 .7h.7m-.7 .2h.7m-.7-.5h.7m.5 .3h.7m-.6 .1h.7m-.6-.3h.7m-.7 .3h.7m-.6 .1h.7m-.6-.8h.7m.3 0h.7m.3 .4h.7m-.6-.2h.7m-.5-.1h.7m-.7 0h.7m-.2 .7h.7m-.3 0h.7m-.6-.5h.7m0-.1h.7m-.3 .7h.7m1.2-.4h.7m.1 .2h.7m.7-.3h.7m.5 .4h.7m-.4-.9h.7m-.7 .4h.7m-.5-.2h.7m-.4 .4h.7m-.4 0h.7m-.4 .3h.7m-.1-.1h.7m-.5-.2h.7m-.7 .1h.7m.3-.4h.7m1.3-.3h.7m2.4 .3h.7m-.1 0h.7m-.2 .2h.7m.4 .4h.7m0-.9h.7m-.6 .9h.7m-.4-.1h.7m-.7-.8h.7m-.3 .7h.7m-.5-.3h.7m0 0h.7m.2 .1h.7m-.6 0h.7m-.6 .2h.7m-.7 0h.7m-.2 .2h.7m-.4-.4h.7m-.5 .2h.7m-.3-.3h.7m-.3-.3h.7m-.5 .2h.7m-.6-.2h.7m-.7 .3h.7m2.8 .1h.7m-.3-.1h.7m.2 0h.7m-.4 .5h.7m-.4-.7h.7m-.3 .5h.7m-.3-.3h.7m.8 .4h.7m-56.6 .2h.7m4.7 .7h.7m1.2 .3h.7m-.2-.4h.7m-.6-.3h.7m.4 0h.7m1.3 .3h.7m-.2-.1h.7m1.8-.2h.7m-.5 .5h.7m1.5-.3h.7m0 .1h.7m-.7 .2h.7m-.1-.5h.7m-.6 .3h.7m-.4-.2h.7m2.2-.1h.7m-.3-.3h.7m-.6 .3h.7m.1 .6h.7m-.3-.9h.7m-.5 1h.7m.4-.3h.7m-.3 .3h.7m-.6-.9h.7m-.3 .8h.7m-.1-.1h.7m0 .2h.7m-.7-.9h.7m-.5 .7h.7m-.5-.2h.7m-.7 .3h.7m-.6-.3h.7m-.2-.3h.7m-.1 .5h.7m-.6-.4h.7m-.6-.1h.7m-.5 .5h.7m.3-.3h.7m-.4-.4h.7m.3 .2h.7m-.7 .3h.7m-.3 .1h.7m-.4 .1h.7m1-.6h.7m-.4 .1h.7m1.2 .3h.7m.2-.1h.7m1-.4h.7m.5 .8h.7m-.2-.2h.7m1.7 .2h.7m-.1-.2h.7m-.6-.3h.7m-.5-.3h.7m.3 .3h.7m-.2 .3h.7m-.1-.4h.7m-.7 .2h.7m-.5-.5h.7m-.6 .8h.7m-.1-.3h.7m0-.2h.7m.6 .4h.7m-.6-.6h.7m-.4 .8h.7m-.6-.3h.7m-.6-.6h.7m-.6 .9h.7m-.4-.2h.7m-.1-.3h.7m.3-.2h.7m-.7 .2h.7m-.5 .4h.7m0 0h.7m-.4-.5h.7m-.5 .5h.7m-.6-.8h.7m-.6 .5h.7m-.1-.5h.7m-56.3 2h.7m4.4-.5h.7m5.3-.3h.7m2.8 .8h.7m.3-.2h.7m-.1-.4h.7m.6 .6h.7m-.5-.9h.7m1.3 .4h.7m-.6 .1h.7m.6-.1h.7m-.5 0h.7m-.6 0h.7m.2-.1h.7m.1 .1h.7m1-.2h.7m-.2 .3h.7m-.6-.4h.7m-.7 .4h.7m-.3 0h.7m-.7 .1h.7m-.4-.3h.7m-.6 0h.7m.1 .5h.7m-.5-.2h.7m.4-.7h.7m-.6 .8h.7m-.5-.4h.7m-.1 0h.7m-.7 .5h.7m-.2-.3h.7m-.4 0h.7m.7 0h.7m-.3-.6h.7m.9 .2h.7m-.5-.1h.7m.3 0h.7m-.4 .2h.7m.1-.1h.7m.6-.2h.7m-.6 .4h.7m1.1-.3h.7m-.4 0h.7m2.1 .8h.7m3.9-.2h.7m-.4-.4h.7m.5 .5h.7m.2-.7h.7m-.6 .1h.7m-.6 .4h.7m-.6-.5h.7m1 .2h.7m-.6 0h.7m-.5 .6h.7m-.7-.7h.7m-.4 .7h.7m0-.2h.7m-.4-.2h.7m-.2-.1h.7m-.6-.4h.7m1.2 .8h.7m.5 .2h.7m-.2-.5h.7m.1 0h.7m-50 1h.7m1.7 .5h.7m-.3-.9h.7m3.2 .2h.7m-.4 .3h.7m.8 .1h.7m-.6-.1h.7m-.7-.6h.7m.6 .6h.7m-.3-.2h.7m.7 0h.7m-.7-.1h.7m.3-.1h.7m.3 0h.7m-.3 .7h.7m-.6-.2h.7m-.2-.5h.7m-.5 .1h.7m-.7 .1h.7m-.2 .5h.7m-.6-.3h.7m-.7 .3h.7m-.5-.3h.7m-.6-.3h.7m-.6 0h.7m-.5 .6h.7m0-.3h.7m-.7 .3h.7m-.3-.7h.7m-.6 .5h.7m-.6-.2h.7m.9 0h.7m-.4 .4h.7m-.3-.5h.7m-.5 .6h.7m-.6-.9h.7m-.4 .4h.7m-.5 .1h.7m-.2-.3h.7m-.5 .6h.7m-.7-.3h.7m-.6-.1h.7m-.1 .4h.7m-.5-.8h.7m-.3 .6h.7m-.1 0h.7m-.4 0h.7m-.6-.7h.7m-.1 .9h.7m.6-.3h.7m0 .1h.7m.8-.5h.7m.4 .5h.7m-.4 .1h.7m.2-.5h.7m2.8 .3h.7m4.4-.4h.7m-.7 .7h.7m.6-.9h.7m.1 .6h.7m-.1 .3h.7m-.5-.5h.7m-.5-.1h.7m-.5-.1h.7m-.3 .5h.7m-.7-.4h.7m.5 .4h.7m-.3 .3h.7m-.5-.9h.7m-.4 0h.7m-.6 .1h.7m-.3 .8h.7m-.2-.8h.7m-.4 .8h.7m-.5-.7h.7m-.3-.3h.7m-.6 .4h.7m0 0h.7m.4 0h.7m-.3 0h.7m-47.4 .7h.7m-.3 .5h.7m.7-.5h.7m2 .1h.7m.4 .8h.7m-.7-.5h.7m-.2 .1h.7m-.3 0h.7m-.5 .2h.7m.7-.6h.7m-.3 .5h.7m-.3-.5h.7m-.2 .7h.7m-.6-.7h.7m.5 .4h.7m-.6-.1h.7m-.4 .1h.7m.5-.2h.7m.1 .5h.7m-.2-.6h.7m-.1 0h.7m.1 .5h.7m-.4 .1h.7m-.4-.2h.7m.6-.4h.7m-.5 .5h.7m-.6-.1h.7m-.6 .1h.7m-.3-.3h.7m-.7 .1h.7m-.6-.4h.7m-.1 0h.7m-.4 .7h.7m-.3-.1h.7m-.6-.5h.7m-.4 .3h.7m.7-.4h.7m0 .1h.7m.5 0h.7m0 .2h.7m.3 .3h.7m.2-.7h.7m1.1 .6h.7m1.2-.5h.7m.6 .7h.7m.7-.3h.7m1.8-.5h.7m2.6 .7h.7m1.5-.5h.7m-.5 .1h.7m1.4 .1h.7m-.2-.3h.7m-.6-.2h.7m-.7 .9h.7m1.2-.5h.7m-.2-.4h.7m.2 .7h.7m-.4-.4h.7m-.6 .5h.7m-49.6 .8h.7m1.6 .3h.7m-.3-.6h.7m.2 .3h.7m1-.6h.7m2 1h.7m-.1-.8h.7m.3 .3h.7m-.1 .2h.7m-.6 .1h.7m-.5 0h.7m-.7-.8h.7m.8 .3h.7m-.3 .3h.7m.2 .2h.7m-.3-.3h.7m-.4 0h.7m-.5 .3h.7m-.6-.7h.7m-.7 .3h.7m-.5 .4h.7m-.6 .1h.7m-.7-.8h.7m-.7 0h.7m-.4 .4h.7m.1-.4h.7m-.2 .4h.7m-.7-.5h.7m-.1 0h.7m-.6 .5h.7m-.5 .5h.7m0 0h.7m.7-.9h.7m-.4 .1h.7m.9 .8h.7m-.7-.6h.7m-.5-.3h.7m-.4 .9h.7m-.1-.7h.7m-.4-.3h.7m.7 .7h.7m-.3 .2h.7m.1-.1h.7m-.2 .1h.7m.2-.7h.7m.5 .6h.7m-.4-.4h.7m-.5-.1h.7m-.5 .6h.7m.1-.4h.7m1 0h.7m6-.3h.7m4 .7h.7m-.1-.5h.7m.3-.3h.7m-.5 .7h.7m-.6-.2h.7m-.5 0h.7m1.6-.3h.7m-.5-.2h.7m.3 .7h.7m-.2-.4h.7m3.5-.3h.7m-51.2 .9h.7m0 .3h.7m-.2 .4h.7m2.6 0h.7m0 .1h.7m-.2-.2h.7m.6 .2h.7m-.5 .1h.7m0-.4h.7m-.5 .5h.7m-.5-.7h.7m-.6 0h.7m-.5 0h.7m.1 .1h.7m-.2-.3h.7m.8 .5h.7m-.1-.2h.7m-.4 .1h.7m-.6-.5h.7m.4 .9h.7m-.5-.2h.7m-.4-.3h.7m-.6 .3h.7m-.5 0h.7m.4-.7h.7m-.2 .6h.7m-.4-.4h.7m-.6 .5h.7m-.2 .1h.7m-.7-.4h.7m-.2-.1h.7m-.4-.3h.7m-.5 .7h.7m-.4 .1h.7m-.5-.5h.7m-.2 .1h.7m1 .3h.7m.3 .2h.7m2.4-.7h.7m1.3 .8h.7m1-.9h.7m2 .9h.7m5.3-.1h.7m.6 .1h.7m1.6-.7h.7m.3 .1h.7m.1 .1h.7m-.6 .3h.7m-.4-.7h.7m-.6 .7h.7m2-.4h.7m-.6 .5h.7m1.8-.4h.7m-.6-.2h.7m-50.6 1.1h.7m.9 .3h.7m-.1 .3h.7m1.9-.3h.7m-.6-.3h.7m.1-.2h.7m1.5 .4h.7m-.3-.1h.7m.4 .1h.7m-.2-.1h.7m-.6 .4h.7m-.6-.8h.7m.3 .6h.7m-.5 0h.7m-.2-.1h.7m.5-.3h.7m-.4 .5h.7m-.3 .2h.7m-.6-.3h.7m-.5 .3h.7m-.6-.9h.7m.1 .4h.7m-.2 .5h.7m1.1-.8h.7m-.5 .2h.7m1.6-.4h.7m-.1 0h.7m-.6 .7h.7m1.4-.4h.7m1.2-.2h.7m-.5 .8h.7m.1 0h.7m-.1-.9h.7m3.7 .1h.7m.6 .4h.7m1.5-.4h.7m1.5 .4h.7m.6-.3h.7m.2 .5h.7m.1-.7h.7m-.4 .1h.7m0-.1h.7m2.9 .9h.7m.2-.5h.7m-.4 .4h.7m-.2 0h.7m-.1-.1h.7m-.4 0h.7m-.2-.7h.7m-52.6 1.2h.7m3.1 .5h.7m2-.6h.7m-.5 .8h.7m.7-.7h.7m1.3 .6h.7m.4-.4h.7m-.2-.3h.7m-.6 .6h.7m-.7-.6h.7m-.2-.1h.7m-.2 .9h.7m-.3-.8h.7m-.5 .7h.7m.3-.6h.7m.5 0h.7m.3 .8h.7m-.2-.7h.7m-.2 .4h.7m.8-.6h.7m3.8 .2h.7m.3-.1h.7m-.6-.2h.7m.9 .1h.7m1 .1h.7m.3 .1h.7m.1 .4h.7m-.6-.4h.7m1.5 .5h.7m-.5-.6h.7m6.8-.1h.7m0 .3h.7m3 .2h.7m1.3-.2h.7m-.6-.3h.7m-.7 .1h.7m.7 .6h.7m.7-.7h.7m-.5 0h.7m-.7 .4h.7m-.2-.1h.7m-.5-.2h.7m.9 .3h.7m-.4-.1h.7m-.6-.1h.7m-.3 .4h.7m.5 .2h.7m-.2-.4h.7m-54.5 1.3h.7m6.3-.1h.7m.7-.4h.7m1.1 .1h.7m0 .3h.7m-.7-.5h.7m-.5 .8h.7m-.3-.2h.7m.8-.6h.7m.6 .2h.7m-.5 0h.7m.7 .3h.7m.8 .1h.7m.7-.4h.7m-.3 .1h.7m-.4-.3h.7m-.3 .2h.7m-.3-.2h.7m1.5-.1h.7m-.1 .7h.7m1.1-.4h.7m0 .2h.7m-.2-.3h.7m-.2-.1h.7m.5 .2h.7m-.7 .2h.7m-.2 .2h.7m-.1 .1h.7m-.1-.5h.7m-.4 .5h.7m.1-.5h.7m3-.4h.7m-.5 .5h.7m8.7-.5h.7m1 0h.7m-.4 .9h.7m.8-.3h.7m-.2-.1h.7m.6 .3h.7m-.4-.1h.7m6.5 .1h.7m-53.9 .6h.7m2.8 .1h.7m-.6-.4h.7m.3-.1h.7m-.5 .9h.7m1.4-.6h.7m0 0h.7m-.1 .4h.7m.2-.2h.7m-.6 0h.7m-.4-.4h.7m-.4 .3h.7m.2 .3h.7m.6-.3h.7m.1-.2h.7m-.6 .4h.7m-.2 .2h.7m-.1 .1h.7m-.6-.6h.7m-.6 0h.7m0 .6h.7m-.3-.8h.7m.4 .7h.7m-.6-.6h.7m.1-.1h.7m1 .3h.7m-.5-.2h.7m-.5 .6h.7m-.4-.2h.7m-.5-.5h.7m0 .9h.7m.2-.9h.7m-.4 .5h.7m.3-.1h.7m-.5-.3h.7m.7 0h.7m-.4 .5h.7m.2-.2h.7m-.1 .4h.7m.2-.7h.7m7.7 .5h.7m3.6-.1h.7m3.5-.3h.7m-.2 .4h.7m0-.7h.7m0 .6h.7m-.7-.2h.7m.5 .3h.7m-.1 .2h.7m.4-.2h.7m-48.9 .4h.7m-.4 .1h.7m.3-.1h.7m1.6 0h.7m-.7 .6h.7m-.2 0h.7m1.7 .1h.7m.3 0h.7m-.6 0h.7m-.5-.5h.7m-.4 .5h.7m.1-.6h.7m-.2 .8h.7m-.6-.6h.7m1.3 .5h.7m-.1 .1h.7m-.5-.6h.7m-.6-.1h.7m-.2 .6h.7m-.4-.8h.7m-.7 .1h.7m-.6-.1h.7m-.7 .2h.7m.2 .5h.7m-.5 0h.7m.1-.6h.7m-.1 .2h.7m1.8 .4h.7m1.6-.7h.7m.8 .4h.7m2-.2h.7m2.1 .5h.7m17-.7h.7m-.1 .8h.7m-.5-.7h.7m-.5 .2h.7m.3-.2h.7m-.3-.1h.7m.1 .2h.7m2.6-.1h.7m-54.3 1.7h.7m.5-.8h.7m.3 .2h.7m.9 .2h.7m.5-.2h.7m-.2 .1h.7m-.4 .2h.7m.2-.4h.7m-.1-.1h.7m1.5 .7h.7m-.1-.2h.7m-.4-.5h.7m-.2 0h.7m-.4 .5h.7m-.4-.4h.7m-.1 0h.7m0 .4h.7m2.1 .2h.7m-.6-.4h.7m-.2 .1h.7m.3 .1h.7m-.5-.5h.7m-.4-.1h.7m1.6 .5h.7m.5-.1h.7m2.2 0h.7m.1 .2h.7m.4-.2h.7m1.3 0h.7m-.4 .5h.7m6.1-.5h.7m4.1 .3h.7m.6 .1h.7m-.1-.4h.7m9.2-.4h.7m-56 1.4h.7m2.5 .1h.7m2.2 .2h.7m.4-.5h.7m.4 .2h.7m-.6-.3h.7m-.3 .8h.7m1.3-.7h.7m-.4 .2h.7m-.6 .6h.7m-.7-.1h.7m-.3-.1h.7m-.1-.4h.7m.3 0h.7m.5 .1h.7m-.7 .3h.7m-.4 .2h.7m-.5-.3h.7m-.7-.6h.7m-.7 .8h.7m-.4-.8h.7m-.2 .9h.7m.3-.6h.7m1.1 .1h.7m.2 .1h.7m.2-.4h.7m-.4-.2h.7m-.4 .5h.7m-.2 .3h.7m-.6 .1h.7m.2-.8h.7m-.5 .1h.7m-.4 .7h.7m-.6-.6h.7m1.3 .4h.7m-.4-.2h.7m-.3 .5h.7m4.2-.9h.7m1 .4h.7m.1 .5h.7m7.3-.1h.7m1.8-.8h.7m2.3 .8h.7m.1-.8h.7m-.4 .9h.7m4.3-.8h.7m.1-.2h.7m-53.1 1.4h.7m.8 .1h.7m5.4 .2h.7m.9 .1h.7m4-.5h.7m.4 .6h.7m-.6-.2h.7m0 .1h.7m.5-.4h.7m-.7-.3h.7m3.6 .3h.7m-.5 .6h.7m.5-.9h.7m-.5 0h.7m.8 .3h.7m2.1-.1h.7m1.4 .4h.7m5.5-.3h.7m2.2-.2h.7m3.9 .7h.7m4.2-.7h.7m-.4 .5h.7m-.1 0h.7m2.6-.4h.7m.9-.2h.7m-52.6 1.8h.7m1.8-.6h.7m.8-.2h.7m-.6 .8h.7m1.3-.3h.7m.5-.6h.7m.3 .9h.7m1-.5h.7m2.5 0h.7m.6-.4h.7m-.7 .8h.7m-.6-.5h.7m.1 .5h.7m.4-.5h.7m1.4-.2h.7m.7 .2h.7m-.3-.3h.7m1.7 .1h.7m-.4 .2h.7m-.6 .6h.7m-.6-.1h.7m18.9-.5h.7m.4 .5h.7m0-.2h.7m3.8-.4h.7m-55.2 1.4h.7m-.3 .4h.7m9.7-.3h.7m-.1 .1h.7m3.1-.7h.7m.9 .4h.7m2.2 .4h.7m.7-.1h.7m-.4-.2h.7m.1 0h.7m.6-.5h.7m9.7 .5h.7m11.2 .2h.7m5.8-.4h.7m.2-.2h.7m-54.3 1.5h.7m-.2 0h.7m.7-.2h.7m-.5 .5h.7m.7 0h.7m-.1-.8h.7m5.4 0h.7m1.3 .7h.7m-.5-.9h.7m-.7 0h.7m-.4 .1h.7m-.3 .3h.7m3.6 .5h.7m-.7-.3h.7m-.3-.5h.7m-.2 .7h.7m.2-.8h.7m.8 0h.7m2.8 .7h.7m7 .2h.7m8.2-.3h.7m8.2-.5h.7m1.5 .9h.7m4.4-.2h.7m.1-.5h.7m.7 .6h.7m-55.3 .4h.7m.4 .2h.7m1.7-.4h.7m1.7 .3h.7m-.5-.1h.7m1-.2h.7m-.3 .8h.7m-.3-.1h.7m-.2-.7h.7m4.1 .1h.7m-.7 .7h.7m.6-.1h.7m-.5 .2h.7m5.5-.4h.7m-.3-.3h.7m3.5 .4h.7m6.9-.2h.7m.7 .4h.7m1-.2h.7m4.9 .2h.7m1.5-.1h.7m6.7 .2h.7m-47.9 .8h.7m-.3-.6h.7m.5 .2h.7m1.4-.3h.7m1.9 .8h.7m-.3-.8h.7m-.1 .6h.7m2.7-.1h.7m.1 .2h.7m1.4-.4h.7m14.3 .5h.7m2.5-.3h.7m17.3 .3h.7m-53.3 .8h.7m4.9 .1h.7m1.8-.3h.7m.8-.1h.7m1.2 0h.7m.1 .5h.7m-.4-.7h.7m-.2 0h.7m0-.2h.7m-.5 .2h.7m6.5-.2h.7m22 .2h.7m0 .7h.7m-.3-.1h.7m.9-.1h.7m3 .3h.7m.9 0h.7m-56.2 .5h.7m.4 .2h.7m.3-.7h.7m1.7 .9h.7m-.4-.1h.7m.6-.1h.7m1.8-.6h.7m1.9 .4h.7m.5 .2h.7m1.8 0h.7m.3-.3h.7m2-.2h.7m-.4 0h.7m-.5 .7h.7m4.6-.3h.7m-.3-.4h.7m5.6 .2h.7m15.6 .4h.7m1.3 0h.7m-.4-.6h.7m7.7 .6h.7m-57.7 .6h.7m.7 .2h.7m2.1-.5h.7m-.6 .3h.7m3.7-.3h.7m.4 .1h.7m-.4 .8h.7m-.2-.7h.7m2.4-.1h.7m.3 .6h.7m.3 0h.7m3.3-.5h.7m.7-.2h.7m18.9 .7h.7m2.9-.1h.7m4.3-.5h.7m8.4-.1h.7m-60.9 1.9h.7m10.3-.8h.7m2 .4h.7m1.1-.5h.7m1.4 .1h.7m-.3 .3h.7m12.2-.3h.7m9.7 .6h.7m3.3-.6h.7m.8 .1h.7m1.8 .7h.7m-.3-.6h.7m-.2 .6h.7m.5-.1h.7m4.2-.4h.7m-.1 .5h.7m-55.2 .2h.7m1.5 .1h.7m5.4 .6h.7m10-.1h.7m3.9-.6h.7m4.7 0h.7m4.1 .4h.7m10.9 .2h.7m2.1-.8h.7m.3 .5h.7m-53.4 .9h.7m11.9 .3h.7m1.5 0h.7m13.3 .1h.7m1.6-.4h.7m13.7 0h.7m9.4 0h.7m-49.4 1.4h.7m15.5-.6h.7m1 .4h.7m28.5-.5h.7m.4 .2h.7m0 .7h.7m-31.3 .2h.7m24.6-.1h.7m0 .6h.7m-51 1.1h.7m17.9-.6h.7m8.4 .5h.7m-.1 .1h.7m20-.2h.7m5.6 .8h.7" fill="none" stroke="#161616" stroke-width="0.8" stroke-opacity="0.8"/>
<path d="M464 443.5L463.41 442.62L463.24 441.43L463.31 440.08L463.48 438.72L463.6 437.5L463.66 436.41L463.78 435.34L463.94 434.32L464.14 433.37L464.4 432.5L464.7 431.73L465.04 431.03L465.43 430.41L465.88 429.83L466.4 429.3L466.98 428.82L467.61 428.41L468.31 428.04L469.1 427.67L470 427.3L471.05 426.9L472.23 426.5L473.48 426.1L474.76 425.73L476 425.4L477.2 425.1L478.4 424.84L479.6 424.6L480.8 424.38L482 424.2L483.22 424.04L484.47 423.9L485.7 423.79L486.89 423.72L488 423.7L489.05 423.72L490.06 423.77L491 423.87L491.86 424.04L492.6 424.3L493.22 424.64L493.73 425.06L494.15 425.55L494.5 426.13L494.8 426.8L495.04 427.59L495.19 428.48L495.29 429.46L495.36 430.47L495.4 431.5L495.41 432.56L495.38 433.67L495.32 434.8L495.25 435.92L495.2 437L495.17 438.08L495.16 439.17L495.14 440.22L495.09 441.18L495 442L494.96 442.67L494.99 443.22L494.94 443.66L494.66 444.02L494 444.3L492.82 444.48L491.21 444.55L489.39 444.54L487.58 444.51L486 444.5L484.7 444.5L483.55 444.49L482.45 444.46L481.3 444.43L480 444.4L478.53 444.37L476.94 444.35L475.3 444.32L473.63 444.27L472 444.2L470.28 444.18L468.44 444.21L466.65 444.19L465.11 443.99Z" fill="#fff" stroke="#2a2a2a" stroke-width="0.9"/>
<path d="M466.04 442.24L465.52 441.47L465.37 440.42L465.43 439.23L465.58 438.03L465.69 436.96L465.74 436L465.84 435.06L465.98 434.16L466.17 433.32L466.39 432.56L466.65 431.88L466.95 431.27L467.3 430.72L467.69 430.21L468.15 429.74L468.66 429.32L469.22 428.96L469.83 428.63L470.53 428.31L471.32 427.98L472.24 427.63L473.28 427.28L474.39 426.93L475.51 426.61L476.6 426.31L477.66 426.05L478.71 425.82L479.77 425.6L480.82 425.42L481.88 425.26L482.96 425.11L484.05 424.99L485.14 424.89L486.18 424.83L487.16 424.82L488.08 424.83L488.97 424.88L489.8 424.97L490.55 425.12L491.21 425.34L491.75 425.65L492.2 426.01L492.57 426.44L492.88 426.95L493.14 427.54L493.35 428.24L493.49 429.03L493.58 429.88L493.63 430.78L493.67 431.68L493.68 432.61L493.65 433.59L493.6 434.58L493.54 435.57L493.5 436.52L493.47 437.47L493.46 438.43L493.44 439.35L493.4 440.2L493.32 440.92L493.29 441.51L493.31 441.99L493.27 442.38L493.02 442.7L492.44 442.94L491.4 443.1L489.98 443.16L488.38 443.16L486.79 443.13L485.4 443.12L484.26 443.12L483.25 443.11L482.27 443.09L481.26 443.06L480.12 443.03L478.82 443.01L477.43 442.99L475.98 442.96L474.52 442.92L473.08 442.86L471.56 442.84L469.94 442.87L468.37 442.84L467.02 442.67ZM468.08 440.98L467.63 440.31L467.5 439.41L467.55 438.38L467.69 437.35L467.78 436.42L467.82 435.59L467.91 434.78L468.03 434.01L468.19 433.28L468.38 432.62L468.61 432.03L468.87 431.5L469.16 431.03L469.51 430.59L469.9 430.19L470.34 429.82L470.82 429.51L471.36 429.23L471.96 428.95L472.64 428.67L473.44 428.37L474.33 428.06L475.29 427.76L476.26 427.48L477.2 427.22L478.11 427L479.02 426.8L479.94 426.61L480.85 426.45L481.76 426.31L482.69 426.19L483.64 426.08L484.57 426L485.48 425.95L486.32 425.93L487.12 425.95L487.88 425.98L488.6 426.06L489.25 426.19L489.82 426.39L490.29 426.65L490.67 426.96L490.99 427.34L491.26 427.78L491.49 428.29L491.67 428.89L491.79 429.57L491.86 430.31L491.91 431.08L491.94 431.86L491.95 432.66L491.93 433.51L491.88 434.37L491.83 435.22L491.79 436.04L491.77 436.86L491.76 437.69L491.74 438.49L491.71 439.22L491.64 439.84L491.61 440.35L491.64 440.76L491.6 441.1L491.38 441.37L490.88 441.59L489.98 441.72L488.76 441.77L487.38 441.77L486 441.75L484.8 441.74L483.82 441.74L482.94 441.73L482.1 441.71L481.22 441.69L480.24 441.66L479.12 441.64L477.92 441.63L476.66 441.6L475.4 441.57L474.16 441.51L472.85 441.49L471.45 441.52L470.1 441.5L468.93 441.35ZM470.12 439.72L469.75 439.16L469.63 438.4L469.68 437.53L469.79 436.66L469.86 435.88L469.9 435.18L469.98 434.5L470.08 433.85L470.21 433.24L470.38 432.68L470.57 432.18L470.78 431.74L471.03 431.34L471.32 430.97L471.66 430.63L472.03 430.33L472.43 430.06L472.88 429.82L473.38 429.59L473.96 429.35L474.63 429.1L475.39 428.84L476.19 428.59L477.01 428.35L477.8 428.14L478.57 427.95L479.34 427.78L480.1 427.62L480.87 427.49L481.64 427.37L482.42 427.26L483.22 427.17L484.01 427.1L484.77 427.06L485.48 427.05L486.15 427.06L486.8 427.09L487.4 427.16L487.95 427.27L488.42 427.43L488.82 427.65L489.15 427.92L489.42 428.23L489.64 428.6L489.83 429.03L489.98 429.54L490.08 430.11L490.15 430.73L490.19 431.38L490.22 432.04L490.22 432.72L490.2 433.43L490.16 434.15L490.12 434.87L490.09 435.56L490.07 436.25L490.06 436.95L490.05 437.62L490.02 438.24L489.96 438.76L489.94 439.19L489.96 439.54L489.92 439.82L489.74 440.05L489.32 440.23L488.56 440.35L487.53 440.39L486.37 440.39L485.21 440.37L484.2 440.36L483.37 440.36L482.63 440.35L481.93 440.34L481.19 440.32L480.36 440.3L479.42 440.28L478.4 440.26L477.35 440.25L476.28 440.22L475.24 440.17L474.14 440.15L472.96 440.17L471.82 440.16L470.83 440.03ZM472.16 438.46L471.86 438L471.76 437.39L471.8 436.68L471.89 435.97L471.95 435.34L471.99 434.77L472.04 434.22L472.13 433.69L472.23 433.19L472.37 432.74L472.52 432.34L472.7 431.98L472.9 431.65L473.14 431.35L473.41 431.08L473.71 430.83L474.04 430.61L474.4 430.42L474.81 430.23L475.28 430.04L475.82 429.83L476.44 429.62L477.09 429.41L477.76 429.22L478.4 429.05L479.02 428.89L479.65 428.75L480.27 428.63L480.9 428.52L481.52 428.42L482.16 428.34L482.8 428.27L483.44 428.21L484.06 428.17L484.64 428.16L485.18 428.17L485.71 428.2L486.2 428.25L486.65 428.34L487.03 428.48L487.35 428.65L487.62 428.87L487.84 429.13L488.02 429.43L488.18 429.78L488.3 430.18L488.38 430.65L488.43 431.16L488.47 431.69L488.49 432.22L488.49 432.77L488.48 433.35L488.45 433.93L488.41 434.52L488.38 435.08L488.37 435.64L488.36 436.21L488.35 436.75L488.33 437.25L488.28 437.68L488.26 438.03L488.28 438.31L488.25 438.54L488.1 438.73L487.76 438.88L487.14 438.97L486.31 439L485.36 439L484.42 438.99L483.6 438.98L482.93 438.98L482.33 438.97L481.75 438.96L481.15 438.94L480.48 438.93L479.71 438.91L478.89 438.9L478.03 438.89L477.17 438.86L476.32 438.82L475.42 438.81L474.47 438.83L473.54 438.82L472.74 438.71ZM474.2 437.2L473.97 436.85L473.89 436.37L473.92 435.83L473.99 435.29L474.04 434.8L474.07 434.36L474.11 433.94L474.17 433.53L474.26 433.15L474.36 432.8L474.48 432.49L474.61 432.21L474.77 431.96L474.95 431.73L475.16 431.52L475.39 431.33L475.64 431.16L475.92 431.01L476.24 430.87L476.6 430.72L477.02 430.56L477.49 430.4L477.99 430.24L478.5 430.09L479 429.96L479.48 429.84L479.96 429.73L480.44 429.64L480.92 429.55L481.4 429.48L481.89 429.42L482.39 429.36L482.88 429.31L483.36 429.29L483.8 429.28L484.22 429.29L484.62 429.31L485 429.35L485.34 429.42L485.64 429.52L485.89 429.66L486.09 429.82L486.26 430.02L486.4 430.25L486.52 430.52L486.61 430.83L486.68 431.19L486.72 431.58L486.74 431.99L486.76 432.4L486.76 432.82L486.75 433.27L486.73 433.72L486.7 434.17L486.68 434.6L486.67 435.03L486.66 435.47L486.66 435.89L486.64 436.27L486.6 436.6L486.59 436.87L486.6 437.09L486.58 437.26L486.46 437.41L486.2 437.52L485.73 437.59L485.08 437.62L484.36 437.62L483.63 437.61L483 437.6L482.48 437.6L482.02 437.59L481.58 437.58L481.12 437.57L480.6 437.56L480.01 437.55L479.38 437.54L478.72 437.53L478.05 437.51L477.4 437.48L476.71 437.47L475.97 437.48L475.26 437.47L474.65 437.39ZM476.24 435.94L476.08 435.69L476.03 435.36L476.05 434.98L476.09 434.6L476.13 434.26L476.15 433.95L476.18 433.66L476.22 433.37L476.28 433.1L476.35 432.86L476.44 432.64L476.53 432.45L476.64 432.27L476.77 432.11L476.91 431.96L477.07 431.83L477.25 431.71L477.45 431.61L477.67 431.51L477.92 431.4L478.21 431.29L478.54 431.18L478.9 431.07L479.25 430.97L479.6 430.87L479.94 430.79L480.27 430.71L480.61 430.65L480.94 430.59L481.28 430.54L481.62 430.49L481.97 430.45L482.32 430.42L482.65 430.4L482.96 430.4L483.25 430.4L483.54 430.42L483.8 430.44L484.04 430.49L484.25 430.56L484.42 430.66L484.56 430.78L484.68 430.91L484.78 431.08L484.86 431.26L484.93 431.48L484.97 431.74L485 432.01L485.02 432.29L485.03 432.58L485.04 432.88L485.03 433.19L485.01 433.5L484.99 433.82L484.98 434.12L484.97 434.42L484.96 434.73L484.96 435.02L484.95 435.29L484.92 435.52L484.91 435.71L484.92 435.86L484.9 435.99L484.83 436.08L484.64 436.16L484.31 436.21L483.86 436.23L483.35 436.23L482.84 436.22L482.4 436.22L482.04 436.22L481.71 436.22L481.41 436.21L481.08 436.2L480.72 436.19L480.31 436.18L479.86 436.18L479.4 436.17L478.94 436.16L478.48 436.14L478 436.13L477.48 436.14L476.98 436.13L476.55 436.08ZM478.28 434.68L478.19 434.54L478.16 434.35L478.17 434.13L478.2 433.92L478.22 433.72L478.23 433.55L478.24 433.37L478.27 433.21L478.3 433.06L478.34 432.92L478.39 432.8L478.45 432.69L478.51 432.59L478.58 432.49L478.66 432.41L478.76 432.33L478.86 432.27L478.97 432.21L479.1 432.15L479.24 432.09L479.41 432.02L479.6 431.96L479.8 431.9L480 431.84L480.2 431.78L480.39 431.74L480.58 431.69L480.78 431.66L480.97 431.62L481.16 431.59L481.36 431.57L481.55 431.54L481.75 431.53L481.94 431.51L482.12 431.51L482.29 431.52L482.45 431.52L482.6 431.54L482.74 431.57L482.86 431.61L482.96 431.66L483.04 431.73L483.1 431.81L483.16 431.9L483.21 432.01L483.25 432.13L483.27 432.28L483.29 432.43L483.3 432.6L483.3 432.76L483.31 432.93L483.3 433.11L483.29 433.29L483.28 433.47L483.27 433.64L483.27 433.81L483.27 433.99L483.26 434.15L483.25 434.31L483.24 434.44L483.23 434.55L483.24 434.63L483.23 434.71L483.19 434.76L483.08 434.81L482.89 434.84L482.63 434.85L482.34 434.85L482.05 434.84L481.8 434.84L481.59 434.84L481.41 434.84L481.23 434.83L481.05 434.83L480.84 434.82L480.6 434.82L480.35 434.82L480.09 434.81L479.82 434.8L479.56 434.79L479.28 434.79L478.99 434.79L478.7 434.79L478.46 434.76Z" fill="none" stroke="#8c8c8c" stroke-width="0.45"/>
<path d="M484.2 444.4L494.8 444.4L494 450L492.6 459L486.5 446.8Z" fill="#fff" stroke="#222" stroke-width=".7"/>
<clipPath id="cb1"><rect x="43.8" y="391.9" width="75" height="73.7"/></clipPath>
<path d="M46.3 407h.7m6.5 3.8h.7m5.5 2.5h.7m-15.5 5.6h.7m10.9 .4h.7m4.4 1h.7m6.1-.2h.7m-9 .9h.7m-2.6 1.1h.7m-9.1 .5h.7m.6 .1h.7m5.2 .7h.7m4.7-.5h.7m-11.1 1.5h.7m.2-.7h.7m2.3 .5h.7m-10.7 .6h.7m5.8-.1h.7m2.6 .3h.7m7.3-.5h.7m-17.5 1.1h.7m.7 .1h.7m11.6 .2h.7m-5.5 .8h.7m1.2-.1h.7m10.6 .9h.7m-13 .7h.7m-.2 .1h.7m3.6-.1h.7m1.7 0h.7m15 1.2h.7m-29.5 .1h.7m2 .9h.7m3.9-.1h.7m-11.1 .8h.7m1.8-.1h.7m28.3-.4h.7m.2 .4h.7m-23.1 .8h.7m26.2 0h.7m-32 1.2h.7m26.2 .4h.7m-.5-.1h.7m-.5-.5h.7m1.7-.2h.7m-34.5 1.3h.7m20.7 .4h.7m6.8-.2h.7m.6 .1h.7m-.3-.6h.7m-.1 .3h.7m1.6-.3h.7m-.3 .2h.7m-.6-.3h.7m.2 .4h.7m-34 1.4h.7m5.2-.7h.7m-.6 .7h.7m.8-.5h.7m7.5-.2h.7m9.3 0h.7m1.2 .5h.7m-.7 .3h.7m-.2 .1h.7m.6-.4h.7m1 .2h.7m.4-.1h.7m-.2-.4h.7m-.4 0h.7m-.3 .3h.7m-37.4 1.1h.7m3-.3h.7m2.8 0h.7m21.4 .3h.7m0 .2h.7m1.2-.3h.7m.4-.5h.7m-.1 .2h.7m-.5-.2h.7m-.7 .7h.7m.8-.3h.7m1 .3h.7m-39.8 .4h.7m6.3-.1h.7m24.2 .3h.7m.6-.2h.7m-.3 .1h.7m.4 .1h.7m-.1-.4h.7m-.6 .1h.7m-.7 .3h.7m-.4 .3h.7m.2-.1h.7m-.7-.5h.7m-.4 0h.7m-.6 .6h.7m-.4 0h.7m-.7 .1h.7m-.1-.4h.7m-.7 .5h.7m-.1 0h.7m1-.6h.7m-37.9 1h.7m-.2-.1h.7m2.7 .3h.7m-.2-.3h.7m-.2-.2h.7m8.2 .2h.7m15.6 .4h.7m.6-.1h.7m-.1-.1h.7m-.6 0h.7m.9 .3h.7m-28.5 .4h.7m4.6 .7h.7m3-.1h.7m2.3-.1h.7m11.3-.5h.7m.4-.1h.7m-.5 .1h.7m-.1 .3h.7m-.3-.3h.7m-.6 .7h.7m.4-.2h.7m-.4 .3h.7m.4-.4h.7m1.6 .1h.7m-39.8 1.2h.7m0 .1h.7m-.1-.2h.7m3-.6h.7m9.2 .5h.7m16.7-.2h.7m1.4 .3h.7m.8-.1h.7m2.4-.5h.7m-39.7 1.8h.7m22.3-.7h.7m7.8 0h.7m0 .2h.7m-.7 0h.7m3.7-.3h.7m-34.9 1.5h.7m.2 .3h.7m-.2-.5h.7m6-.3h.7m8.6 .7h.7m11.1 0h.7m.6-.2h.7m-33.2 1.2h.7m16.2-.6h.7m5.3 .6h.7m6.8 0h.7m1.7-.5h.7m3.6 .2h.7m-37.9 1.2h.7m8.6 .2h.7m0-.4h.7m-.1-.1h.7m3.5 .5h.7m.7-.2h.7m2.7-.3h.7m13.2 .1h.7m.3 .4h.7m-.5-.3h.7m1.1 0h.7m-.5 .1h.7m1.7 .3h.7m.2-.8h.7m-42 1.2h.7m6.1-.3h.7m.3 0h.7m-.7 .6h.7m3.3-.2h.7m12.3 .1h.7m8 0h.7m5.9-.3h.7m-.1 .3h.7m-38.6 .6h.7m-.4 .1h.7m3.5-.2h.7m.5 .2h.7m6.2 .2h.7m-.3 .3h.7m-.5-.3h.7m2.6 .2h.7m-.6-.3h.7m-.3-.1h.7m.5-.3h.7m3.8 .8h.7m1.1-.4h.7m.4 .3h.7m7.7-.2h.7m6.6-.2h.7m1.9-.2h.7m-33.4 1h.7m1.7 .2h.7m0 .5h.7m.8-.2h.7m.3 .2h.7m8.5-.2h.7m.5 .3h.7m1.4-.4h.7m2.4 .3h.7m-.1 .2h.7m1-.8h.7m-.3 .7h.7m.2-.4h.7m.3-.1h.7m-.7-.1h.7m-23.2 .7h.7m1.7 .5h.7m.9-.1h.7m4.5-.1h.7m.6 .1h.7m4.8 .5h.7m-.3-.7h.7m2-.1h.7m-.3 0h.7m0 .7h.7m.7-.7h.7m1.9 .6h.7m.2 .1h.7m1.5-.2h.7m-25.9 .8h.7m-.5 .4h.7m-.2-.5h.7m3.7 .7h.7m-.4-.8h.7m-.3 .5h.7m0-.6h.7m.7 .9h.7m-.1-.2h.7m1.8 .1h.7m.4-.5h.7m.6 .2h.7m4.8 .1h.7m-.5-.2h.7m-.6 .4h.7m-.2-.5h.7m-.5 .6h.7m-.5-.6h.7m-.7 0h.7m-.6-.4h.7m.4 .7h.7m-.7-.3h.7m-.3 .5h.7m-.7 0h.7m1-.6h.7m-.7 .3h.7m-.6 .3h.7m-.6-.5h.7m.5 .1h.7m.2-.2h.7m-26 1h.7m-.7 0h.7m-.7 .7h.7m-.5-.8h.7m0-.1h.7m-.6 .7h.7m-.1-.2h.7m-.5 .3h.7m.2-.3h.7m-.1 0h.7m2.3-.1h.7m-.5 .2h.7m-.4 .2h.7m.6-.2h.7m0-.3h.7m-.7 .2h.7m-.3-.2h.7m.2 .2h.7m0-.3h.7m.8 .7h.7m2-.1h.7m-.6-.3h.7m1.1-.2h.7m.5 .1h.7m-.5-.4h.7m-.6 .5h.7m-.7 .2h.7m-.6-.6h.7m-.4 .8h.7m-.5 0h.7m-.2-.5h.7m-.4 .3h.7m-.7-.1h.7m-.5 .3h.7m-.5-.1h.7m-.7-.2h.7m-.5-.3h.7m-.6 0h.7m-.6 .4h.7m-.5 0h.7m-.1-.6h.7m1.4 .7h.7m-.3-.7h.7m-.5 .7h.7m-.4-.4h.7m-24.3 1.2h.7m0 .2h.7m0-.6h.7m-.4 .4h.7m-.6-.5h.7m2.9 .1h.7m2.6 .6h.7m3.1-.1h.7m-.3-.7h.7m.7 0h.7m0 .2h.7m-.3 .5h.7m.2-.2h.7m-.4 0h.7m-.4 .3h.7m-.5-.6h.7m-.6 .3h.7m-.5-.5h.7m-.4 .3h.7m-.6-.3h.7m-.6-.1h.7m-.5 .2h.7m-.7 .5h.7m-.7-.3h.7m0 .4h.7m-.6-.4h.7m-.7 .3h.7m-.6-.2h.7m-.7 .4h.7m-.2-.2h.7m-.7-.5h.7m-.6 .4h.7m-.6-.1h.7m-.7-.1h.7m-.7 .4h.7m.1-.2h.7m-.3 .1h.7m.4 .2h.7m-.5-.9h.7m1.9 .6h.7m-25 .9h.7m.2-.3h.7m-.4 .1h.7m1.5 0h.7m-.1 .3h.7m-.6-.3h.7m.5-.1h.7m.2-.1h.7m.1 .7h.7m-.3-.7h.7m0 0h.7m2.8 .5h.7m-.1 .2h.7m0-.8h.7m-.2 .9h.7m.4-.3h.7m.5-.5h.7m-.4 .6h.7m-.5-.4h.7m-.6 0h.7m-.6 .2h.7m-.5 .2h.7m-.7-.6h.7m-.5 .7h.7m-.7-.7h.7m-.6 .4h.7m-.5 .4h.7m-.5-.1h.7m-.7-.6h.7m-.4 .7h.7m-.7-.4h.7m-.2-.2h.7m.6-.3h.7m-.3 .2h.7m-.7 .7h.7m-.5-.8h.7m-.7 0h.7m-.3 .7h.7m-.3-.5h.7m-.3 .2h.7m.4 .1h.7m-.7-.1h.7m.2-.5h.7m-.1 .1h.7m-24.5 1.5h.7m-.2 0h.7m.5-.6h.7m-.6 .2h.7m.5 .1h.7m-.4 .4h.7m-.5-.2h.7m.5 .4h.7m-.5-.6h.7m-.2 .1h.7m-.5 .4h.7m.3-.7h.7m-.5 .2h.7m.6 .5h.7m1.2-.1h.7m.2 0h.7m-.5-.5h.7m4.1 .8h.7m-.6-.2h.7m-.6 .2h.7m-.6-1h.7m-.3 .2h.7m-.6 .1h.7m-.7 .3h.7m-.6-.2h.7m-.7 .5h.7m-.3-.2h.7m1.6-.5h.7m-.3 .7h.7m-.5-.3h.7m-.6-.5h.7m-.1 .5h.7m-.2-.2h.7m1.4 0h.7m-.6 .5h.7m.1-.6h.7m2.1 .4h.7m-28 .8h.7m.3-.3h.7m-.5 .3h.7m-.6-.4h.7m-.3 0h.7m.7 .8h.7m-.6-.2h.7m-.3-.2h.7m-.6 .2h.7m-.7-.1h.7m-.4 .1h.7m-.4-.3h.7m-.6 .3h.7m.4 .2h.7m-.4-.9h.7m-.6 .4h.7m-.1-.3h.7m-.6 .7h.7m-.2-.1h.7m.4-.6h.7m4 .8h.7m1.2 0h.7m-.4-.8h.7m-.6 .4h.7m-.5 .3h.7m-.6-.4h.7m-.5 .5h.7m-.4-.3h.7m-.6-.4h.7m-.2-.1h.7m-.6 .3h.7m-.6-.2h.7m-.6 .4h.7m-.6-.2h.7m-.6 .3h.7m2-.6h.7m-.3 .1h.7m-.7 .1h.7m-.5 .7h.7m-.5-.8h.7m-.7-.1h.7m-.2 .4h.7m-.6-.2h.7m-.5 .4h.7m-.1-.2h.7m-.1 .2h.7m-.6 .2h.7m-.3 0h.7m-.3-.1h.7m-.7-.7h.7m-.5 .3h.7m-.2 0h.7m1 .4h.7m-.4-.6h.7m-26 1.6h.7m1-.3h.7m-.4-.2h.7m-.4 .1h.7m.2 .1h.7m-.5 .4h.7m-.2-.5h.7m-.4-.1h.7m.2 .3h.7m-.5-.6h.7m-.2 .4h.7m1 .5h.7m-.4-.2h.7m1.6 .1h.7m.9-.1h.7m-.2-.6h.7m.1 .4h.7m.2-.1h.7m-.3 .5h.7m-.4 0h.7m-.6-.4h.7m0-.1h.7m-.2-.1h.7m-.6 .3h.7m2.4 .3h.7m-.3-.4h.7m-.3-.1h.7m-.6-.1h.7m-.4 .2h.7m1.1-.1h.7m-.6 .1h.7m1.6-.1h.7m-26.2 .8h.7m2.2 .6h.7m-.6 0h.7m.3 .2h.7m-.3-.6h.7m-.4 .4h.7m.6-.6h.7m.3 .7h.7m-.5-.3h.7m.9-.5h.7m.2 .1h.7m4.5 0h.7m-.7 .7h.7m.2-.6h.7m-.5-.1h.7m-.5 .3h.7m-.6-.3h.7m-.5 .6h.7m-.7-.6h.7m-.5-.1h.7m-.6 .3h.7m3.3-.2h.7m-.6 .6h.7m-.3-.5h.7m.7 .5h.7m.8-.6h.7m-24.7 1.7h.7m-.2-.6h.7m.4 0h.7m-.1-.1h.7m-.6 .5h.7m0-.1h.7m-.7-.2h.7m-.1 .4h.7m.1-.7h.7m-.1 0h.7m-.2 .4h.7m-.4 .4h.7m-.2-.7h.7m0 .7h.7m-.6-.1h.7m.3-.1h.7m-.1-.7h.7m1.4 .5h.7m-.4-.3h.7m.8 .1h.7m-.4 .5h.7m.2-.2h.7m-.4 .2h.7m-.3-.6h.7m-.4 .6h.7m-.3-.4h.7m.2 .2h.7m-.5 .2h.7m-.2-.7h.7m-.6 .6h.7m2.9-.5h.7m-.4 .6h.7m-.7 .2h.7m-.7-.6h.7m-.4-.3h.7m-.5-.1h.7m-.1 .1h.7m.2 .7h.7m-.3-.4h.7m1.3-.2h.7m-24.7 1.6h.7m-.6 .1h.7m-.6-.6h.7m-.2 .7h.7m-.7-.1h.7m.4-.2h.7m-.6 0h.7m-.2-.2h.7m.4 0h.7m-.7-.3h.7m-.3 .4h.7m-.4-.4h.7m.1 .2h.7m.6-.4h.7m4.2 .1h.7m1.5 0h.7m.4 .7h.7m-.7-.8h.7m-.5 .7h.7m-.7 0h.7m-.6 .2h.7m-.3-.7h.7m3.1 .2h.7m-.4 .4h.7m-.6-.3h.7m-.3-.3h.7m.3 0h.7m-.6 .1h.7m.9 .4h.7m-23.2 1.2h.7m0 .1h.7m.1-.7h.7m-.4-.1h.7m-.7-.2h.7m-.4 .9h.7m-.5-.4h.7m-.4 .3h.7m-.7-.6h.7m.3 .7h.7m-.7-.1h.7m.5-.3h.7m-.3-.2h.7m-.1 .6h.7m-.6 .1h.7m-.5-.5h.7m-.3-.1h.7m-.2 .1h.7m0-.4h.7m.8 .8h.7m0-.6h.7m2.3 .7h.7m-.5-1h.7m-.6 .4h.7m.4 .2h.7m-.4-.2h.7m-.6-.3h.7m-.3 .2h.7m3.1 .2h.7m-.5-.1h.7m-.5-.3h.7m.4 0h.7m-.2 .4h.7m1 .3h.7m-.7 0h.7m.9 .1h.7m-25.8 .7h.7m-.3-.5h.7m-.4 0h.7m-.4 .5h.7m-.4 .1h.7m1 0h.7m-.5 0h.7m-.4 .1h.7m-.3-.5h.7m.6 .5h.7m.9-.7h.7m-.6 .5h.7m.2-.5h.7m-.5 .8h.7m.1-.1h.7m1.9 0h.7m.1-.1h.7m.2 .1h.7m.2-.2h.7m-.2 .3h.7m.1-.6h.7m-.6 0h.7m-.7 .3h.7m.2-.5h.7m-.7 .6h.7m-.4 .1h.7m2.2-.2h.7m-.4 0h.7m-.7 0h.7m-.7 .3h.7m-.6-.4h.7m-.5-.1h.7m0 0h.7m-.2 .5h.7m0-.2h.7m-.6-.4h.7m0-.2h.7m.2 .5h.7m-.7 .2h.7m-24.5 .8h.7m.6 .1h.7m-.5-.1h.7m-.4-.5h.7m-.1 .5h.7m.1-.2h.7m2.3 .3h.7m.6-.4h.7m.5-.3h.7m1.3 .8h.7m2.1-.7h.7m0 .4h.7m-.3-.4h.7m.5 .8h.7m-.3-.4h.7m-.5 0h.7m-.2 .4h.7m1.9 0h.7m-.6 0h.7m-.7 0h.7m-.7-.6h.7m-.5 .4h.7m-.4 0h.7m0-.3h.7m-.2-.4h.7m4.3 .1h.7m-26.7 1.9h.7m1.4-.3h.7m1.1-.3h.7m2.2-.4h.7m-.4 .2h.7m-.1 0h.7m.2 .7h.7m1.4-.7h.7m0 .3h.7m-.2-.4h.7m.1 .7h.7m.4-.2h.7m-.2 .1h.7m.1-.5h.7m-.6 0h.7m.2 .7h.7m-.6-.3h.7m-.7-.5h.7m-.6 .2h.7m-.4 .2h.7m-.7-.3h.7m-.6 .3h.7m-.7 .2h.7m-.6 .2h.7m1.4-.1h.7m-.6-.1h.7m-.7-.2h.7m-.7-.3h.7m-.6 .2h.7m-.6 .3h.7m-.6-.2h.7m-.7-.3h.7m-.7 .5h.7m-.4 0h.7m-.6-.1h.7m-.5 .2h.7m-.2-.1h.7m-.6-.6h.7m-.5 0h.7m-.6 .7h.7m.7 .2h.7m-23.2 0h.7m-.3 1h.7m-.1-.6h.7m-.6 .6h.7m-.6-.8h.7m-.6 .1h.7m0 .4h.7m1.2 0h.7m-.3-.3h.7m-.4 0h.7m-.4 .3h.7m.8-.3h.7m-.4 .6h.7m.5-.6h.7m-.6-.2h.7m3 .7h.7m1.5 .1h.7m0-.5h.7m-.7-.2h.7m-.6 .5h.7m.3-.5h.7m-.6-.2h.7m-.7 0h.7m-.6 .4h.7m-.5 .1h.7m-.7-.5h.7m-.2 .6h.7m-.7 .1h.7m-.5 0h.7m-.5-.4h.7m1.2 .2h.7m-.4-.2h.7m-.5 .1h.7m-.7-.3h.7m-.7 .3h.7m-.5-.3h.7m-.5 0h.7m-.6 .1h.7m-.7 .1h.7m0-.3h.7m-.7 .2h.7m-.6-.1h.7m1.1 .6h.7m.4-.7h.7m-24 1.1h.7m-.5 .3h.7m1.9 0h.7m-.4-.2h.7m.6-.2h.7m10.2 .8h.7m-.6-.1h.7m-.4-.3h.7m-.6-.5h.7m-.4 .1h.7m-.4 .2h.7m-.7 .2h.7m-.2 0h.7m-.7 .4h.7m-.6-.2h.7m-.6 .1h.7m-.7-.7h.7m-.7 .1h.7m-.7 .2h.7m-.7 .5h.7m-.4-.6h.7m-.5 .5h.7m0-.5h.7m-.3-.3h.7m-.7 .5h.7m-.6 .2h.7m-.4 .2h.7m-.5-.1h.7m-.5-.6h.7m.3 .5h.7m.6-.5h.7m2.2 0h.7m-23 .9h.7m3.2 0h.7m1.8 .1h.7m.3 .1h.7m8-.1h.7m.1 0h.7" fill="none" stroke="#161616" stroke-width="0.8" stroke-opacity="0.78"/>
<g clip-path="url(#cb1)">
<path d="M30 446.6L31.07 445.42L32.58 445.28L34.34 445.72L36.21 446.31L38 446.6L39.74 446.6L41.53 446.59L43.35 446.59L45.18 446.59L47 446.6L48.86 446.62L50.77 446.65L52.65 446.68L54.42 446.73L56 446.8L57.37 446.87L58.58 446.95L59.66 447.05L60.63 447.19L61.5 447.4L62.25 447.68L62.88 448L63.4 448.38L63.87 448.82L64.3 449.3L64.7 449.84L65.04 450.42L65.33 451.06L65.58 451.76L65.8 452.5L65.97 453.31L66.1 454.18L66.18 455.1L66.25 456.05L66.3 457L66.33 457.95L66.34 458.92L66.32 459.9L66.31 460.93L66.3 462L66.3 463.14L66.3 464.33L66.3 465.55L66.3 466.78L66.3 468L66.3 469.2L66.3 470.4L66.3 471.6L66.3 472.8L66.3 474L66.56 475.3L67.08 476.69L67.47 478.03L67.34 479.18L66.3 480L64.14 480.38L61.13 480.43L57.57 480.29L53.76 480.1L50 480L45.92 480.24L41.31 480.72L36.74 481.08L32.78 480.96L30 480L28.72 478.01L28.56 475.24L29.04 471.96L29.68 468.46L30 465L29.87 461.24L29.62 457L29.42 452.8L29.49 449.16Z" fill="#efefef" stroke="#262626" stroke-width=".85"/>
<clipPath id="bb2"><path d="M30 446.6L31.07 445.42L32.58 445.28L34.34 445.72L36.21 446.31L38 446.6L39.74 446.6L41.53 446.59L43.35 446.59L45.18 446.59L47 446.6L48.86 446.62L50.77 446.65L52.65 446.68L54.42 446.73L56 446.8L57.37 446.87L58.58 446.95L59.66 447.05L60.63 447.19L61.5 447.4L62.25 447.68L62.88 448L63.4 448.38L63.87 448.82L64.3 449.3L64.7 449.84L65.04 450.42L65.33 451.06L65.58 451.76L65.8 452.5L65.97 453.31L66.1 454.18L66.18 455.1L66.25 456.05L66.3 457L66.33 457.95L66.34 458.92L66.32 459.9L66.31 460.93L66.3 462L66.3 463.14L66.3 464.33L66.3 465.55L66.3 466.78L66.3 468L66.3 469.2L66.3 470.4L66.3 471.6L66.3 472.8L66.3 474L66.56 475.3L67.08 476.69L67.47 478.03L67.34 479.18L66.3 480L64.14 480.38L61.13 480.43L57.57 480.29L53.76 480.1L50 480L45.92 480.24L41.31 480.72L36.74 481.08L32.78 480.96L30 480L28.72 478.01L28.56 475.24L29.04 471.96L29.68 468.46L30 465L29.87 461.24L29.62 457L29.42 452.8L29.49 449.16Z"/></clipPath>
<g clip-path="url(#bb2)">
<path d="M30.8 447.76L31.81 446.66L33.23 446.52L34.89 446.93L36.64 447.49L38.32 447.76L39.96 447.76L41.64 447.75L43.35 447.75L45.08 447.75L46.78 447.76L48.53 447.78L50.33 447.81L52.1 447.84L53.76 447.89L55.24 447.95L56.53 448.02L57.67 448.09L58.69 448.18L59.6 448.32L60.41 448.52L61.12 448.78L61.71 449.08L62.2 449.44L62.64 449.85L63.05 450.3L63.42 450.81L63.74 451.36L64.02 451.96L64.25 452.61L64.46 453.31L64.62 454.07L64.73 454.89L64.82 455.76L64.88 456.64L64.93 457.54L64.96 458.43L64.96 459.34L64.95 460.27L64.93 461.23L64.93 462.24L64.93 463.31L64.93 464.43L64.93 465.58L64.93 466.74L64.93 467.88L64.93 469.01L64.93 470.14L64.93 471.26L64.93 472.39L64.93 473.52L65.17 474.74L65.66 476.05L66.03 477.31L65.91 478.39L64.93 479.16L62.9 479.52L60.07 479.57L56.72 479.43L53.14 479.25L49.6 479.16L45.77 479.39L41.43 479.84L37.14 480.18L33.42 480.06L30.8 479.16L29.6 477.29L29.45 474.69L29.9 471.61L30.5 468.31L30.8 465.06L30.68 461.53L30.44 457.54L30.26 453.59L30.32 450.17ZM31.61 448.93L32.55 447.89L33.87 447.76L35.43 448.15L37.07 448.67L38.65 448.93L40.18 448.93L41.75 448.92L43.36 448.92L44.97 448.92L46.57 448.93L48.2 448.95L49.88 448.97L51.54 449L53.1 449.04L54.49 449.1L55.69 449.17L56.76 449.23L57.71 449.32L58.56 449.45L59.33 449.63L59.99 449.87L60.54 450.16L61 450.5L61.41 450.88L61.79 451.3L62.14 451.78L62.44 452.29L62.7 452.86L62.92 453.47L63.11 454.12L63.26 454.83L63.37 455.6L63.45 456.41L63.51 457.24L63.55 458.08L63.58 458.92L63.58 459.77L63.57 460.64L63.56 461.54L63.55 462.48L63.55 463.48L63.55 464.53L63.55 465.61L63.55 466.69L63.55 467.76L63.55 468.82L63.55 469.87L63.55 470.93L63.55 471.98L63.55 473.04L63.78 474.18L64.24 475.41L64.58 476.59L64.47 477.6L63.55 478.32L61.65 478.66L59 478.7L55.87 478.57L52.51 478.4L49.21 478.32L45.61 478.53L41.56 478.95L37.54 479.27L34.05 479.16L31.61 478.32L30.48 476.57L30.34 474.13L30.76 471.25L31.33 468.16L31.61 465.12L31.5 461.81L31.27 458.08L31.1 454.38L31.16 451.18Z" fill="none" stroke="#6e6e6e" stroke-width=".45"/>
<path d="M49.2 460.5a2.3 1.66 0 1 0 4.6 0a2.3 1.66 0 1 0 -4.6 0M46.7 460.5a4.8 3.46 0 1 0 9.6 0a4.8 3.46 0 1 0 -9.6 0M44.2 460.5a7.3 5.26 0 1 0 14.6 0a7.3 5.26 0 1 0 -14.6 0M41.7 460.5a9.8 7.06 0 1 0 19.6 0a9.8 7.06 0 1 0 -19.6 0M39.2 460.5a12.3 8.86 0 1 0 24.6 0a12.3 8.86 0 1 0 -24.6 0M36.7 460.5a14.8 10.66 0 1 0 29.6 0a14.8 10.66 0 1 0 -29.6 0M34.2 460.5a17.3 12.46 0 1 0 34.6 0a17.3 12.46 0 1 0 -34.6 0" fill="none" stroke="#6e6e6e" stroke-width=".45"/>
</g>
<path d="M44.5 445.6V466" stroke="#1a1a1a" stroke-width="1.1"/>
</g>
<path d="M86.3 457.5L86.3 457.95L86.28 458.4L86.26 458.86L86.23 459.3L86.19 459.72L86.14 460.13L86.08 460.53L86.01 460.91L85.94 461.27L85.86 461.6L85.78 461.91L85.68 462.19L85.58 462.44L85.48 462.67L85.37 462.86L85.26 463.01L85.15 463.14L85.03 463.23L84.92 463.28L84.8 463.3L84.68 463.28L84.57 463.23L84.45 463.14L84.34 463.01L84.23 462.86L84.12 462.67L84.02 462.44L83.92 462.19L83.82 461.91L83.74 461.6L83.66 461.27L83.59 460.91L83.52 460.53L83.46 460.13L83.41 459.72L83.37 459.3L83.34 458.86L83.32 458.4L83.3 457.95L83.3 457.5L83.3 457.05L83.32 456.6L83.34 456.14L83.37 455.7L83.41 455.28L83.46 454.87L83.52 454.47L83.59 454.09L83.66 453.73L83.74 453.4L83.82 453.09L83.92 452.81L84.02 452.56L84.12 452.33L84.23 452.14L84.34 451.99L84.45 451.86L84.57 451.77L84.68 451.72L84.8 451.7L84.92 451.72L85.03 451.77L85.15 451.86L85.26 451.99L85.37 452.14L85.48 452.33L85.58 452.56L85.68 452.81L85.78 453.09L85.86 453.4L85.94 453.73L86.01 454.09L86.08 454.47L86.14 454.87L86.19 455.28L86.23 455.7L86.26 456.14L86.28 456.6L86.3 457.05Z" fill="#fff" stroke="#2a2a2a" stroke-width="0.7"/>
<clipPath id="cb3"><rect x="43.8" y="472.3" width="75" height="73.7"/></clipPath>
<path d="M59.9 487.9h.7m-5.3 2.5h.7m5.9 .8h.7m11.1-.3h.7m-5.6 1.2h.7m2.8-.6h.7m-18.2 2.5h.7m11.8 .8h.7m.2 1.5h.7m-13.9 1h.7m.8 .1h.7m20.1-.7h.7m-25.2 1h.7m5.2-.1h.7m8 .8h.7m-19.7 .1h.7m5.2 .1h.7m4.7 .6h.7m.8-.2h.7m.4 .4h.7m-18.5 1h.7m1-.7h.7m.1-.1h.7m2 .1h.7m5.5 .2h.7m2.4-.2h.7m-15.6 1.9h.7m2.1 .5h.7m.2 0h.7m1.4-.2h.7m19 .3h.7m1-.5h.7m1.3 .6h.7m-22.8 1h.7m.9-.3h.7m6.1-.4h.7m.7 .7h.7m1 .2h.7m.4-.4h.7m4.1 .1h.7m-.4-.7h.7m7.9 .8h.7m-31.2 .4h.7m-.2 .2h.7m1 .5h.7m0-.2h.7m0-.4h.7m1 .6h.7m-.5-.1h.7m1.3 0h.7m.2-.2h.7m1.7 .2h.7m8.1-.6h.7m1.7 .4h.7m.5-.5h.7m-.4 .9h.7m-25.5 .2h.7m1.3 .2h.7m2.5 .3h.7m.9 0h.7m.1-.1h.7m1.7-.2h.7m1.1 .1h.7m6.1 .1h.7m.4-.5h.7m11.2 .9h.7m.1-.9h.7m1.4 .2h.7m-32.3 .7h.7m-.2 .5h.7m.5 .3h.7m-.7 0h.7m-.6-.6h.7m1.3 .6h.7m1.1-.6h.7m.9 .1h.7m.8 .6h.7m2.8-.6h.7m-.4 .4h.7m-.2 .3h.7m-.2-.5h.7m14.6-.4h.7m-32.8 1.3h.7m2.9-.3h.7m0-.1h.7m0 .9h.7m-.6-.8h.7m-.1 .6h.7m-.2 0h.7m5.1-.4h.7m1.5 .5h.7m.9-.4h.7m-.3-.1h.7m-.3 .2h.7m.1 .2h.7m.6 .3h.7m0-.2h.7m.8-.7h.7m3.7 .4h.7m1.5-.3h.7m10.4 .6h.7m-39.3 .3h.7m3.1 .7h.7m-.5-.8h.7m-.4 .4h.7m.5 0h.7m.3-.1h.7m-.2-.3h.7m-.3 .9h.7m.8 0h.7m-.3-.1h.7m1.2-.4h.7m-.6 .5h.7m-.4-.4h.7m-.5-.2h.7m1-.2h.7m-.1 0h.7m-.7-.1h.7m-.1 .6h.7m1.4-.3h.7m-.7 .3h.7m2.8 .3h.7m-.2-.4h.7m-.3-.3h.7m-.6-.1h.7m1.6 .1h.7m1.6-.1h.7m1.9 .5h.7m0 .4h.7m-.5-.1h.7m3.6 .1h.7m.8-.1h.7m4.3-.5h.7m.2 .1h.7m-42.8 1.4h.7m.8-.3h.7m2.6-.4h.7m-.5 .5h.7m.8 .1h.7m.9-.5h.7m-.7-.2h.7m.7 .8h.7m-.2 .1h.7m.3-.7h.7m-.3 .1h.7m1.4-.1h.7m.2 .3h.7m.4-.2h.7m1.9 .3h.7m.3 .2h.7m-.2-.7h.7m2.6 .2h.7m4.1-.3h.7m.2 .5h.7m9.9-.1h.7m2.9 .2h.7m-.4-.1h.7m3.3-.2h.7m-47.9 1.5h.7m1.4-.6h.7m-.6 .3h.7m-.6 .4h.7m1.5-.1h.7m.6-.8h.7m.6 .1h.7m-.2 .3h.7m-.6-.2h.7m-.7 0h.7m.9 .6h.7m-.2-.3h.7m-.3-.2h.7m-.6-.3h.7m-.5 .9h.7m2.3-.5h.7m-.5-.4h.7m.1 .8h.7m-.4-.8h.7m.2 .8h.7m-.4-.4h.7m0 .4h.7m-.1-.3h.7m-.4-.4h.7m-.4 .4h.7m.3 .3h.7m1.1-.3h.7m.2-.5h.7m-.3 .3h.7m2.1 .1h.7m.3 .1h.7m-.4 .3h.7m2.6-.5h.7m-.4 .5h.7m0-.9h.7m2.3 .6h.7m-.7-.4h.7m4.6-.2h.7m5.8 .3h.7m-44.1 1.1h.7m-.3 0h.7m-.3-.3h.7m.3 .4h.7m-.4-.3h.7m-.6 .5h.7m1.3 0h.7m-.2-.6h.7m-.6 .3h.7m.1 .5h.7m-.4 0h.7m-.6-.7h.7m-.4 .7h.7m.1-.6h.7m-.4 .6h.7m1.7-.2h.7m-.4-.5h.7m-.3 .5h.7m-.7-.4h.7m1.8 .1h.7m-.2 .5h.7m-.3 0h.7m.3-.1h.7m-.6-.5h.7m-.4-.1h.7m-.5-.1h.7m.4 .8h.7m-.5-.8h.7m-.2 .9h.7m-.7-.1h.7m4.5 .1h.7m.7-.8h.7m-.2 .8h.7m1.2-.3h.7m0-.7h.7m.8 .6h.7m2.3-.3h.7m5.7-.2h.7m1.7 .8h.7m-.7-.7h.7m-.4 0h.7m-.3-.1h.7m-40.3 1.4h.7m-.6-.1h.7m1.9 .5h.7m1.9-.5h.7m-.6 .2h.7m-.4 .3h.7m-.6-.2h.7m.3-.6h.7m-.5 .2h.7m-.1-.2h.7m-.3 .8h.7m-.5-.9h.7m1.5 0h.7m.9 .6h.7m-.7-.2h.7m-.3 .1h.7m.1 .3h.7m-.7-.5h.7m-.6 .5h.7m.6 .1h.7m-.6-.1h.7m.9-.2h.7m-.6-.5h.7m2.2 .5h.7m-.6 .3h.7m-.2-.8h.7m3.1 .4h.7m.6 .2h.7m0 0h.7m1.4-.4h.7m.2-.1h.7m.9-.1h.7m1.1 .3h.7m-.5 .5h.7m1.1 .1h.7m1.2-.5h.7m.3 .2h.7m0 .2h.7m-.2 0h.7m.5-.1h.7m-.7-.1h.7m2.8 0h.7m-.4 .1h.7m0-.4h.7m-47.1 .9h.7m-.3 .4h.7m1.2 .2h.7m.2-.7h.7m-.3 .2h.7m1.7 .5h.7m-.5 0h.7m-.6-.7h.7m.2 .6h.7m-.5-.1h.7m-.6-.5h.7m0 .6h.7m-.4-.7h.7m0 .3h.7m-.2 .2h.7m-.1 .1h.7m-.4-.1h.7m-.7 0h.7m.7-.4h.7m-.5 .2h.7m-.3-.1h.7m-.4 .4h.7m-.4-.2h.7m1.2 .1h.7m-.4-.5h.7m-.6 .3h.7m.2 .4h.7m-.5-.6h.7m-.5 .7h.7m-.5-.1h.7m-.6 .1h.7m-.6-.5h.7m.7-.2h.7m-.6-.2h.7m.1 .9h.7m.7-.9h.7m-.3 .3h.7m2-.3h.7m0 0h.7m.6 .3h.7m4.5 .2h.7m0-.1h.7m2.6 0h.7m1 .2h.7m-.3-.2h.7m-.5 .5h.7m-.5 0h.7m-.5 0h.7m-.2 .1h.7m.2-.8h.7m.2 0h.7m.1 .2h.7m.9 0h.7m.5-.3h.7m4 .2h.7m-48.9 1.3h.7m-.6-.5h.7m1 .8h.7m1.6-.9h.7m-.2 .9h.7m.5 .1h.7m.1-.6h.7m-.6 0h.7m-.3-.2h.7m-.2 .4h.7m-.6-.2h.7m-.6 0h.7m1.9 .1h.7m1.1-.2h.7m-.6 .1h.7m1 .1h.7m2.1-.3h.7m-.2 .3h.7m-.3-.2h.7m-.2-.3h.7m4.7 .2h.7m-.7 .8h.7m1-1h.7m-.5 1h.7m5.9-.9h.7m2.4-.1h.7m1.3 .7h.7m.3 .2h.7m.3-.7h.7m.6 .1h.7m-.4-.2h.7m-.7 .2h.7m-.5 0h.7m-.4 .5h.7m-.2-.8h.7m-.5 .1h.7m-.2 .6h.7m.1-.4h.7m0 .2h.7m-.5 .1h.7m7.1 .1h.7m-53.5 .9h.7m1.8 .2h.7m-.4-.2h.7m.2-.6h.7m-.5 .2h.7m-.2 .6h.7m-.6 .1h.7m1.9-.4h.7m-.5-.4h.7m-.3 .3h.7m-.4-.4h.7m-.1 .7h.7m-.3 .1h.7m.3-.7h.7m-.1 .6h.7m-.2-.7h.7m-.6 .2h.7m.3 .4h.7m0 .2h.7m.1-.3h.7m.1 .4h.7m.8-.6h.7m-.6 0h.7m-.6 .3h.7m-.6-.6h.7m-.5 .9h.7m-.1-.7h.7m1.7 .5h.7m5.2-.6h.7m5.6 .7h.7m4-.7h.7m-.6 .2h.7m-.7 .4h.7m1.2-.4h.7m-.1 .2h.7m-.2 0h.7m-.2-.1h.7m-.3 .4h.7m-.2-.1h.7m-.5-.5h.7m-.2 .7h.7m-.7-.5h.7m.5 .4h.7m-.4-.1h.7m.3-.3h.7m1.2-.1h.7m-.6 .7h.7m-.1-.4h.7m1.1-.2h.7m-49.1 1.2h.7m-.7-.5h.7m-.7 .1h.7m-.4-.1h.7m2 .8h.7m-.6-.2h.7m-.7 0h.7m-.3-.5h.7m-.3 .7h.7m-.4 .1h.7m-.2-.5h.7m-.6 .5h.7m-.3-.9h.7m-.7 .4h.7m-.6 .2h.7m0-.6h.7m-.1 .2h.7m-.1 .5h.7m-.5-.7h.7m-.2 .9h.7m-.3-.1h.7m-.4-.8h.7m-.6 .6h.7m.4-.4h.7m-.2 .1h.7m-.6 .2h.7m.7 .1h.7m.4-.4h.7m.2 .1h.7m.2 .4h.7m-.3-.3h.7m-.4 .4h.7m-.5-.2h.7m-.6 .1h.7m-.3-.2h.7m-.2-.2h.7m1.4-.2h.7m-.5 .3h.7m-.6 .4h.7m-.3-.4h.7m-.3-.2h.7m.3 .2h.7m-.3-.2h.7m.3 .4h.7m3.6-.2h.7m-.3 .5h.7m6.7-.4h.7m.1-.1h.7m1.6-.3h.7m.1 .4h.7m-.5-.5h.7m-.4 .6h.7m-.1 0h.7m-.4 .2h.7m-.4-.2h.7m.4 .1h.7m-.2-.3h.7m-.7-.2h.7m-.5 .3h.7m-.7-.4h.7m-.3 .2h.7m-.7 0h.7m-.6 0h.7m0 .5h.7m.8-.1h.7m.1 .1h.7m-.6-.7h.7m-.7 0h.7m6.8-.2h.7m-53.9 1.1h.7m-.2 .4h.7m-.4 .3h.7m-.3-.3h.7m-.2-.2h.7m-.7 .1h.7m.6 .3h.7m-.1-.5h.7m-.2 .2h.7m0 .3h.7m.1-.1h.7m-.6-.2h.7m-.5-.2h.7m-.7 0h.7m-.2 .4h.7m-.6-.2h.7m-.6 .1h.7m-.6 .3h.7m.4-.1h.7m-.1 .2h.7m-.4-.8h.7m-.4 .9h.7m-.6-.4h.7m-.6 0h.7m-.6-.5h.7m-.3 .7h.7m-.4-.2h.7m-.3-.2h.7m-.6-.4h.7m-.3 .9h.7m-.2-.4h.7m-.4 .4h.7m-.7-.1h.7m-.2-.2h.7m.9-.2h.7m0 .1h.7m1-.3h.7m-.6 .6h.7m-.4 0h.7m.3-.4h.7m0 0h.7m.7 .5h.7m2-.9h.7m-.3 .6h.7m11.1-.2h.7m-.4 .2h.7m-.6-.1h.7m.6-.4h.7m.4 .5h.7m-.5 .1h.7m-.3-.7h.7m-.5 1h.7m-.4-.8h.7m-.5 .8h.7m0-1h.7m-.7 .2h.7m-.6 .1h.7m-.7 .3h.7m-.6-.4h.7m-.5 .3h.7m-.6-.3h.7m-.2 .3h.7m-.6-.4h.7m-.4 .1h.7m-.5-.1h.7m-.5 0h.7m-.6 .7h.7m-.3-.6h.7m-.7 .4h.7m-.6-.5h.7m-.6 .9h.7m-.7-1h.7m-.7 .8h.7m-.4 .2h.7m-.7-.4h.7m-.6-.2h.7m-.6 .1h.7m-.3-.1h.7m-.7 0h.7m.1-.2h.7m.4 .2h.7m-.5-.3h.7m.5 .5h.7m0-.4h.7m.4 .7h.7m-.5-.1h.7m3.4 .1h.7m-53 .9h.7m-.5-.7h.7m-.6 .2h.7m-.4-.1h.7m-.7 .6h.7m-.6 0h.7m-.6-.1h.7m-.7-.6h.7m-.1 .9h.7m-.7-.1h.7m.4-.6h.7m-.5-.2h.7m-.6 .2h.7m.1 .3h.7m.8-.4h.7m-.5 .7h.7m-.4-.8h.7m.5-.1h.7m-.3 .7h.7m-.7 .2h.7m-.3-.3h.7m-.5 .3h.7m-.4-.1h.7m-.1-.2h.7m-.5-.4h.7m-.2 .6h.7m-.7-.2h.7m-.7-.1h.7m-.6 .1h.7m-.6 .2h.7m.1-.2h.7m-.4-.4h.7m1.1 .5h.7m-.5 .2h.7m0-.5h.7m-.3 0h.7m.1 .5h.7m-.5-.6h.7m-.3 .6h.7m-.5-.1h.7m.1-.4h.7m-.4 0h.7m.1 .6h.7m-.6-.5h.7m0-.1h.7m-.6-.1h.7m-.6 .2h.7m-.5-.1h.7m3.3-.3h.7m.3 .6h.7m.9-.6h.7m11.2 .6h.7m-.4-.2h.7m-.3 .4h.7m.4-.4h.7m.5-.4h.7m-.2 .1h.7m-.7 .3h.7m-.4-.1h.7m-.5 .5h.7m.1 0h.7m-.6-.5h.7m-.6 .2h.7m-.5-.5h.7m-.7 .5h.7m-.2-.5h.7m.4 .7h.7m-.3-.1h.7m.1-.1h.7m-.5-.4h.7m1.8 .5h.7m-46.9 .4h.7m-.5 .2h.7m-.6-.2h.7m-.6 .1h.7m.4-.2h.7m6.1 .4h.7m-.3-.1h.7m.4-.1h.7m-.3-.2h.7m-.6 .2h.7m-.7-.1h.7m-.3 .2h.7m0 .2h.7m.4 0h.7m0-.2h.7m-.5-.3h.7m-.2 .4h.7m-.7-.2h.7m-.3 .4h.7m-.6-.5h.7m-.7 .4h.7m-.4 .1h.7m-.5-.4h.7m0 .5h.7m-.3 .1h.7m.1 0h.7m-.7 .1h.7m-.6-.2h.7m.2-.5h.7m.7-.2h.7m-.3 .6h.7m0 0h.7m6.1 0h.7m-.1-.1h.7m3.4 .5h.7m-.4-.8h.7m2 .1h.7m.1-.1h.7m-.3 .3h.7m1.9 .5h.7m.1-.5h.7m0 .4h.7m.7-.6h.7m-.6 .1h.7m-.6 .1h.7m-.5 0h.7m-.6 .1h.7m.9-.1h.7m-.6 .3h.7m.6-.7h.7m-.6 .8h.7m-32.2 .2h.7m1.5 .8h.7m1.1-.6h.7m-.6 .6h.7m-.6 0h.7m-.4-.9h.7m5.5 .1h.7m4.7 .1h.7m1.2 .3h.7m2.4 .3h.7m-.4 .1h.7m-.5-.5h.7m1 .5h.7m-.5-.6h.7m.3-.1h.7m.4 .3h.7m.1 .1h.7m-.1-.1h.7m-.7 .1h.7m-.4 0h.7m-.7-.4h.7m1 .4h.7m-.2 .1h.7m.8-.3h.7m-.2-.3h.7m.7 .3h.7m.9 .2h.7m-32 .6h.7m1.9 .5h.7m0-.3h.7m-.1-.3h.7m-.6 .8h.7m5.2-.9h.7m9.4 .1h.7m-.3 .3h.7m-.2 .4h.7m-.3-.8h.7m.3 1h.7m.1 0h.7m-.5-.3h.7m-.1-.7h.7m-.7 .6h.7m-.7-.6h.7m-.5 .7h.7m.4 .2h.7m-.5-.2h.7m1.8-.2h.7m-.2-.2h.7m-26.2 1.1h.7m.1 .1h.7m1.6-.4h.7m-.1 .7h.7m8.3 .1h.7m3-.4h.7m0 .4h.7m-.2-.1h.7m-.6-.5h.7m-.2 0h.7m.4 .4h.7m0-.1h.7m-.3-.4h.7m.2-.1h.7m.7 .8h.7m-.2 .1h.7m-.5-.3h.7m.3-.1h.7m-26.2 1h.7m1.2 .3h.7m.4-.2h.7m1.5-.5h.7m3-.1h.7m6.9 .3h.7m-.2 0h.7m1.4 .2h.7m-.5-.2h.7m-.6 .6h.7m.6-.7h.7m.1 .5h.7m.8 .1h.7m.2-.2h.7m1.9-.3h.7m-.1 .5h.7m-24.4 .8h.7m2.7 .2h.7m1.7-.7h.7m4.3 0h.7m1.7 .5h.7m-.1-.6h.7m-.5 0h.7m.5 0h.7m-.7 .2h.7m.1 .6h.7m.2-.5h.7m.1 .6h.7m-.5-.5h.7m-.5-.2h.7m.1-.2h.7m.4 .7h.7m-.2-.8h.7m-21.3 1.2h.7m3.5 0h.7m.4 .6h.7m-.3-.7h.7m3 .3h.7m2 .5h.7m-.1-.1h.7m-.2 .1h.7m-.4-.7h.7m-.5-.2h.7m-.5 1h.7m-.3-.1h.7m-.4-.4h.7m-.1 .4h.7m-.7-.8h.7m-.5 .5h.7m-.4 0h.7m0 .1h.7m-.3 0h.7m-.6-.5h.7m-.1-.1h.7m-.4 .2h.7m-.7 .5h.7m-.5 0h.7m.6-.2h.7m1-.1h.7m-21.6 1h.7m6.2 0h.7m5 .5h.7m-.3-.9h.7m.8 .7h.7m-.2-.3h.7m-.4 .3h.7m-.7 0h.7m0 .1h.7m1.2-.1h.7m-.4 .1h.7m-.5-.7h.7m-.7 .3h.7m-.4-.1h.7m-.5-.4h.7m-.7 .7h.7m.1-.3h.7m-.5-.4h.7m-20.3 1.4h.7m1.6-.2h.7m2.7 .2h.7m4.9 .4h.7m-.1-.3h.7m-.5-.2h.7m-.5 .3h.7m-.2-.3h.7m-.6 .6h.7m-.2-.4h.7m-.5 .3h.7m-.7 0h.7m-.2 0h.7m-.6-.3h.7m.4-.4h.7m-.6 .6h.7m-.6-.6h.7m-.4 .1h.7m-.4 0h.7m1.2 .6h.7m-.5-.2h.7m.6 0h.7m-.6 .1h.7m-.2 .1h.7m.1-.1h.7m-21.5 .9h.7m-.4 .1h.7m3.4-.2h.7m5.4 .2h.7m.5-.1h.7m-.3-.1h.7m.5-.3h.7m0 .6h.7m-.7-.1h.7m-.5-.2h.7m-.6 .1h.7m-.3-.3h.7m5.9 .1h.7m-22.5 1.4h.7m.3 0h.7m.2-.4h.7m.8 .3h.7m.9-.3h.7m4.6 .4h.7m1.2-.7h.7m-.2 .2h.7m.4 .1h.7m-.1 .5h.7m-.6-.2h.7m3.9-.5h.7m-.5-.1h.7m-.7 .3h.7m-.5-.3h.7m-.5-.1h.7m-.7 .2h.7m-.7 .4h.7m-.6-.1h.7m-.6-.4h.7m-.2 .1h.7m-.6 .6h.7m-.3-.1h.7m-.6-.3h.7m.5 .2h.7m-21.7 .5h.7m-.6 0h.7m.7 .2h.7m-.6-.2h.7m1.2 .7h.7m-.4-.3h.7m1.2-.4h.7m.1 .1h.7m.6-.1h.7m-.5 .6h.7m1 .1h.7m.3-.5h.7m-.2 .3h.7m-.6 0h.7m-.2-.3h.7m-.2-.1h.7m-.7 .6h.7m-.6 0h.7m-.4-.5h.7m-.6 0h.7m-.5 .1h.7m-.5-.2h.7m4.6 .1h.7m.9 .3h.7m1.9 .4h.7m-23.9 1h.7m-.4-1h.7m-.4 .1h.7m.1 .4h.7m.6 .2h.7m-.1-.6h.7m0 .1h.7m.5 .4h.7m-.2-.4h.7m.6 0h.7m.2 0h.7m.8-.1h.7m.6 .7h.7m.3-.2h.7m-.1 .2h.7m6.1-.5h.7m-.4-.3h.7m-.1 1h.7m-.6-.4h.7m-.5 .3h.7m.4-.5h.7m-22.3 .9h.7m1.2-.3h.7m-.2 .7h.7m-.3-.4h.7m.4-.1h.7m.3-.1h.7m2 .2h.7m1.4 .3h.7m0 .3h.7m-.1 0h.7m-.2 .1h.7m0-.5h.7m-.4 .3h.7m-.5-.2h.7m6.5 .4h.7m-.4-.7h.7m.1 .3h.7m-.4 .3h.7m-21.7 .8h.7m-.3-.5h.7m-.7 .6h.7m-.4 0h.7m.2-.4h.7m.2 .4h.7m-.6 0h.7m1.7-.3h.7m.7-.5h.7m.1 .1h.7m1.6 .7h.7m.1 0h.7m-.1-.4h.7m.1 .2h.7m-.3-.4h.7m-.6 .2h.7m6.2 0h.7m-.4 .1h.7m1.6 0h.7m-.5-.1h.7m-.5 .1h.7m-22.8 1.1h.7m.1 .4h.7m1.2-.2h.7m-.3-.2h.7m1.7-.4h.7m-.6 .4h.7m0-.1h.7m1.9 .5h.7m-.5-.8h.7m1.3 0h.7m-.4 .6h.7m-.6 0h.7m-.2 0h.7m-.7-.2h.7m-.3 .2h.7m5.3-.6h.7m-.6 .3h.7m-.3 .3h.7m-.3-.8h.7m1.1 .4h.7m.3-.4h.7m-.4 0h.7m-22.5 1.8h.7m.7 0h.7m-.7-.2h.7m.4-.4h.7m0 .4h.7m-.1 0h.7m-.7 0h.7m-.6-.1h.7m.2 .2h.7m1.7-.3h.7m-.3-.3h.7m.3 .7h.7m1.1-.3h.7m-.4-.2h.7m.1 0h.7m-.7 .2h.7m5.4-.4h.7m-.5 0h.7m-.7 .4h.7m-.2 .3h.7m-.6-.7h.7m-.5-.1h.7m0 .9h.7m3.5-.2h.7m-24.4 .9h.7m0-.2h.7m-.2 .3h.7m-.4-.1h.7m.6 .1h.7m-.6-.5h.7m-.6 .5h.7m.1 .2h.7m-.5-.1h.7m-.4-.5h.7m-.2 .2h.7m.4-.2h.7m1.3 .7h.7m.6-.3h.7m.3-.5h.7m-.2 .5h.7m.5-.5h.7m5.2 .7h.7m-.6-.3h.7m-.7-.2h.7m-.6 .3h.7m-.6-.1h.7m-.4-.5h.7m-.5 .5h.7m-.5-.1h.7m1-.3h.7m-19.9 .9h.7m-.3 .9h.7m1.9 0h.7m1.3-.8h.7m2.2 .8h.7m-.1-.6h.7m-.5-.4h.7m.1 .2h.7m0 .3h.7m-.3-.4h.7m5.2 .3h.7m.2 .2h.7m-.4 0h.7m-.3-.6h.7m-.2 .7h.7m-20.6 .7h.7m-.7 .6h.7m-.2-.4h.7m0 0h.7m-.7 .1h.7m0-.3h.7m-.3 0h.7m-.4 .3h.7m-.1-.3h.7m-.6 .3h.7m-.6 .1h.7m-.6-.4h.7m0 .4h.7m5.2 .1h.7m-.7-.1h.7m-.6-.2h.7m.2 .3h.7m-.6 0h.7m-.7 0h.7m-.3-.3h.7m-.6-.5h.7m-.5 .1h.7m4.8 .5h.7m.6 .1h.7m-19.8 1.2h.7m-.1-.1h.7m-.4-.1h.7m-.7-.7h.7m-.7 0h.7m.2 .8h.7m.1-.3h.7m-.6-.4h.7m0-.2h.7m-.6 .9h.7m-.1-.8h.7m1 .1h.7m3.5 .7h.7m0-.1h.7m-.7-.6h.7m-.6 .1h.7m-.1 .1h.7m-.2 .4h.7m-.5-.2h.7m-.4 0h.7m4.3 .2h.7m-.1-.2h.7m-.4 .4h.7m-.2-.3h.7m-.3-.5h.7m.2 0h.7m-.3 .8h.7m-17.8 .8h.7m1.1-.2h.7m0 0h.7m0-.4h.7m-.3 .7h.7m-.7-.6h.7m1.8 .2h.7m-.1 .3h.7m-.4-.6h.7m.4 .3h.7m-.6 .3h.7m-.6-.3h.7m-.3 0h.7m-.6 .1h.7m-.6-.1h.7m-.6-.3h.7m-.5 0h.7m3.5 .8h.7m-.7-.7h.7m0 .4h.7m0 .1h.7m-17.7 .3h.7m-.1 .5h.7m-.2-.4h.7m1.3 .4h.7m-.1-.4h.7m-.6 .1h.7m.7 0h.7m.7-.3h.7m.8 .7h.7m1.3 .2h.7m.1-.6h.7m-.6 .5h.7m-.6-.1h.7m-.6-.7h.7m-.5 .2h.7m-.7 0h.7m-.5 .6h.7m-.7-.3h.7m-.7 .1h.7m2.9 .4h.7m1.2-.4h.7m-.4 .3h.7m-.6-.8h.7m-19.2 1.8h.7m4.1-.2h.7m-.7-.5h.7m-.6 .6h.7m-.6-.5h.7m-.3 .2h.7m2.2 0h.7m-.4 .3h.7m2.8 .2h.7m-.3-.3h.7m1.7 0h.7m-.2-.1h.7m-.5-.2h.7m-.7 .4h.7m-.3 .1h.7m-.7-.8h.7m-.5 .4h.7m-.6-.2h.7m.3 .3h.7m-.7-.4h.7m-17.9 1.5h.7m-.3 .1h.7m-.7-.2h.7m-.6 .2h.7m-.6-.5h.7m-.5-.3h.7m-.6 .8h.7m.5-.4h.7m1.1-.3h.7m.5-.1h.7m2.9 .2h.7m1.4 .1h.7m.1 0h.7m.2 .2h.7m.1 .5h.7m1.4-.3h.7m-.1 .2h.7m.1-.5h.7m-.7 .3h.7m3.9-.1h.7m-22.8 .9h.7m1.5 .1h.7m1.1-.5h.7m.5 .8h.7m.5-.5h.7m3.4 0h.7m-.1 .2h.7m-.3-.3h.7m-.4-.3h.7m-.6 .5h.7m-.7-.4h.7m0 .2h.7m-.7-.3h.7m-.6 .1h.7m-.5-.1h.7m.1 .6h.7m-.5-.5h.7m0 .1h.7m-.5 .1h.7m.3-.2h.7m-.3 0h.7m-.7 .2h.7m-.7 .4h.7m-.4-.7h.7m-.1 .4h.7m-.3 .3h.7m-.5-.4h.7m1.1-.2h.7m-18 1h.7m1.3 .5h.7m-.1-.5h.7m4.4 .4h.7m4.2-.3h.7" fill="none" stroke="#161616" stroke-width="0.8" stroke-opacity="0.78"/>
<g clip-path="url(#cb3)">
<path d="M30 519.3L31.1 517.96L32.67 517.78L34.49 518.25L36.34 518.89L38 519.2L39.46 519.18L40.87 519.16L42.25 519.14L43.62 519.12L45 519.1L46.42 519.07L47.85 519.03L49.27 518.99L50.66 518.98L52 519L53.29 519.05L54.54 519.13L55.76 519.23L56.91 519.39L58 519.6L59.02 519.87L59.98 520.19L60.88 520.56L61.72 521L62.5 521.5L63.22 522.08L63.88 522.74L64.48 523.45L65.02 524.21L65.5 525L65.91 525.82L66.26 526.68L66.55 527.58L66.79 528.52L67 529.5L67.16 530.53L67.26 531.6L67.32 532.72L67.36 533.85L67.4 535L67.43 536.17L67.43 537.36L67.42 538.58L67.41 539.79L67.4 541L67.4 542.2L67.4 543.4L67.4 544.6L67.4 545.8L67.4 547L67.4 548.18L67.4 549.35L67.4 550.53L67.4 551.74L67.4 553L67.68 554.45L68.24 556.06L68.65 557.66L68.51 559.03L67.4 560L65.08 560.45L61.82 560.5L57.98 560.34L53.92 560.11L50 560L45.85 560.32L41.23 560.96L36.68 561.44L32.76 561.28L30 560L28.72 557.29L28.56 553.47L29.04 549.01L29.68 544.36L30 540L29.87 535.58L29.62 530.78L29.42 526.13L29.49 522.13Z" fill="#efefef" stroke="#262626" stroke-width=".85"/>
<clipPath id="bb4"><path d="M30 519.3L31.1 517.96L32.67 517.78L34.49 518.25L36.34 518.89L38 519.2L39.46 519.18L40.87 519.16L42.25 519.14L43.62 519.12L45 519.1L46.42 519.07L47.85 519.03L49.27 518.99L50.66 518.98L52 519L53.29 519.05L54.54 519.13L55.76 519.23L56.91 519.39L58 519.6L59.02 519.87L59.98 520.19L60.88 520.56L61.72 521L62.5 521.5L63.22 522.08L63.88 522.74L64.48 523.45L65.02 524.21L65.5 525L65.91 525.82L66.26 526.68L66.55 527.58L66.79 528.52L67 529.5L67.16 530.53L67.26 531.6L67.32 532.72L67.36 533.85L67.4 535L67.43 536.17L67.43 537.36L67.42 538.58L67.41 539.79L67.4 541L67.4 542.2L67.4 543.4L67.4 544.6L67.4 545.8L67.4 547L67.4 548.18L67.4 549.35L67.4 550.53L67.4 551.74L67.4 553L67.68 554.45L68.24 556.06L68.65 557.66L68.51 559.03L67.4 560L65.08 560.45L61.82 560.5L57.98 560.34L53.92 560.11L50 560L45.85 560.32L41.23 560.96L36.68 561.44L32.76 561.28L30 560L28.72 557.29L28.56 553.47L29.04 549.01L29.68 544.36L30 540L29.87 535.58L29.62 530.78L29.42 526.13L29.49 522.13Z"/></clipPath>
<g clip-path="url(#bb4)">
<path d="M30.8 520.93L31.84 519.67L33.32 519.49L35.02 519.94L36.76 520.54L38.32 520.83L39.7 520.81L41.02 520.79L42.32 520.78L43.6 520.76L44.9 520.74L46.24 520.71L47.58 520.67L48.92 520.63L50.23 520.62L51.48 520.64L52.69 520.7L53.88 520.76L55.01 520.86L56.1 521.01L57.12 521.21L58.08 521.46L58.99 521.76L59.83 522.11L60.62 522.52L61.35 522.99L62.03 523.54L62.65 524.16L63.22 524.83L63.72 525.54L64.17 526.28L64.56 527.05L64.89 527.86L65.16 528.71L65.39 529.59L65.58 530.51L65.73 531.48L65.83 532.49L65.89 533.54L65.93 534.6L65.96 535.68L65.98 536.78L65.99 537.91L65.98 539.05L65.97 540.19L65.96 541.32L65.96 542.45L65.96 543.58L65.96 544.71L65.96 545.84L65.96 546.96L65.96 548.08L65.96 549.17L65.96 550.28L65.96 551.42L65.96 552.6L66.22 553.97L66.75 555.48L67.14 556.98L67.01 558.27L65.96 559.18L63.77 559.61L60.71 559.66L57.11 559.5L53.29 559.29L49.6 559.18L45.7 559.48L41.36 560.09L37.09 560.54L33.4 560.39L30.8 559.18L29.6 556.64L29.45 553.05L29.9 548.85L30.5 544.49L30.8 540.38L30.68 536.22L30.44 531.72L30.26 527.35L30.32 523.59ZM31.61 522.55L32.58 521.37L33.96 521.21L35.56 521.63L37.18 522.19L38.65 522.46L39.94 522.45L41.18 522.43L42.39 522.41L43.59 522.39L44.81 522.38L46.05 522.35L47.31 522.31L48.57 522.28L49.79 522.27L50.97 522.29L52.1 522.34L53.21 522.4L54.27 522.49L55.29 522.63L56.25 522.82L57.15 523.05L57.99 523.33L58.78 523.66L59.52 524.05L60.21 524.49L60.84 525L61.42 525.58L61.95 526.21L62.43 526.87L62.85 527.57L63.21 528.29L63.52 529.05L63.77 529.84L63.99 530.67L64.17 531.53L64.31 532.43L64.4 533.38L64.45 534.36L64.49 535.36L64.52 536.37L64.54 537.4L64.55 538.45L64.54 539.51L64.53 540.58L64.52 541.65L64.52 542.7L64.52 543.76L64.52 544.82L64.52 545.87L64.52 546.93L64.52 547.97L64.52 549L64.52 550.03L64.52 551.1L64.52 552.21L64.76 553.48L65.25 554.9L65.62 556.31L65.5 557.52L64.52 558.37L62.47 558.76L59.61 558.81L56.23 558.66L52.66 558.47L49.21 558.37L45.55 558.65L41.49 559.21L37.49 559.64L34.04 559.49L31.61 558.37L30.48 555.98L30.34 552.62L30.76 548.7L31.33 544.61L31.61 540.77L31.5 536.87L31.27 532.66L31.1 528.56L31.16 525.04Z" fill="none" stroke="#6e6e6e" stroke-width=".45"/>
<path d="M50.2 536.5a2.3 1.84 0 1 0 4.6 0a2.3 1.84 0 1 0 -4.6 0M47.7 536.5a4.8 3.84 0 1 0 9.6 0a4.8 3.84 0 1 0 -9.6 0M45.2 536.5a7.3 5.84 0 1 0 14.6 0a7.3 5.84 0 1 0 -14.6 0M42.7 536.5a9.8 7.84 0 1 0 19.6 0a9.8 7.84 0 1 0 -19.6 0M40.2 536.5a12.3 9.84 0 1 0 24.6 0a12.3 9.84 0 1 0 -24.6 0M37.7 536.5a14.8 11.84 0 1 0 29.6 0a14.8 11.84 0 1 0 -29.6 0M35.2 536.5a17.3 13.84 0 1 0 34.6 0a17.3 13.84 0 1 0 -34.6 0" fill="none" stroke="#6e6e6e" stroke-width=".45"/>
</g>
<path d="M44.5 513V546.4" stroke="#1a1a1a" stroke-width="1.1"/>
</g>
<path d="M86.27 534.88L86.18 535.49L86.07 536.11L85.94 536.72L85.8 537.31L85.64 537.88L85.48 538.42L85.3 538.95L85.11 539.46L84.91 539.94L84.7 540.37L84.49 540.76L84.27 541.12L84.05 541.45L83.82 541.73L83.59 541.96L83.37 542.15L83.14 542.29L82.92 542.38L82.7 542.43L82.49 542.42L82.28 542.37L82.08 542.26L81.89 542.11L81.71 541.91L81.55 541.68L81.4 541.39L81.26 541.06L81.13 540.68L81.02 540.27L80.92 539.84L80.85 539.36L80.78 538.85L80.74 538.31L80.71 537.75L80.7 537.18L80.71 536.6L80.74 535.99L80.79 535.36L80.85 534.74L80.93 534.12L81.02 533.51L81.13 532.89L81.26 532.28L81.4 531.69L81.56 531.12L81.72 530.58L81.9 530.05L82.09 529.54L82.29 529.06L82.5 528.63L82.71 528.24L82.93 527.88L83.15 527.55L83.38 527.27L83.61 527.04L83.83 526.85L84.06 526.71L84.28 526.62L84.5 526.57L84.71 526.58L84.92 526.63L85.12 526.74L85.31 526.89L85.49 527.09L85.65 527.32L85.8 527.61L85.94 527.94L86.07 528.32L86.18 528.73L86.28 529.16L86.35 529.64L86.42 530.15L86.46 530.69L86.49 531.25L86.5 531.82L86.49 532.4L86.46 533.01L86.41 533.64L86.35 534.26Z" fill="#fff" stroke="#2a2a2a" stroke-width="0.7"/>
<clipPath id="cb5"><rect x="43.8" y="552.75" width="75" height="73.7"/></clipPath>
<path d="M92 564.9h.7m1.8 2.8h.7m.4 .8h.7m4.4 .3h.7m-11 2.4h.7m-6.4 1.1h.7m2.6-.6h.7m6.6-.1h.7m-8.2 1.3h.7m3.9-.1h.7m1.3 1.5h.7m-18.7 1h.7m.4-.4h.7m4.7 .2h.7m9.1-.4h.7m-8.8 1.6h.7m5.9-.7h.7m-27.1 2.9h.7m24.4-.3h.7m1.9-.1h.7m12.2-.6h.7m-47.1 1.8h.7m26.9 .4h.7m-.6 .1h.7m10.2-.2h.7m-10.7 1.4h.7m-25.6 1.4h.7m24.1-.4h.7m6.4 .9h.7m-50.2 1h.7m19.4 .2h.7m9-.5h.7m14.8 .6h.7m1.9-.4h.7m-.1 0h.7m-41.9 1.5h.7m21.8 .2h.7m11.6-.2h.7m3.1-.1h.7m9-.5h.7m-44.8 1.7h.7m-12.4 .6h.7m9.8-.3h.7m-.4 .4h.7m9 .1h.7m-.5-.6h.7m5.8 .5h.7m12.3-.5h.7m2.3 0h.7m-41.6 1.1h.7m10.4 .4h.7m19.5-.3h.7m-28.8 1.7h.7m27-.4h.7m13.8 .3h.7m-40.7 .6h.7m5.6 .3h.7m1.5-.1h.7m9 .2h.7m3.9-.7h.7m1.3 .5h.7m-19.9 .6h.7m2.4 .3h.7m1.1-.4h.7m-18.9 1.7h.7m7.6-.8h.7m-.6 .8h.7m4.1-.4h.7m7.5-.1h.7m8.4 .4h.7m5.6-.1h.7m-34.4 .8h.7m-.6 .1h.7m0-.6h.7m.1 .7h.7m.5 .1h.7m1-.1h.7m2.3-.4h.7m.3 .3h.7m1 .1h.7m2.3 .2h.7m6.9-.7h.7m14 0h.7m-37.6 1.4h.7m.2-.5h.7m-.3 .4h.7m12.3 .1h.7m4-.4h.7m2.8 0h.7m3.4 0h.7m.4 .4h.7m.1 0h.7m-27.6 1.3h.7m2.1-.3h.7m-.4 .1h.7m1.9 .1h.7m-.4-.5h.7m1.9 .5h.7m1.7-.7h.7m.4 .4h.7m3.3-.3h.7m5 .7h.7m3.3-.4h.7m4.8-.5h.7m9 .4h.7m3.1-.1h.7m-46.2 1.4h.7m-.5-.5h.7m-.2 .5h.7m6.3-.6h.7m2 .6h.7m.6-.2h.7m1.1-.1h.7m5.7 .5h.7m-.4-.5h.7m-.4 .4h.7m-.1-.1h.7m6.2-.5h.7m10.1 .2h.7m14.1-.3h.7m-.5 .7h.7m-55.9 1h.7m3.5-.5h.7m1.2 .2h.7m-.2 .4h.7m0-.7h.7m1.7 0h.7m-.3 .5h.7m-.3 .1h.7m5.6-.7h.7m-.2 .3h.7m5.8-.1h.7m3.2 .6h.7m-.5-.2h.7m4.2-.2h.7m-32.1 .6h.7m3.1 .4h.7m-.6-.3h.7m.6-.1h.7m2.5 .7h.7m1.2-.3h.7m1.2 .2h.7m3.2 .1h.7m2.3-.7h.7m3 .7h.7m5.6 .1h.7m21.6-.3h.7m-53.2 1h.7m2.5-.2h.7m-.7 .5h.7m-.2-.8h.7m.6 0h.7m.9 .6h.7m-.5-.3h.7m-.1 .3h.7m.4-.1h.7m-.4-.2h.7m-.4 .1h.7m-.6 0h.7m-.7 .3h.7m.7-.3h.7m-.5 .1h.7m.4-.1h.7m1.4-.5h.7m1.8 .8h.7m4.2 .1h.7m-.3 .1h.7m.1-.6h.7m1-.2h.7m.6 .6h.7m.4 .1h.7m-.4 0h.7m11.4-.3h.7m-39.9 1.1h.7m-.2 .3h.7m.1-.7h.7m-.7-.3h.7m1 1h.7m.2-.5h.7m.3 0h.7m-.1-.1h.7m2.5-.3h.7m2.6 .3h.7m2.3 0h.7m2.4 .5h.7m.3-.5h.7m1.3-.3h.7m1.9-.1h.7m.7 .9h.7m.8 .1h.7m.1-.5h.7m1.9 .3h.7m1.1-.2h.7m5.8-.3h.7m1.8 .4h.7m2.8-.2h.7m0 .4h.7m2.9-.3h.7m-51.4 .7h.7m1.1-.2h.7m.2 0h.7m0 .3h.7m.3-.3h.7m1.5 .5h.7m-.5 .3h.7m4.1-.2h.7m-.2-.2h.7m-.1 .2h.7m-.5-.2h.7m-.4 0h.7m-.2 .1h.7m-.6-.4h.7m-.3 .2h.7m2-.4h.7m.9 .8h.7m-.5-.1h.7m-.1 0h.7m7.3-.1h.7m3 0h.7m3.5-.4h.7m6.7 .3h.7m14.2-.3h.7m-57.8 1.1h.7m-.4-.1h.7m-.5 .4h.7m-.4-.1h.7m0-.1h.7m1.7-.2h.7m2.8-.1h.7m-.3 .2h.7m1 .1h.7m.1 .2h.7m-.7 0h.7m-.6 .4h.7m1.2-.9h.7m1.6 .6h.7m-.3-.6h.7m-.4 .5h.7m-.6 .2h.7m.8 .1h.7m.3-.3h.7m-.3-.3h.7m-.5 .6h.7m-.5-.1h.7m1.9-.2h.7m-.4 0h.7m.2-.2h.7m3.1 .4h.7m0 .1h.7m3.2 .1h.7m-31.3 1h.7m.2-.9h.7m.1 .1h.7m-.6 .3h.7m.1-.3h.7m-.4 .3h.7m.9 .4h.7m-.5-.3h.7m-.5 .3h.7m.6-.7h.7m3.9 .1h.7m.8 .1h.7m-.6 .4h.7m-.5-.4h.7m-.7 .6h.7m0-.4h.7m2.4-.4h.7m1.2 .3h.7m2.8-.5h.7m-.5 .8h.7m.5-.2h.7m-.7 .4h.7m.8-.2h.7m43.7-.6h.7m-69.9 1.2h.7m2.3 .3h.7m-.7-.6h.7m-.6 .9h.7m.5-.9h.7m-.5-.1h.7m-.3 .1h.7m-.7 .4h.7m1 .4h.7m-.6-.2h.7m2.5 .2h.7m-.3-.4h.7m-.4 .1h.7m.1 .1h.7m.8-.1h.7m-.3 .1h.7m1.5 0h.7m3.2-.7h.7m0 .8h.7m-.4-.3h.7m1.1 .1h.7m-.1-.4h.7m-.2-.2h.7m0 0h.7m7.2 .9h.7m5.1-.1h.7m.4 .2h.7m-38.1 0h.7m1 .3h.7m-.1 .3h.7m.3-.2h.7m-.5 .5h.7m-.4-.8h.7m-.4 .9h.7m1.8-.8h.7m.3-.1h.7m-.7 .8h.7m-.7-.6h.7m-.5 0h.7m-.3-.3h.7m.2 .8h.7m.4-.7h.7m4 .8h.7m-.1-.3h.7m-.3 .2h.7m1.5-.4h.7m-.1 .3h.7m2.4 0h.7m.5-.7h.7m2.1 .2h.7m.4 .6h.7m.2-.1h.7m-.7-.1h.7m5.8-.2h.7m10.6 .6h.7m-48.1 .7h.7m0 .2h.7m2.7-.5h.7m-.3 .3h.7m.1 .1h.7m1.5-.1h.7m-.1 .1h.7m0-.6h.7m-.7 0h.7m1.7 .6h.7m1.2-.6h.7m.5-.1h.7m1.4 .6h.7m-.5-.1h.7m-.3 .3h.7m-.3-.8h.7m-.5 .8h.7m-.6-.8h.7m.1 .2h.7m-.1 .2h.7m-.4 .1h.7m.4-.4h.7m1.5 .1h.7m-.2 .3h.7m1.7-.3h.7m-.1 .4h.7m2.2-.7h.7m.6 .6h.7m-.6 0h.7m.3-.5h.7m1.5 .5h.7m.4-.1h.7m.2 .3h.7m.1 0h.7m13.8-.7h.7m-50.9 1.1h.7m-.5 .7h.7m-.7-.4h.7m-.3-.3h.7m.9 .4h.7m.2-.3h.7m.2 .6h.7m2-.8h.7m-.4 0h.7m-.6 .4h.7m-.5 .2h.7m-.2 .3h.7m1.2-.2h.7m0-.8h.7m-.6 .3h.7m1.2 .3h.7m1.8-.6h.7m3 .2h.7m6.8 .1h.7m-26.9 .8h.7m-.6 .6h.7m1.1-.4h.7m-.1 .2h.7m1.6-.1h.7m-.6 0h.7m-.2-.3h.7m.3 .2h.7m-.7 .2h.7m-.5-.3h.7m-.5 .6h.7m-.1-.6h.7m-.3 .5h.7m-.6-.3h.7m.6-.1h.7m.2-.3h.7m-.6 1h.7m-.5-.6h.7m.7 .5h.7m.1-.6h.7m-.6 .1h.7m-.2 0h.7m-.5 .4h.7m-.6-.4h.7m-.4 .1h.7m-.4 .1h.7m-.2 .1h.7m0-.5h.7m-.4 .5h.7m-.3-.5h.7m-.3 0h.7m-.6 .3h.7m13 .4h.7m11.7-.2h.7m21.6 .3h.7m-64.6 .8h.7m-.6 .1h.7m-.6-.1h.7m-.4-.3h.7m-.6-.1h.7m1.9 .2h.7m-.3-.3h.7m.4-.2h.7m-.1 .4h.7m-.4 .4h.7m-.2-.5h.7m.3 .6h.7m2-.9h.7m1.9 .7h.7m-.6 .1h.7m-.7 0h.7m.7-.6h.7m-.6 .4h.7m.2 .3h.7m-.4-.6h.7m-.2-.2h.7m-.6-.1h.7m1 .3h.7m-.7-.2h.7m6.3 .4h.7m-.3 .3h.7m3.3-.4h.7m.8-.4h.7m6.2 .7h.7m1.2-.1h.7m3.3 0h.7m.7-.1h.7m-46.5 1h.7m-.4 .2h.7m-.6-.4h.7m.4 .3h.7m-.4 .3h.7m.9 0h.7m-.5-.1h.7m-.5-.4h.7m-.1 0h.7m-.4 .4h.7m-.3-.9h.7m1.1 .7h.7m-.4-.6h.7m-.6 .3h.7m-.4-.1h.7m.4 0h.7m-.6-.3h.7m.1 .9h.7m-.2-.9h.7m-.1 .3h.7m-.5-.2h.7m.7 .9h.7m0-.4h.7m-.7-.3h.7m-.4-.2h.7m-.7 .5h.7m-.2 .3h.7m.2 0h.7m-.6-.2h.7m-.3-.5h.7m.5-.2h.7m3.5 .8h.7m.2-.2h.7m.3-.4h.7m5.8 .5h.7m2.8 .1h.7m1.3-.4h.7m-.2-.1h.7m4.8-.2h.7m.2 .7h.7m-.6-.8h.7m16.2 .3h.7m-58.8 .9h.7m1.3 .3h.7m-.5-.4h.7m-.6-.1h.7m-.4 0h.7m-.5 .4h.7m2.3-.2h.7m-.5 .2h.7m2.5 0h.7m-.3-.3h.7m1.5-.1h.7m-.5 .3h.7m0 .3h.7m-.2-.5h.7m-.3 .9h.7m-.2-.9h.7m-.5 .9h.7m-.6-.7h.7m-.4 .6h.7m.5-.4h.7m-.5-.4h.7m.8 .4h.7m3 .5h.7m15.1-.7h.7m.3 .7h.7m1.3-.3h.7m-.6-.2h.7m-24.6 .7h.7m-.4 .6h.7m-.5-.1h.7m.6-.2h.7m-.5-.3h.7m-.6 0h.7m-.6 .3h.7m-.6-.2h.7m-.4 .5h.7m-.7-.1h.7m.5-.4h.7m-.4 .2h.7m-.4 0h.7m15.7-.2h.7m-.7 0h.7m1 .1h.7m-.5-.1h.7m-.7 .4h.7m1-.2h.7m0 0h.7m-.3-.1h.7m-.7 .1h.7m2.7 .3h.7m-27.9 .7h.7m.4-.5h.7m1.5 .9h.7m-.4 0h.7m.2-.8h.7m11.4 .7h.7m2.6-.2h.7m.8-.4h.7m-.3 .4h.7m.4-.4h.7m.6-.2h.7m-24.7 1.2h.7m-.4 .7h.7m-.4-.7h.7m-.5 .4h.7m1.8 0h.7m12.5 0h.7m-.2 .1h.7m-.2 0h.7m-.1-.1h.7m-.5-.1h.7m-.5-.1h.7m-.2 .1h.7m1.7 .1h.7m-.5-.1h.7m.1-.5h.7m0 .6h.7m1.6 .1h.7m.8-.5h.7m.2 .4h.7m-.4 .3h.7m-27.9 .7h.7m.2-.2h.7m.5 .4h.7m-.6-.5h.7m1.5-.2h.7m5.8 .2h.7m1.5-.2h.7m2.2 0h.7m-.6 .5h.7m-.1-.5h.7m-.4 .6h.7m-.4-.6h.7m.6 .5h.7m.8-.5h.7m-.5 .1h.7m-.7 .2h.7m-.7-.2h.7m.8 .1h.7m-.6 .6h.7m-.6 0h.7m.6-.1h.7m-.5-.3h.7m-.4 0h.7m.1-.3h.7m.7 0h.7m-24.8 1.4h.7m0-.2h.7m.1 0h.7m8.7-.4h.7m.2 .6h.7m1.3 0h.7m-.3 .2h.7m-.5-.8h.7m-.3 .5h.7m.4 0h.7m-.5 .5h.7m-.3-.3h.7m.5-.2h.7m-.5-.1h.7m-.2 .5h.7m-.5-.7h.7m-.6 .3h.7m-.5 .3h.7m-.4 .1h.7m-.4-.7h.7m.5 .3h.7m-.4 .3h.7m-.6-.5h.7m.9 .3h.7m0 .3h.7m-.1-.7h.7m1.9 0h.7m-28.2 1.8h.7m-.3-1h.7m-.3 .9h.7m2.3 .1h.7m10.1-.7h.7m-.3 .6h.7m-.4 .1h.7m-.4-.7h.7m-.2-.2h.7m-.4 .5h.7m-.4 .1h.7m-.5 .2h.7m0-.7h.7m-.6 .3h.7m-.5-.2h.7m0 .1h.7m-.4-.3h.7m-.7 .9h.7m-.6-.3h.7m-.1 .2h.7m-.6-.4h.7m-.7 .1h.7m-.6 .4h.7m-.6-.4h.7m-.3 .3h.7m-.2-.1h.7m-.6-.1h.7m-.7-.2h.7m-.6 .3h.7m-.6 .1h.7m-.3-.4h.7m-.7 0h.7m-.4-.3h.7m-.3 .1h.7m.8 .6h.7m.1 0h.7m-.3-.2h.7m2.7-.6h.7m-28.4 1h.7m.9 .8h.7m10.5-.7h.7m1.9 .4h.7m-.6 0h.7m-.6-.5h.7m-.6 .4h.7m-.7 .3h.7m-.6-.4h.7m-.4 0h.7m-.5 .5h.7m-.3-.5h.7m-.7 .6h.7m-.7-.9h.7m-.3 .9h.7m-.5-.7h.7m-.7 .2h.7m-.2-.1h.7m-.6-.2h.7m-.7-.1h.7m-.4 .1h.7m-.6 .7h.7m-.5-.4h.7m-.6-.3h.7m-.3 0h.7m-.6 .7h.7m-.7-.3h.7m-.7-.1h.7m-.3 .1h.7m-.7 0h.7m-.7-.5h.7m.8 .5h.7m-.4 .3h.7m-.3 .1h.7m-.6-.7h.7m-.6-.2h.7m-.6 .8h.7m-.7-.6h.7m-.7 .5h.7m-.6 .2h.7m.4-.8h.7m-.7 .6h.7m-.5-.6h.7m-.1-.2h.7m-.6 .6h.7m.9 .1h.7m-27.5 1.2h.7m-.6-.7h.7m-.1 .3h.7m-.3 .5h.7m-.5-.7h.7m12.1 0h.7m-.4 .2h.7m-.6 .5h.7m.7-.4h.7m-.5-.2h.7m-.4 0h.7m-.6 0h.7m-.1-.4h.7m-.7 .6h.7m-.4 .2h.7m-.5-.6h.7m-.5 .5h.7m-.7-.6h.7m-.5 .6h.7m-.5 .3h.7m-.6-.3h.7m-.6-.6h.7m-.6-.1h.7m1.9 .1h.7m-.3 .3h.7m-.6-.1h.7m-.5 .2h.7m-.4-.1h.7m-.7 .4h.7m-.6-.6h.7m-.7 .7h.7m-.4-.4h.7m-.5 .1h.7m-.5 .4h.7m-.3-.9h.7m-.6-.1h.7m-.5 .2h.7m-.6 .8h.7m-.6-.9h.7m-.6 .7h.7m-.2-.7h.7m-.2 .2h.7m4.5 .1h.7m-30.4 .7h.7m-.5 .5h.7m11.2 0h.7m0 .2h.7m.6 0h.7m-.1-.7h.7m-.1 .1h.7m-.3 .7h.7m-.4-.8h.7m-.6-.1h.7m-.5 .3h.7m-.3 .4h.7m-.5 .3h.7m-.6 0h.7m-.5-.3h.7m-.7-.7h.7m-.3 .3h.7m3.2 0h.7m-.7-.2h.7m-.5 .3h.7m-.7-.3h.7m-.3 .7h.7m-.7-.5h.7m-.6 0h.7m-.6 .3h.7m-.4-.5h.7m-.6 .4h.7m-.5 .2h.7m-23.8 .5h.7m2.2 .6h.7m8.4-.5h.7m1.5-.2h.7m0 .4h.7m-.4 0h.7m0 .4h.7m-.7-.7h.7m-.6 0h.7m-.6 .3h.7m-.4-.4h.7m-.6 .6h.7m-.6 .1h.7m-.2-.3h.7m4-.3h.7m-.4-.2h.7m-.2 .2h.7m-.2 .2h.7m0-.4h.7m-.5 .9h.7m-.5-.9h.7m-.6 .8h.7m.6-.4h.7m-26.3 1.6h.7m1.1-.5h.7m10.7-.1h.7m1.5 .3h.7m-.5-.4h.7m0 .3h.7m-.5-.1h.7m-.4 .4h.7m-.4-.8h.7m-.7 .1h.7m-.6 .7h.7m-.7-.4h.7m-.7-.2h.7m-.6-.2h.7m-.7 .6h.7m-.5-.7h.7m-.7 .3h.7m3.7 .1h.7m-.1 .5h.7m-.4-.2h.7m-.5-.6h.7m0 .1h.7m-.2 .5h.7m2.5 0h.7m-28.7 1.3h.7m0-.3h.7m14 .3h.7m-.3-.8h.7m-.2 0h.7m-.5 .7h.7m-.5-.2h.7m-.5-.2h.7m-.2-.4h.7m-.6 .7h.7m.3-.3h.7m3.1 .4h.7m-.4-.4h.7m-.5 .3h.7m-.7 .1h.7m-.7-.3h.7m-.4 .4h.7m.2-.4h.7m-.4-.2h.7m-.7 .4h.7m1.2-.4h.7m-26.3 .9h.7m-.6 .6h.7m-.7-.5h.7m1.3 .2h.7m1.2-.1h.7m9.9 .1h.7m-.1-.5h.7m.4-.1h.7m-.6 .4h.7m.1-.2h.7m-.7 .5h.7m-.7 0h.7m-.6 .2h.7m-.7-.8h.7m.3 .4h.7m-.6-.2h.7m-.4 .1h.7m-.6 .3h.7m-.6 0h.7m-.6 0h.7m-.6-.4h.7m-.4 .4h.7m-.5 .1h.7m-.5-.3h.7m-.7 .2h.7m-.5 .1h.7m-.4 .1h.7m-.5-.5h.7m-.4-.1h.7m-.5 .4h.7m-.6-.3h.7m-.7-.1h.7m-.4 .3h.7m-.3-.6h.7m-.6 .9h.7m-.7 .1h.7m-.4-1h.7m-.6 .1h.7m.6 .4h.7m-.7 .3h.7m.6 .1h.7m-26.1 .5h.7m2.7-.1h.7m8.4-.1h.7m1.1 .3h.7m-.3-.2h.7m.6 .3h.7m-.3 .3h.7m0-.5h.7m-.5 .4h.7m1.1 .1h.7m-.6-.7h.7m-.3-.1h.7m-.6-.1h.7m-.7 .8h.7m-.5-.7h.7m.1 .4h.7m-.5 .2h.7m-.3-.6h.7m-.6 .2h.7m.2-.2h.7m-.2 .6h.7m-.6-.5h.7m-.5 .2h.7m-.6 .4h.7m-.7-.7h.7m-.2 .5h.7m1.1-.5h.7m-26.5 1h.7m16.4-.1h.7m4.3 .1h.7" fill="none" stroke="#161616" stroke-width="0.8" stroke-opacity="0.78"/>
<g clip-path="url(#cb5)">
<path d="M30 611.5L31.07 610.62L32.58 610.5L34.34 610.8L36.21 611.21L38 611.4L39.74 611.38L41.53 611.36L43.35 611.33L45.18 611.31L47 611.3L48.88 611.28L50.84 611.26L52.76 611.25L54.52 611.26L56 611.3L57.14 611.36L58.01 611.42L58.71 611.52L59.34 611.67L60 611.9L60.69 612.18L61.35 612.49L61.96 612.88L62.52 613.37L63 614L63.41 614.81L63.76 615.79L64.05 616.86L64.26 617.95L64.4 619L64.44 620L64.37 621L64.25 622L64.12 623L64 624L63.9 625L63.79 626L63.68 627L63.58 628L63.5 629L63.44 629.97L63.39 630.9L63.35 631.86L63.32 632.87L63.3 634L63.5 635.38L63.92 636.99L64.25 638.61L64.15 640.02L63.3 641L61.6 641.45L59.26 641.5L56.44 641.34L53.3 641.11L50 641L46.11 641.26L41.52 641.77L36.88 642.15L32.83 642.02L30 641L28.72 638.78L28.56 635.63L29.04 631.99L29.68 628.3L30 625L29.87 621.93L29.62 618.78L29.42 615.82L29.49 613.3Z" fill="#efefef" stroke="#262626" stroke-width=".85"/>
<clipPath id="bb6"><path d="M30 611.5L31.07 610.62L32.58 610.5L34.34 610.8L36.21 611.21L38 611.4L39.74 611.38L41.53 611.36L43.35 611.33L45.18 611.31L47 611.3L48.88 611.28L50.84 611.26L52.76 611.25L54.52 611.26L56 611.3L57.14 611.36L58.01 611.42L58.71 611.52L59.34 611.67L60 611.9L60.69 612.18L61.35 612.49L61.96 612.88L62.52 613.37L63 614L63.41 614.81L63.76 615.79L64.05 616.86L64.26 617.95L64.4 619L64.44 620L64.37 621L64.25 622L64.12 623L64 624L63.9 625L63.79 626L63.68 627L63.58 628L63.5 629L63.44 629.97L63.39 630.9L63.35 631.86L63.32 632.87L63.3 634L63.5 635.38L63.92 636.99L64.25 638.61L64.15 640.02L63.3 641L61.6 641.45L59.26 641.5L56.44 641.34L53.3 641.11L50 641L46.11 641.26L41.52 641.77L36.88 642.15L32.83 642.02L30 641L28.72 638.78L28.56 635.63L29.04 631.99L29.68 628.3L30 625L29.87 621.93L29.62 618.78L29.42 615.82L29.49 613.3Z"/></clipPath>
<g clip-path="url(#bb6)">
<path d="M30.8 612.42L31.81 611.6L33.23 611.48L34.89 611.76L36.64 612.14L38.32 612.33L39.96 612.31L41.64 612.28L43.35 612.26L45.08 612.25L46.78 612.23L48.55 612.22L50.39 612.2L52.2 612.19L53.85 612.2L55.24 612.23L56.31 612.29L57.13 612.35L57.79 612.44L58.39 612.58L59 612.8L59.65 613.06L60.27 613.35L60.85 613.72L61.37 614.18L61.82 614.77L62.21 615.54L62.54 616.45L62.81 617.46L63.01 618.49L63.14 619.47L63.17 620.41L63.12 621.35L63 622.29L62.87 623.23L62.76 624.17L62.67 625.11L62.57 626.05L62.47 626.99L62.37 627.93L62.29 628.87L62.24 629.78L62.19 630.66L62.15 631.56L62.13 632.51L62.11 633.57L62.29 634.87L62.69 636.38L63 637.9L62.9 639.23L62.11 640.15L60.51 640.57L58.31 640.62L55.66 640.47L52.71 640.26L49.6 640.15L45.95 640.39L41.64 640.87L37.27 641.23L33.46 641.11L30.8 640.15L29.6 638.07L29.45 635.11L29.9 631.68L30.5 628.21L30.8 625.11L30.68 622.22L30.44 619.26L30.26 616.48L30.32 614.12ZM31.61 613.34L32.55 612.57L33.87 612.46L35.43 612.72L37.07 613.08L38.65 613.25L40.18 613.23L41.75 613.21L43.36 613.19L44.97 613.18L46.57 613.17L48.22 613.15L49.95 613.13L51.64 613.12L53.19 613.13L54.49 613.17L55.49 613.22L56.26 613.28L56.87 613.36L57.43 613.5L58.01 613.69L58.61 613.94L59.19 614.22L59.74 614.56L60.22 614.99L60.65 615.54L61.01 616.26L61.32 617.12L61.57 618.06L61.76 619.02L61.88 619.94L61.91 620.82L61.86 621.7L61.75 622.58L61.63 623.46L61.53 624.34L61.44 625.22L61.35 626.1L61.25 626.98L61.16 627.86L61.09 628.74L61.03 629.59L60.99 630.42L60.96 631.26L60.93 632.15L60.91 633.14L61.09 634.36L61.46 635.77L61.75 637.2L61.66 638.44L60.91 639.3L59.41 639.7L57.36 639.75L54.88 639.6L52.11 639.4L49.21 639.3L45.78 639.53L41.75 639.98L37.66 640.32L34.1 640.2L31.61 639.3L30.48 637.35L30.34 634.58L30.76 631.37L31.33 628.12L31.61 625.22L31.5 622.52L31.27 619.75L31.1 617.14L31.16 614.93Z" fill="none" stroke="#6e6e6e" stroke-width=".45"/>
<path d="M50.2 620.5a2.3 1.66 0 1 0 4.6 0a2.3 1.66 0 1 0 -4.6 0M47.7 620.5a4.8 3.46 0 1 0 9.6 0a4.8 3.46 0 1 0 -9.6 0M45.2 620.5a7.3 5.26 0 1 0 14.6 0a7.3 5.26 0 1 0 -14.6 0M42.7 620.5a9.8 7.06 0 1 0 19.6 0a9.8 7.06 0 1 0 -19.6 0M40.2 620.5a12.3 8.86 0 1 0 24.6 0a12.3 8.86 0 1 0 -24.6 0M37.7 620.5a14.8 10.66 0 1 0 29.6 0a14.8 10.66 0 1 0 -29.6 0M35.2 620.5a17.3 12.46 0 1 0 34.6 0a17.3 12.46 0 1 0 -34.6 0" fill="none" stroke="#6e6e6e" stroke-width=".45"/>
</g>
<path d="M44.5 610.3V626.85" stroke="#1a1a1a" stroke-width="1.1"/>
</g>
<path d="M86.5 621L86.49 621.28L86.46 621.56L86.4 621.84L86.33 622.1L86.25 622.35L86.14 622.58L86.01 622.8L85.87 623.01L85.71 623.19L85.55 623.34L85.38 623.46L85.19 623.56L84.99 623.64L84.79 623.68L84.6 623.7L84.41 623.68L84.21 623.64L84.01 623.56L83.82 623.46L83.65 623.34L83.49 623.19L83.33 623.01L83.19 622.8L83.06 622.58L82.95 622.35L82.87 622.1L82.8 621.84L82.74 621.56L82.71 621.28L82.7 621L82.71 620.72L82.74 620.44L82.8 620.16L82.87 619.9L82.95 619.65L83.06 619.42L83.19 619.2L83.33 618.99L83.49 618.81L83.65 618.66L83.82 618.54L84.01 618.44L84.21 618.36L84.41 618.32L84.6 618.3L84.79 618.32L84.99 618.36L85.19 618.44L85.38 618.54L85.55 618.66L85.71 618.81L85.87 618.99L86.01 619.2L86.14 619.42L86.25 619.65L86.33 619.9L86.4 620.16L86.46 620.44L86.49 620.72Z" fill="#fff" stroke="#2a2a2a" stroke-width="0.7"/>
<clipPath id="cb7"><rect x="124.2" y="391.9" width="75" height="73.7"/></clipPath>
<path d="M136.3 405.3h.7m-8.4 5.8h.7m18.5 6.5h.7m-3.5 1.7h.7m-5.2 .7h.7m-7.8 1.8h.7m-3.2 .7h.7m-4.7 1.2h.7m3.3 .1h.7m2.8 2.1h.7m13.6 .4h.7m11.3-.3h.7m-20.7 .8h.7m-12.3 1.5h.7m2.3-.4h.7m9.6 .6h.7m1.1-.5h.7m10.1 .4h.7m-27.6 .9h.7m1.9-.4h.7m-.2 .5h.7m3.9-.9h.7m.5 .6h.7m15.1-.3h.7m5.6 0h.7m-32 1.6h.7m-.4-.8h.7m.9 .9h.7m30.1-.7h.7m3.4 0h.7m-33.8 1.5h.7m8.8-.2h.7m1.8 .3h.7m7.3-.7h.7m6 .2h.7m1.3 0h.7m1.5 .4h.7m-.2-.3h.7m-.6 .2h.7m.2 .2h.7m3.5-.7h.7m-37.7 1.7h.7m.2-.7h.7m16.8 .6h.7m6.9-.2h.7m.4-.4h.7m2.9 .1h.7m-.2 0h.7m-.5 .2h.7m1.6 .2h.7m.4-.2h.7m.8 .2h.7m-39.9 1.2h.7m.7-.2h.7m2-.1h.7m1-.1h.7m.3 .3h.7m24.7 .1h.7m1.3-.4h.7m.5-.4h.7m1 .5h.7m2.5-.6h.7m-43.3 1.5h.7m32.2 .3h.7m-.7-.6h.7m.9 .3h.7m.9-.1h.7m-.5 .4h.7m-.6 .1h.7m.8 0h.7m-.3-.4h.7m-.5 0h.7m-.7 .4h.7m1.7 0h.7m1.8-.2h.7m-34.3 .3h.7m5.3 .5h.7m.5-.3h.7m3.3 .5h.7m7.2 .1h.7m1.2-.3h.7m-.2 0h.7m-.6-.5h.7m.2 .6h.7m-.5 0h.7m1-.3h.7m.2-.2h.7m-.1 .1h.7m-.6-.2h.7m-.2 0h.7m-.6 .4h.7m-.7-.1h.7m.6 0h.7m-.7 .3h.7m-.3-.2h.7m2.7 .5h.7m2.1-.9h.7m-45.6 1.9h.7m9.5-.3h.7m1.6 .3h.7m0-.4h.7m2-.3h.7m15.5 .3h.7m-.5 .1h.7m-.3-.2h.7m-.7-.1h.7m1.2 .2h.7m-.5 .5h.7m.2-.3h.7m-.6-.4h.7m-.5 0h.7m-.6 .5h.7m-.7-.4h.7m-.6 .1h.7m-.1 .4h.7m.7-.9h.7m-.4 .7h.7m-.4-.1h.7m.3-.5h.7m-.3 .6h.7m-.3 .1h.7m.3-.4h.7m.1-.3h.7m-42.5 1.2h.7m5.9 .4h.7m4.3 .2h.7m13.4-.3h.7m4.6 .1h.7m.3 .1h.7m.4-.3h.7m-.1 0h.7m-.7-.2h.7m-.2 .1h.7m-.6-.3h.7m-.6 .6h.7m-.5 0h.7m-.3-.2h.7m-.5 .1h.7m-.4-.2h.7m-.2 .1h.7m-.4 .4h.7m-.3-.7h.7m-.7 .3h.7m-.1-.4h.7m.5 .6h.7m-.3-.3h.7m.2 0h.7m-.7 .5h.7m1.8 0h.7m-40.6 .8h.7m7.4-.1h.7m13.1-.5h.7m3.3 .9h.7m-.6-.9h.7m4.1 .8h.7m-.2-.3h.7m-.5-.4h.7m0 .2h.7m-.3 .3h.7m-.4 .2h.7m-.5-.4h.7m-.5-.1h.7m-.5 .5h.7m-.4-.5h.7m-.5 .3h.7m-.5-.6h.7m-.7 .6h.7m-.2-.5h.7m-.5 0h.7m-.6 .1h.7m-.2-.1h.7m0-.1h.7m-.5 .8h.7m-.1 0h.7m.2-.3h.7m-42 .7h.7m9.1 .3h.7m20.9 .3h.7m1.2-.7h.7m.2 .4h.7m.1-.6h.7m-.6 .3h.7m-.7-.1h.7m0-.2h.7m-.7 .7h.7m-.3 .1h.7m.3-.2h.7m-.7-.5h.7m-.4 .6h.7m-.2-.4h.7m.2-.2h.7m-.7 .1h.7m-.7 0h.7m-.3-.2h.7m-.1 .5h.7m-.5-.1h.7m-.1 .5h.7m-.3 0h.7m-.5-.8h.7m-38 1h.7m.5 0h.7m18.2 .3h.7m7.4 .1h.7m1.5-.3h.7m-.3 .5h.7m1.1-.3h.7m-.7 0h.7m-.2-.1h.7m-.6 .3h.7m-.3-.3h.7m.2 0h.7m-.4-.2h.7m-.6 0h.7m-.2 .7h.7m-.7-.5h.7m.8 .3h.7m-.3-.4h.7m.6 .1h.7m-39.8 .7h.7m7.8 .1h.7m18.6 0h.7m-.6 .6h.7m1.2-.4h.7m.2 .6h.7m.2-.4h.7m.1 .2h.7m-.1 .2h.7m.8-.2h.7m-.7-.5h.7m-.2 .4h.7m-.1-.1h.7m-.3-.4h.7m.3 .5h.7m.5-.2h.7m-39 .6h.7m5.3 .9h.7m-.5-.2h.7m5.3-.2h.7m0 .2h.7m2.2 .3h.7m2.9-.2h.7m8.4 0h.7m1.4-.4h.7m-.6-.4h.7m-.6 1h.7m0 0h.7m-.4-.9h.7m-.6 .8h.7m.4-.6h.7m-.5-.1h.7m-.3 0h.7m0 .5h.7m-.7-.5h.7m-.6 .2h.7m4.3 .1h.7m.2 .5h.7m.4-.6h.7m-33 .8h.7m3.7-.1h.7m12.8 .9h.7m4.2-.4h.7m-.1-.3h.7m.2 .7h.7m1.3-.9h.7m2.5 .6h.7m-35.3 1.2h.7m8.9-.8h.7m.6 .6h.7m7.6-.5h.7m7.5 .6h.7m2.7-.5h.7m2.7 .4h.7m-40.3 .7h.7m.6 0h.7m10.3 .4h.7m4.6-.6h.7m2.4 .2h.7m4.2 .4h.7m-.5-.7h.7m3.9 .9h.7m0-.7h.7m3.4-.2h.7m1.8 .4h.7m-39.3 .9h.7m5.5-.3h.7m9.2 .9h.7m-.6-.1h.7m-.5-.2h.7m-.2 0h.7m1.5-.1h.7m2.4 .4h.7m2.3-.4h.7m1.2-.1h.7m6.9-.4h.7m-.4 .6h.7m2.6-.4h.7m1.9 .5h.7m2.2-.5h.7m.7 .4h.7m-30.1 .8h.7m1.4-.3h.7m.3 .1h.7m0-.2h.7m.3 .8h.7m8.2-.3h.7m-.1-.4h.7m4.6 .4h.7m-.5-.6h.7m1.6 .9h.7m1.3-.1h.7m.7-.3h.7m.1 .5h.7m-25.3 .6h.7m8.4 .1h.7m-.2-.7h.7m.6 .5h.7m.6 .1h.7m2.5-.3h.7m3.2 .6h.7m1.1-.6h.7m-.4-.2h.7m-.5 .9h.7m-.7-.2h.7m0-.8h.7m0 .1h.7m.1 .1h.7m0 .8h.7m-.4-.5h.7m-.2 .4h.7m.3-.7h.7m-25.3 1h.7m-.4 .6h.7m.7-.5h.7m1.3 .4h.7m.1-.1h.7m2-.2h.7m4.5-.2h.7m2.2 .7h.7m1-.6h.7m-.1 .5h.7m-.3-.2h.7m.2-.5h.7m-.3 .4h.7m-.6-.3h.7m-.4-.1h.7m-.5 .6h.7m-.5 .1h.7m-.3 .1h.7m-.3-.1h.7m-.6-.3h.7m.5-.3h.7m.5 .7h.7m-.6-.4h.7m-23.7 1h.7m-.5-.4h.7m-.4 .1h.7m-.4 .5h.7m-.3-.4h.7m.3 0h.7m-.3-.2h.7m1.3 0h.7m1.5-.1h.7m2.7 .4h.7m0 .3h.7m.9-.5h.7m.4 .1h.7m-.5 .5h.7m2.1-.5h.7m.1 .1h.7m-.6-.3h.7m.3 0h.7m-.1 .9h.7m-.6-.4h.7m-.7 .1h.7m-.6 .3h.7m-.6-.8h.7m-.1 .6h.7m-.4-.4h.7m-.6 0h.7m0 .4h.7m-.5-.7h.7m-.6 .7h.7m-.1 0h.7m1.9-.7h.7m-24.8 1.3h.7m1.7 0h.7m-.4 .4h.7m-.2-.2h.7m.1 .2h.7m.2-.5h.7m-.7-.2h.7m.2 .7h.7m-.4-.4h.7m-.2 .2h.7m.7-.2h.7m.5 .2h.7m3-.3h.7m1.9 .7h.7m-.7-.8h.7m-.5 .7h.7m1.3-.9h.7m-.7 .6h.7m-.3 .2h.7m-.1-.1h.7m-.5-.2h.7m-.5 .2h.7m-.7 .2h.7m-.5-.1h.7m-.6 0h.7m-.6-.3h.7m-.4 .1h.7m-.6 .4h.7m-.2-.8h.7m-.7-.1h.7m-.5 .4h.7m-.5-.5h.7m-.7 .3h.7m1 .7h.7m.9-.9h.7m-24.8 1.1h.7m-.5 .5h.7m-.7-.5h.7m-.7-.1h.7m.3 .4h.7m-.2-.1h.7m-.6 .5h.7m-.5-.6h.7m1.4 .6h.7m-.7-.2h.7m-.6-.4h.7m-.3 .3h.7m-.5 0h.7m.6 .2h.7m-.4 .1h.7m-.4-.7h.7m.2 .6h.7m.4 0h.7m-.4-.4h.7m2.3 .5h.7m-.7 0h.7m3.3 0h.7m-.4-.4h.7m-.3-.2h.7m-.4 .1h.7m-.5 .6h.7m-.6-.4h.7m-.3-.2h.7m-.6 .3h.7m-.7-.3h.7m-.6 .3h.7m-.7-.4h.7m-.5-.2h.7m-.7 .4h.7m-.6 .4h.7m-.7-.6h.7m-.6 .2h.7m.6-.3h.7m-.5 .2h.7m-.7-.2h.7m-.4 0h.7m-.6 0h.7m-.6 .6h.7m-.6-.8h.7m-.6 .7h.7m-.5-.4h.7m-.6 0h.7m-.3 .4h.7m-.3-.3h.7m-.5 .2h.7m-.6-.3h.7m.3 .1h.7m.6 0h.7m-24.1 .6h.7m-.1 .7h.7m-.1-.5h.7m-.7 .7h.7m-.5 .1h.7m-.1-.3h.7m.8-.6h.7m.2 .4h.7m-.2-.2h.7m.1 .4h.7m-.4 0h.7m-.7-.2h.7m.2 0h.7m-.5 .2h.7m-.2-.6h.7m0 .7h.7m.6-.2h.7m.6 .2h.7m1.2-.3h.7m.9 .4h.7m-.6-.2h.7m-.6 .1h.7m-.4 0h.7m-.4-.8h.7m-.4 .9h.7m-.3-.2h.7m.5-.4h.7m1.5-.3h.7m-.5 .5h.7m-.7 0h.7m-.6-.3h.7m-.7 .3h.7m-.6-.4h.7m-.6 .2h.7m-.5 0h.7m-.6 .2h.7m-.5-.3h.7m-.3 .1h.7m-.6 .5h.7m.6-.5h.7m0-.2h.7m.2 .6h.7m2.1-.4h.7m-27.6 1.3h.7m0 .1h.7m0-.1h.7m-.6-.3h.7m-.4-.2h.7m-.6 0h.7m-.3-.1h.7m-.4 .3h.7m-.4 .2h.7m0 .1h.7m-.3 .1h.7m.1 .2h.7m-.6-.1h.7m-.5-.2h.7m-.7 .2h.7m-.3 .1h.7m0 .1h.7m.9-.3h.7m-.1 0h.7m3.9-.3h.7m-.5 .5h.7m-.2 0h.7m-.6-.3h.7m1-.3h.7m-.2 .6h.7m-.6-.7h.7m-.7 .4h.7m0-.2h.7m-.7-.2h.7m-.7 .3h.7m-.7 .4h.7m-.6-.8h.7m-.6 0h.7m-.7 .9h.7m-.7-.5h.7m-.6-.1h.7m-.5 .3h.7m-.7-.4h.7m1.8-.1h.7m-.6 .1h.7m-.6 .2h.7m-.6-.4h.7m-.6 .5h.7m-.6 .1h.7m-.4-.5h.7m-.7 .4h.7m-.6-.4h.7m-.3-.1h.7m-.7 .7h.7m0-.4h.7m.2-.2h.7m-.3 .4h.7m-.2-.5h.7m-.1 .5h.7m-.4 .4h.7m-.5-.4h.7m-.7 .2h.7m-25.3 .2h.7m.1 .3h.7m-.1 .5h.7m-.4-.2h.7m-.6 .3h.7m-.4-.9h.7m-.6 .7h.7m0 .3h.7m-.4-.6h.7m-.6-.1h.7m-.5 .1h.7m-.3 .6h.7m-.1-.9h.7m-.4 .7h.7m-.6-.3h.7m-.3-.4h.7m-.4 .1h.7m-.5 .6h.7m-.7 0h.7m-.3 .2h.7m-.3-.5h.7m1 .4h.7m1.7-.2h.7m1-.2h.7m-.2-.2h.7m.1-.1h.7m1.7 .5h.7m-.4 .1h.7m-.7 0h.7m-.6-.1h.7m-.6-.2h.7m-.4-.2h.7m-.6 .3h.7m-.6-.2h.7m-.6-.3h.7m2.1 .7h.7m-.5-.1h.7m-.6-.5h.7m-.6-.1h.7m-.6 .2h.7m-.6 .4h.7m-.7 .1h.7m-.4-.3h.7m-.2 .1h.7m-.2-.1h.7m-.3-.4h.7m-.7 .6h.7m.7-.2h.7m-23.3 1.1h.7m-.4 0h.7m-.6-.1h.7m-.4 .1h.7m-.6-.6h.7m-.4 .1h.7m-.5 .7h.7m.2-.1h.7m-.6-.5h.7m-.3 .2h.7m-.2 .1h.7m-.2 .2h.7m-.3 .3h.7m-.1-.8h.7m-.5 0h.7m-.5 .3h.7m.6 .1h.7m0 .3h.7m4.8-.5h.7m.3 .1h.7m0-.2h.7m0 .6h.7m-.6-.6h.7m-.6-.2h.7m-.6 .5h.7m-.1 .2h.7m2.5-.7h.7m-.4 .8h.7m-.2-.6h.7m-.4-.1h.7m-.3 0h.7m-.6 .1h.7m0 .5h.7m-.3-.4h.7m-.5 .4h.7m1.6-.1h.7m-.7-.7h.7m-.1 .1h.7m-26.4 1.7h.7m-.6-.3h.7m-.5-.4h.7m0 .5h.7m-.5 0h.7m-.5 .2h.7m-.5-.4h.7m-.6 .4h.7m.8-.1h.7m1.6 0h.7m-.6-.3h.7m-.7 .2h.7m-.6-.1h.7m-.5 0h.7m-.4 0h.7m-.6 .2h.7m.2-.6h.7m-.6 .2h.7m-.2 .6h.7m.1-.6h.7m.6 .6h.7m2-.5h.7m-.4-.1h.7m1.2 .6h.7m-.5-.1h.7m-.5-.4h.7m-.3-.3h.7m-.5-.1h.7m-.6 .5h.7m-.4 .5h.7m-.6-.3h.7m-.6-.1h.7m-.7-.3h.7m-.6 .4h.7m2.9 0h.7m-.4-.2h.7m3.7-.4h.7m-25.4 1.7h.7m-.1 .1h.7m-.1-.4h.7m-.6-.5h.7m-.5 .2h.7m-.5 .6h.7m-.6-.1h.7m.6-.1h.7m-.1 .1h.7m-.7-.1h.7m-.7 0h.7m-.1 0h.7m-.1-.2h.7m-.7 .5h.7m-.3-.6h.7m-.6-.2h.7m-.4 .3h.7m-.6 .5h.7m.6-.3h.7m-.2-.1h.7m-.4-.3h.7m2.4-.1h.7m-.7 .8h.7m-.4-.1h.7m2-.6h.7m0 .6h.7m-.7-.6h.7m-.7 .5h.7m.2 .1h.7m-.1-.3h.7m3 .4h.7m-.4-.1h.7m-.3-.7h.7m-.6 .8h.7m.1-.5h.7m-.2-.3h.7m-.5 .1h.7m-.2 0h.7m.4 .4h.7m-24.9 1.4h.7m.4 0h.7m-.7-.3h.7m3.1 0h.7m.4-.1h.7m-.4-.6h.7m-.4 .2h.7m-.1 .4h.7m.4 .2h.7m.4-.2h.7m2.7-.4h.7m-.1 .2h.7m-.6 0h.7m-.6 0h.7m-.6 0h.7m-.6 .4h.7m.1-.2h.7m0-.3h.7m-.7 .4h.7m-.6-.3h.7m-.3-.2h.7m-.6 .1h.7m0 .6h.7m-.7-.9h.7m-.5 .1h.7m-.5 .6h.7m3-.3h.7m-.6 .5h.7m-.7-.2h.7m0 .1h.7m1-.2h.7m.4-.6h.7m-.7 .4h.7m-23.6 1.4h.7m-.6-.2h.7m-.6 .3h.7m-.5-.7h.7m-.5 .4h.7m-.5-.3h.7m0 .5h.7m-.5-.1h.7m-.6-.1h.7m.4-.4h.7m-.5 .2h.7m-.1 0h.7m-.6-.2h.7m-.6 0h.7m.2 0h.7m-.3 .4h.7m2 .1h.7m-.1-.4h.7m-.5 .4h.7m3.9 0h.7m0 .2h.7m-.7-.9h.7m-.1 0h.7m-.7 .6h.7m0 .4h.7m-.6-.3h.7m2.6-.2h.7m-.6 .3h.7m-.6-.2h.7m-.6 0h.7m-.6 .3h.7m-.7-.6h.7m-.3 .3h.7m-.5-.2h.7m-.7 .3h.7m-.5-.3h.7m-.7 .6h.7m-.6-.7h.7m-.7 .7h.7m-.5-.7h.7m1 .6h.7m3.7-.1h.7m-27.8 .3h.7m-.2 .2h.7m0-.2h.7m.1 .7h.7m-.2-.4h.7m-.7 .2h.7m-.7-.1h.7m-.6 .4h.7m-.1-.9h.7m-.6 .2h.7m.4-.1h.7m-.6 .8h.7m-.6-.6h.7m-.6 0h.7m-.4 .3h.7m-.5 0h.7m-.6-.5h.7m-.6 .7h.7m.1-.5h.7m-.7-.2h.7m-.1 .4h.7m0 .1h.7m-.4-.1h.7m3.2 .2h.7m1.1-.2h.7m-.5 .3h.7m-.1-.6h.7m0 .3h.7m-.3 .5h.7m-.5-.4h.7m-.4-.2h.7m-.3-.4h.7m-.6 .9h.7m-.7 .1h.7m-.6 0h.7m2.1-.6h.7m-.7 .1h.7m-.4-.1h.7m-.2 .5h.7m-.7 0h.7m-.7 0h.7m-.5-.6h.7m.2 .3h.7m-.7 .2h.7m-.3-.4h.7m-.6 .6h.7m-.1-.4h.7m-.1 .1h.7m.8-.4h.7m-24.8 1.5h.7m-.3-.4h.7m-.6 .3h.7m-.5-.5h.7m-.6 .2h.7m-.6 .1h.7m1 .1h.7m-.2-.2h.7m0 0h.7m-.1 0h.7m-.1-.3h.7m-.6 .3h.7m.1 .3h.7m-.3-.2h.7m3.7 .3h.7m1.5 0h.7m-.1-.5h.7m-.4 .4h.7m-.6-.1h.7m.1 .4h.7m-.4-.9h.7m-.6 0h.7m.2 .1h.7m-.7 .3h.7m-.6-.3h.7m-.6 .7h.7m-.5-.4h.7m-.7-.2h.7m1.9-.2h.7m-.2 .5h.7m-.7-.6h.7m-.6 .1h.7m-.3 .7h.7m-.3 .2h.7m-.5-.8h.7m-.4 .4h.7m-.2 .4h.7m-.6-.7h.7m-.4 .1h.7m-22.7 .8h.7m-.6 .1h.7m-.6 .5h.7m-.7-.6h.7m-.4 .6h.7m-.6 .1h.7m.4 .1h.7m-.3-.6h.7m-.4 .6h.7m1.4 0h.7m3.2-.7h.7m0 .1h.7m-.5 .2h.7m2.5-.3h.7m.7 .6h.7m-.1 .1h.7m-.4-.1h.7m-.7-.8h.7m-.2 .3h.7m-.7-.2h.7m-.6 .1h.7m-.5-.2h.7m-.3 .9h.7m-.6-.2h.7m-.5-.7h.7m-.7 0h.7m-.4 .2h.7m-.6-.3h.7m1.3 .1h.7m-.6 .1h.7m-.6 .2h.7m-.6 .1h.7m-.1 .1h.7m-.5 0h.7m-.6 .1h.7m-.5 0h.7m-.4-.6h.7m-.3 0h.7m.2 .4h.7m.1-.2h.7m-23.2 1.1h.7m1.3 .2h.7m.5 .1h.7m-.5-.2h.7m-.5 0h.7m.5 .3h.7m-.7 .1h.7m1 0h.7m-.5 0h.7m-.4-.4h.7m-.3-.4h.7m-.1-.1h.7m-.4 .8h.7m3.1 0h.7m2-.4h.7m-.2 0h.7m-.6 .2h.7m-.5-.4h.7m-.7 .7h.7m-.6-.7h.7m-.4 .5h.7m-.7-.5h.7m-.6 .3h.7m-.6-.1h.7m-.6 .2h.7m-.5 .4h.7m-.2-.4h.7m-.6-.5h.7m-.7 .6h.7m-.6-.1h.7m-.5-.1h.7m0 0h.7m-.1 .4h.7m-.5-.2h.7m-.5-.4h.7m-.5 .4h.7m-.5-.5h.7m-.6 .1h.7m-.7 0h.7m-.5-.2h.7m-.6 .7h.7m.1-.5h.7m-21.7 .9h.7m-.6-.2h.7m1.3 .2h.7m13 .1h.7m.1-.2h.7m-.5 0h.7m.1 .2h.7m-.7 0h.7m-.3-.1h.7m-.3-.1h.7m-.2 .1h.7m1.9 0h.7m1.1 .1h.7" fill="none" stroke="#161616" stroke-width="0.8" stroke-opacity="0.78"/>
<g clip-path="url(#cb7)">
<path d="M110.4 446.6L111.47 445.42L112.98 445.28L114.74 445.72L116.61 446.31L118.4 446.6L120.14 446.6L121.93 446.59L123.75 446.59L125.58 446.59L127.4 446.6L129.26 446.62L131.17 446.65L133.05 446.68L134.82 446.73L136.4 446.8L137.77 446.87L138.98 446.95L140.06 447.05L141.03 447.19L141.9 447.4L142.65 447.68L143.28 448L143.8 448.38L144.27 448.82L144.7 449.3L145.1 449.84L145.44 450.42L145.73 451.06L145.98 451.76L146.2 452.5L146.37 453.31L146.5 454.18L146.58 455.1L146.65 456.05L146.7 457L146.73 457.95L146.74 458.92L146.72 459.9L146.71 460.93L146.7 462L146.7 463.14L146.7 464.33L146.7 465.55L146.7 466.78L146.7 468L146.7 469.2L146.7 470.4L146.7 471.6L146.7 472.8L146.7 474L146.96 475.3L147.48 476.69L147.87 478.03L147.74 479.18L146.7 480L144.54 480.38L141.53 480.43L137.97 480.29L134.16 480.1L130.4 480L126.32 480.24L121.71 480.72L117.14 481.08L113.18 480.96L110.4 480L109.12 478.01L108.96 475.24L109.44 471.96L110.08 468.46L110.4 465L110.27 461.24L110.02 457L109.82 452.8L109.89 449.16Z" fill="#efefef" stroke="#262626" stroke-width=".85"/>
<clipPath id="bb8"><path d="M110.4 446.6L111.47 445.42L112.98 445.28L114.74 445.72L116.61 446.31L118.4 446.6L120.14 446.6L121.93 446.59L123.75 446.59L125.58 446.59L127.4 446.6L129.26 446.62L131.17 446.65L133.05 446.68L134.82 446.73L136.4 446.8L137.77 446.87L138.98 446.95L140.06 447.05L141.03 447.19L141.9 447.4L142.65 447.68L143.28 448L143.8 448.38L144.27 448.82L144.7 449.3L145.1 449.84L145.44 450.42L145.73 451.06L145.98 451.76L146.2 452.5L146.37 453.31L146.5 454.18L146.58 455.1L146.65 456.05L146.7 457L146.73 457.95L146.74 458.92L146.72 459.9L146.71 460.93L146.7 462L146.7 463.14L146.7 464.33L146.7 465.55L146.7 466.78L146.7 468L146.7 469.2L146.7 470.4L146.7 471.6L146.7 472.8L146.7 474L146.96 475.3L147.48 476.69L147.87 478.03L147.74 479.18L146.7 480L144.54 480.38L141.53 480.43L137.97 480.29L134.16 480.1L130.4 480L126.32 480.24L121.71 480.72L117.14 481.08L113.18 480.96L110.4 480L109.12 478.01L108.96 475.24L109.44 471.96L110.08 468.46L110.4 465L110.27 461.24L110.02 457L109.82 452.8L109.89 449.16Z"/></clipPath>
<g clip-path="url(#bb8)">
<path d="M111.2 447.76L112.21 446.66L113.63 446.52L115.29 446.93L117.04 447.49L118.72 447.76L120.36 447.76L122.04 447.75L123.75 447.75L125.48 447.75L127.18 447.76L128.93 447.78L130.73 447.81L132.5 447.84L134.16 447.89L135.64 447.95L136.93 448.02L138.07 448.09L139.09 448.18L140 448.32L140.81 448.52L141.52 448.78L142.11 449.08L142.6 449.44L143.04 449.85L143.45 450.3L143.82 450.81L144.14 451.36L144.42 451.96L144.65 452.61L144.86 453.31L145.02 454.07L145.13 454.89L145.22 455.76L145.28 456.64L145.33 457.54L145.36 458.43L145.36 459.34L145.35 460.27L145.33 461.23L145.33 462.24L145.33 463.31L145.33 464.43L145.33 465.58L145.33 466.74L145.33 467.88L145.33 469.01L145.33 470.14L145.33 471.26L145.33 472.39L145.33 473.52L145.57 474.74L146.06 476.05L146.43 477.31L146.31 478.39L145.33 479.16L143.3 479.52L140.47 479.57L137.12 479.43L133.54 479.25L130 479.16L126.17 479.39L121.83 479.84L117.54 480.18L113.82 480.06L111.2 479.16L110 477.29L109.85 474.69L110.3 471.61L110.9 468.31L111.2 465.06L111.08 461.53L110.84 457.54L110.66 453.59L110.72 450.17ZM112.01 448.93L112.95 447.89L114.27 447.76L115.83 448.15L117.47 448.67L119.05 448.93L120.58 448.93L122.15 448.92L123.76 448.92L125.37 448.92L126.97 448.93L128.6 448.95L130.28 448.97L131.94 449L133.5 449.04L134.89 449.1L136.09 449.17L137.16 449.23L138.11 449.32L138.96 449.45L139.73 449.63L140.39 449.87L140.94 450.16L141.4 450.5L141.81 450.88L142.19 451.3L142.54 451.78L142.84 452.29L143.1 452.86L143.32 453.47L143.51 454.12L143.66 454.83L143.77 455.6L143.85 456.41L143.91 457.24L143.95 458.08L143.98 458.92L143.98 459.77L143.97 460.64L143.96 461.54L143.95 462.48L143.95 463.48L143.95 464.53L143.95 465.61L143.95 466.69L143.95 467.76L143.95 468.82L143.95 469.87L143.95 470.93L143.95 471.98L143.95 473.04L144.18 474.18L144.64 475.41L144.98 476.59L144.87 477.6L143.95 478.32L142.05 478.66L139.4 478.7L136.27 478.57L132.91 478.4L129.61 478.32L126.01 478.53L121.96 478.95L117.94 479.27L114.45 479.16L112.01 478.32L110.88 476.57L110.74 474.13L111.16 471.25L111.73 468.16L112.01 465.12L111.9 461.81L111.67 458.08L111.5 454.38L111.56 451.18Z" fill="none" stroke="#6e6e6e" stroke-width=".45"/>
<path d="M129.6 460.5a2.3 1.66 0 1 0 4.6 0a2.3 1.66 0 1 0 -4.6 0M127.1 460.5a4.8 3.46 0 1 0 9.6 0a4.8 3.46 0 1 0 -9.6 0M124.6 460.5a7.3 5.26 0 1 0 14.6 0a7.3 5.26 0 1 0 -14.6 0M122.1 460.5a9.8 7.06 0 1 0 19.6 0a9.8 7.06 0 1 0 -19.6 0M119.6 460.5a12.3 8.86 0 1 0 24.6 0a12.3 8.86 0 1 0 -24.6 0M117.1 460.5a14.8 10.66 0 1 0 29.6 0a14.8 10.66 0 1 0 -29.6 0M114.6 460.5a17.3 12.46 0 1 0 34.6 0a17.3 12.46 0 1 0 -34.6 0" fill="none" stroke="#6e6e6e" stroke-width=".45"/>
</g>
<path d="M124.9 445.6V466" stroke="#1a1a1a" stroke-width="1.1"/>
</g>
<path d="M166.7 457.5L166.7 457.95L166.68 458.4L166.66 458.86L166.63 459.3L166.59 459.72L166.54 460.13L166.48 460.53L166.41 460.91L166.34 461.27L166.26 461.6L166.18 461.91L166.08 462.19L165.98 462.44L165.88 462.67L165.77 462.86L165.66 463.01L165.55 463.14L165.43 463.23L165.32 463.28L165.2 463.3L165.08 463.28L164.97 463.23L164.85 463.14L164.74 463.01L164.63 462.86L164.52 462.67L164.42 462.44L164.32 462.19L164.22 461.91L164.14 461.6L164.06 461.27L163.99 460.91L163.92 460.53L163.86 460.13L163.81 459.72L163.77 459.3L163.74 458.86L163.72 458.4L163.7 457.95L163.7 457.5L163.7 457.05L163.72 456.6L163.74 456.14L163.77 455.7L163.81 455.28L163.86 454.87L163.92 454.47L163.99 454.09L164.06 453.73L164.14 453.4L164.22 453.09L164.32 452.81L164.42 452.56L164.52 452.33L164.63 452.14L164.74 451.99L164.85 451.86L164.97 451.77L165.08 451.72L165.2 451.7L165.32 451.72L165.43 451.77L165.55 451.86L165.66 451.99L165.77 452.14L165.88 452.33L165.98 452.56L166.08 452.81L166.18 453.09L166.26 453.4L166.34 453.73L166.41 454.09L166.48 454.47L166.54 454.87L166.59 455.28L166.63 455.7L166.66 456.14L166.68 456.6L166.7 457.05Z" fill="#fff" stroke="#2a2a2a" stroke-width="0.7"/>
<clipPath id="cb9"><rect x="124.2" y="472.3" width="75" height="73.7"/></clipPath>
<path d="M164.3 484.7h.7m-16.1 5.4h.7m-15 .7h.7m8.4 1.6h.7m6.1-.1h.7m2 .5h.7m-27.6 1.6h.7m8-.7h.7m10.6-.1h.7m1.7 0h.7m-2.1 1h.7m-17.1 1.4h.7m1.1 0h.7m3.8-.4h.7m20.9 .1h.7m-34.1 2.5h.7m9.9-.3h.7m.3-.1h.7m-4.2 .9h.7m12.4-.1h.7m-.3 .2h.7m-14.7 .9h.7m1.4 1.7h.7m.8-.4h.7m-.5-.3h.7m1.4 .3h.7m10.9 .2h.7m.5 .2h.7m2.8-.4h.7m-18.1 1.4h.7m.2 0h.7m0 .1h.7m-.6-.6h.7m-.7-.4h.7m2.7 .1h.7m1.2 .2h.7m9.3 .3h.7m-30.9 .8h.7m5-.4h.7m4.3 .2h.7m4.9 .6h.7m-.1-.4h.7m.1 .4h.7m-16.8 .3h.7m6.8 .4h.7m1.4-.1h.7m-.7 .3h.7m1.2-.6h.7m3.1 .1h.7m4.2 0h.7m7.7 .5h.7m1 .2h.7m-24.3 .8h.7m1.1 .2h.7m-.6 .1h.7m-.6-.8h.7m.7-.2h.7m1.9 .7h.7m.2-.4h.7m-.1 .4h.7m0-.4h.7m2.6 .5h.7m-.3 .1h.7m10-.3h.7m-30.9 .8h.7m5.6 .5h.7m-.5-.9h.7m4.8 .5h.7m-.4 .1h.7m-.7-.1h.7m-.6-.3h.7m1 .7h.7m8-.5h.7m1.3 .5h.7m1.8-.8h.7m.7 .1h.7m2.2 .4h.7m6.7-.4h.7m-40.2 .9h.7m.4-.1h.7m2 .5h.7m2.5 0h.7m3 .4h.7m.5-.7h.7m-.5 .4h.7m-.5-.2h.7m1.7 0h.7m-.5-.2h.7m4-.1h.7m.4 .2h.7m.9 .3h.7m1.2-.2h.7m1.4-.2h.7m.3 .5h.7m-.7-.1h.7m6.6-.5h.7m1.4 .7h.7m4.9 0h.7m-36.4 1h.7m-.2 .2h.7m-.1-.8h.7m-.6 .6h.7m-.4-.1h.7m.1-.6h.7m-.6 .1h.7m2 0h.7m0 .7h.7m.4-.1h.7m-.6-.3h.7m.8 .2h.7m.7-.5h.7m-.7 .4h.7m-.5-.1h.7m-.1-.3h.7m.1 .3h.7m4.3 .5h.7m-.6-.3h.7m1.9-.1h.7m3.2 .4h.7m12.3-.5h.7m-43.6 .7h.7m.1 .1h.7m-.5 .6h.7m-.3-.5h.7m.7-.1h.7m-.4 .4h.7m-.5-.1h.7m-.1-.4h.7m-.6 .1h.7m-.5 .3h.7m.2-.3h.7m-.4 .7h.7m.5-.9h.7m0 .1h.7m.7 .5h.7m.1 .2h.7m0 .1h.7m-.2-.9h.7m-.3 .7h.7m-.6-.3h.7m-.5 .4h.7m-.6-.7h.7m1.3 .3h.7m.6 .3h.7m0 0h.7m-.6 0h.7m-.5-.2h.7m.4-.1h.7m-.4 .4h.7m-.2-.7h.7m2.5 .7h.7m.1-.5h.7m1.2-.1h.7m.4 .6h.7m-.2-.7h.7m.8 .6h.7m0-.3h.7m.8 .4h.7m11.7-.2h.7m-41.8 1.1h.7m-.7-.1h.7m2.3-.1h.7m1 .4h.7m2.6-.7h.7m1.3 .2h.7m-.6 .1h.7m-.6-.3h.7m-.4 .5h.7m-.5 .2h.7m.6-.5h.7m-.6 .3h.7m-.5-.8h.7m2 0h.7m-.2 .5h.7m-.4 .2h.7m.1 0h.7m-.1-.5h.7m-.4 .7h.7m.3-.7h.7m-.1 .4h.7m-.6-.5h.7m-.4 .8h.7m1-.3h.7m6.4 .1h.7m6.7-.1h.7m-.3-.2h.7m2.3 .5h.7m-.5-.8h.7m.9 .8h.7m-.1-.7h.7m1.8 .7h.7m0-.1h.7m-44 .4h.7m-.4-.1h.7m-.1 0h.7m0 .4h.7m.9-.3h.7m.4 0h.7m.1 .3h.7m1.8 .4h.7m-.1-.7h.7m-.6 .2h.7m-.5-.4h.7m-.1 .9h.7m.2-.6h.7m-.6 .4h.7m0 0h.7m-.5 .2h.7m1.6-.7h.7m-.5 .7h.7m.1-.5h.7m.6 .1h.7m.2 .3h.7m.5 0h.7m-.6 0h.7m-.5-.6h.7m-.3-.1h.7m.4 0h.7m-.5 .2h.7m1.7 .1h.7m.4 .1h.7m-.1 0h.7m2.2 0h.7m6.5-.4h.7m-.3 .4h.7m.3 .2h.7m-.1-.1h.7m0-.1h.7m-.1-.2h.7m2.6 .6h.7m.1 .1h.7m-40.7 .8h.7m.9 .1h.7m2-.2h.7m-.5-.1h.7m.8 0h.7m.4-.4h.7m-.3 .2h.7m.5 .2h.7m-.1-.6h.7m-.6 .3h.7m-.5 .2h.7m0-.5h.7m1.6 .6h.7m.8-.6h.7m0 1h.7m.4-.6h.7m-.5 .6h.7m.2-.5h.7m-.6 .5h.7m-.6-.8h.7m.8 .7h.7m2.7-.2h.7m.7 .2h.7m-.5-.8h.7m-.7 .5h.7m3.3-.3h.7m5.6 .5h.7m-.5 .2h.7m-.4-.2h.7m.3-.7h.7m-.5 .6h.7m-.3 .3h.7m-.5-.4h.7m-.5 .1h.7m-.7-.1h.7m0 .1h.7m3-.4h.7m-.6 .2h.7m.1 .5h.7m.8-.3h.7m.1 .3h.7m-.5-.6h.7m-47.1 .8h.7m2.3 .6h.7m-.4 0h.7m-.1-.2h.7m.2-.2h.7m-.6 .5h.7m.2-.2h.7m-.3 .2h.7m-.7-.1h.7m-.7-.4h.7m-.1 .2h.7m-.1 .2h.7m1.9-.6h.7m-.6 0h.7m-.7 .2h.7m-.3-.4h.7m-.4 .4h.7m-.7-.2h.7m-.6 .1h.7m-.5-.3h.7m-.3 1h.7m.8-.2h.7m-.6-.5h.7m-.3-.1h.7m-.6 .3h.7m-.2 .2h.7m-.5-.2h.7m-.7 0h.7m1.2-.5h.7m-.6 .2h.7m.2 .3h.7m-.6-.4h.7m-.6 .4h.7m0-.3h.7m-.4 .5h.7m.9-.6h.7m-.6 .2h.7m.5 .3h.7m.5 0h.7m.7-.4h.7m-.3 .4h.7m-.5 0h.7m-.3-.3h.7m-.5-.2h.7m-.7 .1h.7m0 .1h.7m.7 .3h.7m-.7-.3h.7m3 .6h.7m.5-.8h.7m1.4 .2h.7m.2 .3h.7m-.3-.4h.7m.4 .5h.7m0-.5h.7m-.2-.2h.7m-.4 .5h.7m0 .4h.7m-.6-.4h.7m-.5 .2h.7m0 .2h.7m-.3-.8h.7m.9 .7h.7m-.7 .1h.7m-.5-.1h.7m-.3-.1h.7m-.3-.7h.7m-.2 .7h.7m-.2 .3h.7m.2-.2h.7m-44.5 .5h.7m.9 .7h.7m-.4-.7h.7m-.3 .1h.7m.6 .5h.7m.8 0h.7m-.7-.6h.7m-.5 0h.7m-.2 .2h.7m.3-.4h.7m.3 .2h.7m-.4 .7h.7m-.7-.1h.7m-.1-.7h.7m-.1-.2h.7m1.6 .5h.7m-.5 .4h.7m-.4-.2h.7m-.2-.5h.7m-.3 .1h.7m-.3 .3h.7m.2-.2h.7m-.1 0h.7m0 .5h.7m.2-.8h.7m.5 .8h.7m-.4-.4h.7m-.1-.2h.7m-.5 .1h.7m-.1 .4h.7m-.3 .2h.7m.1 0h.7m-.4-.6h.7m-.1 .1h.7m-.2 .1h.7m-.5-.4h.7m1.7 .4h.7m4.1-.3h.7m-.4-.2h.7m.4 0h.7m1.2 .2h.7m0-.1h.7m-.4-.2h.7m-.4 .4h.7m-.5-.3h.7m-.1 .2h.7m-.7-.3h.7m-.5 .4h.7m-.2 .3h.7m-.5 .1h.7m-.1 .1h.7m-.5-.1h.7m.1 .2h.7m-.7-.2h.7m.8-.2h.7m.1-.2h.7m-.1 .4h.7m-.6 .1h.7m-.4-.2h.7m.1 0h.7m.2 .3h.7m1.2-1h.7m-46.6 1.8h.7m1.1-.5h.7m-.4 0h.7m2.9 .1h.7m.6 .1h.7m-.4 .5h.7m-.6 0h.7m-.6-.9h.7m-.6 0h.7m-.7 .2h.7m.4 .6h.7m-.6 0h.7m-.5-.2h.7m-.7 .2h.7m-.6-.2h.7m.7 0h.7m-.4-.2h.7m-.6-.3h.7m-.6 0h.7m.3 .6h.7m-.6-.3h.7m-.1 .1h.7m-.5-.2h.7m-.6 .1h.7m.1 .1h.7m-.2 .3h.7m-.1 0h.7m-.3-.1h.7m-.6-.5h.7m-.6-.2h.7m1.3 .3h.7m-.6 0h.7m-.1 .5h.7m.1-.1h.7m-.1-.6h.7m-.5 .2h.7m0-.3h.7m-.3 0h.7m5.4 .9h.7m.6-1h.7m2.2 1h.7m4.5-.7h.7m1.8 .3h.7m.7-.1h.7m-.5 .1h.7m-.5-.2h.7m.1 .4h.7m-.4 0h.7m1.4-.5h.7m-.2 .6h.7m-.3-.4h.7m-.6 .4h.7m.5-.1h.7m-.5-.3h.7m1.2-.4h.7m-.1 .8h.7m-48.9 .6h.7m-.4 .3h.7m-.7 .1h.7m.8-.6h.7m.5 .6h.7m0-.5h.7m-.3-.2h.7m-.2 .2h.7m.4-.1h.7m-.6-.1h.7m-.1 .3h.7m-.7 .1h.7m-.7 0h.7m-.1-.5h.7m1.6 .9h.7m-.1-.1h.7m-.6-.8h.7m.2 .5h.7m-.4 .3h.7m.5-.6h.7m-.7 .6h.7m.1-.8h.7m-.5 .6h.7m-.1 0h.7m-.1 .2h.7m-.5-.3h.7m.7-.4h.7m-.5-.2h.7m-.7 .7h.7m-.5 .1h.7m5.4-.5h.7m4.5 .1h.7m.3-.3h.7m-.7 .4h.7m-.7 .3h.7m4.3-.7h.7m-.6 .4h.7m0-.3h.7m-.1-.1h.7m-.7 .2h.7m-.5 .4h.7m.1-.6h.7m.2 0h.7m.1 0h.7m-.6 .8h.7m-.6 .1h.7m.8-.6h.7m-.3 .4h.7m-.6-.7h.7m-.3 .4h.7m-.3 0h.7m-.1 .3h.7m-.3-.6h.7m-.7 .8h.7m-.6-.4h.7m-.4-.1h.7m-.5-.4h.7m0 .3h.7m.8 .6h.7m-46.1 .3h.7m-.6-.1h.7m-.6 .2h.7m-.3 .5h.7m0-.8h.7m.2-.1h.7m.2 .1h.7m-.1 .2h.7m-.3 0h.7m.9 .2h.7m-.6 0h.7m-.2 .5h.7m.4-.4h.7m-.5 .2h.7m-.5-.2h.7m-.6 .2h.7m.1-.7h.7m-.7 .3h.7m-.5 0h.7m-.3 0h.7m-.5-.1h.7m-.4 .7h.7m.4-.3h.7m.8-.5h.7m-.5 .5h.7m-.7 .1h.7m-.2-.1h.7m-.4-.1h.7m-.3 .2h.7m-.4-.1h.7m-.3 .1h.7m-.3-.4h.7m-.1 .1h.7m-.4-.1h.7m-.4 0h.7m-.1 .3h.7m-.5-.3h.7m-.5-.1h.7m-.4 0h.7m.4-.1h.7m-.6 .6h.7m-.5-.8h.7m-.5 .5h.7m-.5 0h.7m0 .1h.7m-.1 .3h.7m.3-.7h.7m4.8 .5h.7m5.5 .1h.7m.2-.7h.7m0 .7h.7m1.7-.8h.7m-.5 .2h.7m0 .4h.7m-.7-.5h.7m.3 .6h.7m-.4-.5h.7m-.5 .3h.7m-.5 .1h.7m-.4-.5h.7m-.5 .1h.7m-.7 .1h.7m-.6 .6h.7m-.2-.4h.7m-.7 .2h.7m-.3-.1h.7m-.1-.3h.7m-.6 .3h.7m.2 .2h.7m.7 .2h.7m-.7-.4h.7m-.4-.2h.7m-.1 .5h.7m-.3-.1h.7m-45.5 .6h.7m-.4 .5h.7m-.4-.6h.7m-.7 .5h.7m-.3 .1h.7m-.6-.5h.7m.2-.2h.7m.3 .5h.7m-.6-.6h.7m-.4 .9h.7m-.3 0h.7m-.6-.7h.7m-.5 .2h.7m-.5 0h.7m-.6 0h.7m-.5-.5h.7m-.4 .6h.7m-.4 .4h.7m-.1-.9h.7m-.4 .4h.7m-.5-.4h.7m.5 0h.7m.4 .7h.7m-.7-.3h.7m-.4 .4h.7m-.4-.7h.7m.4 .7h.7m-.2-.6h.7m0 .6h.7m.4 0h.7m-.1-.8h.7m-.6 .5h.7m-.6-.2h.7m-.1-.2h.7m-.6 .1h.7m0 .2h.7m-.6 0h.7m-.7 .3h.7m-.7-.3h.7m-.3-.1h.7m-.1-.1h.7m.1 .2h.7m-.6 .2h.7m-.5-.1h.7m.2-.1h.7m-.4 .2h.7m-.3-.1h.7m2.2 .2h.7m.3-.6h.7m-.6 .2h.7m2.3 .3h.7m2.5-.5h.7m4.9 0h.7m-.4 .7h.7m1.1-.2h.7m-.1 .2h.7m-.5 .1h.7m-.1-.8h.7m.6 0h.7m0 .6h.7m-.5 0h.7m-.5-.6h.7m-.3 .3h.7m-.7 .4h.7m-.5-.3h.7m-.6-.4h.7m-.1 .4h.7m-.3-.4h.7m-.6 .1h.7m.3-.1h.7m-.2-.2h.7m.1 .3h.7m.5 .5h.7m-.3 0h.7m-.1-.1h.7m-.7-.6h.7m.1 0h.7m-49.1 .9h.7m-.2 .3h.7m-.2-.1h.7m-.6 0h.7m.2 0h.7m3.5 0h.7m2.8 0h.7m-.6-.1h.7m-.5 0h.7m1.7 0h.7m-.4 .3h.7m-.5 .2h.7m-.4-.5h.7m-.3 .2h.7m0-.2h.7m-.6 0h.7m0 .5h.7m-.3-.4h.7m-.1 .1h.7m-.6 .3h.7m-.6 .2h.7m-.7 .2h.7m-.1-.1h.7m-.5-.5h.7m-.5 .2h.7m.1 .1h.7m-.2-.3h.7m1.4 .6h.7m0-.5h.7m12.9 .1h.7m.4-.2h.7m-.4 0h.7m-.6 0h.7m-.6 .2h.7m-.5-.1h.7m-.6 0h.7m-.7-.3h.7m-.5 .4h.7m-.1-.3h.7m-.4 .4h.7m-.5-.6h.7m.2 .2h.7m-.5 .4h.7m-.6-.7h.7m-.6 .9h.7m-.1-.8h.7m-.6 .8h.7m-.7-.7h.7m1.2 .5h.7m.1 .1h.7m-.6 .2h.7m-.5-.2h.7m.5-.7h.7m0 .4h.7m-.7 .1h.7m-.6-.3h.7m-.5 .5h.7m-.6-.6h.7m.5 .6h.7m-.2 0h.7m-34 .3h.7m1.3-.1h.7m-.5 .1h.7m-.7 .2h.7m-.6 0h.7m0 .2h.7m-.5 0h.7m-.3 .1h.7m1.3 .3h.7m.1-.7h.7m-.2 0h.7m-.6 .5h.7m3.9-.7h.7m.4 .1h.7m.4 .4h.7m-.7-.2h.7m2 .7h.7m4.8-1h.7m.8 .3h.7m-.7-.3h.7m0 1h.7m.6-.6h.7m-.6-.1h.7m-.7 .7h.7m-.3-.8h.7m-.3-.1h.7m-.3 .7h.7m-.5-.6h.7m-.2 .5h.7m-.2-.5h.7m-.5 0h.7m-.3 .3h.7m-.7 .1h.7m-.5 .1h.7m-.1-.2h.7m-.2 .3h.7m-.7-.1h.7m1.3 0h.7m2.6-.5h.7m-30.9 1.3h.7m-.2 .4h.7m-.4-.3h.7m-.4 .1h.7m9.1-.6h.7m.3 .6h.7m.6 .3h.7m5.1-.3h.7m1.1-.2h.7m.6 .2h.7m.4-.5h.7m-.5 .8h.7m-.5-.3h.7m-.1-.7h.7m-.5 .5h.7m.6-.3h.7m-.3 .3h.7m-.3-.3h.7m.7 .6h.7m-.2-.3h.7m-.4-.4h.7m-29.5 1h.7m1.7 .9h.7m.1-.5h.7m3 .3h.7m-.3-.5h.7m.4 .6h.7m0-.4h.7m5.5-.1h.7m-.4 .5h.7m2.2-.8h.7m.2 .7h.7m.8 0h.7m-.2-.2h.7m-.6 .4h.7m.3-.5h.7m-.2 .4h.7m-.5 .1h.7m-.6-.2h.7m.3-.1h.7m-.4 .3h.7m-.5-.8h.7m.3 .3h.7m2.6-.1h.7m-28 .7h.7m.5 .3h.7m.9 .4h.7m6.3-.6h.7m2.5 .3h.7m.8 .3h.7m-.6 0h.7m1.2-.3h.7m-.1-.2h.7m-.4 .6h.7m.4 .1h.7m-.6-.3h.7m-.1 .2h.7m-.4-.6h.7m1 .5h.7m-.6-.7h.7m-.5 .7h.7m0-.4h.7m-.1 .2h.7m.1-.5h.7m0 .4h.7m2.8 .4h.7m-27.5 .3h.7m1.7-.2h.7m1.3 1h.7m-.6-.8h.7m-.6 .3h.7m4.3 .2h.7m3.7-.3h.7m-.2 .4h.7m-.1 0h.7m-.6-.6h.7m-.7-.2h.7m.3 .3h.7m-.6 .5h.7m-.3-.2h.7m-.2-.1h.7m0 .2h.7m.8-.6h.7m2.1 .9h.7m-22.7 .6h.7m.3-.6h.7m-.4 .7h.7m8.2 .1h.7m-.5-.5h.7m.2 .5h.7m.8-.3h.7m1 .1h.7m.7-.1h.7m-.4-.5h.7m2.6 .6h.7m.3-.4h.7m.3 .1h.7m-17.6 1.3h.7m1.1-.6h.7m1.1 .9h.7m2.3-.1h.7m-.3-.4h.7m3.5 .1h.7m-.4-.3h.7m-.5-.1h.7m-.2 .8h.7m.2-.6h.7m-.7 0h.7m-.7 .6h.7m0-.6h.7m-.3 .1h.7m-.6 .2h.7m.1-.2h.7m-.6-.4h.7m-.3 .1h.7m-.6 .6h.7m-.1-.5h.7m-.2 .4h.7m-.7-.2h.7m.9 .5h.7m-22.7 1h.7m.1-.5h.7m3-.1h.7m.7 .1h.7m0 .2h.7m.5-.1h.7m.9-.3h.7m2.2 .8h.7m0 0h.7m-.7-.3h.7m0-.5h.7m2 .4h.7m1.8-.5h.7m-.6 .2h.7m.1 0h.7m-.5-.3h.7m-.5 .1h.7m-.4 .5h.7m-.4-.3h.7m-21.3 1h.7m-.6 0h.7m1.2 0h.7m-.6-.1h.7m-.5 .3h.7m-.6 0h.7m-.1 .3h.7m.8-.4h.7m1-.3h.7m4.9 .2h.7m-.1 .6h.7m-.6-.3h.7m-.1 0h.7m-.2 0h.7m.7-.2h.7m-.7 .2h.7m-.7-.3h.7m-.6-.2h.7m-.5 .2h.7m-.3 0h.7m-.7-.2h.7m3 .2h.7m0 .3h.7m-.5-.6h.7m-.3 .1h.7m-.1 .2h.7m-.4 .6h.7m-19.4 .3h.7m.6 .2h.7m-.3 .1h.7m1.3-.5h.7m.6 .4h.7m1.1 .2h.7m-.3-.1h.7m1.1 .1h.7m0-.4h.7m.1 .4h.7m-.2 .3h.7m-.2-.9h.7m-.3 .5h.7m-.4 0h.7m-.7-.1h.7m3.9 .2h.7m-.7 .4h.7m-.5-.8h.7m-.6 .4h.7m-.6-.5h.7m.3 .7h.7m-.4-.8h.7m-.5 .7h.7m-.5-.3h.7m-20.1 1.3h.7m-.5-.5h.7m-.7-.1h.7m2.1 .6h.7m2-.2h.7m.2 .2h.7m2-.5h.7m-.5 .7h.7m1.4-.4h.7m-.5 .3h.7m-.4-.3h.7m-.6 0h.7m4.4-.5h.7m.2 .7h.7m-.2-.5h.7m-.3 .3h.7m-.3-.5h.7m-21.6 1.7h.7m-.3-.1h.7m-.5 .4h.7m-.4-.5h.7m-.5 0h.7m-.2 .5h.7m-.7-.3h.7m4.7 .1h.7m.1-.6h.7m-.5 .2h.7m1.9 .1h.7m-.3 .4h.7m1.3-.7h.7m-.6 .2h.7m-.6-.3h.7m5.2 .5h.7m2.3-.1h.7m-23.4 .7h.7m-.1 .4h.7m-.5-.1h.7m.3 .5h.7m-.3-.3h.7m.6-.4h.7m-.5 .1h.7m.1 .2h.7m0-.1h.7m-.4-.4h.7m.9 .2h.7m3.8 .2h.7m0-.5h.7m-.1 .7h.7m5.5-.3h.7m0-.3h.7m.4 .8h.7m-.4-.2h.7m-.5-.2h.7m-21.3 1.3h.7m-.6-.2h.7m-.6-.2h.7m-.6 .4h.7m-.5-.5h.7m.3 0h.7m.9 .7h.7m1-.4h.7m-.1 .3h.7m-.1-.9h.7m-.7 .4h.7m-.5-.3h.7m3.4 .8h.7m-.4-.1h.7m-.6-.4h.7m-.1-.2h.7m-.4 0h.7m-.5 .2h.7m-.3 .6h.7m5.9-.7h.7m0 .5h.7m.2-.7h.7m-20.2 1h.7m-.7 .4h.7m.8 .3h.7m-.6-.4h.7m.8 .4h.7m-.3 0h.7m1.1-.7h.7m-.7 .7h.7m0 .1h.7m1.4-.6h.7m.2 .2h.7m-.2 0h.7m.2 .1h.7m-.7-.2h.7m6.5 .1h.7m.3-.1h.7m0 .5h.7m-.6-.8h.7m-.4 .6h.7m-.4 0h.7m.8-.4h.7m-23.4 1.2h.7m-.7 .4h.7m-.5-.6h.7m.1 .6h.7m-.7-.8h.7m-.5 .1h.7m1.9 0h.7m1.5 .5h.7m-.1-.1h.7m1.9-.3h.7m1.3 .5h.7m.3-.7h.7m-.6 .7h.7m-.7-.8h.7m-.4 .3h.7m6.1-.2h.7m-.6 .9h.7m-.4-.7h.7m-18.4 1.6h.7m1.1-.4h.7m.1 .3h.7m.5-.1h.7m-.5 0h.7m1.5-.3h.7m2.1 .1h.7m0 .4h.7m-.5-.1h.7m-.6-.1h.7m-.2 0h.7m5.3-.5h.7m-.4 0h.7m-.4 .3h.7m-.6 .4h.7m-.1 0h.7m-20.4 .3h.7m1 .4h.7m0 .3h.7m.3-.1h.7m.6-.4h.7m-.2 0h.7m.8 .3h.7m-.3-.5h.7m1.5 .7h.7m-.4-.2h.7m.1-.7h.7m.1 .2h.7m-.7 .4h.7m-.5-.4h.7m-.6 .7h.7m-.5-.5h.7m-.6 .2h.7m6-.6h.7m-.6 .9h.7m-.5-.7h.7m1.1-.1h.7m-.5 .2h.7m-.6-.1h.7m-21.7 1.2h.7m-.5 .4h.7m-.4-.2h.7m.9-.1h.7m.9-.1h.7m3 0h.7m1 .3h.7m-.5 .2h.7m-.4-.6h.7m-.3-.1h.7m.1 .2h.7m-.7 .4h.7m.1-.6h.7m-.7 0h.7m-.2 .3h.7m-.4 .2h.7m-.7 .2h.7m-.7-.6h.7m-.4-.1h.7m4.8 .1h.7m-.5 .1h.7m-.4-.2h.7m1.9 .5h.7m.7 .3h.7m-23.9 .8h.7m0 0h.7m.7-.4h.7m-.6 .3h.7m.6-.2h.7m1.4-.1h.7m.6 .6h.7m3.7-.5h.7m0 .2h.7m-.3-.5h.7m-.6 .3h.7m-.7-.4h.7m-.3 .5h.7m-.7-.5h.7m4.4 .6h.7m-.4-.7h.7m-.5 .9h.7m-.4-.8h.7m-.3 .4h.7m-.6 0h.7m-.5 0h.7m-.3-.2h.7m.2 .6h.7m-21.3 .3h.7m-.5 .5h.7m-.5 0h.7m2.4 .1h.7m-.6 .1h.7m-.4-.7h.7m.2 .3h.7m.2 .4h.7m.2-.4h.7m2-.5h.7m1.5 .9h.7m-.3 0h.7m.2 0h.7m-.6-.8h.7m4.4 .9h.7m-.5-.5h.7m-.1 .2h.7m-.4-.7h.7m-.2 .1h.7m-.6-.1h.7m-.7 .3h.7m.1-.2h.7m-.7 .3h.7m.5 .4h.7m1-.5h.7m-23.5 1.1h.7m1.8-.1h.7m.2 .4h.7m4.4-.4h.7m-.1 .1h.7m.4 .4h.7m-.5-.2h.7m-.7-.5h.7m.1-.1h.7m-.5 .9h.7m-.6 .1h.7m-.6-.8h.7m-.2 .7h.7m-.6-.5h.7m-.6 .4h.7m3.5-.5h.7m.1-.2h.7m.2 .5h.7m.2 .1h.7m-.6 .3h.7m-.4-.1h.7m1.8-.4h.7m-22.9 1.2h.7m-.3-.4h.7m.8 .3h.7m-.6-.4h.7m-.6 .8h.7m1.5-.6h.7m2.2 .3h.7m1.7-.3h.7m.8 .4h.7m-.6 .1h.7m-.5-.5h.7m-.3 0h.7m.2 .3h.7m-.4-.3h.7m-.4-.3h.7m-.7 .5h.7m1.9-.1h.7m-.5 .4h.7m-.5-.2h.7m-.4 .3h.7m-.6-.1h.7m-.5-.6h.7m1.1 .6h.7m4.4-.5h.7m-24 1.5h.7m.4 .1h.7m.2-.9h.7m2.4 .3h.7m.2 .5h.7m3.3-.9h.7m.1 0h.7m-.5 .3h.7m-.4 .5h.7m-.7-.5h.7m-.1-.1h.7m-.5 .3h.7m-.5 .4h.7m-.4-.3h.7m-.4 .2h.7m-.7-.6h.7m-.5 .4h.7m-.3 .4h.7m-.6-.3h.7m-.7-.4h.7m-.5 .4h.7m-.2-.4h.7m.1 .4h.7m0-.4h.7m-.5 .1h.7m-.3-.3h.7m-.2 .5h.7m.6 .1h.7m4-.2h.7m-21.8 .9h.7m1.3 .2h.7m-.5-.5h.7m0 .5h.7m-.7-.6h.7m5.7 0h.7m-.2 .4h.7m0 .2h.7m-.1 .1h.7m.1-.1h.7m-.7 .3h.7m-.3-.8h.7m-.3 .3h.7m-.6-.3h.7m-.2 .8h.7m.7-.4h.7m-.3-.5h.7m.1 0h.7m-.7 .9h.7m-.6-.7h.7m-16 1.2h.7m.2-.4h.7m5.4 .7h.7m1.7-.5h.7m-.3 .2h.7m.1-.2h.7m-.4 .3h.7m-.3-.1h.7m1.3-.4h.7m-.5 .6h.7m-.4-.2h.7" fill="none" stroke="#161616" stroke-width="0.8" stroke-opacity="0.78"/>
<g clip-path="url(#cb9)">
<path d="M110.4 519.3L111.5 517.96L113.07 517.78L114.89 518.25L116.74 518.89L118.4 519.2L119.86 519.18L121.27 519.16L122.65 519.14L124.02 519.12L125.4 519.1L126.82 519.07L128.25 519.03L129.67 518.99L131.06 518.98L132.4 519L133.69 519.05L134.94 519.13L136.16 519.23L137.31 519.39L138.4 519.6L139.42 519.87L140.38 520.19L141.28 520.56L142.12 521L142.9 521.5L143.62 522.08L144.28 522.74L144.88 523.45L145.42 524.21L145.9 525L146.31 525.82L146.66 526.68L146.95 527.58L147.19 528.52L147.4 529.5L147.56 530.53L147.66 531.6L147.72 532.72L147.76 533.85L147.8 535L147.83 536.17L147.83 537.36L147.82 538.58L147.81 539.79L147.8 541L147.8 542.2L147.8 543.4L147.8 544.6L147.8 545.8L147.8 547L147.8 548.18L147.8 549.35L147.8 550.53L147.8 551.74L147.8 553L148.08 554.45L148.64 556.06L149.05 557.66L148.91 559.03L147.8 560L145.48 560.45L142.22 560.5L138.38 560.34L134.32 560.11L130.4 560L126.25 560.32L121.63 560.96L117.08 561.44L113.16 561.28L110.4 560L109.12 557.29L108.96 553.47L109.44 549.01L110.08 544.36L110.4 540L110.27 535.58L110.02 530.78L109.82 526.13L109.89 522.13Z" fill="#efefef" stroke="#262626" stroke-width=".85"/>
<clipPath id="bb10"><path d="M110.4 519.3L111.5 517.96L113.07 517.78L114.89 518.25L116.74 518.89L118.4 519.2L119.86 519.18L121.27 519.16L122.65 519.14L124.02 519.12L125.4 519.1L126.82 519.07L128.25 519.03L129.67 518.99L131.06 518.98L132.4 519L133.69 519.05L134.94 519.13L136.16 519.23L137.31 519.39L138.4 519.6L139.42 519.87L140.38 520.19L141.28 520.56L142.12 521L142.9 521.5L143.62 522.08L144.28 522.74L144.88 523.45L145.42 524.21L145.9 525L146.31 525.82L146.66 526.68L146.95 527.58L147.19 528.52L147.4 529.5L147.56 530.53L147.66 531.6L147.72 532.72L147.76 533.85L147.8 535L147.83 536.17L147.83 537.36L147.82 538.58L147.81 539.79L147.8 541L147.8 542.2L147.8 543.4L147.8 544.6L147.8 545.8L147.8 547L147.8 548.18L147.8 549.35L147.8 550.53L147.8 551.74L147.8 553L148.08 554.45L148.64 556.06L149.05 557.66L148.91 559.03L147.8 560L145.48 560.45L142.22 560.5L138.38 560.34L134.32 560.11L130.4 560L126.25 560.32L121.63 560.96L117.08 561.44L113.16 561.28L110.4 560L109.12 557.29L108.96 553.47L109.44 549.01L110.08 544.36L110.4 540L110.27 535.58L110.02 530.78L109.82 526.13L109.89 522.13Z"/></clipPath>
<g clip-path="url(#bb10)">
<path d="M111.2 520.93L112.24 519.67L113.72 519.49L115.42 519.94L117.16 520.54L118.72 520.83L120.1 520.81L121.42 520.79L122.72 520.78L124 520.76L125.3 520.74L126.64 520.71L127.98 520.67L129.32 520.63L130.63 520.62L131.88 520.64L133.09 520.7L134.28 520.76L135.41 520.86L136.5 521.01L137.52 521.21L138.48 521.46L139.39 521.76L140.23 522.11L141.02 522.52L141.75 522.99L142.43 523.54L143.05 524.16L143.62 524.83L144.12 525.54L144.57 526.28L144.96 527.05L145.29 527.86L145.56 528.71L145.79 529.59L145.98 530.51L146.13 531.48L146.23 532.49L146.29 533.54L146.33 534.6L146.36 535.68L146.38 536.78L146.39 537.91L146.38 539.05L146.37 540.19L146.36 541.32L146.36 542.45L146.36 543.58L146.36 544.71L146.36 545.84L146.36 546.96L146.36 548.08L146.36 549.17L146.36 550.28L146.36 551.42L146.36 552.6L146.62 553.97L147.15 555.48L147.54 556.98L147.41 558.27L146.36 559.18L144.17 559.61L141.11 559.66L137.51 559.5L133.69 559.29L130 559.18L126.1 559.48L121.76 560.09L117.49 560.54L113.8 560.39L111.2 559.18L110 556.64L109.85 553.05L110.3 548.85L110.9 544.49L111.2 540.38L111.08 536.22L110.84 531.72L110.66 527.35L110.72 523.59ZM112.01 522.55L112.98 521.37L114.36 521.21L115.96 521.63L117.58 522.19L119.05 522.46L120.34 522.45L121.58 522.43L122.79 522.41L123.99 522.39L125.21 522.38L126.45 522.35L127.71 522.31L128.97 522.28L130.19 522.27L131.37 522.29L132.5 522.34L133.61 522.4L134.67 522.49L135.69 522.63L136.65 522.82L137.55 523.05L138.39 523.33L139.18 523.66L139.92 524.05L140.61 524.49L141.24 525L141.82 525.58L142.35 526.21L142.83 526.87L143.25 527.57L143.61 528.29L143.92 529.05L144.17 529.84L144.39 530.67L144.57 531.53L144.71 532.43L144.8 533.38L144.85 534.36L144.89 535.36L144.92 536.37L144.94 537.4L144.95 538.45L144.94 539.51L144.93 540.58L144.92 541.65L144.92 542.7L144.92 543.76L144.92 544.82L144.92 545.87L144.92 546.93L144.92 547.97L144.92 549L144.92 550.03L144.92 551.1L144.92 552.21L145.16 553.48L145.65 554.9L146.02 556.31L145.9 557.52L144.92 558.37L142.87 558.76L140.01 558.81L136.63 558.66L133.06 558.47L129.61 558.37L125.95 558.65L121.89 559.21L117.89 559.64L114.44 559.49L112.01 558.37L110.88 555.98L110.74 552.62L111.16 548.7L111.73 544.61L112.01 540.77L111.9 536.87L111.67 532.66L111.5 528.56L111.56 525.04Z" fill="none" stroke="#6e6e6e" stroke-width=".45"/>
<path d="M130.6 536.5a2.3 1.84 0 1 0 4.6 0a2.3 1.84 0 1 0 -4.6 0M128.1 536.5a4.8 3.84 0 1 0 9.6 0a4.8 3.84 0 1 0 -9.6 0M125.6 536.5a7.3 5.84 0 1 0 14.6 0a7.3 5.84 0 1 0 -14.6 0M123.1 536.5a9.8 7.84 0 1 0 19.6 0a9.8 7.84 0 1 0 -19.6 0M120.6 536.5a12.3 9.84 0 1 0 24.6 0a12.3 9.84 0 1 0 -24.6 0M118.1 536.5a14.8 11.84 0 1 0 29.6 0a14.8 11.84 0 1 0 -29.6 0M115.6 536.5a17.3 13.84 0 1 0 34.6 0a17.3 13.84 0 1 0 -34.6 0" fill="none" stroke="#6e6e6e" stroke-width=".45"/>
</g>
<path d="M124.9 513V546.4" stroke="#1a1a1a" stroke-width="1.1"/>
</g>
<path d="M166.67 534.88L166.58 535.49L166.47 536.11L166.34 536.72L166.2 537.31L166.04 537.88L165.88 538.42L165.7 538.95L165.51 539.46L165.31 539.94L165.1 540.37L164.89 540.76L164.67 541.12L164.45 541.45L164.22 541.73L163.99 541.96L163.77 542.15L163.54 542.29L163.32 542.38L163.1 542.43L162.89 542.42L162.68 542.37L162.48 542.26L162.29 542.11L162.11 541.91L161.95 541.68L161.8 541.39L161.66 541.06L161.53 540.68L161.42 540.27L161.32 539.84L161.25 539.36L161.18 538.85L161.14 538.31L161.11 537.75L161.1 537.18L161.11 536.6L161.14 535.99L161.19 535.36L161.25 534.74L161.33 534.12L161.42 533.51L161.53 532.89L161.66 532.28L161.8 531.69L161.96 531.12L162.12 530.58L162.3 530.05L162.49 529.54L162.69 529.06L162.9 528.63L163.11 528.24L163.33 527.88L163.55 527.55L163.78 527.27L164.01 527.04L164.23 526.85L164.46 526.71L164.68 526.62L164.9 526.57L165.11 526.58L165.32 526.63L165.52 526.74L165.71 526.89L165.89 527.09L166.05 527.32L166.2 527.61L166.34 527.94L166.47 528.32L166.58 528.73L166.68 529.16L166.75 529.64L166.82 530.15L166.86 530.69L166.89 531.25L166.9 531.82L166.89 532.4L166.86 533.01L166.81 533.64L166.75 534.26Z" fill="#fff" stroke="#2a2a2a" stroke-width="0.7"/>
<clipPath id="cb11"><rect x="124.2" y="552.75" width="75" height="73.7"/></clipPath>
<path d="M169.2 563h.7m13.5 3.7h.7m-29.4 .9h.7m2.3 2.3h.7m-3.7 1h.7m15-.2h.7m-.8 1.3h.7m.3-.4h.7m-3.7 1.8h.7m.7-.3h.7m-1.6 .4h.7m-21.1 1.7h.7m18.6 0h.7m1.3-.3h.7m-.5 .4h.7m-.4 1h.7m-1.9 .2h.7m3.1 1.2h.7m1 0h.7m-9 .8h.7m.1 .3h.7m1.9 .4h.7m.6 .2h.7m-2.7 .3h.7m-3.8 1.2h.7m8.2-.4h.7m1.9 .1h.7m-18.4 1.5h.7m12.9-.4h.7m-49.1 1.2h.7m47.1-.2h.7m-38.8 .9h.7m11.7 .6h.7m7.9 .1h.7m20.8 0h.7m-12.2 .6h.7m8.6 .2h.7m-46.9 1h.7m12.5-.6h.7m27 .7h.7m10.4-.6h.7m-40.5 1.7h.7m8.2-.2h.7m-19.6 1h.7m14.5 0h.7m6.7-.1h.7m-8.6 1.3h.7m2.6-.2h.7m5.7 .3h.7m.6-.7h.7m2.8 0h.7m-35.2 1.7h.7m15.5 .1h.7m7.6-.7h.7m2.6-.1h.7m7.8-.1h.7m-.5 .8h.7m4.7-.8h.7m2.9 .4h.7m-41.8 1.3h.7m8.3-.7h.7m.6 .2h.7m5.2 .2h.7m11.5-.1h.7m11.5 .2h.7m2.4-.2h.7m-44.6 1.2h.7m8 .1h.7m.8 .2h.7m8.2-.7h.7m.2 .5h.7m-17.6 1.1h.7m.6-.3h.7m-.6-.5h.7m7.4 .3h.7m7.3-.1h.7m-25.9 1.5h.7m2.6 0h.7m-.4 0h.7m2.1 .2h.7m2.7-.9h.7m-.3 .8h.7m1.7-.3h.7m.3 .2h.7m.9 0h.7m1.7-.5h.7m5.9-.1h.7m1 0h.7m3 .8h.7m4.8-.8h.7m1.6 .5h.7m1.8-.4h.7m14.4 .7h.7m-51.2 .5h.7m2.6 .1h.7m-.5-.4h.7m1.6 .2h.7m-.5 .5h.7m.4-.4h.7m.3-.3h.7m1.1 .4h.7m.8 0h.7m.2 .2h.7m1.3 0h.7m2.8 0h.7m6.9 .1h.7m-30.9 .6h.7m2.8 .5h.7m.5-.1h.7m.5 0h.7m3.6 .2h.7m-.2-.2h.7m.9-.2h.7m2.7 .1h.7m3.9 0h.7m.3-.1h.7m1 .4h.7m8.6-.9h.7m1.8 .2h.7m10.4 0h.7m-45 .9h.7m2.2 .5h.7m1.1 .2h.7m1.8-.8h.7m.1 0h.7m-.1 .8h.7m-.7-.2h.7m.2 .2h.7m2 0h.7m-.5-.9h.7m1.9 .3h.7m1.4-.2h.7m-.1 .9h.7m5.2-.4h.7m1.3 .1h.7m-.2 0h.7m1.8 0h.7m.9 0h.7m8.4-.5h.7m-.4 .4h.7m4.8-.6h.7m.2 .6h.7m-44 1.3h.7m1.7-.1h.7m-.7-.6h.7m1.5 .7h.7m.1-.7h.7m-.3 .7h.7m3.1-.1h.7m-.5-.8h.7m2.2 .7h.7m5.6 .3h.7m6.1-.6h.7m-.7 .5h.7m2.3-.6h.7m11.5 .5h.7m-44.5 .6h.7m-.3 .5h.7m.8-.6h.7m.3-.2h.7m1.4 .5h.7m.2-.4h.7m.2 .8h.7m-.3-.1h.7m.3-.1h.7m5 0h.7m4.4 .2h.7m6.9-1h.7m-.5 .5h.7m.8 .5h.7m-.6-.9h.7m4.8 .6h.7m6.4 0h.7m-43 1.3h.7m-.4-.2h.7m2.3 0h.7m-.3 .1h.7m0 0h.7m1.3-.1h.7m.4-.5h.7m.6-.1h.7m.9 .7h.7m.3-.1h.7m.4-.4h.7m.2 0h.7m0 .5h.7m-.5-.3h.7m-.6-.2h.7m.1-.4h.7m.8 .2h.7m.3 .7h.7m2.5-.9h.7m1.8 .4h.7m-.1 .5h.7m1.6-.1h.7m1.2-.8h.7m1.5 .2h.7m2.5 .6h.7m2.1 .1h.7m.8-.2h.7m1.8 .2h.7m6.7-.9h.7m2.7 .1h.7m-52.5 1h.7m-.4 .7h.7m2.1-.3h.7m.2 .2h.7m.9 .2h.7m.5 0h.7m-.3-.9h.7m-.6 .9h.7m-.7-.6h.7m.2 .2h.7m0-.2h.7m.8 .6h.7m.6-.8h.7m2.4 0h.7m-.5 .9h.7m-.5-.3h.7m.6-.1h.7m.7 .3h.7m-.3 0h.7m-.5 .1h.7m-.5-.5h.7m.5-.4h.7m.2 .8h.7m2.3-.2h.7m1.2 .2h.7m1.3-.6h.7m.7 .7h.7m1.8-.4h.7m-30.5 .4h.7m1.8 .6h.7m2.9-.4h.7m1.3 .6h.7m0-.2h.7m.3-.5h.7m1.4 .8h.7m-.3-.7h.7m.2 0h.7m.7-.1h.7m-.5 .4h.7m-.6 .1h.7m1.1-.2h.7m-.2-.1h.7m-.6-.2h.7m-.4 .1h.7m1.6 .3h.7m.6 .2h.7m2.3 .2h.7m1.8-.6h.7m8 .4h.7m2.2-.5h.7m1.7 0h.7m-41.7 1.5h.7m.6-.1h.7m.2-.2h.7m-.6-.2h.7m1.5 0h.7m-.4 .7h.7m-.6-.9h.7m-.6 .7h.7m2-.4h.7m.8 .5h.7m.6-.6h.7m.3 .4h.7m.3 .4h.7m.2-.4h.7m-.1-.5h.7m-.6 .6h.7m-.5 0h.7m.2-.2h.7m1.5-.4h.7m0 .8h.7m.2-.2h.7m.8-.5h.7m-.5 .3h.7m1.2 .3h.7m2.3-.6h.7m2.5 .7h.7m-.4-.7h.7m2.6 .6h.7m3.4-.4h.7m-38.7 1.6h.7m.6-.5h.7m1.2 .1h.7m1.4-.2h.7m-.6 .3h.7m-.2 .2h.7m.5-.3h.7m.9 .3h.7m-.3-.1h.7m-.1-.2h.7m2.1-.5h.7m.5 .6h.7m.7-.5h.7m.1 .7h.7m-.1-.7h.7m-.6-.1h.7m-.4 .7h.7m.6-.5h.7m1.6 .1h.7m-.4-.4h.7m-.2 .6h.7m3.8 .3h.7m3.5-.6h.7m7.9 .1h.7m.8-.4h.7m10.1 .4h.7m-50.5 1.4h.7m0 0h.7m-.5 .1h.7m.6-.8h.7m.2 .5h.7m.8-.4h.7m.4 .1h.7m-.4-.3h.7m.1 .2h.7m.9 .1h.7m-.2 .2h.7m-.4-.3h.7m-.5 .7h.7m.2-.8h.7m-.6 .3h.7m-.2 .5h.7m-.3-.4h.7m-.3-.4h.7m3 .1h.7m-.6-.2h.7m.9 .7h.7m9.5-.2h.7m-.3 .4h.7m-.4-.6h.7m.2-.1h.7m7.1 .3h.7m-.6 .5h.7m2.9-.9h.7m.8 .4h.7m11.4-.3h.7m-55.4 1h.7m-.4 .4h.7m-.6-.3h.7m-.7-.2h.7m-.1 .8h.7m2.1-.7h.7m-.4 .4h.7m.5 .2h.7m.3 0h.7m-.4 .2h.7m.4-.3h.7m-.5-.2h.7m-.5 .1h.7m.1-.1h.7m2.3 0h.7m.9-.3h.7m-.7 .1h.7m-.4 .1h.7m.7 .5h.7m3.4 0h.7m1.9-.8h.7m.8 .9h.7m.4 0h.7m7.1-.8h.7m4 .6h.7m.6-.1h.7m.5-.5h.7m-38.6 1.8h.7m-.2-.6h.7m.7 .1h.7m-.7 .3h.7m.7-.8h.7m-.6 .8h.7m2.1-.4h.7m-.3 .3h.7m4.8-.3h.7m-.3-.1h.7m-.6 .6h.7m-.1-.5h.7m1.9 .4h.7m-.6-.5h.7m.1-.2h.7m.5 .7h.7m.4-.6h.7m-.3 .7h.7m-.3-.9h.7m4.3 .5h.7m1.2-.2h.7m-.5-.3h.7m1 .6h.7m-.5 .3h.7m.6-.7h.7m.3-.1h.7m0 .3h.7m7.3 .5h.7m4.2-.6h.7m-.6 .5h.7m-47.3 .9h.7m-.7-.4h.7m.8 0h.7m-.5 .2h.7m.2 .2h.7m-.5-.1h.7m-.3 .1h.7m.8 .2h.7m-.5-.3h.7m-.6-.1h.7m1.2-.3h.7m-.6 .5h.7m.1-.5h.7m-.6 .1h.7m-.1 .1h.7m-.5 .4h.7m3.1 .2h.7m.5 0h.7m-.5-.2h.7m-.2-.3h.7m-.6 .3h.7m.5 .2h.7m-.2-.9h.7m.4-.1h.7m-.1 .4h.7m-.2 .5h.7m1.4-.9h.7m0 .9h.7m2.5-.2h.7m2.8-.5h.7m.8 .3h.7m-.4 .5h.7m9.8-.1h.7m1.3-.3h.7m1.9 .3h.7m-43.5 1h.7m-.7-.2h.7m1.4 .2h.7m-.1-.3h.7m-.1-.2h.7m1.4 .2h.7m-.2-.5h.7m-.5 .8h.7m.3 0h.7m-.5-.8h.7m-.4 .7h.7m-.6-.8h.7m-.2 .9h.7m.6-.7h.7m.3-.1h.7m-.6 .5h.7m-.3 .4h.7m-.5-.2h.7m-.5-.4h.7m-.3-.2h.7m1.1 .2h.7m-.1-.4h.7m-.1 .4h.7m-.6-.3h.7m.3 0h.7m-.5 .8h.7m1.8-.8h.7m-.1 .2h.7m.4 .2h.7m0-.3h.7m-.4 .4h.7m1.2-.4h.7m1.2 .6h.7m2.8-.5h.7m.8-.2h.7m8.8 .9h.7m1.3-.9h.7m2.9-.1h.7m-47.7 1.3h.7m.8 .5h.7m-.3-.1h.7m-.3 .2h.7m-.7-.8h.7m-.2 .5h.7m-.2-.3h.7m.4 .5h.7m-.1-.5h.7m.6-.1h.7m.2 .2h.7m.8-.2h.7m-.1 0h.7m-.6 .6h.7m.1-.5h.7m-.4-.2h.7m-.3 0h.7m-.5 .2h.7m-.6-.1h.7m.3-.1h.7m-.5 .2h.7m.8-.2h.7m-.6 .3h.7m-.1 .1h.7m.2 0h.7m-.4-.1h.7m0-.3h.7m-.6 .4h.7m-.6 .2h.7m2.5 .2h.7m.1 .1h.7m-.3-.6h.7m9.8 0h.7m0-.4h.7m7.9 .1h.7m-.3 .3h.7m-.4 .3h.7m-.5-.6h.7m5.7 .6h.7m-49.2 .8h.7m.5 0h.7m1.4-.2h.7m.9-.3h.7m1.3 .8h.7m-.4-.3h.7m-.1-.1h.7m1.2 0h.7m-.6 .1h.7m0 .1h.7m.2 0h.7m1-.2h.7m1.1 .4h.7m-.5-.5h.7m-.4-.1h.7m.6 .1h.7m-.3 .4h.7m-.6 0h.7m-.6-.2h.7m.6 .2h.7m-.6-.2h.7m3.2 0h.7m-.6-.1h.7m-.3-.3h.7m1.8 .8h.7m.2-.8h.7m9.2 .3h.7m9.3 .3h.7m-30.5 .7h.7m-.2 .1h.7m-.6-.5h.7m3.3 .9h.7m3.5-.6h.7m-.1 .2h.7m8.3-.4h.7m.9 .4h.7m-.6 .4h.7m1.2-.8h.7m-.1 .9h.7m.9-1h.7m-.6 .5h.7m1.5 .1h.7m-.6 .2h.7m1.7-.6h.7m-26.9 1h.7m-.6 .7h.7m-.4-.7h.7m.8-.1h.7m-.5 .1h.7m-.2 .4h.7m-.4 .3h.7m8.3-.8h.7m2.9 .4h.7m.6-.3h.7m1.2-.1h.7m1.2 .1h.7m.1 .6h.7m.9-.6h.7m-.2-.1h.7m0 .4h.7m1.9 .4h.7m-27 .7h.7m1.5 .1h.7m-.7-.1h.7m-.5-.3h.7m-.6 .3h.7m.6-.2h.7m-.5-.2h.7m2.5 .3h.7m6.4 .1h.7m1.4 0h.7m-.4 0h.7m.3 .2h.7m.6 .1h.7m.1 0h.7m2.4-.8h.7m-.4 .1h.7m.7-.2h.7m-.2 .1h.7m2.5 .7h.7m-29.2 .9h.7m-.6 .1h.7m-.5-.7h.7m-.1 .1h.7m0 .3h.7m14 .1h.7m.8-.2h.7m-.4 0h.7m0 .4h.7m-.1-.1h.7m-.7-.3h.7m-.2 .4h.7m-.7 .1h.7m.3-.4h.7m-.7-.4h.7m-.3 .1h.7m-.5 .2h.7m-.2-.2h.7m-.5 .7h.7m-.7-.8h.7m-.6 .8h.7m-.1-.6h.7m.7-.3h.7m.1 .9h.7m-.5 .1h.7m-23.9 .7h.7m.3-.2h.7m7-.4h.7m5 0h.7m-.3 .5h.7m-.3 0h.7m-.6 .1h.7m.4 0h.7m-.6-.2h.7m.3-.1h.7m-.5 .4h.7m-.3-.2h.7m-.7-.5h.7m-.5 .2h.7m-.6 .1h.7m-.5 .6h.7m-.6-.2h.7m-.4-.1h.7m0-.2h.7m-.3-.4h.7m-.5 .6h.7m.2 .3h.7m-.2-.1h.7m-.6-.4h.7m0-.5h.7m0 .8h.7m-24 1.1h.7m-.4-.9h.7m.6 .3h.7m3.1 .7h.7m4.5-.7h.7m5.4 .4h.7m-.5 .2h.7m-.6-.4h.7m-.7 .4h.7m-.5-.7h.7m-.1 .1h.7m-.6 .4h.7m-.6 .3h.7m-.3-.5h.7m-.6 .2h.7m-.6-.5h.7m-.7-.1h.7m-.7 .2h.7m-.5 .3h.7m-.6 .1h.7m-.6-.4h.7m-.6 .6h.7m-.5-.3h.7m-.1 0h.7m-.7-.4h.7m-.7 .1h.7m0 .2h.7m-.4 .4h.7m-.5-.6h.7m-.6 .2h.7m-.6 .4h.7m-.6-.2h.7m-.6-.3h.7m.3 .1h.7m-.2-.1h.7m1.6 .2h.7m-27.2 1h.7m-.5-.6h.7m-.2 .4h.7m-.7 .2h.7m12.9-.2h.7m.7-.2h.7m-.3 .8h.7m-.3-.9h.7m-.2 .7h.7m-.3-.7h.7m-.7 .7h.7m-.3-.4h.7m-.6 .3h.7m-.7-.3h.7m-.5 .4h.7m-.5-.2h.7m-.7-.2h.7m-.5 .4h.7m-.6-.2h.7m-.6 0h.7m-.7-.6h.7m-.5 .6h.7m-.3-.3h.7m-.6-.1h.7m-.2-.1h.7m-.4 .2h.7m-.6 .6h.7m-.3-.8h.7m-.7 .4h.7m-.6 0h.7m-.6-.4h.7m-.6 .1h.7m-.7 .3h.7m-.4 .1h.7m-.4-.1h.7m-.6 .2h.7m-.7-.1h.7m-.5 .4h.7m-.6-.3h.7m-.7 .3h.7m-.5-.3h.7m-.5-.5h.7m-.4 .1h.7m-.7-.2h.7m-.6 .3h.7m-.3 .2h.7m-.1 .3h.7m-.3-.5h.7m-.7 0h.7m0 .3h.7m-23.8 .7h.7m-.7 .5h.7m-.4-.2h.7m3.6-.6h.7m6.9 .1h.7m1.5 .5h.7m-.6-.1h.7m-.7-.4h.7m.1 0h.7m-.4 0h.7m-.7 .4h.7m-.6 .1h.7m-.7-.5h.7m-.6 .7h.7m-.7-.8h.7m-.6 .2h.7m-.6 .4h.7m-.4-.7h.7m-.6 .3h.7m-.3-.1h.7m-.7-.1h.7m2.6 0h.7m-.6 .7h.7m-.6-.4h.7m-.6 .6h.7m-.6-.1h.7m-.5 .1h.7m-.6-.9h.7m-.7 .8h.7m-.5-.9h.7m-.4 .1h.7m-.7 .1h.7m.5 .6h.7m-.4-.3h.7m1.2-.3h.7m-27 .8h.7m-.7 1h.7m.5-.1h.7m.8-.2h.7m-.3 .2h.7m10.6 0h.7m.5-.7h.7m0-.2h.7m-.6 .3h.7m-.6-.1h.7m-.4-.2h.7m-.6 .6h.7m-.4 .3h.7m-.5-.2h.7m-.6-.6h.7m-.7 .1h.7m-.6 .4h.7m-.6-.3h.7m3.3-.2h.7m-.3 .6h.7m-.7 .2h.7m-.5-.6h.7m-.4 .2h.7m-.5 .5h.7m-.7-.3h.7m-.5-.4h.7m-.5 .3h.7m-.2-.2h.7m-23.7 1.5h.7m1.9 0h.7m9.8-.5h.7m-.4 0h.7m-.1 .5h.7m.3-.1h.7m-.7-.2h.7m-.6-.4h.7m-.7 .7h.7m.1-.7h.7m-.3 0h.7m-.5 .6h.7m-.7 .1h.7m-.6-.5h.7m-.6 .1h.7m-.7 0h.7m4 .1h.7m-.6-.3h.7m-.4 .2h.7m-.7-.5h.7m-.6 .9h.7m-.6-.1h.7m-.2-.1h.7m-.5-.1h.7m.3 .2h.7m-.3-.2h.7m-.1-.2h.7m-.6 0h.7m-.2 .3h.7m-26.7 .8h.7m.4-.4h.7m1.8 .4h.7m-.2-.3h.7m10.7 .6h.7m-.5-.3h.7m-.6 .4h.7m1.1 0h.7m3.2-.2h.7m-.3 .1h.7m-.6-.7h.7m-.6 .4h.7m-.5-.4h.7m-.6 .6h.7m-.6-.5h.7m-.4 .5h.7m-.7-.5h.7m-.6-.1h.7m-.5 .3h.7m-.7-.3h.7m-.6 .1h.7m-.6 .5h.7m-.5-.7h.7m-.5 .5h.7m-.7 .4h.7m-.3-.5h.7m-.5-.3h.7m-.4 .7h.7m-25.2 .9h.7m.1-.4h.7m1.6 .5h.7m7.5-.2h.7m1.5-.6h.7m0 .2h.7m-.2 .6h.7m-.6-.3h.7m.6-.1h.7m-.5 .1h.7m-.1 .2h.7m-.2 0h.7m-.1 .1h.7m1.9 .1h.7m.3-.9h.7m-.4 .4h.7m-.3 0h.7m-.6 .5h.7m-.5 0h.7m-.6-.5h.7m-.5 0h.7m-.5 0h.7m-.7-.4h.7m-.5 .6h.7m-.7-.4h.7m-.2 .3h.7m-.7-.3h.7m0 .8h.7m-25.4 .7h.7m1.2-.1h.7m.1-.5h.7m0 .3h.7m7.8-.4h.7m4.1 .1h.7m-.6 .9h.7m-.4-.6h.7m-.4 0h.7m-.7 .3h.7m0-.3h.7m-.7 0h.7m-.6 .5h.7m-.7-.9h.7m-.6 .6h.7m-.6-.4h.7m-.7 .5h.7m-.6-.5h.7m-.6 .4h.7m-.6 .2h.7m-.3-.5h.7m-.7 .7h.7m-.3 0h.7m-.7-.5h.7m-.7 .3h.7m-.1 0h.7m-.6 .1h.7m-.5-.2h.7m-.2-.3h.7m-.3-.3h.7m-.6 .5h.7m-.6 .1h.7m-.7-.2h.7m-.3 .1h.7m.2-.4h.7m-.7 .1h.7m-.4-.2h.7m.1 .3h.7m-.7-.3h.7m1.1 0h.7m2.9-.1h.7m-29.5 1.8h.7m-.2-.1h.7m1.4-.1h.7m11-.4h.7m.1 .1h.7m.6 .3h.7m-.5 .1h.7m-.6 .2h.7m-.4-.4h.7m-.6 .4h.7m0-.7h.7m-.4 0h.7m-.7 .7h.7m-.1 0h.7m-.6 0h.7m-.3 0h.7m-.7-.9h.7m-.5 .9h.7m-.6 0h.7m-.1-.4h.7m-.4 0h.7m-.4-.1h.7m-.7-.3h.7m-.4 .8h.7m-.1-.6h.7m0-.3h.7m-.3 .2h.7m-.2 .8h.7m.2-.9h.7m4.1 .5h.7m-11.5 .5h.7m.4 0h.7m.9 0h.7m.5 0h.7m-.6-.1h.7m3.4 0h.7" fill="none" stroke="#161616" stroke-width="0.8" stroke-opacity="0.78"/>
<g clip-path="url(#cb11)">
<path d="M110.4 611.5L111.47 610.62L112.98 610.5L114.74 610.8L116.61 611.21L118.4 611.4L120.14 611.38L121.93 611.36L123.75 611.33L125.58 611.31L127.4 611.3L129.28 611.28L131.24 611.26L133.16 611.25L134.92 611.26L136.4 611.3L137.54 611.36L138.41 611.42L139.11 611.52L139.74 611.67L140.4 611.9L141.09 612.18L141.75 612.49L142.36 612.88L142.92 613.37L143.4 614L143.81 614.81L144.16 615.79L144.45 616.86L144.66 617.95L144.8 619L144.84 620L144.77 621L144.65 622L144.52 623L144.4 624L144.3 625L144.19 626L144.08 627L143.98 628L143.9 629L143.84 629.97L143.79 630.9L143.75 631.86L143.72 632.87L143.7 634L143.9 635.38L144.32 636.99L144.65 638.61L144.55 640.02L143.7 641L142 641.45L139.66 641.5L136.84 641.34L133.7 641.11L130.4 641L126.51 641.26L121.92 641.77L117.28 642.15L113.23 642.02L110.4 641L109.12 638.78L108.96 635.63L109.44 631.99L110.08 628.3L110.4 625L110.27 621.93L110.02 618.78L109.82 615.82L109.89 613.3Z" fill="#efefef" stroke="#262626" stroke-width=".85"/>
<clipPath id="bb12"><path d="M110.4 611.5L111.47 610.62L112.98 610.5L114.74 610.8L116.61 611.21L118.4 611.4L120.14 611.38L121.93 611.36L123.75 611.33L125.58 611.31L127.4 611.3L129.28 611.28L131.24 611.26L133.16 611.25L134.92 611.26L136.4 611.3L137.54 611.36L138.41 611.42L139.11 611.52L139.74 611.67L140.4 611.9L141.09 612.18L141.75 612.49L142.36 612.88L142.92 613.37L143.4 614L143.81 614.81L144.16 615.79L144.45 616.86L144.66 617.95L144.8 619L144.84 620L144.77 621L144.65 622L144.52 623L144.4 624L144.3 625L144.19 626L144.08 627L143.98 628L143.9 629L143.84 629.97L143.79 630.9L143.75 631.86L143.72 632.87L143.7 634L143.9 635.38L144.32 636.99L144.65 638.61L144.55 640.02L143.7 641L142 641.45L139.66 641.5L136.84 641.34L133.7 641.11L130.4 641L126.51 641.26L121.92 641.77L117.28 642.15L113.23 642.02L110.4 641L109.12 638.78L108.96 635.63L109.44 631.99L110.08 628.3L110.4 625L110.27 621.93L110.02 618.78L109.82 615.82L109.89 613.3Z"/></clipPath>
<g clip-path="url(#bb12)">
<path d="M111.2 612.42L112.21 611.6L113.63 611.48L115.29 611.76L117.04 612.14L118.72 612.33L120.36 612.31L122.04 612.28L123.75 612.26L125.48 612.25L127.18 612.23L128.95 612.22L130.79 612.2L132.6 612.19L134.25 612.2L135.64 612.23L136.71 612.29L137.53 612.35L138.19 612.44L138.79 612.58L139.4 612.8L140.05 613.06L140.67 613.35L141.25 613.72L141.77 614.18L142.22 614.77L142.61 615.54L142.94 616.45L143.21 617.46L143.41 618.49L143.54 619.47L143.57 620.41L143.52 621.35L143.4 622.29L143.27 623.23L143.16 624.17L143.07 625.11L142.97 626.05L142.87 626.99L142.77 627.93L142.69 628.87L142.64 629.78L142.59 630.66L142.55 631.56L142.53 632.51L142.51 633.57L142.69 634.87L143.09 636.38L143.4 637.9L143.3 639.23L142.51 640.15L140.91 640.57L138.71 640.62L136.06 640.47L133.11 640.26L130 640.15L126.35 640.39L122.04 640.87L117.67 641.23L113.86 641.11L111.2 640.15L110 638.07L109.85 635.11L110.3 631.68L110.9 628.21L111.2 625.11L111.08 622.22L110.84 619.26L110.66 616.48L110.72 614.12ZM112.01 613.34L112.95 612.57L114.27 612.46L115.83 612.72L117.47 613.08L119.05 613.25L120.58 613.23L122.15 613.21L123.76 613.19L125.37 613.18L126.97 613.17L128.62 613.15L130.35 613.13L132.04 613.12L133.59 613.13L134.89 613.17L135.89 613.22L136.66 613.28L137.27 613.36L137.83 613.5L138.41 613.69L139.01 613.94L139.59 614.22L140.14 614.56L140.62 614.99L141.05 615.54L141.41 616.26L141.72 617.12L141.97 618.06L142.16 619.02L142.28 619.94L142.31 620.82L142.26 621.7L142.15 622.58L142.03 623.46L141.93 624.34L141.84 625.22L141.75 626.1L141.65 626.98L141.56 627.86L141.49 628.74L141.43 629.59L141.39 630.42L141.36 631.26L141.33 632.15L141.31 633.14L141.49 634.36L141.86 635.77L142.15 637.2L142.06 638.44L141.31 639.3L139.81 639.7L137.76 639.75L135.28 639.6L132.51 639.4L129.61 639.3L126.18 639.53L122.15 639.98L118.06 640.32L114.5 640.2L112.01 639.3L110.88 637.35L110.74 634.58L111.16 631.37L111.73 628.12L112.01 625.22L111.9 622.52L111.67 619.75L111.5 617.14L111.56 614.93Z" fill="none" stroke="#6e6e6e" stroke-width=".45"/>
<path d="M130.6 620.5a2.3 1.66 0 1 0 4.6 0a2.3 1.66 0 1 0 -4.6 0M128.1 620.5a4.8 3.46 0 1 0 9.6 0a4.8 3.46 0 1 0 -9.6 0M125.6 620.5a7.3 5.26 0 1 0 14.6 0a7.3 5.26 0 1 0 -14.6 0M123.1 620.5a9.8 7.06 0 1 0 19.6 0a9.8 7.06 0 1 0 -19.6 0M120.6 620.5a12.3 8.86 0 1 0 24.6 0a12.3 8.86 0 1 0 -24.6 0M118.1 620.5a14.8 10.66 0 1 0 29.6 0a14.8 10.66 0 1 0 -29.6 0M115.6 620.5a17.3 12.46 0 1 0 34.6 0a17.3 12.46 0 1 0 -34.6 0" fill="none" stroke="#6e6e6e" stroke-width=".45"/>
</g>
<path d="M124.9 610.3V626.85" stroke="#1a1a1a" stroke-width="1.1"/>
</g>
<path d="M166.9 621L166.89 621.28L166.86 621.56L166.8 621.84L166.73 622.1L166.65 622.35L166.54 622.58L166.41 622.8L166.27 623.01L166.11 623.19L165.95 623.34L165.78 623.46L165.59 623.56L165.39 623.64L165.19 623.68L165 623.7L164.81 623.68L164.61 623.64L164.41 623.56L164.22 623.46L164.05 623.34L163.89 623.19L163.73 623.01L163.59 622.8L163.46 622.58L163.35 622.35L163.27 622.1L163.2 621.84L163.14 621.56L163.11 621.28L163.1 621L163.11 620.72L163.14 620.44L163.2 620.16L163.27 619.9L163.35 619.65L163.46 619.42L163.59 619.2L163.73 618.99L163.89 618.81L164.05 618.66L164.22 618.54L164.41 618.44L164.61 618.36L164.81 618.32L165 618.3L165.19 618.32L165.39 618.36L165.59 618.44L165.78 618.54L165.95 618.66L166.11 618.81L166.27 618.99L166.41 619.2L166.54 619.42L166.65 619.65L166.73 619.9L166.8 620.16L166.86 620.44L166.89 620.72Z" fill="#fff" stroke="#2a2a2a" stroke-width="0.7"/>
<path d="M270.1 538.3h.7m-13.6 6.2h.7m9.6 .7h.7m.3 .9h.7m3.6-.2h.7m12.5 1.8h.7m-23.9 1.2h.7m5.6 1.4h.7m-.4-.1h.7m5.6-.3h.7m-18.3 1.3h.7m9.1 .2h.7m-.6-.8h.7m-.2 .5h.7m-.5 1h.7m-8.6 .7h.7m7.4 .4h.7m-.6 0h.7m13.5-.4h.7m-17.8 1h.7m3.6 .5h.7m-2.3 .8h.7m-.7 .8h.7m-.4 0h.7m-.6 .3h.7m-2 .5h.7m.9 .4h.7m10 .2h.7m-.6-.8h.7m5.1 1h.7m-20.6 .4h.7m23-.3h.7m-22.2 1.2h.7m6.2 .1h.7m4.3 .5h.7m-13 1h.7m1.3-.6h.7m-.9 1.3h.7m9.3 .4h.7m-20.5 .4h.7m9.2 .3h.7m4.9 3h.7m-9.7 1h.7m4.7 1.9h.7m2.1 0h.7m2.7-.2h.7m-20.5 1.9h.7m17.5 .4h.7m-15.3 1.1h.7m8.3 1.1h.7m4.5 .7h.7m-3.2 1.3h.7m-.4-.7h.7m-4.8 2.1h.7m-12.1 6h.7m-4.3 8.1h.7m11.3 .9h.7m-10.6 1.2h.7m14 1.4h.7m-8.5 2.8h.7m-.4-.2h.7m20.1-.3h.7m-35.9 1.6h.7m3-.7h.7m11.1 .8h.7m-31.7 1.7h.7m12.2-.2h.7m.3 .3h.7m.2-.3h.7m-3.5 4h.7m-.1 3h.7m15.2 .9h.7m-3.9 1.8h.7" fill="none" stroke="#333" stroke-width="0.7" stroke-opacity="0.6"/>
<path d="M236 562L236.63 560.08L237.35 558.23L238.15 556.49L239.04 554.9L240 553.5L241.07 552.29L242.26 551.26L243.5 550.38L244.77 549.64L246 549L247.22 548.45L248.45 548.01L249.67 547.7L250.86 547.56L252 547.6L253.1 547.85L254.19 548.28L255.22 548.87L256.17 549.62L257 550.5L257.72 551.53L258.36 552.72L258.89 554.05L259.31 555.48L259.6 557L259.74 558.66L259.74 560.47L259.63 562.35L259.44 564.22L259.2 566L258.87 567.66L258.44 569.27L257.95 570.85L257.46 572.42L257 574L256.6 575.58L256.21 577.15L255.83 578.73L255.43 580.34L255 582L254.55 583.78L254.08 585.67L253.6 587.57L253.07 589.38L252.5 591L251.89 592.45L251.24 593.78L250.56 594.99L249.81 596.07L249 597L248.1 597.8L247.13 598.46L246.11 598.99L245.06 599.37L244 599.6L242.9 599.67L241.74 599.59L240.58 599.36L239.48 599L238.5 598.5L237.64 597.89L236.85 597.16L236.14 596.29L235.52 595.24L235 594L234.59 592.54L234.28 590.87L234.05 589.03L233.9 587.06L233.8 585L233.76 582.78L233.78 580.37L233.86 577.87L234 575.38L234.2 573L234.44 570.7L234.71 568.41L235.05 566.17L235.48 564.02Z" fill="#fff" stroke="#666" stroke-width=".5"/>
<clipPath id="gg13"><path d="M236 562L236.63 560.08L237.35 558.23L238.15 556.49L239.04 554.9L240 553.5L241.07 552.29L242.26 551.26L243.5 550.38L244.77 549.64L246 549L247.22 548.45L248.45 548.01L249.67 547.7L250.86 547.56L252 547.6L253.1 547.85L254.19 548.28L255.22 548.87L256.17 549.62L257 550.5L257.72 551.53L258.36 552.72L258.89 554.05L259.31 555.48L259.6 557L259.74 558.66L259.74 560.47L259.63 562.35L259.44 564.22L259.2 566L258.87 567.66L258.44 569.27L257.95 570.85L257.46 572.42L257 574L256.6 575.58L256.21 577.15L255.83 578.73L255.43 580.34L255 582L254.55 583.78L254.08 585.67L253.6 587.57L253.07 589.38L252.5 591L251.89 592.45L251.24 593.78L250.56 594.99L249.81 596.07L249 597L248.1 597.8L247.13 598.46L246.11 598.99L245.06 599.37L244 599.6L242.9 599.67L241.74 599.59L240.58 599.36L239.48 599L238.5 598.5L237.64 597.89L236.85 597.16L236.14 596.29L235.52 595.24L235 594L234.59 592.54L234.28 590.87L234.05 589.03L233.9 587.06L233.8 585L233.76 582.78L233.78 580.37L233.86 577.87L234 575.38L234.2 573L234.44 570.7L234.71 568.41L235.05 566.17L235.48 564.02Z"/></clipPath>
<path d="M236.6 564.08L237.18 562.31L237.84 560.61L238.58 559.01L239.39 557.55L240.28 556.26L241.27 555.15L242.36 554.2L243.5 553.39L244.67 552.71L245.8 552.12L246.92 551.62L248.05 551.21L249.18 550.93L250.27 550.79L251.32 550.83L252.33 551.06L253.33 551.46L254.28 552L255.16 552.69L255.92 553.5L256.58 554.45L257.17 555.54L257.66 556.76L258.05 558.08L258.31 559.48L258.44 561L258.44 562.67L258.34 564.4L258.17 566.13L257.94 567.76L257.64 569.29L257.24 570.77L256.8 572.22L256.34 573.66L255.92 575.12L255.55 576.58L255.19 578.02L254.84 579.47L254.47 580.95L254.08 582.48L253.66 584.12L253.24 585.86L252.79 587.6L252.31 589.27L251.78 590.76L251.22 592.09L250.62 593.32L249.99 594.43L249.31 595.42L248.56 596.28L247.74 597.01L246.84 597.63L245.9 598.11L244.93 598.46L243.96 598.67L242.95 598.74L241.88 598.66L240.81 598.45L239.8 598.12L238.9 597.66L238.1 597.1L237.38 596.43L236.73 595.62L236.16 594.66L235.68 593.52L235.3 592.17L235.02 590.64L234.81 588.95L234.67 587.14L234.58 585.24L234.53 583.19L234.56 580.98L234.63 578.68L234.76 576.39L234.94 574.2L235.16 572.08L235.42 569.98L235.73 567.92L236.12 565.94ZM237.2 566.16L237.73 564.54L238.33 562.99L239.01 561.53L239.75 560.2L240.56 559.02L241.46 558.01L242.46 557.14L243.5 556.4L244.57 555.78L245.6 555.24L246.62 554.78L247.66 554.41L248.68 554.15L249.69 554.03L250.64 554.06L251.57 554.27L252.48 554.63L253.35 555.13L254.14 555.76L254.84 556.5L255.45 557.36L255.98 558.37L256.43 559.48L256.78 560.69L257.02 561.96L257.14 563.35L257.14 564.87L257.05 566.46L256.89 568.03L256.69 569.52L256.41 570.92L256.05 572.27L255.64 573.59L255.22 574.91L254.84 576.24L254.5 577.57L254.18 578.89L253.85 580.21L253.52 581.56L253.16 582.96L252.78 584.46L252.39 586.04L251.98 587.64L251.54 589.16L251.06 590.52L250.55 591.73L250 592.85L249.43 593.87L248.8 594.78L248.12 595.56L247.37 596.23L246.55 596.79L245.69 597.23L244.81 597.55L243.92 597.74L243 597.8L242.02 597.74L241.05 597.54L240.12 597.24L239.3 596.82L238.57 596.31L237.91 595.7L237.32 594.96L236.8 594.08L236.36 593.04L236.01 591.81L235.75 590.41L235.57 588.87L235.44 587.21L235.35 585.48L235.31 583.61L235.33 581.59L235.4 579.49L235.52 577.4L235.69 575.4L235.89 573.46L236.12 571.54L236.41 569.66L236.76 567.86ZM246.55 585.44L246.36 586.08L246.08 586.67L245.72 587.17L245.29 587.57L244.83 587.83L244.35 587.96L243.88 587.93L243.43 587.76L243.05 587.45L242.73 587.02L242.51 586.49L242.38 585.88L242.36 585.23L242.45 584.56L242.64 583.92L242.92 583.33L243.28 582.83L243.71 582.43L244.17 582.17L244.65 582.04L245.12 582.07L245.57 582.24L245.95 582.55L246.27 582.98L246.49 583.51L246.62 584.12L246.64 584.77ZM247.99 585.74L247.67 586.83L247.19 587.83L246.57 588.69L245.85 589.36L245.06 589.82L244.24 590.03L243.44 589.99L242.69 589.7L242.03 589.17L241.49 588.44L241.11 587.53L240.89 586.5L240.86 585.39L241.01 584.26L241.33 583.17L241.81 582.17L242.43 581.31L243.15 580.64L243.94 580.18L244.76 579.97L245.56 580.01L246.31 580.3L246.97 580.83L247.51 581.56L247.89 582.47L248.11 583.5L248.14 584.61ZM249.43 586.05L248.97 587.59L248.29 589L247.42 590.21L246.4 591.16L245.29 591.8L244.14 592.1L243 592.04L241.94 591.63L241.01 590.89L240.26 589.85L239.71 588.57L239.41 587.11L239.36 585.55L239.57 583.95L240.03 582.41L240.71 581L241.58 579.79L242.6 578.84L243.71 578.2L244.86 577.9L246 577.96L247.06 578.37L247.99 579.11L248.74 580.15L249.29 581.43L249.59 582.89L249.64 584.45ZM250.87 586.35L250.28 588.34L249.4 590.17L248.27 591.73L246.96 592.96L245.52 593.78L244.03 594.17L242.57 594.1L241.2 593.57L240 592.61L239.02 591.27L238.32 589.61L237.92 587.73L237.86 585.7L238.13 583.65L238.72 581.66L239.6 579.83L240.73 578.27L242.04 577.04L243.48 576.22L244.97 575.83L246.43 575.9L247.8 576.43L249 577.39L249.98 578.73L250.68 580.39L251.08 582.27L251.14 584.3ZM252.31 586.66L251.58 589.1L250.5 591.33L249.12 593.25L247.51 594.75L245.75 595.77L243.93 596.24L242.13 596.15L240.45 595.5L238.98 594.33L237.78 592.68L236.92 590.66L236.44 588.34L236.36 585.86L236.69 583.34L237.42 580.9L238.5 578.67L239.88 576.75L241.49 575.25L243.25 574.23L245.07 573.76L246.87 573.85L248.55 574.5L250.02 575.67L251.22 577.32L252.08 579.34L252.56 581.66L252.64 584.14ZM253.74 586.96L252.89 589.85L251.61 592.5L249.98 594.77L248.07 596.55L245.98 597.75L243.82 598.31L241.69 598.2L239.71 597.44L237.96 596.04L236.54 594.1L235.52 591.7L234.95 588.96L234.86 586.02L235.26 583.04L236.11 580.15L237.39 577.5L239.02 575.23L240.93 573.45L243.02 572.25L245.18 571.69L247.31 571.8L249.29 572.56L251.04 573.96L252.46 575.9L253.48 578.3L254.05 581.04L254.14 583.98ZM255.18 587.27L254.19 590.61L252.72 593.67L250.83 596.29L248.62 598.35L246.21 599.73L243.71 600.38L241.26 600.26L238.96 599.37L236.94 597.76L235.3 595.51L234.13 592.74L233.47 589.58L233.36 586.18L233.82 582.73L234.81 579.39L236.28 576.33L238.17 573.71L240.38 571.65L242.79 570.27L245.29 569.62L247.74 569.74L250.04 570.63L252.06 572.24L253.7 574.49L254.87 577.26L255.53 580.42L255.64 583.82Z" fill="none" stroke="#7c7c7c" stroke-width=".42" clip-path="url(#gg13)"/>
<path d="M256.75 561.53L256.58 562.18L256.38 562.82L256.16 563.45L255.93 564.07L255.67 564.68L255.4 565.27L255.1 565.85L254.78 566.41L254.45 566.95L254.11 567.47L253.75 567.97L253.37 568.44L252.98 568.9L252.58 569.32L252.17 569.72L251.75 570.09L251.32 570.43L250.88 570.74L250.44 571.02L249.99 571.27L249.54 571.49L249.09 571.67L248.63 571.82L248.17 571.94L247.72 572.02L247.27 572.07L246.82 572.08L246.37 572.06L245.93 572.01L245.5 571.92L245.08 571.8L244.67 571.64L244.27 571.45L243.87 571.22L243.5 570.97L243.14 570.69L242.79 570.37L242.46 570.02L242.14 569.64L241.84 569.24L241.57 568.81L241.31 568.35L241.06 567.87L240.84 567.37L240.65 566.85L240.47 566.3L240.32 565.74L240.19 565.15L240.08 564.56L239.99 563.95L239.93 563.33L239.9 562.7L239.88 562.05L239.89 561.4L239.93 560.75L239.98 560.1L240.07 559.44L240.17 558.78L240.3 558.12L240.45 557.47L240.62 556.82L240.82 556.18L241.04 555.55L241.27 554.93L241.53 554.32L241.8 553.73L242.1 553.15L242.42 552.59L242.75 552.05L243.09 551.53L243.45 551.03L243.83 550.56L244.22 550.1L244.62 549.68L245.03 549.28L245.45 548.91L245.88 548.57L246.32 548.26L246.76 547.98L247.21 547.73L247.66 547.51L248.11 547.33L248.57 547.18L249.03 547.06L249.48 546.98L249.93 546.93L250.38 546.92L250.83 546.94L251.27 546.99L251.7 547.08L252.12 547.2L252.53 547.36L252.93 547.55L253.33 547.78L253.7 548.03L254.06 548.31L254.41 548.63L254.74 548.98L255.06 549.36L255.36 549.76L255.63 550.19L255.89 550.65L256.14 551.13L256.36 551.63L256.55 552.15L256.73 552.7L256.88 553.26L257.01 553.85L257.12 554.44L257.21 555.05L257.27 555.67L257.3 556.3L257.32 556.95L257.31 557.6L257.27 558.25L257.22 558.9L257.13 559.56L257.03 560.22L256.9 560.88Z" fill="#dedede" stroke="#666" stroke-width=".5"/>
<path d="M255.94 561.33L255.78 561.91L255.6 562.49L255.41 563.06L255.19 563.62L254.96 564.16L254.72 564.69L254.45 565.21L254.17 565.72L253.87 566.21L253.56 566.67L253.24 567.12L252.9 567.55L252.55 567.96L252.18 568.34L251.82 568.7L251.44 569.03L251.05 569.34L250.66 569.62L250.26 569.87L249.85 570.09L249.45 570.29L249.04 570.45L248.63 570.59L248.21 570.7L247.81 570.77L247.4 570.81L247 570.83L246.59 570.81L246.2 570.76L245.81 570.68L245.44 570.57L245.06 570.42L244.7 570.25L244.35 570.05L244.01 569.82L243.68 569.57L243.37 569.28L243.07 568.97L242.79 568.63L242.52 568.27L242.27 567.88L242.03 567.47L241.82 567.03L241.62 566.58L241.44 566.11L241.29 565.62L241.15 565.11L241.03 564.59L240.93 564.05L240.85 563.51L240.8 562.95L240.77 562.38L240.75 561.8L240.76 561.21L240.79 560.63L240.85 560.04L240.92 559.44L241.01 558.85L241.13 558.26L241.26 557.67L241.42 557.09L241.6 556.51L241.79 555.94L242.01 555.38L242.24 554.84L242.48 554.31L242.75 553.79L243.03 553.28L243.33 552.79L243.64 552.33L243.96 551.88L244.3 551.45L244.65 551.04L245.02 550.66L245.38 550.3L245.76 549.97L246.15 549.66L246.54 549.38L246.94 549.13L247.35 548.91L247.75 548.71L248.16 548.55L248.57 548.41L248.99 548.3L249.39 548.23L249.8 548.19L250.2 548.17L250.61 548.19L251 548.24L251.39 548.32L251.76 548.43L252.14 548.58L252.5 548.75L252.85 548.95L253.19 549.18L253.52 549.43L253.83 549.72L254.13 550.03L254.41 550.37L254.68 550.73L254.93 551.12L255.17 551.53L255.38 551.97L255.58 552.42L255.76 552.89L255.91 553.38L256.05 553.89L256.17 554.41L256.27 554.95L256.35 555.49L256.4 556.05L256.43 556.62L256.45 557.2L256.44 557.79L256.41 558.37L256.35 558.96L256.28 559.56L256.19 560.15L256.07 560.74ZM255.12 561.13L254.98 561.64L254.83 562.15L254.65 562.66L254.46 563.16L254.26 563.64L254.04 564.11L253.8 564.58L253.55 565.03L253.28 565.46L253.01 565.88L252.72 566.27L252.42 566.65L252.11 567.02L251.79 567.36L251.46 567.68L251.12 567.97L250.78 568.24L250.43 568.49L250.07 568.72L249.71 568.92L249.35 569.09L248.99 569.24L248.62 569.36L248.26 569.45L247.89 569.52L247.53 569.56L247.17 569.57L246.82 569.55L246.47 569.51L246.12 569.44L245.79 569.34L245.46 569.21L245.13 569.06L244.82 568.88L244.52 568.68L244.23 568.45L243.95 568.19L243.68 567.91L243.43 567.61L243.19 567.29L242.97 566.95L242.76 566.58L242.57 566.2L242.4 565.79L242.24 565.38L242.1 564.94L241.97 564.49L241.87 564.02L241.78 563.55L241.71 563.06L241.67 562.56L241.64 562.06L241.63 561.54L241.63 561.02L241.66 560.5L241.71 559.98L241.77 559.45L241.86 558.92L241.96 558.39L242.08 557.87L242.22 557.36L242.37 556.85L242.55 556.34L242.74 555.84L242.94 555.36L243.16 554.89L243.4 554.42L243.65 553.97L243.92 553.54L244.19 553.12L244.48 552.73L244.78 552.35L245.09 551.98L245.41 551.64L245.74 551.32L246.08 551.03L246.42 550.76L246.77 550.51L247.13 550.28L247.49 550.08L247.85 549.91L248.21 549.76L248.58 549.64L248.94 549.55L249.31 549.48L249.67 549.44L250.03 549.43L250.38 549.45L250.73 549.49L251.08 549.56L251.41 549.66L251.74 549.79L252.07 549.94L252.38 550.12L252.68 550.32L252.97 550.55L253.25 550.81L253.52 551.09L253.77 551.39L254.01 551.71L254.23 552.05L254.44 552.42L254.63 552.8L254.8 553.21L254.96 553.62L255.1 554.06L255.23 554.51L255.33 554.98L255.42 555.45L255.49 555.94L255.53 556.44L255.56 556.94L255.57 557.46L255.57 557.98L255.54 558.5L255.49 559.02L255.43 559.55L255.34 560.08L255.24 560.61ZM254.31 560.92L254.18 561.37L254.05 561.82L253.9 562.27L253.73 562.7L253.55 563.12L253.36 563.54L253.15 563.94L252.93 564.34L252.7 564.72L252.46 565.08L252.21 565.43L251.94 565.76L251.67 566.08L251.39 566.38L251.1 566.65L250.81 566.91L250.51 567.15L250.2 567.37L249.89 567.57L249.58 567.74L249.26 567.89L248.94 568.02L248.62 568.13L248.3 568.21L247.98 568.27L247.67 568.3L247.35 568.31L247.04 568.29L246.73 568.26L246.43 568.19L246.14 568.11L245.85 568L245.57 567.86L245.29 567.71L245.03 567.53L244.78 567.33L244.53 567.11L244.3 566.86L244.08 566.6L243.87 566.32L243.68 566.02L243.49 565.7L243.33 565.36L243.17 565.01L243.03 564.64L242.91 564.26L242.8 563.87L242.71 563.46L242.63 563.04L242.58 562.62L242.53 562.18L242.51 561.74L242.5 561.29L242.5 560.83L242.53 560.38L242.57 559.92L242.63 559.46L242.7 558.99L242.79 558.53L242.89 558.08L243.02 557.63L243.15 557.18L243.3 556.73L243.47 556.3L243.65 555.88L243.84 555.46L244.05 555.06L244.27 554.66L244.5 554.28L244.74 553.92L244.99 553.57L245.26 553.24L245.53 552.92L245.81 552.62L246.1 552.35L246.39 552.09L246.69 551.85L247 551.63L247.31 551.43L247.62 551.26L247.94 551.11L248.26 550.98L248.58 550.87L248.9 550.79L249.22 550.73L249.53 550.7L249.85 550.69L250.16 550.71L250.47 550.74L250.77 550.81L251.06 550.89L251.35 551L251.63 551.14L251.91 551.29L252.17 551.47L252.42 551.67L252.67 551.89L252.9 552.14L253.12 552.4L253.33 552.68L253.52 552.98L253.71 553.3L253.87 553.64L254.03 553.99L254.17 554.36L254.29 554.74L254.4 555.13L254.49 555.54L254.57 555.96L254.62 556.38L254.67 556.82L254.69 557.26L254.7 557.71L254.7 558.17L254.67 558.62L254.63 559.08L254.57 559.54L254.5 560.01L254.41 560.47ZM253.49 560.72L253.39 561.11L253.27 561.49L253.14 561.87L253 562.24L252.84 562.61L252.68 562.96L252.5 563.31L252.31 563.65L252.11 563.97L251.91 564.28L251.69 564.58L251.46 564.87L251.23 565.14L250.99 565.39L250.74 565.63L250.49 565.85L250.23 566.06L249.97 566.25L249.7 566.41L249.44 566.56L249.17 566.69L248.89 566.8L248.62 566.89L248.34 566.96L248.07 567.01L247.8 567.04L247.53 567.05L247.26 567.04L247 567L246.74 566.95L246.49 566.88L246.24 566.78L246 566.67L245.76 566.53L245.54 566.38L245.32 566.21L245.11 566.02L244.91 565.81L244.72 565.58L244.55 565.34L244.38 565.09L244.22 564.81L244.08 564.52L243.95 564.22L243.83 563.91L243.72 563.58L243.63 563.24L243.55 562.89L243.49 562.53L243.44 562.17L243.4 561.8L243.38 561.42L243.37 561.03L243.38 560.64L243.4 560.25L243.43 559.86L243.48 559.46L243.54 559.07L243.62 558.67L243.71 558.28L243.81 557.89L243.93 557.51L244.06 557.13L244.2 556.76L244.36 556.39L244.52 556.04L244.7 555.69L244.89 555.35L245.09 555.03L245.29 554.72L245.51 554.42L245.74 554.13L245.97 553.86L246.21 553.61L246.46 553.37L246.71 553.15L246.97 552.94L247.23 552.75L247.5 552.59L247.76 552.44L248.03 552.31L248.31 552.2L248.58 552.11L248.86 552.04L249.13 551.99L249.4 551.96L249.67 551.95L249.94 551.96L250.2 552L250.46 552.05L250.71 552.12L250.96 552.22L251.2 552.33L251.44 552.47L251.66 552.62L251.88 552.79L252.09 552.98L252.29 553.19L252.48 553.42L252.65 553.66L252.82 553.91L252.98 554.19L253.12 554.48L253.25 554.78L253.37 555.09L253.48 555.42L253.57 555.76L253.65 556.11L253.71 556.47L253.76 556.83L253.8 557.2L253.82 557.58L253.83 557.97L253.82 558.36L253.8 558.75L253.77 559.14L253.72 559.54L253.66 559.93L253.58 560.33ZM252.68 560.52L252.59 560.84L252.49 561.16L252.38 561.48L252.26 561.79L252.14 562.09L252 562.38L251.85 562.67L251.69 562.95L251.53 563.23L251.36 563.48L251.18 563.73L250.99 563.97L250.79 564.2L250.59 564.41L250.39 564.61L250.18 564.79L249.96 564.96L249.74 565.12L249.52 565.26L249.3 565.39L249.07 565.49L248.84 565.59L248.61 565.66L248.39 565.72L248.16 565.76L247.93 565.79L247.71 565.79L247.49 565.78L247.27 565.75L247.05 565.71L246.84 565.65L246.63 565.57L246.43 565.47L246.24 565.36L246.05 565.24L245.87 565.09L245.69 564.93L245.53 564.76L245.37 564.57L245.22 564.37L245.08 564.16L244.95 563.93L244.83 563.69L244.72 563.43L244.62 563.17L244.54 562.9L244.46 562.62L244.39 562.33L244.34 562.03L244.3 561.73L244.27 561.42L244.25 561.1L244.24 560.78L244.25 560.45L244.26 560.13L244.29 559.8L244.33 559.47L244.39 559.14L244.45 558.81L244.52 558.48L244.61 558.16L244.71 557.84L244.82 557.52L244.94 557.21L245.06 556.91L245.2 556.62L245.35 556.33L245.51 556.05L245.67 555.77L245.84 555.52L246.02 555.27L246.21 555.03L246.41 554.8L246.61 554.59L246.81 554.39L247.02 554.21L247.24 554.04L247.46 553.88L247.68 553.74L247.9 553.61L248.13 553.51L248.36 553.41L248.59 553.34L248.81 553.28L249.04 553.24L249.27 553.21L249.49 553.21L249.71 553.22L249.93 553.25L250.15 553.29L250.36 553.35L250.57 553.43L250.77 553.53L250.96 553.64L251.15 553.76L251.33 553.91L251.51 554.07L251.67 554.24L251.83 554.43L251.98 554.63L252.12 554.84L252.25 555.07L252.37 555.31L252.48 555.57L252.58 555.83L252.66 556.1L252.74 556.38L252.81 556.67L252.86 556.97L252.9 557.27L252.93 557.58L252.95 557.9L252.96 558.22L252.95 558.55L252.94 558.87L252.91 559.2L252.87 559.53L252.81 559.86L252.75 560.19ZM251.86 560.31L251.79 560.57L251.71 560.83L251.63 561.08L251.53 561.33L251.43 561.57L251.32 561.81L251.2 562.04L251.07 562.26L250.94 562.48L250.8 562.69L250.66 562.89L250.51 563.08L250.35 563.26L250.19 563.43L250.03 563.59L249.86 563.73L249.69 563.87L249.51 564L249.34 564.11L249.16 564.21L248.98 564.29L248.79 564.37L248.61 564.43L248.43 564.48L248.25 564.51L248.07 564.53L247.89 564.53L247.71 564.53L247.53 564.5L247.36 564.47L247.19 564.42L247.03 564.36L246.87 564.28L246.71 564.19L246.56 564.09L246.42 563.97L246.28 563.85L246.14 563.71L246.02 563.56L245.9 563.4L245.79 563.22L245.68 563.04L245.59 562.85L245.5 562.65L245.42 562.44L245.35 562.22L245.29 562L245.23 561.76L245.19 561.52L245.16 561.28L245.13 561.03L245.12 560.78L245.11 560.52L245.12 560.26L245.13 560L245.15 559.74L245.19 559.48L245.23 559.21L245.28 558.95L245.34 558.69L245.41 558.43L245.49 558.17L245.57 557.92L245.67 557.67L245.77 557.43L245.88 557.19L246 556.96L246.13 556.74L246.26 556.52L246.4 556.31L246.54 556.11L246.69 555.92L246.85 555.74L247.01 555.57L247.17 555.41L247.34 555.27L247.51 555.13L247.69 555L247.86 554.89L248.04 554.79L248.22 554.71L248.41 554.63L248.59 554.57L248.77 554.52L248.95 554.49L249.13 554.47L249.31 554.47L249.49 554.47L249.67 554.5L249.84 554.53L250.01 554.58L250.17 554.64L250.33 554.72L250.49 554.81L250.64 554.91L250.78 555.03L250.92 555.15L251.06 555.29L251.18 555.44L251.3 555.6L251.41 555.78L251.52 555.96L251.61 556.15L251.7 556.35L251.78 556.56L251.85 556.78L251.91 557L251.97 557.24L252.01 557.48L252.04 557.72L252.07 557.97L252.08 558.22L252.09 558.48L252.08 558.74L252.07 559L252.05 559.26L252.01 559.52L251.97 559.79L251.92 560.05ZM251.05 560.11L250.99 560.3L250.93 560.5L250.87 560.69L250.8 560.87L250.72 561.05L250.64 561.23L250.55 561.4L250.46 561.57L250.36 561.74L250.25 561.89L250.15 562.04L250.03 562.18L249.92 562.32L249.79 562.45L249.67 562.57L249.55 562.68L249.42 562.78L249.29 562.87L249.15 562.96L249.02 563.03L248.88 563.1L248.75 563.15L248.61 563.2L248.47 563.23L248.34 563.26L248.2 563.27L248.07 563.28L247.93 563.27L247.8 563.25L247.67 563.23L247.55 563.19L247.42 563.14L247.3 563.08L247.18 563.02L247.07 562.94L246.96 562.86L246.86 562.76L246.76 562.66L246.66 562.54L246.57 562.42L246.49 562.29L246.41 562.16L246.34 562.01L246.27 561.86L246.21 561.7L246.16 561.54L246.12 561.37L246.08 561.2L246.04 561.02L246.02 560.84L246 560.65L245.99 560.46L245.98 560.27L245.99 560.07L246 559.88L246.02 559.68L246.04 559.48L246.07 559.28L246.11 559.09L246.15 558.89L246.21 558.7L246.27 558.5L246.33 558.31L246.4 558.13L246.48 557.95L246.56 557.77L246.65 557.6L246.74 557.43L246.84 557.26L246.95 557.11L247.05 556.96L247.17 556.82L247.28 556.68L247.41 556.55L247.53 556.43L247.65 556.32L247.78 556.22L247.91 556.13L248.05 556.04L248.18 555.97L248.32 555.9L248.45 555.85L248.59 555.8L248.73 555.77L248.86 555.74L249 555.73L249.13 555.72L249.27 555.73L249.4 555.75L249.53 555.77L249.65 555.81L249.78 555.86L249.9 555.92L250.02 555.98L250.13 556.06L250.24 556.14L250.34 556.24L250.44 556.34L250.54 556.46L250.63 556.58L250.71 556.71L250.79 556.84L250.86 556.99L250.93 557.14L250.99 557.3L251.04 557.46L251.08 557.63L251.12 557.8L251.16 557.98L251.18 558.16L251.2 558.35L251.21 558.54L251.22 558.73L251.21 558.93L251.2 559.12L251.18 559.32L251.16 559.52L251.13 559.72L251.09 559.91Z" fill="none" stroke="#707070" stroke-width=".42"/>
<path d="M254.96 561.09L254.82 561.59L254.67 562.09L254.5 562.58L254.31 563.07L254.12 563.54L253.9 564L253.67 564.45L253.42 564.89L253.17 565.31L252.9 565.72L252.62 566.1L252.32 566.47L252.02 566.83L251.71 567.16L251.39 567.47L251.06 567.76L250.72 568.02L250.38 568.27L250.03 568.49L249.69 568.68L249.34 568.85L248.98 568.99L248.62 569.11L248.27 569.2L247.91 569.27L247.56 569.3L247.21 569.32L246.86 569.3L246.52 569.26L246.18 569.19L245.86 569.09L245.53 568.97L245.22 568.82L244.91 568.64L244.62 568.45L244.34 568.22L244.07 567.98L243.81 567.7L243.56 567.41L243.33 567.1L243.11 566.76L242.91 566.41L242.72 566.03L242.55 565.64L242.4 565.23L242.26 564.81L242.14 564.37L242.04 563.91L241.95 563.44L241.89 562.97L241.84 562.49L241.81 561.99L241.8 561.49L241.81 560.98L241.83 560.48L241.88 559.97L241.94 559.45L242.03 558.93L242.13 558.42L242.24 557.91L242.38 557.41L242.53 556.91L242.7 556.42L242.89 555.93L243.08 555.46L243.3 555L243.53 554.55L243.78 554.11L244.03 553.69L244.3 553.28L244.58 552.9L244.88 552.53L245.18 552.17L245.49 551.84L245.81 551.53L246.14 551.24L246.48 550.98L246.82 550.73L247.17 550.51L247.51 550.32L247.86 550.15L248.22 550.01L248.58 549.89L248.93 549.8L249.29 549.73L249.64 549.7L249.99 549.68L250.34 549.7L250.68 549.74L251.02 549.81L251.34 549.91L251.67 550.03L251.98 550.18L252.29 550.36L252.58 550.55L252.86 550.78L253.13 551.02L253.39 551.3L253.64 551.59L253.87 551.9L254.09 552.24L254.29 552.59L254.48 552.97L254.65 553.36L254.8 553.77L254.94 554.19L255.06 554.63L255.16 555.09L255.25 555.56L255.31 556.03L255.36 556.51L255.39 557.01L255.4 557.51L255.39 558.02L255.37 558.52L255.32 559.03L255.26 559.55L255.17 560.07L255.07 560.58Z" fill="none" stroke="#4a4a4a" stroke-width=".5"/>
<path d="M250.23 559.91L250.2 560.04L250.16 560.16L250.11 560.29L250.07 560.41L250.01 560.54L249.96 560.65L249.9 560.77L249.84 560.88L249.77 560.99L249.7 561.09L249.63 561.19L249.55 561.29L249.48 561.38L249.4 561.46L249.31 561.54L249.23 561.62L249.14 561.69L249.06 561.75L248.97 561.8L248.88 561.85L248.79 561.9L248.7 561.93L248.61 561.96L248.51 561.99L248.42 562L248.33 562.01L248.24 562.02L248.15 562.01L248.07 562L247.98 561.98L247.9 561.96L247.81 561.93L247.73 561.89L247.65 561.84L247.58 561.79L247.51 561.74L247.44 561.67L247.37 561.6L247.31 561.53L247.25 561.45L247.19 561.36L247.14 561.27L247.09 561.17L247.05 561.07L247.01 560.97L246.97 560.86L246.94 560.75L246.92 560.63L246.9 560.51L246.88 560.39L246.87 560.27L246.86 560.14L246.86 560.01L246.86 559.88L246.87 559.75L246.88 559.62L246.89 559.49L246.91 559.36L246.94 559.22L246.97 559.09L247 558.96L247.04 558.84L247.09 558.71L247.13 558.59L247.19 558.46L247.24 558.35L247.3 558.23L247.36 558.12L247.43 558.01L247.5 557.91L247.57 557.81L247.65 557.71L247.72 557.62L247.8 557.54L247.89 557.46L247.97 557.38L248.06 557.31L248.14 557.25L248.23 557.2L248.32 557.15L248.41 557.1L248.5 557.07L248.59 557.04L248.69 557.01L248.78 557L248.87 556.99L248.96 556.98L249.05 556.99L249.13 557L249.22 557.02L249.3 557.04L249.39 557.07L249.47 557.11L249.55 557.16L249.62 557.21L249.69 557.26L249.76 557.33L249.83 557.4L249.89 557.47L249.95 557.55L250.01 557.64L250.06 557.73L250.11 557.83L250.15 557.93L250.19 558.03L250.23 558.14L250.26 558.25L250.28 558.37L250.3 558.49L250.32 558.61L250.33 558.73L250.34 558.86L250.34 558.99L250.34 559.12L250.33 559.25L250.32 559.38L250.31 559.51L250.29 559.64L250.26 559.78Z" fill="#f4f4f4" stroke="#888" stroke-width=".4"/>
<path d="M350.2 545h.7m5.1 1.4h.7m6.2 1.9h.7m-14.6 2.7h.7m-4.3 1.6h.7m3 .5h.7m-8.1 1.1h.7m8.1 .9h.7m-.3-.5h.7m5.7 .5h.7m-4.1 .7h.7m-14.6 .8h.7m6 .4h.7m2.2 0h.7m1.7 0h.7m12 .3h.7m-24.3 .7h.7m12.2-.1h.7m1.2 .1h.7m.9 .4h.7m.2-.5h.7m-5 3.4h.7m2.6-.3h.7m-16 1.1h.7m14.8 .1h.7m-18.3 .5h.7m20.8 .7h.7m-8.4 .2h.7m1 .1h.7m21.7 .2h.7m-35.1 .6h.7m7.6 .4h.7m-14.3 1.4h.7m4.8-.6h.7m4.5-.1h.7m6.4 .3h.7m.6-.1h.7m2.4 3.4h.7m-11 2h.7m-1.1 4.1h.7m-12.8 13.5h.7m2.5 1.1h.7m-8.1 1.2h.7m13.1 .4h.7m-16.2 2.4h.7m11.2 1h.7m-2.8 1.5h.7m-12.8 2.2h.7m-2.7 1.8h.7m13-.1h.7m18.8-.6h.7m-34 1h.7m2.7 .8h.7m7-.4h.7m-14.2 1.3h.7m6.2 .1h.7m14.5 1.1h.7m-10.9 2.7h.7" fill="none" stroke="#333" stroke-width="0.7" stroke-opacity="0.6"/>
<path d="M315 565L315.47 563.18L315.99 561.07L316.58 558.87L317.25 556.78L318 555L318.86 553.56L319.81 552.33L320.83 551.27L321.9 550.34L323 549.5L324.14 548.74L325.33 548.09L326.55 547.57L327.78 547.2L329 547L330.24 546.98L331.51 547.12L332.76 547.42L333.94 547.88L335 548.5L335.96 549.27L336.87 550.2L337.67 551.28L338.33 552.55L338.8 554L339.05 555.71L339.1 557.68L339.01 559.78L338.83 561.93L338.6 564L338.3 566L337.89 568L337.42 570L336.94 572L336.5 574L336.1 576.02L335.72 578.05L335.33 580.07L334.93 582.06L334.5 584L334.06 585.91L333.61 587.82L333.13 589.66L332.6 591.41L332 593L331.33 594.46L330.6 595.83L329.82 597.07L328.95 598.14L328 599L326.92 599.65L325.72 600.12L324.46 600.4L323.2 600.53L322 600.5L320.83 600.33L319.64 600L318.49 599.52L317.43 598.85L316.5 598L315.72 596.95L315.04 595.72L314.47 594.3L313.99 592.73L313.6 591L313.31 589.02L313.14 586.79L313.04 584.45L313.01 582.14L313 580L313.03 578.02L313.12 576.11L313.24 574.29L313.41 572.58L313.6 571L313.8 569.67L314.03 568.58L314.29 567.54L314.6 566.41Z" fill="#fff" stroke="#666" stroke-width=".5"/>
<clipPath id="gg14"><path d="M315 565L315.47 563.18L315.99 561.07L316.58 558.87L317.25 556.78L318 555L318.86 553.56L319.81 552.33L320.83 551.27L321.9 550.34L323 549.5L324.14 548.74L325.33 548.09L326.55 547.57L327.78 547.2L329 547L330.24 546.98L331.51 547.12L332.76 547.42L333.94 547.88L335 548.5L335.96 549.27L336.87 550.2L337.67 551.28L338.33 552.55L338.8 554L339.05 555.71L339.1 557.68L339.01 559.78L338.83 561.93L338.6 564L338.3 566L337.89 568L337.42 570L336.94 572L336.5 574L336.1 576.02L335.72 578.05L335.33 580.07L334.93 582.06L334.5 584L334.06 585.91L333.61 587.82L333.13 589.66L332.6 591.41L332 593L331.33 594.46L330.6 595.83L329.82 597.07L328.95 598.14L328 599L326.92 599.65L325.72 600.12L324.46 600.4L323.2 600.53L322 600.5L320.83 600.33L319.64 600L318.49 599.52L317.43 598.85L316.5 598L315.72 596.95L315.04 595.72L314.47 594.3L313.99 592.73L313.6 591L313.31 589.02L313.14 586.79L313.04 584.45L313.01 582.14L313 580L313.03 578.02L313.12 576.11L313.24 574.29L313.41 572.58L313.6 571L313.8 569.67L314.03 568.58L314.29 567.54L314.6 566.41Z"/></clipPath>
<path d="M315.8 566.84L316.23 565.17L316.71 563.23L317.25 561.2L317.87 559.27L318.56 557.64L319.35 556.32L320.22 555.19L321.17 554.21L322.15 553.35L323.16 552.58L324.21 551.88L325.3 551.28L326.43 550.8L327.56 550.46L328.68 550.28L329.82 550.26L330.99 550.39L332.14 550.67L333.23 551.09L334.2 551.66L335.09 552.37L335.92 553.22L336.66 554.22L337.26 555.38L337.7 556.72L337.92 558.3L337.97 560.1L337.89 562.04L337.72 564.01L337.51 565.92L337.24 567.76L336.86 569.6L336.43 571.44L335.99 573.28L335.58 575.12L335.21 576.97L334.86 578.84L334.5 580.71L334.14 582.54L333.74 584.32L333.33 586.08L332.92 587.83L332.48 589.53L332 591.14L331.44 592.6L330.82 593.95L330.16 595.21L329.43 596.34L328.64 597.33L327.76 598.12L326.77 598.72L325.66 599.15L324.5 599.41L323.34 599.53L322.24 599.5L321.16 599.34L320.07 599.04L319.01 598.59L318.03 597.98L317.18 597.2L316.46 596.24L315.84 595.1L315.31 593.8L314.87 592.35L314.51 590.76L314.25 588.94L314.09 586.89L314 584.73L313.97 582.61L313.96 580.64L313.99 578.82L314.07 577.06L314.19 575.38L314.34 573.81L314.51 572.36L314.7 571.14L314.9 570.13L315.14 569.18L315.44 568.14ZM316.6 568.68L316.99 567.15L317.43 565.38L317.93 563.53L318.49 561.77L319.12 560.28L319.84 559.07L320.64 558.04L321.5 557.15L322.4 556.36L323.32 555.66L324.27 555.02L325.28 554.48L326.3 554.04L327.34 553.72L328.36 553.56L329.4 553.54L330.46 553.66L331.52 553.91L332.51 554.3L333.4 554.82L334.21 555.47L334.97 556.24L335.65 557.16L336.2 558.22L336.59 559.44L336.8 560.88L336.84 562.53L336.77 564.3L336.61 566.1L336.42 567.84L336.17 569.52L335.83 571.2L335.44 572.88L335.03 574.56L334.66 576.24L334.33 577.93L334 579.64L333.68 581.34L333.34 583.01L332.98 584.64L332.61 586.25L332.23 587.85L331.83 589.4L331.39 590.86L330.88 592.2L330.32 593.43L329.71 594.58L329.05 595.62L328.32 596.51L327.52 597.24L326.61 597.79L325.6 598.18L324.55 598.42L323.49 598.52L322.48 598.5L321.49 598.36L320.5 598.08L319.53 597.67L318.64 597.12L317.86 596.4L317.2 595.52L316.64 594.48L316.15 593.3L315.75 591.97L315.42 590.52L315.18 588.86L315.03 586.99L314.96 585.02L314.93 583.07L314.92 581.28L314.95 579.62L315.02 578.01L315.13 576.48L315.26 575.04L315.42 573.72L315.59 572.6L315.78 571.68L316 570.82L316.27 569.86ZM328.05 585.44L327.86 586.08L327.58 586.67L327.22 587.17L326.79 587.57L326.33 587.83L325.85 587.96L325.38 587.93L324.93 587.76L324.55 587.45L324.23 587.02L324.01 586.49L323.88 585.88L323.86 585.23L323.95 584.56L324.14 583.92L324.42 583.33L324.78 582.83L325.21 582.43L325.67 582.17L326.15 582.04L326.62 582.07L327.07 582.24L327.45 582.55L327.77 582.98L327.99 583.51L328.12 584.12L328.14 584.77ZM329.49 585.74L329.17 586.83L328.69 587.83L328.07 588.69L327.35 589.36L326.56 589.82L325.74 590.03L324.94 589.99L324.19 589.7L323.53 589.17L322.99 588.44L322.61 587.53L322.39 586.5L322.36 585.39L322.51 584.26L322.83 583.17L323.31 582.17L323.93 581.31L324.65 580.64L325.44 580.18L326.26 579.97L327.06 580.01L327.81 580.3L328.47 580.83L329.01 581.56L329.39 582.47L329.61 583.5L329.64 584.61ZM330.93 586.05L330.47 587.59L329.79 589L328.92 590.21L327.9 591.16L326.79 591.8L325.64 592.1L324.5 592.04L323.44 591.63L322.51 590.89L321.76 589.85L321.21 588.57L320.91 587.11L320.86 585.55L321.07 583.95L321.53 582.41L322.21 581L323.08 579.79L324.1 578.84L325.21 578.2L326.36 577.9L327.5 577.96L328.56 578.37L329.49 579.11L330.24 580.15L330.79 581.43L331.09 582.89L331.14 584.45ZM332.37 586.35L331.78 588.34L330.9 590.17L329.77 591.73L328.46 592.96L327.02 593.78L325.53 594.17L324.07 594.1L322.7 593.57L321.5 592.61L320.52 591.27L319.82 589.61L319.42 587.73L319.36 585.7L319.63 583.65L320.22 581.66L321.1 579.83L322.23 578.27L323.54 577.04L324.98 576.22L326.47 575.83L327.93 575.9L329.3 576.43L330.5 577.39L331.48 578.73L332.18 580.39L332.58 582.27L332.64 584.3ZM333.81 586.66L333.08 589.1L332 591.33L330.62 593.25L329.01 594.75L327.25 595.77L325.43 596.24L323.63 596.15L321.95 595.5L320.48 594.33L319.28 592.68L318.42 590.66L317.94 588.34L317.86 585.86L318.19 583.34L318.92 580.9L320 578.67L321.38 576.75L322.99 575.25L324.75 574.23L326.57 573.76L328.37 573.85L330.05 574.5L331.52 575.67L332.72 577.32L333.58 579.34L334.06 581.66L334.14 584.14ZM335.24 586.96L334.39 589.85L333.11 592.5L331.48 594.77L329.57 596.55L327.48 597.75L325.32 598.31L323.19 598.2L321.21 597.44L319.46 596.04L318.04 594.1L317.02 591.7L316.45 588.96L316.36 586.02L316.76 583.04L317.61 580.15L318.89 577.5L320.52 575.23L322.43 573.45L324.52 572.25L326.68 571.69L328.81 571.8L330.79 572.56L332.54 573.96L333.96 575.9L334.98 578.3L335.55 581.04L335.64 583.98ZM336.68 587.27L335.69 590.61L334.22 593.67L332.33 596.29L330.12 598.35L327.71 599.73L325.21 600.38L322.76 600.26L320.46 599.37L318.44 597.76L316.8 595.51L315.63 592.74L314.97 589.58L314.86 586.18L315.32 582.73L316.31 579.39L317.78 576.33L319.67 573.71L321.88 571.65L324.29 570.27L326.79 569.62L329.24 569.74L331.54 570.63L333.56 572.24L335.2 574.49L336.37 577.26L337.03 580.42L337.14 583.82Z" fill="none" stroke="#7c7c7c" stroke-width=".42" clip-path="url(#gg14)"/>
<path d="M337.26 563.06L337.12 563.83L336.94 564.6L336.75 565.36L336.53 566.1L336.29 566.83L336.03 567.55L335.74 568.25L335.44 568.94L335.11 569.6L334.77 570.24L334.42 570.85L334.04 571.44L333.65 572.01L333.24 572.55L332.83 573.05L332.4 573.52L331.95 573.96L331.5 574.37L331.04 574.74L330.58 575.07L330.11 575.37L329.63 575.63L329.14 575.85L328.66 576.03L328.18 576.17L327.7 576.27L327.22 576.33L326.73 576.35L326.26 576.33L325.8 576.27L325.34 576.17L324.88 576.03L324.44 575.84L324.01 575.62L323.59 575.36L323.19 575.07L322.79 574.73L322.42 574.36L322.05 573.95L321.71 573.51L321.39 573.04L321.08 572.53L320.8 571.99L320.53 571.43L320.29 570.84L320.07 570.23L319.87 569.58L319.7 568.92L319.55 568.23L319.42 567.53L319.32 566.82L319.24 566.08L319.19 565.33L319.17 564.57L319.16 563.81L319.19 563.05L319.24 562.27L319.31 561.49L319.41 560.71L319.54 559.94L319.68 559.17L319.86 558.4L320.05 557.64L320.27 556.9L320.51 556.17L320.77 555.45L321.06 554.75L321.36 554.06L321.69 553.4L322.03 552.76L322.38 552.15L322.76 551.56L323.15 550.99L323.56 550.45L323.97 549.95L324.4 549.48L324.85 549.04L325.3 548.63L325.76 548.26L326.22 547.93L326.69 547.63L327.17 547.37L327.66 547.15L328.14 546.97L328.62 546.83L329.1 546.73L329.58 546.67L330.07 546.65L330.54 546.67L331 546.73L331.46 546.83L331.92 546.97L332.36 547.16L332.79 547.38L333.21 547.64L333.61 547.93L334.01 548.27L334.38 548.64L334.75 549.05L335.09 549.49L335.41 549.96L335.72 550.47L336 551.01L336.27 551.57L336.51 552.16L336.73 552.77L336.93 553.42L337.1 554.08L337.25 554.77L337.38 555.47L337.48 556.18L337.56 556.92L337.61 557.67L337.63 558.43L337.64 559.19L337.61 559.95L337.56 560.73L337.49 561.51L337.39 562.29Z" fill="#dedede" stroke="#666" stroke-width=".5"/>
<path d="M336.38 562.91L336.24 563.6L336.09 564.29L335.91 564.97L335.71 565.64L335.5 566.3L335.26 566.94L335.01 567.58L334.73 568.19L334.44 568.79L334.14 569.37L333.81 569.92L333.48 570.45L333.12 570.96L332.76 571.44L332.38 571.9L332 572.32L331.6 572.72L331.19 573.08L330.78 573.42L330.36 573.72L329.93 573.98L329.5 574.22L329.07 574.42L328.63 574.58L328.2 574.71L327.77 574.8L327.33 574.85L326.9 574.87L326.47 574.85L326.06 574.79L325.64 574.7L325.24 574.57L324.84 574.41L324.45 574.21L324.07 573.98L323.71 573.71L323.35 573.41L323.01 573.07L322.69 572.7L322.38 572.31L322.09 571.89L321.82 571.43L321.56 570.94L321.32 570.44L321.1 569.91L320.9 569.35L320.73 568.77L320.57 568.17L320.43 567.56L320.32 566.93L320.23 566.29L320.16 565.62L320.11 564.95L320.09 564.27L320.09 563.58L320.11 562.89L320.16 562.19L320.22 561.49L320.31 560.79L320.42 560.09L320.56 559.4L320.71 558.71L320.89 558.03L321.09 557.36L321.3 556.7L321.54 556.06L321.79 555.42L322.07 554.81L322.36 554.21L322.66 553.63L322.99 553.08L323.32 552.55L323.68 552.04L324.04 551.56L324.42 551.1L324.8 550.68L325.2 550.28L325.61 549.92L326.02 549.58L326.44 549.28L326.87 549.02L327.3 548.78L327.73 548.58L328.17 548.42L328.6 548.29L329.03 548.2L329.47 548.15L329.9 548.13L330.33 548.15L330.74 548.21L331.16 548.3L331.56 548.43L331.96 548.59L332.35 548.79L332.73 549.02L333.09 549.29L333.45 549.59L333.79 549.93L334.11 550.3L334.42 550.69L334.71 551.11L334.98 551.57L335.24 552.06L335.48 552.56L335.7 553.09L335.9 553.65L336.07 554.23L336.23 554.83L336.37 555.44L336.48 556.07L336.57 556.71L336.64 557.38L336.69 558.05L336.71 558.73L336.71 559.42L336.69 560.11L336.64 560.81L336.58 561.51L336.49 562.21ZM335.49 562.75L335.37 563.36L335.23 563.98L335.08 564.58L334.9 565.18L334.71 565.77L334.5 566.34L334.27 566.9L334.03 567.45L333.77 567.98L333.5 568.49L333.21 568.98L332.91 569.46L332.6 569.91L332.27 570.34L331.94 570.74L331.6 571.12L331.24 571.47L330.88 571.8L330.51 572.09L330.14 572.36L329.76 572.6L329.38 572.8L328.99 572.98L328.61 573.13L328.22 573.24L327.84 573.32L327.45 573.37L327.07 573.38L326.69 573.37L326.32 573.32L325.95 573.24L325.59 573.12L325.23 572.98L324.89 572.8L324.55 572.59L324.23 572.35L323.91 572.08L323.61 571.79L323.32 571.46L323.05 571.11L322.79 570.73L322.55 570.33L322.32 569.9L322.11 569.44L321.91 568.97L321.74 568.48L321.58 567.97L321.44 567.43L321.32 566.88L321.22 566.33L321.14 565.75L321.08 565.17L321.03 564.57L321.01 563.96L321.01 563.35L321.03 562.74L321.07 562.12L321.13 561.49L321.21 560.87L321.31 560.25L321.43 559.64L321.57 559.02L321.72 558.42L321.9 557.82L322.09 557.23L322.3 556.66L322.53 556.1L322.77 555.55L323.03 555.02L323.3 554.51L323.59 554.02L323.89 553.54L324.2 553.09L324.53 552.66L324.86 552.26L325.2 551.88L325.56 551.53L325.92 551.2L326.29 550.91L326.66 550.64L327.04 550.4L327.42 550.2L327.81 550.02L328.19 549.87L328.58 549.76L328.96 549.68L329.35 549.63L329.73 549.62L330.11 549.63L330.48 549.68L330.85 549.76L331.21 549.88L331.57 550.02L331.91 550.2L332.25 550.41L332.57 550.65L332.89 550.92L333.19 551.21L333.48 551.54L333.75 551.89L334.01 552.27L334.25 552.67L334.48 553.1L334.69 553.56L334.89 554.03L335.06 554.52L335.22 555.03L335.36 555.57L335.48 556.12L335.58 556.67L335.66 557.25L335.72 557.83L335.77 558.43L335.79 559.04L335.79 559.65L335.77 560.26L335.73 560.88L335.67 561.51L335.59 562.13ZM334.6 562.59L334.5 563.13L334.38 563.67L334.24 564.2L334.09 564.72L333.92 565.23L333.74 565.73L333.54 566.23L333.33 566.71L333.1 567.17L332.86 567.62L332.61 568.05L332.35 568.46L332.07 568.86L331.79 569.23L331.5 569.59L331.2 569.91L330.89 570.22L330.57 570.51L330.25 570.77L329.92 571L329.59 571.21L329.26 571.39L328.92 571.55L328.58 571.67L328.24 571.77L327.91 571.84L327.57 571.88L327.23 571.9L326.9 571.88L326.58 571.84L326.26 571.77L325.94 571.67L325.63 571.54L325.33 571.39L325.03 571.2L324.75 571L324.48 570.76L324.21 570.5L323.96 570.21L323.72 569.91L323.49 569.58L323.28 569.22L323.08 568.85L322.89 568.45L322.72 568.04L322.57 567.61L322.43 567.16L322.31 566.69L322.2 566.21L322.12 565.72L322.04 565.22L321.99 564.71L321.95 564.18L321.94 563.65L321.94 563.12L321.95 562.58L321.99 562.04L322.04 561.49L322.11 560.95L322.2 560.41L322.3 559.87L322.42 559.33L322.56 558.8L322.71 558.28L322.88 557.77L323.06 557.27L323.26 556.77L323.47 556.29L323.7 555.83L323.94 555.38L324.19 554.95L324.45 554.54L324.73 554.14L325.01 553.77L325.3 553.41L325.6 553.09L325.91 552.78L326.23 552.49L326.55 552.23L326.88 552L327.21 551.79L327.54 551.61L327.88 551.45L328.22 551.33L328.56 551.23L328.89 551.16L329.23 551.12L329.57 551.1L329.9 551.12L330.22 551.16L330.54 551.23L330.86 551.33L331.17 551.46L331.47 551.61L331.77 551.8L332.05 552L332.32 552.24L332.59 552.5L332.84 552.79L333.08 553.09L333.31 553.42L333.52 553.78L333.72 554.15L333.91 554.55L334.08 554.96L334.23 555.39L334.37 555.84L334.49 556.31L334.6 556.79L334.68 557.28L334.76 557.78L334.81 558.29L334.85 558.82L334.86 559.35L334.86 559.88L334.85 560.42L334.81 560.96L334.76 561.51L334.69 562.05ZM333.72 562.44L333.63 562.9L333.53 563.36L333.41 563.81L333.28 564.26L333.13 564.7L332.98 565.13L332.8 565.55L332.62 565.96L332.43 566.36L332.22 566.74L332.01 567.11L331.78 567.47L331.55 567.81L331.3 568.13L331.06 568.43L330.8 568.71L330.53 568.98L330.26 569.22L329.98 569.44L329.71 569.64L329.42 569.82L329.14 569.98L328.85 570.11L328.56 570.22L328.27 570.3L327.98 570.36L327.69 570.4L327.4 570.41L327.12 570.4L326.84 570.36L326.56 570.3L326.29 570.22L326.02 570.11L325.76 569.97L325.51 569.82L325.27 569.64L325.04 569.44L324.81 569.21L324.59 568.97L324.39 568.71L324.19 568.42L324.01 568.12L323.84 567.8L323.68 567.46L323.53 567.1L323.4 566.74L323.28 566.35L323.18 565.95L323.09 565.54L323.01 565.12L322.95 564.69L322.91 564.25L322.88 563.8L322.86 563.34L322.86 562.89L322.87 562.43L322.9 561.96L322.95 561.49L323.01 561.02L323.08 560.56L323.17 560.1L323.27 559.64L323.39 559.19L323.52 558.74L323.67 558.3L323.82 557.87L324 557.45L324.18 557.04L324.37 556.64L324.58 556.26L324.79 555.89L325.02 555.53L325.25 555.19L325.5 554.87L325.74 554.57L326 554.29L326.27 554.02L326.54 553.78L326.82 553.56L327.09 553.36L327.38 553.18L327.66 553.02L327.95 552.89L328.24 552.78L328.53 552.7L328.82 552.64L329.11 552.6L329.4 552.59L329.68 552.6L329.96 552.64L330.24 552.7L330.51 552.78L330.78 552.89L331.04 553.03L331.29 553.18L331.53 553.36L331.76 553.56L331.99 553.79L332.21 554.03L332.41 554.29L332.61 554.58L332.79 554.88L332.96 555.2L333.12 555.54L333.27 555.9L333.4 556.26L333.52 556.65L333.62 557.05L333.71 557.46L333.79 557.88L333.85 558.31L333.89 558.75L333.92 559.2L333.94 559.66L333.94 560.11L333.93 560.57L333.9 561.04L333.85 561.51L333.79 561.98ZM332.83 562.28L332.76 562.66L332.67 563.05L332.57 563.43L332.46 563.8L332.34 564.17L332.21 564.52L332.07 564.88L331.92 565.22L331.76 565.55L331.59 565.87L331.41 566.18L331.22 566.47L331.02 566.76L330.82 567.02L330.61 567.28L330.4 567.51L330.18 567.73L329.95 567.93L329.72 568.12L329.49 568.29L329.25 568.43L329.01 568.56L328.77 568.68L328.53 568.77L328.29 568.84L328.05 568.89L327.81 568.92L327.57 568.93L327.33 568.92L327.1 568.89L326.87 568.84L326.64 568.76L326.42 568.67L326.2 568.56L326 568.43L325.79 568.28L325.6 568.12L325.41 567.93L325.23 567.72L325.06 567.51L324.9 567.27L324.74 567.02L324.6 566.75L324.47 566.46L324.35 566.17L324.24 565.86L324.14 565.54L324.05 565.21L323.97 564.87L323.91 564.52L323.86 564.16L323.82 563.79L323.8 563.42L323.78 563.04L323.78 562.66L323.79 562.27L323.82 561.88L323.86 561.49L323.91 561.1L323.97 560.72L324.04 560.34L324.13 559.95L324.23 559.57L324.34 559.2L324.46 558.83L324.59 558.48L324.73 558.12L324.88 557.78L325.04 557.45L325.21 557.13L325.39 556.82L325.58 556.53L325.78 556.24L325.98 555.98L326.19 555.72L326.4 555.49L326.62 555.27L326.85 555.07L327.08 554.88L327.31 554.71L327.55 554.57L327.79 554.44L328.03 554.32L328.27 554.23L328.51 554.16L328.75 554.11L328.99 554.08L329.23 554.07L329.47 554.08L329.7 554.11L329.93 554.16L330.16 554.24L330.38 554.33L330.6 554.44L330.8 554.57L331.01 554.72L331.2 554.88L331.39 555.07L331.57 555.28L331.74 555.49L331.9 555.73L332.06 555.98L332.2 556.25L332.33 556.54L332.45 556.83L332.56 557.14L332.66 557.46L332.75 557.79L332.83 558.13L332.89 558.48L332.94 558.84L332.98 559.21L333 559.58L333.02 559.96L333.02 560.34L333.01 560.73L332.98 561.12L332.94 561.51L332.89 561.9ZM331.95 562.13L331.89 562.43L331.82 562.74L331.74 563.04L331.65 563.34L331.55 563.63L331.45 563.92L331.34 564.2L331.21 564.47L331.09 564.74L330.95 565L330.81 565.24L330.66 565.48L330.5 565.7L330.34 565.92L330.17 566.12L330 566.31L329.82 566.48L329.64 566.65L329.46 566.8L329.27 566.93L329.08 567.05L328.89 567.15L328.7 567.24L328.5 567.31L328.31 567.37L328.12 567.41L327.93 567.43L327.73 567.44L327.54 567.43L327.36 567.41L327.18 567.37L326.99 567.31L326.82 567.24L326.64 567.15L326.48 567.05L326.31 566.93L326.16 566.79L326.01 566.64L325.86 566.48L325.73 566.3L325.6 566.12L325.47 565.91L325.36 565.7L325.25 565.47L325.16 565.24L325.07 564.99L324.99 564.73L324.92 564.47L324.86 564.19L324.81 563.91L324.77 563.63L324.74 563.33L324.72 563.03L324.71 562.73L324.71 562.43L324.72 562.12L324.74 561.81L324.77 561.5L324.81 561.18L324.85 560.87L324.91 560.57L324.98 560.26L325.06 559.96L325.15 559.66L325.25 559.37L325.35 559.08L325.46 558.8L325.59 558.53L325.71 558.26L325.85 558L325.99 557.76L326.14 557.52L326.3 557.3L326.46 557.08L326.63 556.88L326.8 556.69L326.98 556.52L327.16 556.35L327.34 556.2L327.53 556.07L327.72 555.95L327.91 555.85L328.1 555.76L328.3 555.69L328.49 555.63L328.68 555.59L328.87 555.57L329.07 555.56L329.26 555.57L329.44 555.59L329.62 555.63L329.81 555.69L329.98 555.76L330.16 555.85L330.32 555.95L330.49 556.07L330.64 556.21L330.79 556.36L330.94 556.52L331.07 556.7L331.2 556.88L331.33 557.09L331.44 557.3L331.55 557.53L331.64 557.76L331.73 558.01L331.81 558.27L331.88 558.53L331.94 558.81L331.99 559.09L332.03 559.37L332.06 559.67L332.08 559.97L332.09 560.27L332.09 560.57L332.08 560.88L332.06 561.19L332.03 561.5L331.99 561.82ZM331.06 561.97L331.01 562.2L330.96 562.43L330.9 562.66L330.84 562.88L330.77 563.1L330.69 563.31L330.6 563.53L330.51 563.73L330.41 563.93L330.31 564.12L330.2 564.31L330.09 564.48L329.97 564.65L329.85 564.81L329.73 564.97L329.6 565.11L329.47 565.24L329.33 565.36L329.19 565.47L329.05 565.57L328.91 565.66L328.77 565.74L328.62 565.81L328.48 565.86L328.33 565.9L328.19 565.93L328.04 565.95L327.9 565.96L327.76 565.95L327.62 565.93L327.48 565.9L327.35 565.86L327.21 565.8L327.08 565.74L326.96 565.66L326.84 565.57L326.72 565.47L326.6 565.36L326.5 565.23L326.39 565.1L326.3 564.96L326.21 564.81L326.12 564.65L326.04 564.48L325.97 564.3L325.9 564.12L325.84 563.92L325.79 563.72L325.74 563.52L325.71 563.31L325.68 563.1L325.65 562.87L325.64 562.65L325.63 562.42L325.63 562.19L325.64 561.96L325.65 561.73L325.67 561.5L325.7 561.26L325.74 561.03L325.79 560.8L325.84 560.57L325.9 560.34L325.96 560.12L326.03 559.9L326.11 559.69L326.2 559.47L326.29 559.27L326.39 559.07L326.49 558.88L326.6 558.69L326.71 558.52L326.83 558.35L326.95 558.19L327.07 558.03L327.2 557.89L327.33 557.76L327.47 557.64L327.61 557.53L327.75 557.43L327.89 557.34L328.03 557.26L328.18 557.19L328.32 557.14L328.47 557.1L328.61 557.07L328.76 557.05L328.9 557.04L329.04 557.05L329.18 557.07L329.32 557.1L329.45 557.14L329.59 557.2L329.72 557.26L329.84 557.34L329.96 557.43L330.08 557.53L330.2 557.64L330.3 557.77L330.41 557.9L330.5 558.04L330.59 558.19L330.68 558.35L330.76 558.52L330.83 558.7L330.9 558.88L330.96 559.08L331.01 559.28L331.06 559.48L331.09 559.69L331.12 559.9L331.15 560.13L331.16 560.35L331.17 560.58L331.17 560.81L331.16 561.04L331.15 561.27L331.13 561.5L331.1 561.74Z" fill="none" stroke="#707070" stroke-width=".42"/>
<path d="M335.31 562.72L335.2 563.32L335.06 563.91L334.91 564.51L334.74 565.09L334.55 565.66L334.35 566.22L334.13 566.77L333.89 567.3L333.64 567.82L333.37 568.32L333.09 568.79L332.8 569.26L332.49 569.7L332.18 570.12L331.85 570.51L331.52 570.88L331.17 571.22L330.82 571.54L330.46 571.83L330.1 572.09L329.73 572.32L329.36 572.52L328.98 572.69L328.6 572.84L328.23 572.95L327.85 573.02L327.48 573.07L327.1 573.09L326.73 573.07L326.37 573.02L326.01 572.94L325.66 572.83L325.31 572.69L324.97 572.52L324.65 572.31L324.33 572.08L324.03 571.82L323.73 571.53L323.45 571.21L323.18 570.87L322.93 570.5L322.69 570.11L322.47 569.69L322.26 569.24L322.07 568.79L321.9 568.31L321.75 567.8L321.61 567.28L321.5 566.75L321.4 566.21L321.32 565.65L321.26 565.07L321.22 564.49L321.2 563.9L321.2 563.3L321.22 562.71L321.25 562.1L321.31 561.49L321.39 560.88L321.49 560.28L321.6 559.68L321.74 559.09L321.89 558.49L322.06 557.91L322.25 557.34L322.45 556.78L322.67 556.23L322.91 555.7L323.16 555.18L323.43 554.68L323.71 554.21L324 553.74L324.31 553.3L324.62 552.88L324.95 552.49L325.28 552.12L325.63 551.78L325.98 551.46L326.34 551.17L326.7 550.91L327.07 550.68L327.44 550.48L327.82 550.31L328.2 550.16L328.57 550.05L328.95 549.98L329.32 549.93L329.7 549.91L330.07 549.93L330.43 549.98L330.79 550.06L331.14 550.17L331.49 550.31L331.83 550.48L332.15 550.69L332.47 550.92L332.77 551.18L333.07 551.47L333.35 551.79L333.62 552.13L333.87 552.5L334.11 552.89L334.33 553.31L334.54 553.76L334.73 554.21L334.9 554.69L335.05 555.2L335.19 555.72L335.3 556.25L335.4 556.79L335.48 557.35L335.54 557.93L335.58 558.51L335.6 559.1L335.6 559.7L335.58 560.29L335.55 560.9L335.49 561.51L335.41 562.12Z" fill="none" stroke="#4a4a4a" stroke-width=".5"/>
<path d="M330.17 561.81L330.14 561.97L330.11 562.12L330.07 562.27L330.03 562.42L329.98 562.57L329.93 562.71L329.87 562.85L329.81 562.99L329.74 563.12L329.67 563.25L329.6 563.37L329.53 563.49L329.45 563.6L329.37 563.71L329.29 563.81L329.2 563.9L329.11 563.99L329.02 564.07L328.93 564.15L328.84 564.21L328.74 564.27L328.65 564.33L328.55 564.37L328.45 564.41L328.36 564.43L328.26 564.45L328.16 564.47L328.07 564.47L327.97 564.47L327.88 564.45L327.79 564.43L327.7 564.41L327.61 564.37L327.52 564.32L327.44 564.27L327.36 564.21L327.28 564.15L327.2 564.07L327.13 563.99L327.06 563.9L327 563.81L326.94 563.71L326.88 563.6L326.83 563.49L326.78 563.37L326.73 563.25L326.69 563.12L326.66 562.98L326.63 562.85L326.6 562.71L326.58 562.56L326.57 562.42L326.56 562.27L326.55 562.11L326.55 561.96L326.56 561.81L326.57 561.65L326.58 561.5L326.6 561.34L326.63 561.19L326.66 561.03L326.69 560.88L326.73 560.73L326.77 560.58L326.82 560.43L326.87 560.29L326.93 560.15L326.99 560.01L327.06 559.88L327.13 559.75L327.2 559.63L327.27 559.51L327.35 559.4L327.43 559.29L327.51 559.19L327.6 559.1L327.69 559.01L327.78 558.93L327.87 558.85L327.96 558.79L328.06 558.73L328.15 558.67L328.25 558.63L328.35 558.59L328.44 558.57L328.54 558.55L328.64 558.53L328.73 558.53L328.83 558.53L328.92 558.55L329.01 558.57L329.1 558.59L329.19 558.63L329.28 558.68L329.36 558.73L329.44 558.79L329.52 558.85L329.6 558.93L329.67 559.01L329.74 559.1L329.8 559.19L329.86 559.29L329.92 559.4L329.97 559.51L330.02 559.63L330.07 559.75L330.11 559.88L330.14 560.02L330.17 560.15L330.2 560.29L330.22 560.44L330.23 560.58L330.24 560.73L330.25 560.89L330.25 561.04L330.24 561.19L330.23 561.35L330.22 561.5L330.2 561.66Z" fill="#f4f4f4" stroke="#888" stroke-width=".4"/>
<rect x="358.2" y="319.8" width="74.9" height="74.8" fill="none" stroke="#9a9a9a" stroke-width="0.9"/>
<path d="M358.2 394.6h-2.6M358.2 375.9h-2.6M358.2 357.2h-2.6M358.2 338.5h-2.6M358.2 319.8h-2.6" fill="none" stroke="#222" stroke-width="0.9"/>
<path d="M358.2 390.86h-1.4M358.2 387.12h-1.4M358.2 383.38h-1.4M358.2 379.64h-1.4M358.2 372.16h-1.4M358.2 368.42h-1.4M358.2 364.68h-1.4M358.2 360.94h-1.4M358.2 353.46h-1.4M358.2 349.72h-1.4M358.2 345.98h-1.4M358.2 342.24h-1.4M358.2 334.76h-1.4M358.2 331.02h-1.4M358.2 327.28h-1.4M358.2 323.54h-1.4" fill="none" stroke="#777" stroke-width="0.6"/>
<path d="M358.2 394.6v2.6M376.93 394.6v2.6M395.65 394.6v2.6M414.38 394.6v2.6M433.1 394.6v2.6" fill="none" stroke="#222" stroke-width="0.9"/>
<path d="M361.94 394.6v1.4M365.69 394.6v1.4M369.44 394.6v1.4M373.18 394.6v1.4M380.67 394.6v1.4M384.42 394.6v1.4M388.16 394.6v1.4M391.91 394.6v1.4M399.39 394.6v1.4M403.14 394.6v1.4M406.88 394.6v1.4M410.63 394.6v1.4M418.12 394.6v1.4M421.87 394.6v1.4M425.61 394.6v1.4M429.36 394.6v1.4" fill="none" stroke="#777" stroke-width="0.6"/>
<line x1="358.2" y1="319.8" x2="358.2" y2="394.6" stroke="#555" stroke-width="0.6"/>
<line x1="358.2" y1="394.6" x2="433.1" y2="394.6" stroke="#555" stroke-width="0.6"/>
<rect x="358.2" y="413.3" width="74.9" height="73.9" fill="none" stroke="#9a9a9a" stroke-width="0.9"/>
<path d="M358.2 487.2h-2.6M358.2 468.73h-2.6M358.2 450.25h-2.6M358.2 431.77h-2.6M358.2 413.3h-2.6" fill="none" stroke="#222" stroke-width="0.9"/>
<path d="M358.2 483.5h-1.4M358.2 479.81h-1.4M358.2 476.12h-1.4M358.2 472.42h-1.4M358.2 465.03h-1.4M358.2 461.34h-1.4M358.2 457.64h-1.4M358.2 453.95h-1.4M358.2 446.56h-1.4M358.2 442.86h-1.4M358.2 439.17h-1.4M358.2 435.47h-1.4M358.2 428.08h-1.4M358.2 424.38h-1.4M358.2 420.69h-1.4M358.2 417h-1.4" fill="none" stroke="#777" stroke-width="0.6"/>
<path d="M358.2 487.2v2.6M376.93 487.2v2.6M395.65 487.2v2.6M414.38 487.2v2.6M433.1 487.2v2.6" fill="none" stroke="#222" stroke-width="0.9"/>
<path d="M361.94 487.2v1.4M365.69 487.2v1.4M369.44 487.2v1.4M373.18 487.2v1.4M380.67 487.2v1.4M384.42 487.2v1.4M388.16 487.2v1.4M391.91 487.2v1.4M399.39 487.2v1.4M403.14 487.2v1.4M406.88 487.2v1.4M410.63 487.2v1.4M418.12 487.2v1.4M421.87 487.2v1.4M425.61 487.2v1.4M429.36 487.2v1.4" fill="none" stroke="#777" stroke-width="0.6"/>
<line x1="358.2" y1="413.3" x2="358.2" y2="487.2" stroke="#555" stroke-width="0.6"/>
<line x1="358.2" y1="487.2" x2="433.1" y2="487.2" stroke="#555" stroke-width="0.6"/>
<rect x="438.2" y="319.8" width="74.6" height="74.8" fill="none" stroke="#9a9a9a" stroke-width="0.9"/>
<path d="M438.2 394.6h-2.6M438.2 375.9h-2.6M438.2 357.2h-2.6M438.2 338.5h-2.6M438.2 319.8h-2.6" fill="none" stroke="#222" stroke-width="0.9"/>
<path d="M438.2 390.86h-1.4M438.2 387.12h-1.4M438.2 383.38h-1.4M438.2 379.64h-1.4M438.2 372.16h-1.4M438.2 368.42h-1.4M438.2 364.68h-1.4M438.2 360.94h-1.4M438.2 353.46h-1.4M438.2 349.72h-1.4M438.2 345.98h-1.4M438.2 342.24h-1.4M438.2 334.76h-1.4M438.2 331.02h-1.4M438.2 327.28h-1.4M438.2 323.54h-1.4" fill="none" stroke="#777" stroke-width="0.6"/>
<path d="M438.2 394.6v2.6M456.85 394.6v2.6M475.5 394.6v2.6M494.15 394.6v2.6M512.8 394.6v2.6" fill="none" stroke="#222" stroke-width="0.9"/>
<path d="M441.93 394.6v1.4M445.66 394.6v1.4M449.39 394.6v1.4M453.12 394.6v1.4M460.58 394.6v1.4M464.31 394.6v1.4M468.04 394.6v1.4M471.77 394.6v1.4M479.23 394.6v1.4M482.96 394.6v1.4M486.69 394.6v1.4M490.42 394.6v1.4M497.88 394.6v1.4M501.61 394.6v1.4M505.34 394.6v1.4M509.07 394.6v1.4" fill="none" stroke="#777" stroke-width="0.6"/>
<line x1="438.2" y1="319.8" x2="438.2" y2="394.6" stroke="#555" stroke-width="0.6"/>
<line x1="438.2" y1="394.6" x2="512.8" y2="394.6" stroke="#555" stroke-width="0.6"/>
<rect x="438.2" y="413.3" width="74.6" height="73.9" fill="none" stroke="#9a9a9a" stroke-width="0.9"/>
<path d="M438.2 487.2h-2.6M438.2 468.73h-2.6M438.2 450.25h-2.6M438.2 431.77h-2.6M438.2 413.3h-2.6" fill="none" stroke="#222" stroke-width="0.9"/>
<path d="M438.2 483.5h-1.4M438.2 479.81h-1.4M438.2 476.12h-1.4M438.2 472.42h-1.4M438.2 465.03h-1.4M438.2 461.34h-1.4M438.2 457.64h-1.4M438.2 453.95h-1.4M438.2 446.56h-1.4M438.2 442.86h-1.4M438.2 439.17h-1.4M438.2 435.47h-1.4M438.2 428.08h-1.4M438.2 424.38h-1.4M438.2 420.69h-1.4M438.2 417h-1.4" fill="none" stroke="#777" stroke-width="0.6"/>
<path d="M438.2 487.2v2.6M456.85 487.2v2.6M475.5 487.2v2.6M494.15 487.2v2.6M512.8 487.2v2.6" fill="none" stroke="#222" stroke-width="0.9"/>
<path d="M441.93 487.2v1.4M445.66 487.2v1.4M449.39 487.2v1.4M453.12 487.2v1.4M460.58 487.2v1.4M464.31 487.2v1.4M468.04 487.2v1.4M471.77 487.2v1.4M479.23 487.2v1.4M482.96 487.2v1.4M486.69 487.2v1.4M490.42 487.2v1.4M497.88 487.2v1.4M501.61 487.2v1.4M505.34 487.2v1.4M509.07 487.2v1.4" fill="none" stroke="#777" stroke-width="0.6"/>
<line x1="438.2" y1="413.3" x2="438.2" y2="487.2" stroke="#555" stroke-width="0.6"/>
<line x1="438.2" y1="487.2" x2="512.8" y2="487.2" stroke="#555" stroke-width="0.6"/>
<text x="378" y="315.6" font-size="9.6" textLength="31.2" lengthAdjust="spacingAndGlyphs" stroke="#231f20" stroke-width="0.25">Control</text>
<text x="460.4" y="315.6" font-size="9.6" textLength="25" lengthAdjust="spacingAndGlyphs" stroke="#231f20" stroke-width="0.25">NICD1</text>
<rect x="369.6" y="331.4" width="32.7" height="27.4" fill="none" stroke="#2a2a2a" stroke-width="1.2"/>
<rect x="388.4" y="358.8" width="13.5" height="34.2" fill="none" stroke="#2a2a2a" stroke-width="1.2"/>
<text x="406" y="339.9" font-size="8.2" textLength="8.2" lengthAdjust="spacingAndGlyphs" stroke="#231f20" stroke-width="0.21">FO</text>
<text x="406" y="350.7" font-size="8.2" textLength="18.8" lengthAdjust="spacingAndGlyphs" stroke="#231f20" stroke-width="0.21">74.6%</text>
<text x="406" y="374.7" font-size="8.2" textLength="8.6" lengthAdjust="spacingAndGlyphs" stroke="#231f20" stroke-width="0.21">MZ</text>
<text x="406" y="385.4" font-size="8.2" textLength="18.8" lengthAdjust="spacingAndGlyphs" stroke="#231f20" stroke-width="0.21">11.6%</text>
<rect x="365.4" y="421.3" width="39.2" height="22.9" fill="none" stroke="#2a2a2a" stroke-width="1.2"/>
<rect x="404.6" y="421.3" width="17.3" height="22.9" fill="none" stroke="#2a2a2a" stroke-width="1.2"/>
<rect x="404.6" y="444.2" width="17.3" height="41.2" fill="none" stroke="#2a2a2a" stroke-width="1.2"/>
<text x="370.6" y="420.4" font-size="8.2" textLength="6.4" lengthAdjust="spacingAndGlyphs" stroke="#231f20" stroke-width="0.21">M</text>
<text x="406.6" y="420.4" font-size="8.2" textLength="8.4" lengthAdjust="spacingAndGlyphs" stroke="#231f20" stroke-width="0.21">T2</text>
<text x="367.8" y="431.2" font-size="8.2" textLength="18.6" lengthAdjust="spacingAndGlyphs" stroke="#231f20" stroke-width="0.21">53.9%</text>
<text x="405.1" y="431.2" font-size="8.2" textLength="18.8" lengthAdjust="spacingAndGlyphs" stroke="#231f20" stroke-width="0.21">16.2%</text>
<text x="407.6" y="472.9" font-size="8.2" textLength="20.4" lengthAdjust="spacingAndGlyphs" stroke="#231f20" stroke-width="0.21">MZ/T1</text>
<text x="408.4" y="482.7" font-size="8.2" textLength="15.5" lengthAdjust="spacingAndGlyphs" stroke="#231f20" stroke-width="0.21">9.8%</text>
<rect x="449.6" y="331.4" width="32.7" height="27.4" fill="none" stroke="#2a2a2a" stroke-width="1.2"/>
<rect x="468.4" y="358.8" width="13.5" height="34.2" fill="none" stroke="#2a2a2a" stroke-width="1.2"/>
<text x="486" y="339.9" font-size="8.2" textLength="8.2" lengthAdjust="spacingAndGlyphs" stroke="#231f20" stroke-width="0.21">FO</text>
<text x="486" y="350.7" font-size="8.2" textLength="18.8" lengthAdjust="spacingAndGlyphs" stroke="#231f20" stroke-width="0.21">71.5%</text>
<text x="486" y="374.7" font-size="8.2" textLength="8.6" lengthAdjust="spacingAndGlyphs" stroke="#231f20" stroke-width="0.21">MZ</text>
<text x="486" y="385.4" font-size="8.2" textLength="18.8" lengthAdjust="spacingAndGlyphs" stroke="#231f20" stroke-width="0.21">14.5%</text>
<rect x="445.4" y="421.3" width="39.2" height="22.9" fill="none" stroke="#2a2a2a" stroke-width="1.2"/>
<rect x="484.6" y="421.3" width="17.3" height="22.9" fill="none" stroke="#2a2a2a" stroke-width="1.2"/>
<rect x="484.6" y="444.2" width="17.3" height="41.2" fill="none" stroke="#2a2a2a" stroke-width="1.2"/>
<text x="450.6" y="420.4" font-size="8.2" textLength="6.4" lengthAdjust="spacingAndGlyphs" stroke="#231f20" stroke-width="0.21">M</text>
<text x="486.6" y="420.4" font-size="8.2" textLength="8.4" lengthAdjust="spacingAndGlyphs" stroke="#231f20" stroke-width="0.21">T2</text>
<text x="447.8" y="431.2" font-size="8.2" textLength="18.6" lengthAdjust="spacingAndGlyphs" stroke="#231f20" stroke-width="0.21">55.6%</text>
<text x="485.1" y="431.2" font-size="8.2" textLength="18.8" lengthAdjust="spacingAndGlyphs" stroke="#231f20" stroke-width="0.21">16.8%</text>
<text x="487.6" y="472.9" font-size="8.2" textLength="20.4" lengthAdjust="spacingAndGlyphs" stroke="#231f20" stroke-width="0.21">MZ/T1</text>
<text x="488.4" y="482.7" font-size="8.2" textLength="18.6" lengthAdjust="spacingAndGlyphs" stroke="#231f20" stroke-width="0.21">11.1%</text>
<text transform="translate(352.7 352.95) rotate(-90)" font-size="10.6" text-anchor="middle" textLength="21.9" lengthAdjust="spacingAndGlyphs" stroke="#231f20" stroke-width="0.28">CD23</text>
<text transform="translate(351.6 447.8) rotate(-90)" font-size="10.4" text-anchor="middle" textLength="14.5" lengthAdjust="spacingAndGlyphs" stroke="#231f20" stroke-width="0.27">IgD</text>
<text x="365" y="407.1" font-size="10.6" textLength="21.1" lengthAdjust="spacingAndGlyphs" stroke="#231f20" stroke-width="0.28">CD21</text>
<line x1="386.2" y1="403.8" x2="507" y2="403.8" stroke="#231f20" stroke-width="1.1"/>
<polygon points="510.8,403.8 506.64,401.85 506.64,405.75" fill="#231f20"/>
<text x="359.6" y="500.4" font-size="10.2" textLength="15.6" lengthAdjust="spacingAndGlyphs" stroke="#231f20" stroke-width="0.27">IgM</text>
<line x1="381" y1="496.6" x2="506" y2="496.6" stroke="#231f20" stroke-width="1.1"/>
<polygon points="509.8,496.6 505.64,494.65 505.64,498.55" fill="#231f20"/>
<rect x="43.4" y="391.9" width="75.4" height="74.1" fill="none" stroke="#9a9a9a" stroke-width="0.9"/>
<path d="M43.4 466h-2.6M43.4 447.48h-2.6M43.4 428.95h-2.6M43.4 410.42h-2.6M43.4 391.9h-2.6" fill="none" stroke="#222" stroke-width="0.9"/>
<path d="M43.4 462.3h-1.4M43.4 458.59h-1.4M43.4 454.88h-1.4M43.4 451.18h-1.4M43.4 443.77h-1.4M43.4 440.06h-1.4M43.4 436.36h-1.4M43.4 432.66h-1.4M43.4 425.25h-1.4M43.4 421.54h-1.4M43.4 417.83h-1.4M43.4 414.13h-1.4M43.4 406.72h-1.4M43.4 403.01h-1.4M43.4 399.31h-1.4M43.4 395.6h-1.4" fill="none" stroke="#777" stroke-width="0.6"/>
<path d="M43.4 466v2.6M62.25 466v2.6M81.1 466v2.6M99.95 466v2.6M118.8 466v2.6" fill="none" stroke="#222" stroke-width="0.9"/>
<path d="M47.17 466v1.4M50.94 466v1.4M54.71 466v1.4M58.48 466v1.4M66.02 466v1.4M69.79 466v1.4M73.56 466v1.4M77.33 466v1.4M84.87 466v1.4M88.64 466v1.4M92.41 466v1.4M96.18 466v1.4M103.72 466v1.4M107.49 466v1.4M111.26 466v1.4M115.03 466v1.4" fill="none" stroke="#777" stroke-width="0.6"/>
<line x1="43.4" y1="391.9" x2="43.4" y2="466" stroke="#555" stroke-width="0.6"/>
<line x1="43.4" y1="466" x2="118.8" y2="466" stroke="#555" stroke-width="0.6"/>
<rect x="43.4" y="472.3" width="75.4" height="74.1" fill="none" stroke="#9a9a9a" stroke-width="0.9"/>
<path d="M43.4 546.4h-2.6M43.4 527.88h-2.6M43.4 509.35h-2.6M43.4 490.82h-2.6M43.4 472.3h-2.6" fill="none" stroke="#222" stroke-width="0.9"/>
<path d="M43.4 542.69h-1.4M43.4 538.99h-1.4M43.4 535.28h-1.4M43.4 531.58h-1.4M43.4 524.17h-1.4M43.4 520.47h-1.4M43.4 516.76h-1.4M43.4 513.06h-1.4M43.4 505.65h-1.4M43.4 501.94h-1.4M43.4 498.24h-1.4M43.4 494.53h-1.4M43.4 487.12h-1.4M43.4 483.41h-1.4M43.4 479.71h-1.4M43.4 476h-1.4" fill="none" stroke="#777" stroke-width="0.6"/>
<path d="M43.4 546.4v2.6M62.25 546.4v2.6M81.1 546.4v2.6M99.95 546.4v2.6M118.8 546.4v2.6" fill="none" stroke="#222" stroke-width="0.9"/>
<path d="M47.17 546.4v1.4M50.94 546.4v1.4M54.71 546.4v1.4M58.48 546.4v1.4M66.02 546.4v1.4M69.79 546.4v1.4M73.56 546.4v1.4M77.33 546.4v1.4M84.87 546.4v1.4M88.64 546.4v1.4M92.41 546.4v1.4M96.18 546.4v1.4M103.72 546.4v1.4M107.49 546.4v1.4M111.26 546.4v1.4M115.03 546.4v1.4" fill="none" stroke="#777" stroke-width="0.6"/>
<line x1="43.4" y1="472.3" x2="43.4" y2="546.4" stroke="#555" stroke-width="0.6"/>
<line x1="43.4" y1="546.4" x2="118.8" y2="546.4" stroke="#555" stroke-width="0.6"/>
<rect x="43.4" y="552.8" width="75.4" height="74.9" fill="none" stroke="#9a9a9a" stroke-width="0.9"/>
<path d="M43.4 627.7h-2.6M43.4 608.98h-2.6M43.4 590.25h-2.6M43.4 571.52h-2.6M43.4 552.8h-2.6" fill="none" stroke="#222" stroke-width="0.9"/>
<path d="M43.4 623.96h-1.4M43.4 620.21h-1.4M43.4 616.47h-1.4M43.4 612.72h-1.4M43.4 605.23h-1.4M43.4 601.49h-1.4M43.4 597.74h-1.4M43.4 594h-1.4M43.4 586.5h-1.4M43.4 582.76h-1.4M43.4 579.01h-1.4M43.4 575.27h-1.4M43.4 567.78h-1.4M43.4 564.03h-1.4M43.4 560.29h-1.4M43.4 556.54h-1.4" fill="none" stroke="#777" stroke-width="0.6"/>
<path d="M43.4 627.7v2.6M62.25 627.7v2.6M81.1 627.7v2.6M99.95 627.7v2.6M118.8 627.7v2.6" fill="none" stroke="#222" stroke-width="0.9"/>
<path d="M47.17 627.7v1.4M50.94 627.7v1.4M54.71 627.7v1.4M58.48 627.7v1.4M66.02 627.7v1.4M69.79 627.7v1.4M73.56 627.7v1.4M77.33 627.7v1.4M84.87 627.7v1.4M88.64 627.7v1.4M92.41 627.7v1.4M96.18 627.7v1.4M103.72 627.7v1.4M107.49 627.7v1.4M111.26 627.7v1.4M115.03 627.7v1.4" fill="none" stroke="#777" stroke-width="0.6"/>
<line x1="43.4" y1="552.8" x2="43.4" y2="627.7" stroke="#555" stroke-width="0.6"/>
<line x1="43.4" y1="627.7" x2="118.8" y2="627.7" stroke="#555" stroke-width="0.6"/>
<rect x="123.8" y="391.9" width="75.5" height="74.1" fill="none" stroke="#9a9a9a" stroke-width="0.9"/>
<path d="M123.8 466h-2.6M123.8 447.48h-2.6M123.8 428.95h-2.6M123.8 410.42h-2.6M123.8 391.9h-2.6" fill="none" stroke="#222" stroke-width="0.9"/>
<path d="M123.8 462.3h-1.4M123.8 458.59h-1.4M123.8 454.88h-1.4M123.8 451.18h-1.4M123.8 443.77h-1.4M123.8 440.06h-1.4M123.8 436.36h-1.4M123.8 432.66h-1.4M123.8 425.25h-1.4M123.8 421.54h-1.4M123.8 417.83h-1.4M123.8 414.13h-1.4M123.8 406.72h-1.4M123.8 403.01h-1.4M123.8 399.31h-1.4M123.8 395.6h-1.4" fill="none" stroke="#777" stroke-width="0.6"/>
<path d="M123.8 466v2.6M142.68 466v2.6M161.55 466v2.6M180.43 466v2.6M199.3 466v2.6" fill="none" stroke="#222" stroke-width="0.9"/>
<path d="M127.58 466v1.4M131.35 466v1.4M135.12 466v1.4M138.9 466v1.4M146.45 466v1.4M150.23 466v1.4M154 466v1.4M157.78 466v1.4M165.33 466v1.4M169.1 466v1.4M172.88 466v1.4M176.65 466v1.4M184.2 466v1.4M187.98 466v1.4M191.75 466v1.4M195.53 466v1.4" fill="none" stroke="#777" stroke-width="0.6"/>
<line x1="123.8" y1="391.9" x2="123.8" y2="466" stroke="#555" stroke-width="0.6"/>
<line x1="123.8" y1="466" x2="199.3" y2="466" stroke="#555" stroke-width="0.6"/>
<rect x="123.8" y="472.3" width="75.5" height="74.1" fill="none" stroke="#9a9a9a" stroke-width="0.9"/>
<path d="M123.8 546.4h-2.6M123.8 527.88h-2.6M123.8 509.35h-2.6M123.8 490.82h-2.6M123.8 472.3h-2.6" fill="none" stroke="#222" stroke-width="0.9"/>
<path d="M123.8 542.69h-1.4M123.8 538.99h-1.4M123.8 535.28h-1.4M123.8 531.58h-1.4M123.8 524.17h-1.4M123.8 520.47h-1.4M123.8 516.76h-1.4M123.8 513.06h-1.4M123.8 505.65h-1.4M123.8 501.94h-1.4M123.8 498.24h-1.4M123.8 494.53h-1.4M123.8 487.12h-1.4M123.8 483.41h-1.4M123.8 479.71h-1.4M123.8 476h-1.4" fill="none" stroke="#777" stroke-width="0.6"/>
<path d="M123.8 546.4v2.6M142.68 546.4v2.6M161.55 546.4v2.6M180.43 546.4v2.6M199.3 546.4v2.6" fill="none" stroke="#222" stroke-width="0.9"/>
<path d="M127.58 546.4v1.4M131.35 546.4v1.4M135.12 546.4v1.4M138.9 546.4v1.4M146.45 546.4v1.4M150.23 546.4v1.4M154 546.4v1.4M157.78 546.4v1.4M165.33 546.4v1.4M169.1 546.4v1.4M172.88 546.4v1.4M176.65 546.4v1.4M184.2 546.4v1.4M187.98 546.4v1.4M191.75 546.4v1.4M195.53 546.4v1.4" fill="none" stroke="#777" stroke-width="0.6"/>
<line x1="123.8" y1="472.3" x2="123.8" y2="546.4" stroke="#555" stroke-width="0.6"/>
<line x1="123.8" y1="546.4" x2="199.3" y2="546.4" stroke="#555" stroke-width="0.6"/>
<rect x="123.8" y="552.8" width="75.5" height="74.9" fill="none" stroke="#9a9a9a" stroke-width="0.9"/>
<path d="M123.8 627.7h-2.6M123.8 608.98h-2.6M123.8 590.25h-2.6M123.8 571.52h-2.6M123.8 552.8h-2.6" fill="none" stroke="#222" stroke-width="0.9"/>
<path d="M123.8 623.96h-1.4M123.8 620.21h-1.4M123.8 616.47h-1.4M123.8 612.72h-1.4M123.8 605.23h-1.4M123.8 601.49h-1.4M123.8 597.74h-1.4M123.8 594h-1.4M123.8 586.5h-1.4M123.8 582.76h-1.4M123.8 579.01h-1.4M123.8 575.27h-1.4M123.8 567.78h-1.4M123.8 564.03h-1.4M123.8 560.29h-1.4M123.8 556.54h-1.4" fill="none" stroke="#777" stroke-width="0.6"/>
<path d="M123.8 627.7v2.6M142.68 627.7v2.6M161.55 627.7v2.6M180.43 627.7v2.6M199.3 627.7v2.6" fill="none" stroke="#222" stroke-width="0.9"/>
<path d="M127.58 627.7v1.4M131.35 627.7v1.4M135.12 627.7v1.4M138.9 627.7v1.4M146.45 627.7v1.4M150.23 627.7v1.4M154 627.7v1.4M157.78 627.7v1.4M165.33 627.7v1.4M169.1 627.7v1.4M172.88 627.7v1.4M176.65 627.7v1.4M184.2 627.7v1.4M187.98 627.7v1.4M191.75 627.7v1.4M195.53 627.7v1.4" fill="none" stroke="#777" stroke-width="0.6"/>
<line x1="123.8" y1="552.8" x2="123.8" y2="627.7" stroke="#555" stroke-width="0.6"/>
<line x1="123.8" y1="627.7" x2="199.3" y2="627.7" stroke="#555" stroke-width="0.6"/>
<text x="64" y="387.8" font-size="9.6" textLength="31.2" lengthAdjust="spacingAndGlyphs" stroke="#231f20" stroke-width="0.25">Control</text>
<text x="147" y="387.8" font-size="9.6" textLength="25" lengthAdjust="spacingAndGlyphs" stroke="#231f20" stroke-width="0.25">NICD1</text>
<rect x="72.8" y="427.9" width="17" height="16.4" fill="none" stroke="#2a2a2a" stroke-width="1.2"/>
<rect x="75.7" y="505.7" width="19.6" height="19.9" fill="none" stroke="#2a2a2a" stroke-width="1.2"/>
<rect x="77.5" y="565.4" width="27.1" height="26.3" fill="none" stroke="#2a2a2a" stroke-width="1.2"/>
<rect x="153.2" y="427.9" width="17" height="16.4" fill="none" stroke="#2a2a2a" stroke-width="1.2"/>
<rect x="156.1" y="505.7" width="19.6" height="19.9" fill="none" stroke="#2a2a2a" stroke-width="1.2"/>
<rect x="157.9" y="565.4" width="27.1" height="26.3" fill="none" stroke="#2a2a2a" stroke-width="1.2"/>
<text x="72.7" y="417.2" font-size="8.2" textLength="19.8" lengthAdjust="spacingAndGlyphs" stroke="#231f20" stroke-width="0.21">0.25%</text>
<text x="152.7" y="417.2" font-size="8.2" textLength="19.8" lengthAdjust="spacingAndGlyphs" stroke="#231f20" stroke-width="0.21">0.54%</text>
<text x="75.7" y="494.5" font-size="8.2" textLength="19.6" lengthAdjust="spacingAndGlyphs" stroke="#231f20" stroke-width="0.21">1.12%</text>
<text x="155.7" y="494.5" font-size="8.2" textLength="19.8" lengthAdjust="spacingAndGlyphs" stroke="#231f20" stroke-width="0.21">1.27%</text>
<text x="77.9" y="562.9" font-size="8.2" textLength="20.2" lengthAdjust="spacingAndGlyphs" stroke="#231f20" stroke-width="0.21">0.19%</text>
<text x="158.6" y="562.9" font-size="8.2" textLength="20.2" lengthAdjust="spacingAndGlyphs" stroke="#231f20" stroke-width="0.21">0.20%</text>
<line x1="102.2" y1="413.9" x2="148.8" y2="413.9" stroke="#231f20" stroke-width="1.1"/>
<circle cx="102.2" cy="413.9" r="1" fill="#231f20"/>
<circle cx="148.8" cy="413.9" r="1" fill="#231f20"/>
<line x1="105" y1="491.3" x2="152.2" y2="491.3" stroke="#231f20" stroke-width="1.1"/>
<circle cx="105" cy="491.3" r="1" fill="#231f20"/>
<circle cx="152.2" cy="491.3" r="1" fill="#231f20"/>
<line x1="107.7" y1="560" x2="155.1" y2="560" stroke="#231f20" stroke-width="1.1"/>
<circle cx="107.7" cy="560" r="1" fill="#231f20"/>
<circle cx="155.1" cy="560" r="1" fill="#231f20"/>
<circle cx="124.9" cy="409.7" r=".75" fill="#333"/><circle cx="127" cy="409.9" r=".75" fill="#333"/>
<text x="125" y="488.6" font-size="7.6" textLength="10.6" lengthAdjust="spacingAndGlyphs" stroke="#231f20" stroke-width="0.2">n.s.</text>
<text x="125.7" y="558" font-size="7.6" textLength="10.4" lengthAdjust="spacingAndGlyphs" stroke="#231f20" stroke-width="0.2">n.s.</text>
<text transform="translate(39 428.1) rotate(-90)" font-size="10.6" text-anchor="middle" textLength="22.2" lengthAdjust="spacingAndGlyphs" stroke="#231f20" stroke-width="0.28">CD95</text>
<text transform="translate(39 509.5) rotate(-90)" font-size="10.6" text-anchor="middle" textLength="22.2" lengthAdjust="spacingAndGlyphs" stroke="#231f20" stroke-width="0.28">CD80</text>
<text transform="translate(39 589.2) rotate(-90)" font-size="10.6" text-anchor="middle" textLength="28.4" lengthAdjust="spacingAndGlyphs" stroke="#231f20" stroke-width="0.28">CD138</text>
<text x="46.4" y="639.2" font-size="10.2" textLength="16.2" lengthAdjust="spacingAndGlyphs" stroke="#231f20" stroke-width="0.27">RFP</text>
<line x1="64.8" y1="636.5" x2="195.5" y2="636.5" stroke="#231f20" stroke-width="1.1"/>
<polygon points="199.4,636.5 195.24,634.55 195.24,638.45" fill="#231f20"/>
<line x1="250.2" y1="405.6" x2="250.2" y2="480.9" stroke="#231f20" stroke-width="1.2"/>
<line x1="249.7" y1="480.4" x2="296.6" y2="480.4" stroke="#231f20" stroke-width="1.2"/>
<path d="M250.2 480.4h-3M250.2 468.37h-3M250.2 456.34h-3M250.2 444.31h-3M250.2 432.28h-3M250.2 420.25h-3M250.2 408.22h-3M261.2 480.4v2.8M282.3 480.4v2.8M293.4 480.4v2.8" fill="none" stroke="#231f20" stroke-width="1"/>
<text x="243.3" y="483.3" font-size="8.4" text-anchor="end" stroke="#231f20" stroke-width="0.22">0</text>
<text x="243.3" y="471.27" font-size="8.4" text-anchor="end" textLength="10" lengthAdjust="spacingAndGlyphs" stroke="#231f20" stroke-width="0.22">0.1</text>
<text x="243.3" y="459.24" font-size="8.4" text-anchor="end" textLength="10" lengthAdjust="spacingAndGlyphs" stroke="#231f20" stroke-width="0.22">0.2</text>
<text x="243.3" y="447.21" font-size="8.4" text-anchor="end" textLength="10" lengthAdjust="spacingAndGlyphs" stroke="#231f20" stroke-width="0.22">0.3</text>
<text x="243.3" y="435.18" font-size="8.4" text-anchor="end" textLength="10" lengthAdjust="spacingAndGlyphs" stroke="#231f20" stroke-width="0.22">0.4</text>
<text x="243.3" y="423.15" font-size="8.4" text-anchor="end" textLength="10" lengthAdjust="spacingAndGlyphs" stroke="#231f20" stroke-width="0.22">0.5</text>
<text x="243.3" y="411.12" font-size="8.4" text-anchor="end" textLength="10" lengthAdjust="spacingAndGlyphs" stroke="#231f20" stroke-width="0.22">0.6</text>
<rect x="255.5" y="451.3" width="11.6" height="29.1" fill="#a5012b" stroke="#8c0021" stroke-width="0.6"/>
<line x1="261.2" y1="451.3" x2="261.2" y2="441.3" stroke="#231f20" stroke-width="1"/>
<line x1="259.4" y1="441.3" x2="263" y2="441.3" stroke="#231f20" stroke-width="1"/>
<rect x="277.2" y="416.2" width="11.6" height="64.2" fill="#2e4a7f" stroke="#243f6e" stroke-width="0.6"/>
<line x1="282.9" y1="416.2" x2="282.9" y2="409.2" stroke="#231f20" stroke-width="1"/>
<line x1="281.1" y1="409.2" x2="284.7" y2="409.2" stroke="#231f20" stroke-width="1"/>
<path d="M260.6 404.6V402.3H283.3V404.6" fill="none" stroke="#231f20" stroke-width="1"/>
<text x="271.2" y="402" font-size="7.6" text-anchor="middle" stroke="#231f20" stroke-width="0.2">*</text>
<text transform="translate(229.8 482.4) rotate(-90)" font-size="9.4" textLength="84" lengthAdjust="spacingAndGlyphs" stroke="#231f20" stroke-width="0.24">RFP<tspan dy="-3.2" font-size="6">+</tspan><tspan dy="3.2"> CD95</tspan><tspan dy="-3.2" font-size="6">+</tspan><tspan dy="3.2"> B cells</tspan><tspan dy="2.5" font-size="7">%</tspan></text>
<text x="245.2" y="494.2" font-size="8.4" textLength="26.2" lengthAdjust="spacingAndGlyphs" stroke="#231f20" stroke-width="0.22">Control</text>
<text x="275.3" y="494.2" font-size="8.4" textLength="20.8" lengthAdjust="spacingAndGlyphs" stroke="#231f20" stroke-width="0.22">NICD1</text>
<rect x="231.1" y="537.2" width="74.3" height="74.6" fill="none" stroke="#9a9a9a" stroke-width="0.9"/>
<path d="M231.1 611.8h-2.6M231.1 593.15h-2.6M231.1 574.5h-2.6M231.1 555.85h-2.6M231.1 537.2h-2.6" fill="none" stroke="#222" stroke-width="0.9"/>
<path d="M231.1 608.07h-1.4M231.1 604.34h-1.4M231.1 600.61h-1.4M231.1 596.88h-1.4M231.1 589.42h-1.4M231.1 585.69h-1.4M231.1 581.96h-1.4M231.1 578.23h-1.4M231.1 570.77h-1.4M231.1 567.04h-1.4M231.1 563.31h-1.4M231.1 559.58h-1.4M231.1 552.12h-1.4M231.1 548.39h-1.4M231.1 544.66h-1.4M231.1 540.93h-1.4" fill="none" stroke="#777" stroke-width="0.6"/>
<path d="M231.1 611.8v2.6M249.67 611.8v2.6M268.25 611.8v2.6M286.82 611.8v2.6M305.4 611.8v2.6" fill="none" stroke="#222" stroke-width="0.9"/>
<path d="M234.81 611.8v1.4M238.53 611.8v1.4M242.25 611.8v1.4M245.96 611.8v1.4M253.39 611.8v1.4M257.1 611.8v1.4M260.82 611.8v1.4M264.53 611.8v1.4M271.96 611.8v1.4M275.68 611.8v1.4M279.39 611.8v1.4M283.11 611.8v1.4M290.54 611.8v1.4M294.25 611.8v1.4M297.97 611.8v1.4M301.69 611.8v1.4" fill="none" stroke="#777" stroke-width="0.6"/>
<line x1="231.1" y1="537.2" x2="231.1" y2="611.8" stroke="#555" stroke-width="0.6"/>
<line x1="231.1" y1="611.8" x2="305.4" y2="611.8" stroke="#555" stroke-width="0.6"/>
<rect x="310.4" y="537.2" width="75.5" height="74.6" fill="none" stroke="#9a9a9a" stroke-width="0.9"/>
<path d="M310.4 611.8h-2.6M310.4 593.15h-2.6M310.4 574.5h-2.6M310.4 555.85h-2.6M310.4 537.2h-2.6" fill="none" stroke="#222" stroke-width="0.9"/>
<path d="M310.4 608.07h-1.4M310.4 604.34h-1.4M310.4 600.61h-1.4M310.4 596.88h-1.4M310.4 589.42h-1.4M310.4 585.69h-1.4M310.4 581.96h-1.4M310.4 578.23h-1.4M310.4 570.77h-1.4M310.4 567.04h-1.4M310.4 563.31h-1.4M310.4 559.58h-1.4M310.4 552.12h-1.4M310.4 548.39h-1.4M310.4 544.66h-1.4M310.4 540.93h-1.4" fill="none" stroke="#777" stroke-width="0.6"/>
<path d="M310.4 611.8v2.6M329.27 611.8v2.6M348.15 611.8v2.6M367.02 611.8v2.6M385.9 611.8v2.6" fill="none" stroke="#222" stroke-width="0.9"/>
<path d="M314.17 611.8v1.4M317.95 611.8v1.4M321.72 611.8v1.4M325.5 611.8v1.4M333.05 611.8v1.4M336.82 611.8v1.4M340.6 611.8v1.4M344.38 611.8v1.4M351.92 611.8v1.4M355.7 611.8v1.4M359.47 611.8v1.4M363.25 611.8v1.4M370.8 611.8v1.4M374.57 611.8v1.4M378.35 611.8v1.4M382.12 611.8v1.4" fill="none" stroke="#777" stroke-width="0.6"/>
<line x1="310.4" y1="537.2" x2="310.4" y2="611.8" stroke="#555" stroke-width="0.6"/>
<line x1="310.4" y1="611.8" x2="385.9" y2="611.8" stroke="#555" stroke-width="0.6"/>
<line x1="231.1" y1="570.2" x2="385.9" y2="570.2" stroke="#222" stroke-width="1.4"/>
<text x="251.2" y="534.6" font-size="9.6" textLength="31.2" lengthAdjust="spacingAndGlyphs" stroke="#231f20" stroke-width="0.25">Control</text>
<text x="333.6" y="534.6" font-size="9.6" textLength="25.6" lengthAdjust="spacingAndGlyphs" stroke="#231f20" stroke-width="0.25">NICD1</text>
<text x="263.4" y="547.9" font-size="8.2" textLength="20.4" lengthAdjust="spacingAndGlyphs" stroke="#231f20" stroke-width="0.21">67.1%</text>
<text x="343.2" y="547.9" font-size="8.2" textLength="19.7" lengthAdjust="spacingAndGlyphs" stroke="#231f20" stroke-width="0.21">51.3%</text>
<text transform="translate(227 569.2) rotate(-90)" font-size="10.4" text-anchor="middle" textLength="41.6" lengthAdjust="spacingAndGlyphs" stroke="#231f20" stroke-width="0.27">Annexin V</text>
<text x="231.1" y="624.7" font-size="10.2" textLength="20.1" lengthAdjust="spacingAndGlyphs" stroke="#231f20" stroke-width="0.27">DAPI</text>
<line x1="256" y1="621.4" x2="381.5" y2="621.4" stroke="#231f20" stroke-width="1.1"/>
<polygon points="385.4,621.4 381.24,619.45 381.24,623.35" fill="#231f20"/>
<line x1="442.5" y1="532" x2="442.5" y2="608" stroke="#231f20" stroke-width="1.2"/>
<line x1="442" y1="607.5" x2="487.2" y2="607.5" stroke="#231f20" stroke-width="1.2"/>
<path d="M442.5 607.5h-3M442.5 589.4h-3M442.5 571.3h-3M442.5 553.2h-3M442.5 535.1h-3M453.3 607.5v2.8M475 607.5v2.8M485.8 607.5v2.8" fill="none" stroke="#231f20" stroke-width="1"/>
<text x="437.6" y="610.5" font-size="8.4" text-anchor="end" stroke="#231f20" stroke-width="0.22">0</text>
<text x="437.6" y="592.4" font-size="8.4" text-anchor="end" stroke="#231f20" stroke-width="0.22">20</text>
<text x="437.6" y="574.3" font-size="8.4" text-anchor="end" stroke="#231f20" stroke-width="0.22">40</text>
<text x="437.6" y="556.2" font-size="8.4" text-anchor="end" stroke="#231f20" stroke-width="0.22">60</text>
<text x="437.6" y="538.1" font-size="8.4" text-anchor="end" stroke="#231f20" stroke-width="0.22">80</text>
<rect x="447.9" y="547" width="11.1" height="60.5" fill="#a5012b" stroke="#8c0021" stroke-width="0.6"/>
<line x1="453.4" y1="547" x2="453.4" y2="544.5" stroke="#231f20" stroke-width="1"/>
<line x1="451.6" y1="544.5" x2="455.2" y2="544.5" stroke="#231f20" stroke-width="1"/>
<rect x="469.5" y="561.3" width="11.1" height="46.2" fill="#2e4a7f" stroke="#243f6e" stroke-width="0.6"/>
<line x1="475" y1="561.3" x2="475" y2="555.5" stroke="#231f20" stroke-width="1"/>
<line x1="473.2" y1="555.5" x2="476.8" y2="555.5" stroke="#231f20" stroke-width="1"/>
<path d="M452.5 537.2V535H475.8V537.2" fill="none" stroke="#231f20" stroke-width="1"/>
<text x="463.8" y="535" font-size="7.6" text-anchor="middle" stroke="#231f20" stroke-width="0.2">*</text>
<text transform="translate(411.8 592.6) rotate(-90)" font-size="9.4" textLength="46.4" lengthAdjust="spacingAndGlyphs" stroke="#231f20" stroke-width="0.24">Annexin V<tspan dy="-3.2" font-size="6">+</tspan></text>
<text transform="translate(423 616.4) rotate(-90)" font-size="9.4" textLength="92.6" lengthAdjust="spacingAndGlyphs" stroke="#231f20" stroke-width="0.24">CD95<tspan dy="-3.2" font-size="6">+</tspan><tspan dy="3.2"> RFP</tspan><tspan dy="-3.2" font-size="6">+</tspan><tspan dy="3.2"> B cells</tspan><tspan dy="1.6" font-size="7.4">%</tspan></text>
<text x="440" y="618.8" font-size="8.4" textLength="26.2" lengthAdjust="spacingAndGlyphs" stroke="#231f20" stroke-width="0.22">Control</text>
<text x="469.5" y="618.8" font-size="8.4" textLength="21.7" lengthAdjust="spacingAndGlyphs" stroke="#231f20" stroke-width="0.22">NICD1</text>
</g>
</svg></body></html>
